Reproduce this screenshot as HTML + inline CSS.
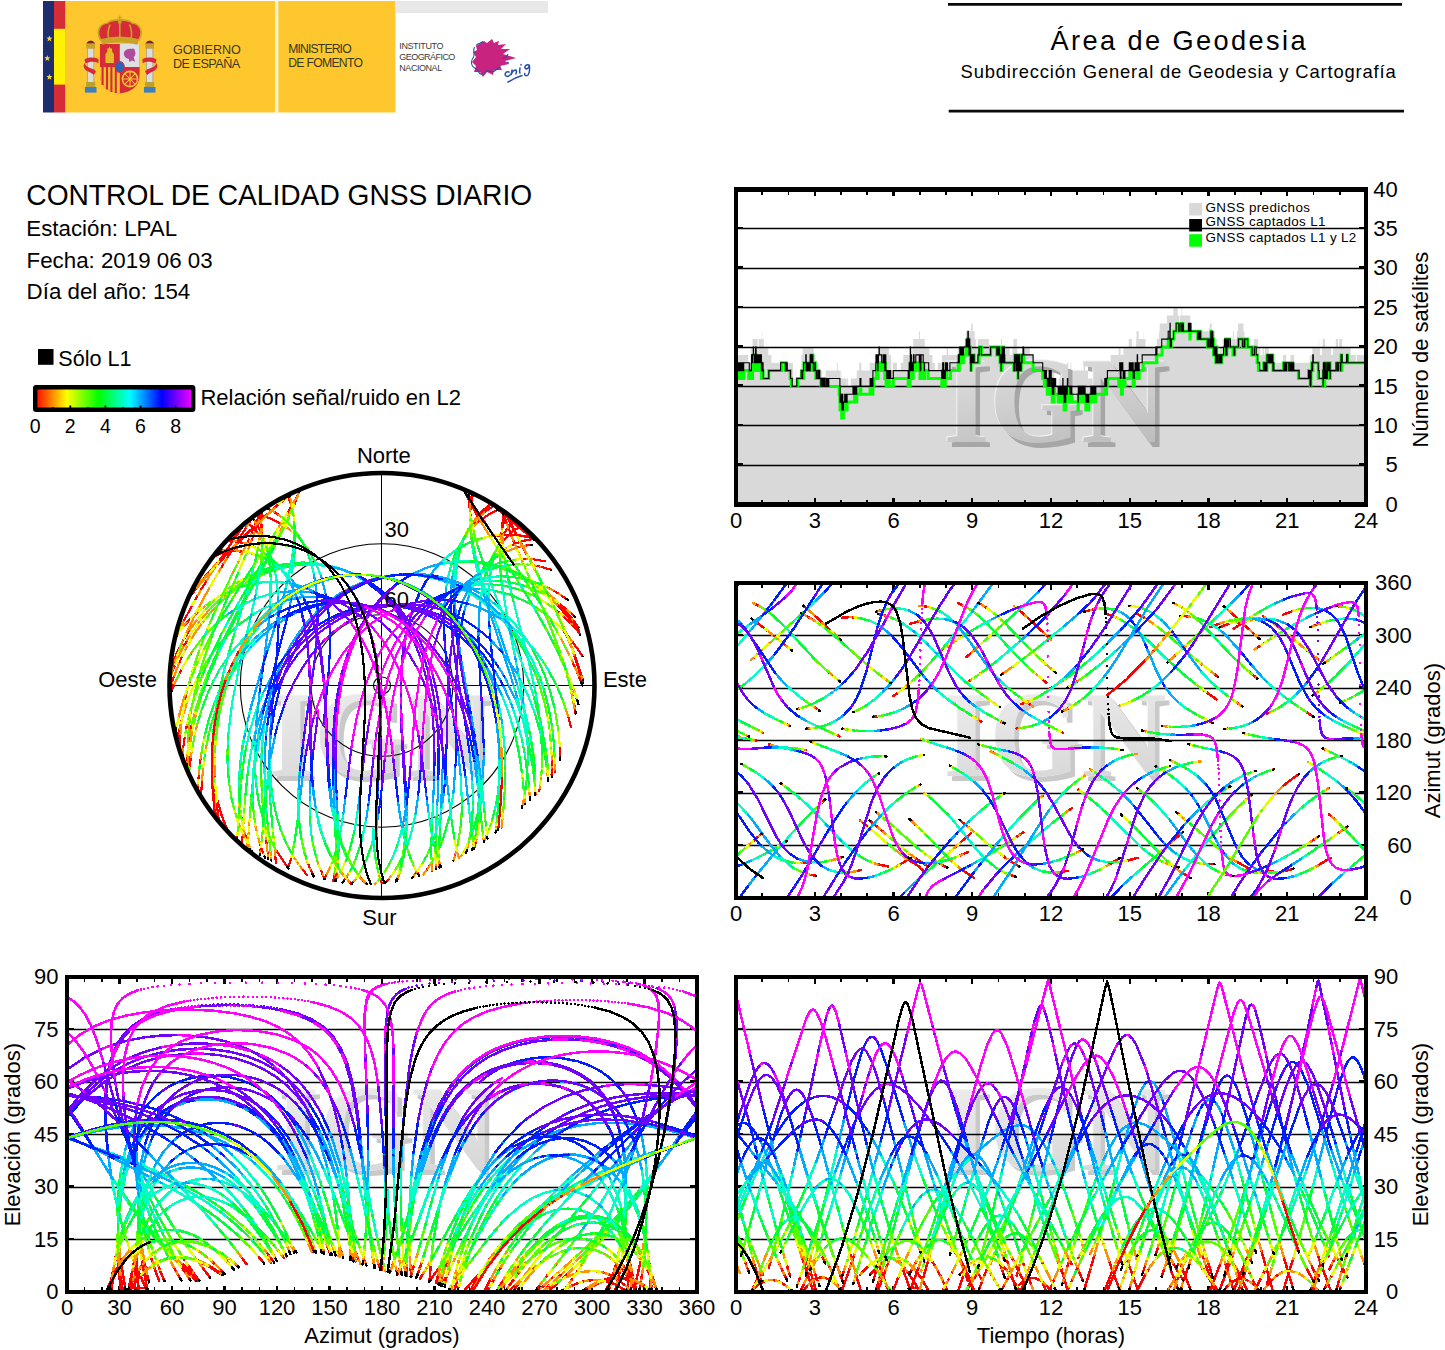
<!DOCTYPE html>
<html lang="es"><head><meta charset="utf-8"><title>Control de calidad GNSS diario - LPAL</title>
<style>
html,body{margin:0;padding:0;background:#fff}
body{width:1445px;height:1350px;position:relative;overflow:hidden;font-family:"Liberation Sans",sans-serif;color:#000}
svg{position:absolute;left:0;top:0}
.t{position:absolute;white-space:nowrap;line-height:1;font-family:"Liberation Sans",sans-serif}
</style></head><body>
<svg width="1445" height="1350" viewBox="0 0 1445 1350">
<defs><linearGradient id="wmg" x1="0" y1="0" x2="0.25" y2="1"><stop offset="0" stop-color="#e6e6e6"/><stop offset="0.55" stop-color="#d0d0d0"/><stop offset="1" stop-color="#bcbcbc"/></linearGradient><linearGradient id="wmw" x1="0" y1="0" x2="0.25" y2="1"><stop offset="0" stop-color="#f1f1f1"/><stop offset="0.55" stop-color="#e2e2e2"/><stop offset="1" stop-color="#d6d6d6"/></linearGradient><linearGradient id="rb" x1="0" y1="0" x2="1" y2="0"><stop offset="0.0" stop-color="#ff0000"/><stop offset="0.1" stop-color="#ff8000"/><stop offset="0.2" stop-color="#ffff00"/><stop offset="0.3" stop-color="#80ff00"/><stop offset="0.4" stop-color="#00ff00"/><stop offset="0.5" stop-color="#00ff80"/><stop offset="0.6" stop-color="#00ffff"/><stop offset="0.7" stop-color="#0080ff"/><stop offset="0.8" stop-color="#0000ff"/><stop offset="0.9" stop-color="#8000ff"/><stop offset="1.0" stop-color="#ff00ff"/></linearGradient></defs>
<path d="M736 354.9H748.2V362.8H750.7V347H752.6V339.1H757.7V347H758.8V339.1H761.8V331.2H762.2V339.1H763.8V347H768.4V354.9H771.4V362.8H792.9V370.6H793.3V378.5H795.1V370.6H795.5V378.5H800.5V370.6H801.2V362.8H801.4V354.9H802.7V347H813.7V354.9H815.6V362.8H816.5V370.6H822V378.5H825.7V370.6H836.8V362.8H837.7V370.6H840.6V378.5H841.7V370.6H842.1V378.5H846.7V386.4H847.1V378.5H848.2V386.4H850.8V378.5H856.8V370.6H859.2V362.8H861.3V370.6H869.7V362.8H875.3V354.9H877.8V347H888.9V354.9H891.1V362.8H891.3V370.6H892.8V362.8H897V370.6H900.7V362.8H903.3V354.9H909.7V347H911.2V354.9H912.3V347H913.2V339.1H919.1V331.2H920V339.1H924.8V347H929.4V354.9H932.4V362.8H934.8V370.6H937.7V362.8H942.1V354.9H946.7V347H948.2V354.9H957.8V347H965.7V339.1H965.9V331.2H971.2V323.4H972.7V331.2H974.7V339.1H975.8V347H977.9V339.1H988.9V347H1000.9V339.1H1002V347H1009.7V354.9H1012.3V347H1013.4V339.1H1016.9V347H1017.3V354.9H1020.2V362.8H1020.8V354.9H1022.6V347H1029.8V354.9H1034.2V362.8H1046.8V370.6H1048.8V362.8H1052.1V370.6H1054.3V378.5H1056.5V386.4H1058.7V378.5H1060V370.6H1067V362.8H1068.3V370.6H1070.5V362.8H1071.3V370.6H1083.6V362.8H1085.1V370.6H1088V378.5H1097.2V386.4H1104.4V378.5H1106.3V370.6H1107V362.8H1110.7V354.9H1118.6V347H1120.6V354.9H1123.4V347H1128.7V339.1H1131.9V347H1136.1V339.1H1136.5V331.2H1138.7V339.1H1143.3V331.2H1143.5V339.1H1145.5V347H1156.7V339.1H1159.1V331.2H1159.7V323.4H1166.9V315.5H1173.3V307.6H1177.7V315.5H1179.2V323.4H1179.8V315.5H1181.6V307.6H1182.2V315.5H1190.3V323.4H1191.4V331.2H1209.6V323.4H1211.8V331.2H1215.1V339.1H1217.5V347H1217.7V354.9H1220.1V347H1222.7V339.1H1233.2V331.2H1234.1V339.1H1236.9V331.2H1238V323.4H1243.5V331.2H1244.4V339.1H1248.1V347H1253.8V339.1H1258.2V347H1260.3V354.9H1262.5V347H1263.8V354.9H1264.7V347H1268.7V354.9H1273.2V362.8H1282.9V354.9H1286.2V362.8H1290.5V354.9H1294.2V362.8H1309.8V354.9H1310.9V362.8H1311.1V354.9H1312.4V347H1318.8V339.1H1319.2V347H1320.1V354.9H1321.8V347H1322.7V339.1H1325.1V347H1331.2V354.9H1333V347H1335.8V339.1H1338V347H1339.3V339.1H1342.2V347H1350.7V354.9H1355.7V362.8H1356.8V354.9H1366V504.5H736Z" fill="#d9d9d9"/>
<g font-family="Liberation Serif,serif" font-weight="bold" font-size="118" aria-hidden="true" transform="translate(0,442) scale(1,1.035) translate(0,-442)"><text x="948.1" y="446.6" fill="#a6a6a6">IGN</text><text x="942.6" y="441.1" fill="#f2f2f2">IGN</text><text x="943.5" y="442" fill="url(#wmg)">IGN</text></g>
<g shape-rendering="crispEdges"><path d="M736,465.5H1366M736,425.5H1366M736,386.5H1366M736,347.5H1366M736,307.5H1366M736,268.5H1366M736,228.5H1366" stroke="#000" stroke-width="1.3" fill="none" shape-rendering="auto"/><rect x="736" y="189.5" width="630" height="315.0" fill="none" stroke="#000" stroke-width="4.4"/><path d="M762.2,189.5v5M762.2,504.5v-5M788.5,189.5v5M788.5,504.5v-5M841.0,189.5v5M841.0,504.5v-5M867.2,189.5v5M867.2,504.5v-5M919.8,189.5v5M919.8,504.5v-5M946.0,189.5v5M946.0,504.5v-5M998.5,189.5v5M998.5,504.5v-5M1024.8,189.5v5M1024.8,504.5v-5M1077.2,189.5v5M1077.2,504.5v-5M1103.5,189.5v5M1103.5,504.5v-5M1156.0,189.5v5M1156.0,504.5v-5M1182.2,189.5v5M1182.2,504.5v-5M1234.8,189.5v5M1234.8,504.5v-5M1261.0,189.5v5M1261.0,504.5v-5M1313.5,189.5v5M1313.5,504.5v-5M1339.8,189.5v5M1339.8,504.5v-5" stroke="#000" stroke-width="1.8" fill="none"/><path d="M814.8,189.5v6.5M814.8,504.5v-6.5M893.5,189.5v6.5M893.5,504.5v-6.5M972.2,189.5v6.5M972.2,504.5v-6.5M1051.0,189.5v6.5M1051.0,504.5v-6.5M1129.8,189.5v6.5M1129.8,504.5v-6.5M1208.5,189.5v6.5M1208.5,504.5v-6.5M1287.2,189.5v6.5M1287.2,504.5v-6.5M736,464.3h7M1366,464.3h-7M736,424.9h7M1366,424.9h-7M736,385.6h7M1366,385.6h-7M736,346.2h7M1366,346.2h-7M736,306.8h7M1366,306.8h-7M736,267.4h7M1366,267.4h-7M736,228.1h7M1366,228.1h-7" stroke="#000" stroke-width="2.4" fill="none"/></g>
<path d="M736 370.6H736.7V378.5H737.3V370.6H737.5V378.5H738.2V370.6H738.4V378.5H738.6V370.6H738.8V378.5H739.3V370.6H739.5V378.5H739.7V370.6H739.9V378.5H742.3V370.6H742.8V378.5H743.2V370.6H743.4V378.5H743.7V370.6H748.7V378.5H751.3V370.6H751.8V378.5H752.2V370.6H752.4V378.5H752.6V370.6H752.8V362.8H753.3V354.9H753.5V362.8H754.4V370.6H754.8V362.8H755V370.6H755.2V362.8H755.5V354.9H755.7V362.8H755.9V354.9H756.1V370.6H756.3V362.8H756.6V370.6H756.8V362.8H757V370.6H757.2V362.8H757.4V370.6H757.7V362.8H757.9V370.6H758.3V362.8H759.4V370.6H759.8V362.8H760.1V370.6H760.5V362.8H760.7V370.6H760.9V362.8H761.4V378.5H761.6V370.6H761.8V378.5H762.5V370.6H763.1V378.5H768.8V370.6H781.5V362.8H785.4V370.6H785.7V362.8H786.1V370.6H790.2V378.5H791.3V386.4H797.5V378.5H801.6V370.6H802.5V378.5H802.7V370.6H803.4V378.5H803.6V370.6H804V362.8H806.2V370.6H806.7V362.8H807.3V370.6H807.5V362.8H808.2V370.6H808.4V362.8H808.6V370.6H809.1V362.8H809.5V370.6H809.7V362.8H809.9V370.6H810.2V362.8H810.6V370.6H810.8V362.8H811.2V354.9H811.9V362.8H812.3V354.9H812.8V362.8H813.4V370.6H814.8V362.8H815.4V370.6H815.8V378.5H816.5V370.6H816.7V378.5H818V370.6H818.7V378.5H820.9V386.4H821.5V378.5H821.8V386.4H822V378.5H822.2V386.4H822.4V378.5H823.3V386.4H823.7V378.5H823.9V386.4H824.4V378.5H824.6V386.4H839.2V394.2H839.9V402.1H840.1V410H841.7V417.9H842.3V410H843.2V417.9H843.4V410H844.7V402.1H845.4V410H845.6V402.1H845.8V410H846.2V402.1H846.9V410H847.1V402.1H854.6V394.2H855.4V402.1H855.7V394.2H856.1V402.1H856.3V394.2H856.5V402.1H856.8V394.2H860V386.4H860.9V394.2H870.1V386.4H870.3V394.2H870.8V386.4H871V394.2H871.2V386.4H871.4V394.2H871.8V386.4H872.1V394.2H872.3V386.4H872.7V394.2H872.9V386.4H873.6V378.5H876.4V370.6H877.1V362.8H877.3V370.6H877.5V362.8H877.8V378.5H878V370.6H878.4V362.8H878.6V370.6H878.8V362.8H881.7V370.6H883.2V362.8H883.4V370.6H884.3V362.8H884.5V370.6H884.8V378.5H885V362.8H885.4V370.6H885.8V378.5H886.1V386.4H886.3V378.5H886.7V386.4H886.9V378.5H887.2V386.4H887.8V378.5H888.9V386.4H889.1V378.5H889.3V386.4H893.3V378.5H908.2V386.4H908.4V378.5H908.6V386.4H909.2V378.5H909.5V386.4H909.9V378.5H910.1V370.6H910.3V362.8H910.6V378.5H911V362.8H911.4V378.5H912.3V370.6H912.5V378.5H912.8V370.6H913V378.5H913.2V370.6H913.4V362.8H913.6V370.6H913.8V362.8H914.1V370.6H915.8V362.8H919.3V370.6H919.5V362.8H920V378.5H920.2V370.6H920.4V378.5H920.8V370.6H921.1V362.8H923.2V370.6H923.9V378.5H924.6V370.6H928.1V378.5H941.8V386.4H942.7V370.6H942.9V378.5H943.4V370.6H943.8V386.4H944.2V378.5H944.5V386.4H944.7V378.5H944.9V386.4H945.3V378.5H945.6V370.6H946V378.5H946.2V370.6H946.4V378.5H946.7V370.6H946.9V378.5H950.6V370.6H958.2V362.8H958.7V370.6H958.9V362.8H959.1V370.6H959.3V362.8H959.8V354.9H960.2V362.8H960.4V354.9H960.9V362.8H961.1V354.9H961.3V362.8H961.5V354.9H961.8V362.8H962.2V354.9H962.8V362.8H963.5V354.9H966.1V347H966.3V354.9H966.6V347H967.2V354.9H967.4V347H967.7V354.9H967.9V339.1H968.3V354.9H968.5V347H968.8V354.9H969.4V347H969.8V354.9H970.1V347H970.3V354.9H970.5V362.8H970.9V370.6H971.2V362.8H971.6V354.9H972.7V362.8H973.1V354.9H973.3V362.8H973.8V354.9H974.2V362.8H979V354.9H979.5V347H981.4V354.9H990.6V347H996.8V354.9H997V347H997.6V354.9H998.1V347H998.3V354.9H998.7V347H999.2V354.9H999.4V347H999.6V354.9H1000V362.8H1000.5V354.9H1000.7V362.8H1000.9V354.9H1001.1V370.6H1001.3V362.8H1001.8V370.6H1002V354.9H1003.1V362.8H1003.3V347H1003.5V362.8H1013.8V370.6H1014V362.8H1014.5V370.6H1014.7V354.9H1014.9V362.8H1015.6V370.6H1016V362.8H1016.2V370.6H1016.4V362.8H1016.7V354.9H1016.9V362.8H1017.3V354.9H1017.5V370.6H1018V378.5H1018.2V362.8H1018.4V370.6H1018.6V354.9H1018.8V362.8H1019.1V354.9H1019.5V362.8H1019.7V370.6H1020.4V362.8H1020.8V370.6H1021.2V362.8H1021.5V354.9H1021.7V362.8H1022.1V354.9H1023.7V362.8H1033.1V370.6H1042.7V378.5H1044.4V386.4H1044.9V378.5H1045.8V386.4H1046.2V378.5H1046.4V386.4H1047.3V394.2H1047.5V386.4H1047.7V394.2H1048.6V386.4H1048.8V394.2H1049V386.4H1049.2V378.5H1049.5V394.2H1049.9V378.5H1050.1V386.4H1050.6V378.5H1050.8V386.4H1051V378.5H1051.2V394.2H1051.4V386.4H1051.7V394.2H1051.9V386.4H1052.3V402.1H1052.5V394.2H1053.2V386.4H1053.6V402.1H1053.8V394.2H1054.3V386.4H1054.5V394.2H1058.2V402.1H1058.4V394.2H1058.7V402.1H1058.9V394.2H1059.1V402.1H1060V394.2H1060.4V402.1H1061.1V394.2H1061.7V402.1H1062.4V394.2H1062.8V386.4H1063V402.1H1063.5V394.2H1063.7V402.1H1064.1V410H1064.6V394.2H1064.8V410H1065V402.1H1065.2V394.2H1065.4V410H1065.7V402.1H1066.1V394.2H1066.5V402.1H1066.8V394.2H1067V402.1H1067.2V394.2H1067.6V386.4H1067.8V394.2H1069.8V402.1H1070.5V394.2H1070.9V402.1H1071.1V394.2H1071.3V402.1H1071.6V394.2H1071.8V402.1H1078.1V410H1078.3V394.2H1078.6V402.1H1079.2V394.2H1079.7V402.1H1080.1V394.2H1080.8V402.1H1081V394.2H1081.4V402.1H1081.6V394.2H1081.8V402.1H1082.5V394.2H1082.7V402.1H1084.9V394.2H1085.1V402.1H1085.8V410H1086.2V402.1H1086.7V410H1087.8V402.1H1088.4V410H1088.8V402.1H1090.8V394.2H1091.7V402.1H1092.6V394.2H1092.8V402.1H1093.2V394.2H1093.4V402.1H1093.9V394.2H1094.3V402.1H1094.5V394.2H1094.8V402.1H1095V394.2H1095.6V402.1H1095.8V394.2H1105.2V386.4H1105.9V394.2H1106.6V386.4H1107.4V378.5H1118.8V386.4H1119.7V378.5H1120.3V386.4H1120.6V378.5H1120.8V386.4H1121V378.5H1121.2V386.4H1121.4V394.2H1121.7V386.4H1122.1V394.2H1122.3V386.4H1122.5V378.5H1123.2V386.4H1123.4V378.5H1123.8V386.4H1124.3V378.5H1124.7V386.4H1124.9V378.5H1129.8V370.6H1130V378.5H1130.2V370.6H1130.4V378.5H1130.6V370.6H1130.8V378.5H1131.1V370.6H1131.3V378.5H1131.7V370.6H1132.4V378.5H1133V370.6H1133.2V386.4H1133.5V378.5H1134.1V386.4H1134.3V378.5H1135V370.6H1135.4V378.5H1135.7V370.6H1135.9V378.5H1136.1V370.6H1136.5V378.5H1136.8V370.6H1137.6V378.5H1137.8V370.6H1138.3V378.5H1138.5V370.6H1138.7V378.5H1139.2V370.6H1143.1V362.8H1156.4V354.9H1156.7V362.8H1156.9V354.9H1162.1V347H1168.2V339.1H1170V347H1170.4V339.1H1170.7V347H1171.3V339.1H1173.9V331.2H1177V323.4H1177.4V331.2H1181.2V323.4H1181.6V331.2H1181.8V323.4H1182.9V331.2H1189.9V339.1H1190.1V331.2H1197.6V339.1H1197.8V331.2H1198.4V339.1H1198.7V331.2H1199.5V339.1H1200.4V331.2H1200.6V339.1H1207.4V347H1207.6V339.1H1208.1V347H1208.3V339.1H1208.5V347H1209.8V339.1H1210V347H1210.2V339.1H1210.7V347H1210.9V331.2H1211.1V339.1H1211.3V347H1211.6V339.1H1211.8V347H1212V339.1H1212.2V347H1212.7V339.1H1212.9V347H1213.3V339.1H1213.5V354.9H1213.8V347H1214.2V354.9H1214.8V347H1215.1V354.9H1215.7V362.8H1215.9V354.9H1216.2V347H1216.4V362.8H1216.6V347H1216.8V362.8H1217.5V354.9H1218.1V362.8H1220.1V354.9H1220.5V362.8H1221.4V354.9H1221.6V362.8H1221.8V354.9H1224.9V347H1225.6V339.1H1225.8V354.9H1226V347H1226.2V339.1H1226.4V354.9H1226.9V347H1227.1V339.1H1227.5V347H1227.8V339.1H1228.4V347H1228.8V339.1H1229.3V347H1233V354.9H1233.7V347H1233.9V354.9H1234.8V347H1238.5V339.1H1242.2V347H1244.2V339.1H1244.6V347H1244.8V339.1H1247.7V347H1251.6V354.9H1254.4V347H1255.1V354.9H1257.1V362.8H1258.4V370.6H1263.6V362.8H1264.1V370.6H1264.5V362.8H1264.7V370.6H1264.9V362.8H1265.4V370.6H1265.8V362.8H1266.2V370.6H1266.9V362.8H1267.1V354.9H1268.4V362.8H1269.3V354.9H1270V362.8H1270.2V354.9H1270.6V362.8H1271.1V354.9H1271.3V362.8H1271.5V354.9H1271.7V362.8H1271.9V354.9H1272.4V362.8H1272.6V354.9H1272.8V362.8H1273V370.6H1283.5V362.8H1284.6V370.6H1284.8V362.8H1285.3V370.6H1285.7V362.8H1285.9V370.6H1286.6V362.8H1288.8V370.6H1289V362.8H1289.2V370.6H1289.9V362.8H1290.8V370.6H1291V362.8H1291.4V370.6H1291.8V362.8H1292.1V370.6H1292.3V362.8H1292.5V370.6H1298.4V378.5H1308.5V370.6H1308.7V378.5H1309.1V370.6H1309.3V378.5H1310.2V386.4H1310.4V378.5H1310.7V386.4H1310.9V378.5H1311.1V370.6H1311.8V362.8H1312.4V370.6H1312.8V362.8H1318.3V378.5H1323.1V386.4H1323.3V370.6H1323.6V386.4H1324V370.6H1324.2V378.5H1324.4V386.4H1324.7V370.6H1324.9V362.8H1325.3V378.5H1325.5V370.6H1326.4V378.5H1326.8V362.8H1327.1V378.5H1327.3V370.6H1327.7V362.8H1327.9V370.6H1328.4V362.8H1328.6V370.6H1329.2V362.8H1329.5V370.6H1329.9V362.8H1330.1V378.5H1330.3V370.6H1336.7V362.8H1337.3V370.6H1337.6V362.8H1338V370.6H1338.4V362.8H1339.8V370.6H1340.2V362.8H1340.4V370.6H1340.8V362.8H1341.1V354.9H1341.5V362.8H1341.7V370.6H1341.9V362.8H1347.4V354.9H1347.6V362.8H1366" fill="none" stroke="#00ff00" stroke-width="3"/><path d="M736 362.8H736.7V370.6H737.3V362.8H737.5V370.6H738.2V362.8H738.4V370.6H738.6V362.8H738.8V370.6H739.3V362.8H739.5V370.6H739.7V362.8H739.9V370.6H741V362.8H741.2V370.6H741.5V362.8H741.7V370.6H741.9V362.8H742.1V370.6H742.3V362.8H742.8V370.6H743.2V362.8H743.4V370.6H743.7V362.8H749.3V370.6H751.3V362.8H751.5V354.9H751.8V362.8H752.2V354.9H752.4V362.8H752.6V354.9H753.3V347H753.5V354.9H754.4V362.8H754.8V354.9H755V362.8H755.2V354.9H755.5V347H755.7V354.9H755.9V347H756.1V362.8H756.3V354.9H756.6V362.8H756.8V354.9H757V362.8H757.2V354.9H757.4V362.8H757.7V354.9H757.9V362.8H758.3V354.9H759.4V362.8H759.8V354.9H760.1V362.8H760.5V354.9H760.7V362.8H760.9V354.9H761.4V370.6H761.6V362.8H761.8V370.6H762.5V362.8H763.1V370.6H763.3V378.5H768.8V370.6H780.6V362.8H785.4V370.6H785.7V362.8H786.1V370.6H786.8V362.8H787.2V370.6H790.5V378.5H792.2V386.4H796.8V378.5H801.2V370.6H802.5V378.5H802.7V370.6H803.6V362.8H805.8V354.9H806.2V370.6H806.4V362.8H807.3V370.6H807.5V362.8H808.2V370.6H808.4V362.8H808.6V370.6H809.1V362.8H809.5V370.6H809.7V362.8H809.9V370.6H810.2V354.9H810.6V362.8H810.8V354.9H811V362.8H811.2V354.9H811.9V362.8H812.3V354.9H812.8V362.8H813.4V370.6H814.8V362.8H815.4V370.6H816.3V378.5H816.5V370.6H816.7V378.5H818V370.6H818.7V378.5H819.3V370.6H819.8V378.5H820.9V386.4H821.5V378.5H821.8V386.4H822V378.5H822.2V386.4H822.4V378.5H823.3V386.4H823.7V378.5H823.9V386.4H824.4V378.5H824.6V386.4H824.8V378.5H825.2V386.4H826.6V378.5H827V386.4H827.7V378.5H828.5V386.4H828.8V378.5H839.9V386.4H840.1V402.1H840.6V394.2H840.8V402.1H841V394.2H841.2V402.1H841.7V410H842.3V394.2H842.8V402.1H843.2V410H843.4V402.1H844.7V394.2H845.4V402.1H845.6V394.2H845.8V402.1H846.2V394.2H846.9V402.1H847.1V394.2H853V386.4H853.2V394.2H853.5V386.4H853.7V394.2H854.6V386.4H855.4V394.2H855.7V386.4H856.1V394.2H856.3V386.4H856.5V394.2H856.8V386.4H860V378.5H860.9V386.4H870.1V378.5H870.3V386.4H870.8V378.5H871V386.4H871.2V378.5H871.4V386.4H871.8V378.5H872.1V386.4H872.3V378.5H872.7V386.4H872.9V370.6H875.8V362.8H876V354.9H876.4V362.8H877.1V354.9H877.3V362.8H877.5V354.9H877.8V370.6H878V354.9H878.2V362.8H878.4V354.9H879.1V347H879.3V354.9H881.7V362.8H883.2V354.9H883.4V362.8H884.3V354.9H884.5V362.8H884.8V370.6H885V354.9H885.4V362.8H885.6V354.9H885.8V370.6H886.7V378.5H886.9V370.6H887.2V378.5H887.8V370.6H888.9V378.5H889.1V370.6H889.3V378.5H890.4V370.6H890.7V378.5H893.3V370.6H908.2V378.5H908.4V370.6H908.6V378.5H908.8V370.6H909V378.5H909.2V362.8H909.5V370.6H910.1V362.8H910.3V347H910.6V370.6H911V354.9H911.4V370.6H912.3V362.8H912.5V370.6H912.8V362.8H913V370.6H913.2V362.8H913.4V354.9H913.6V362.8H913.8V354.9H914.1V362.8H915.8V354.9H919.3V362.8H919.5V354.9H920V370.6H920.2V362.8H920.6V370.6H920.8V362.8H921.1V354.9H923.2V362.8H924.3V370.6H924.6V362.8H928.7V370.6H941.8V378.5H942.7V362.8H942.9V370.6H943.4V362.8H943.8V378.5H944.2V370.6H944.5V378.5H944.7V370.6H944.9V378.5H945.3V370.6H945.6V362.8H946V370.6H946.2V362.8H946.4V370.6H946.7V362.8H946.9V370.6H947.1V362.8H947.5V370.6H949.9V362.8H958.2V354.9H958.7V362.8H958.9V354.9H959.1V362.8H959.3V354.9H959.8V347H960.2V354.9H960.4V347H960.9V354.9H961.1V347H961.3V354.9H961.5V347H961.8V354.9H962.2V347H962.8V354.9H963.5V347H966.1V339.1H966.3V347H966.6V339.1H967.2V347H967.4V339.1H967.7V347H967.9V331.2H968.3V347H968.5V339.1H968.8V347H969V354.9H969.2V347H969.4V339.1H969.8V347H970.3V354.9H970.5V362.8H970.9V370.6H971.2V362.8H971.6V354.9H972.7V362.8H973.1V354.9H973.3V362.8H973.8V354.9H974.2V362.8H977.9V354.9H979V347H979.2V354.9H979.5V347H981.4V354.9H990.6V347H996.8V354.9H997V347H997.6V354.9H998.1V347H998.3V354.9H998.7V347H999.2V354.9H999.4V347H999.6V354.9H1000V362.8H1000.5V354.9H1000.7V362.8H1000.9V354.9H1001.1V370.6H1001.3V354.9H1001.8V362.8H1002V347H1002.2V354.9H1003.1V362.8H1003.3V347H1003.5V354.9H1003.8V362.8H1004.2V347H1004.4V354.9H1004.8V362.8H1013.8V370.6H1014V362.8H1014.5V370.6H1014.7V354.9H1014.9V362.8H1015.1V354.9H1015.6V362.8H1016.2V370.6H1016.4V362.8H1016.7V354.9H1016.9V362.8H1017.3V354.9H1017.5V370.6H1018V378.5H1018.2V362.8H1018.4V370.6H1018.6V354.9H1018.8V362.8H1019.1V354.9H1019.7V370.6H1020.4V362.8H1020.8V370.6H1021.2V362.8H1021.5V354.9H1021.7V362.8H1022.1V354.9H1023V347H1023.7V354.9H1033.1V362.8H1042.7V370.6H1044.4V378.5H1044.9V370.6H1045.8V378.5H1046.2V370.6H1046.4V378.5H1047.3V386.4H1047.5V378.5H1047.7V386.4H1048.6V378.5H1048.8V386.4H1049V378.5H1049.2V370.6H1049.5V386.4H1049.9V370.6H1050.1V378.5H1050.6V370.6H1050.8V378.5H1051V370.6H1051.2V386.4H1051.4V378.5H1051.7V386.4H1051.9V378.5H1052.3V394.2H1052.5V386.4H1053.2V378.5H1053.6V394.2H1053.8V386.4H1054.3V378.5H1054.5V386.4H1054.9V378.5H1055.6V386.4H1058.2V394.2H1058.4V386.4H1058.7V394.2H1058.9V386.4H1059.1V394.2H1060V386.4H1060.4V394.2H1061.1V386.4H1061.7V394.2H1062.2V386.4H1062.8V378.5H1063V394.2H1063.5V386.4H1063.7V394.2H1064.1V402.1H1064.6V386.4H1064.8V402.1H1065V394.2H1065.2V386.4H1065.4V402.1H1065.7V394.2H1066.1V386.4H1066.5V394.2H1066.8V386.4H1067V394.2H1067.2V386.4H1067.4V378.5H1067.8V386.4H1069.8V394.2H1070.5V386.4H1070.9V394.2H1071.1V386.4H1071.3V394.2H1071.6V386.4H1071.8V394.2H1078.1V402.1H1078.3V386.4H1078.6V394.2H1079.2V386.4H1079.7V394.2H1080.1V386.4H1080.8V394.2H1081V386.4H1081.4V394.2H1081.6V386.4H1081.8V394.2H1082.5V386.4H1082.7V394.2H1082.9V386.4H1083.2V394.2H1084V386.4H1084.2V394.2H1084.5V386.4H1084.7V394.2H1084.9V386.4H1085.1V394.2H1085.8V402.1H1086.2V394.2H1086.7V402.1H1087.8V394.2H1088.4V402.1H1088.8V394.2H1090.8V386.4H1091.7V394.2H1092.6V386.4H1092.8V394.2H1093.2V386.4H1093.4V394.2H1093.9V386.4H1094.3V394.2H1094.5V386.4H1094.8V394.2H1095V386.4H1095.6V394.2H1095.8V386.4H1104.8V378.5H1105.9V386.4H1106.6V378.5H1107.4V370.6H1119.7V362.8H1120.1V370.6H1120.3V378.5H1120.6V370.6H1120.8V378.5H1121V362.8H1121.2V370.6H1121.7V362.8H1122.1V370.6H1122.5V362.8H1122.8V370.6H1123.2V378.5H1123.4V370.6H1123.8V378.5H1124.3V370.6H1124.7V378.5H1124.9V370.6H1129.3V362.8H1129.5V370.6H1129.8V362.8H1130V370.6H1130.2V362.8H1130.4V370.6H1130.6V362.8H1130.8V370.6H1131.1V362.8H1131.3V370.6H1131.7V362.8H1132.4V370.6H1133V362.8H1133.2V378.5H1133.5V370.6H1134.1V378.5H1134.3V370.6H1135V362.8H1135.4V370.6H1135.7V362.8H1135.9V370.6H1136.1V362.8H1136.5V370.6H1136.8V362.8H1137.2V354.9H1137.6V370.6H1137.8V362.8H1138.3V370.6H1138.5V362.8H1138.7V370.6H1139.2V362.8H1142.2V354.9H1155.8V347H1156V354.9H1156.4V347H1156.7V354.9H1156.9V347H1161.7V339.1H1168.2V331.2H1169.8V339.1H1170V323.4H1170.2V347H1170.4V339.1H1171.1V347H1171.3V339.1H1173.5V331.2H1176.1V323.4H1178.8V331.2H1180.1V323.4H1181.6V331.2H1181.8V323.4H1182.9V331.2H1183.1V323.4H1183.3V331.2H1188.4V323.4H1189.2V331.2H1189.7V323.4H1189.9V331.2H1190.1V323.4H1191V331.2H1197.6V339.1H1197.8V331.2H1198.4V339.1H1198.7V331.2H1199.5V339.1H1200.4V331.2H1200.6V339.1H1207.4V347H1207.6V339.1H1208.1V347H1208.3V339.1H1208.5V347H1209.8V339.1H1210V347H1210.2V339.1H1210.7V347H1210.9V331.2H1211.1V339.1H1211.3V347H1211.6V339.1H1212V331.2H1212.2V339.1H1212.4V347H1212.7V331.2H1212.9V347H1213.3V339.1H1213.5V354.9H1213.8V347H1214.2V354.9H1214.4V347H1214.6V354.9H1214.8V347H1215.1V354.9H1215.7V362.8H1215.9V354.9H1216.2V347H1216.4V362.8H1216.6V347H1216.8V362.8H1217.5V354.9H1218.1V362.8H1219.4V354.9H1219.7V362.8H1219.9V354.9H1220.5V362.8H1221.4V354.9H1221.6V362.8H1221.8V354.9H1223.6V347H1224.5V339.1H1224.7V347H1225.1V339.1H1225.3V347H1225.6V339.1H1225.8V354.9H1226V347H1226.2V339.1H1226.4V354.9H1226.9V347H1227.1V339.1H1227.5V347H1227.8V339.1H1228.4V347H1228.8V339.1H1230.4V347H1233.9V354.9H1234.8V347H1238.5V339.1H1242.6V347H1244.2V339.1H1244.6V347H1244.8V339.1H1247.7V347H1252.2V354.9H1254.4V347H1256.2V354.9H1257.7V362.8H1259.7V370.6H1263.6V362.8H1264.1V370.6H1264.5V362.8H1264.7V370.6H1264.9V362.8H1265.4V370.6H1265.8V362.8H1266.2V370.6H1266.9V362.8H1267.1V354.9H1268.4V362.8H1269.3V354.9H1270V362.8H1270.2V354.9H1270.6V362.8H1271.1V354.9H1271.3V362.8H1271.5V354.9H1271.7V362.8H1271.9V354.9H1272.4V362.8H1272.6V354.9H1272.8V362.8H1273V370.6H1273.2V362.8H1273.5V370.6H1273.7V362.8H1273.9V370.6H1283.5V362.8H1284.6V370.6H1284.8V362.8H1285.3V370.6H1285.7V362.8H1285.9V370.6H1286.6V362.8H1288.8V370.6H1289V362.8H1289.2V370.6H1289.9V362.8H1290.8V370.6H1291V362.8H1291.4V370.6H1291.8V362.8H1292.1V370.6H1292.3V362.8H1292.5V370.6H1292.7V362.8H1293.2V370.6H1293.4V362.8H1293.8V370.6H1299.1V378.5H1308.5V370.6H1308.7V378.5H1309.1V370.6H1309.3V378.5H1310.2V386.4H1310.4V370.6H1310.7V386.4H1310.9V378.5H1311.1V370.6H1311.8V362.8H1312.4V370.6H1312.6V362.8H1312.8V354.9H1313.3V362.8H1318.3V370.6H1319.2V378.5H1322.9V370.6H1323.1V386.4H1323.3V362.8H1323.6V378.5H1324V362.8H1324.2V370.6H1324.4V378.5H1324.7V370.6H1324.9V362.8H1325.3V378.5H1325.5V370.6H1326.4V378.5H1326.8V362.8H1327.1V378.5H1327.3V370.6H1327.7V362.8H1327.9V370.6H1328.4V362.8H1328.6V370.6H1329.2V362.8H1329.5V370.6H1329.9V362.8H1330.1V378.5H1330.3V370.6H1336V362.8H1337.3V370.6H1337.6V362.8H1338V370.6H1338.4V362.8H1340.4V370.6H1340.8V362.8H1341.1V354.9H1341.5V362.8H1341.9V354.9H1342.2V362.8H1346.5V354.9H1347.8V362.8H1366" fill="none" stroke="#000" stroke-width="1.1"/>
<rect x="736" y="189.5" width="630" height="315.0" fill="none" stroke="#000" stroke-width="4.4" shape-rendering="crispEdges"/>
<rect x="1189.2" y="203" width="12.8" height="12.5" fill="#d9d9d9"/><rect x="1189.2" y="219" width="12.8" height="12.5" fill="#000"/><rect x="1189.2" y="234.2" width="12.8" height="12.5" fill="#0f0"/>
<g font-family="Liberation Serif,serif" font-weight="bold" font-size="118" aria-hidden="true" transform="translate(0,776.5) scale(1,1.035) translate(0,-776.5)"><text x="948.1" y="781.1" fill="#c9c9c9">IGN</text><text x="942.6" y="775.6" fill="#fbfbfb">IGN</text><text x="943.5" y="776.5" fill="url(#wmw)">IGN</text></g>
<g shape-rendering="crispEdges"><path d="M736,845.5H1366M736,793.5H1366M736,740.5H1366M736,688.5H1366M736,635.5H1366" stroke="#000" stroke-width="1.3" fill="none" shape-rendering="auto"/><rect x="736" y="583" width="630" height="315" fill="none" stroke="#000" stroke-width="4.4"/><path d="M762.2,583v5M762.2,898v-5M788.5,583v5M788.5,898v-5M841.0,583v5M841.0,898v-5M867.2,583v5M867.2,898v-5M919.8,583v5M919.8,898v-5M946.0,583v5M946.0,898v-5M998.5,583v5M998.5,898v-5M1024.8,583v5M1024.8,898v-5M1077.2,583v5M1077.2,898v-5M1103.5,583v5M1103.5,898v-5M1156.0,583v5M1156.0,898v-5M1182.2,583v5M1182.2,898v-5M1234.8,583v5M1234.8,898v-5M1261.0,583v5M1261.0,898v-5M1313.5,583v5M1313.5,898v-5M1339.8,583v5M1339.8,898v-5" stroke="#000" stroke-width="1.8" fill="none"/><path d="M814.8,583v6.5M814.8,898v-6.5M893.5,583v6.5M893.5,898v-6.5M972.2,583v6.5M972.2,898v-6.5M1051.0,583v6.5M1051.0,898v-6.5M1129.8,583v6.5M1129.8,898v-6.5M1208.5,583v6.5M1208.5,898v-6.5M1287.2,583v6.5M1287.2,898v-6.5M736,844.7h7M1366,844.7h-7M736,792.2h7M1366,792.2h-7M736,739.7h7M1366,739.7h-7M736,687.2h7M1366,687.2h-7M736,634.7h7M1366,634.7h-7" stroke="#000" stroke-width="2.4" fill="none"/></g>
<g fill="none" stroke-width="2.5" stroke-linecap="round" stroke-linejoin="round" shape-rendering="crispEdges"><path stroke="#ff0000" d="M779.1 845.7l.4-.2M781.1 844.6l1.9-1.2M784.1 842.7l1.8-1.1M1243.9 733.2l.7 .2M1340.4 702.4l.9-.3M910.1 623.8l8.6-2.5M1058 730.2l.7 .3M1060.6 731.6l2.4 1.2M1177 812.8l2.4 1.9M1181.4 816.3l.4 .4M1230.8 858l1.1 .7M1233.9 860l1.5 1M1236.3 861.6l11.1 6M798.6 708.7l1.5-.4M835.8 859.3l1.5-.5M840.1 857.9l2-.6M1137 613.7l8.5 4.8M1147.5 619.7l1.5 1M1201.7 664.2l1.5 1.2M1214 673.9l3.9 3M1324.4 749.2l.9 .4M942.5 649.6l1.5-1.1M947.8 646l1.5-1M951.2 643.7l1.6-1M954.8 641.4l.4-.3M1121 749.9l.2 0M802.1 863.1l11.1-1M1105.2 613.5l7 2.4M1202.8 689.5l1.5 1.1M1206.3 692.1l10.3 7.4M877.5 864.3l10.7 2.2M1181.8 616l.4 0M1183.6 616.1l4.6 .3M1306.5 712.1l6.1 4M842.8 728.7l1.3 .3M1012.1 839.8l1.5-1M1015.6 837.5l3.2-2.3M1019.5 834.8l3.9-2.7M873.6 716.7l4.4-.5M1068.1 810.9l3.5-2.6M1002.2 674.1l2.4-1.7M1006.6 671.1l1.5-1.1M811 741.7l1.6 .7M958.9 855.9l1.5-.6M961.5 854.8l.7-.2M962.8 854.3l5.3-2.4M1263.2 616.2l1.5 1M1266.7 618.5l6.8 4.8M1275.4 624.8l3.3 2.5M1280.7 628.9l1.5 1.2M1306.9 650.4l1.6 1.2M1313.9 656l1.6 1.3M1317.4 658.8l.7 .5M967.9 681.9l3.3-2.1M1067.6 687.5l1.3-.8M1070.9 685.5l1.5-1M1076.2 682.2l1.5-1M752.8 619.6l12.5 9.4M767.3 630.6l.4 .3M772.5 634.8l3.3 2.7M777.8 639.1l1.5 1.2M781.3 641.9l5 4.1M1076.8 852.4l1.5-.8M1078.8 851.4l3.7-1.9M736.2 735l1.3 .6M860 820.4l.5 .3M861.8 821.8l6.8 5.6M903.8 856.5l1.5 1.1M907.3 859l12 7.7M1210 627.3l10.3-3.9M1364 734.8l2 .9M745.2 734.8l1.1 .6M746.9 735.7l1.6 .7M869.9 820.7l8.1 6.7M880.2 829.2l2.8 2.5M915.2 858l12.6 8.2M1220.1 627.1l9.6-3.7M1231.7 622.7l.9-.3M1049.2 689.1l5.1-2.9M762.2 732.3l.9 .5M876.4 812.3l1.1 .9M932 858.8l3.3 2.1M937.2 862.2l3.3 1.9M942.5 865.2l4.4 2.2M1238.5 623.7l2.4-.7M1242 622.6l3.2-.9M1249 620.7l1.1-.2M1021.2 704.2l3.3-1.2M801.6 613.6l2.6 1.3M806.2 615.9l3.3 1.8M811.5 618.9l1.5 .9M992.4 752.2l.8 .5M994.1 753.1l.5 .3M1127.1 860.7l11-3M837.3 735.3l2.4 1.2M959.8 820.1l8.3 6.8M973.6 831.5l1.5 1.4M1003.3 856.1l3.3 2.4M1010.3 861.1l9 5.5M1310.9 626.9l.9-.4M1313.7 625.7l3.3-1.2M1319 623.8l1.5-.6M1327.3 789l.2-.1M1328.4 788.4l.2-.2M802.1 749.4l.2 0M804.9 749.9l1.1 .2M1256.2 648.3l5-3.4M1263.2 643.6l1.5-1M1324.7 662.8l1.9-1.4M1330.3 658.8l1.6-1.1M1337.3 653.7l.3-.1M1162.1 725.9l2.2 .3M1165.2 726.3l.2 0M1337.6 833.6l2.4-1.7M1341.9 830.5l5.5-3.9M1143.1 730.9l2.2 .5M1311.1 841.4l3.9-2.5M1317 837.6l1.1-.8M878.2 614l4.6 1M883.2 615.1l2.2 .6M886.7 616.1l1.5 .5M1202.6 863.8l1.1 .1M1205.7 864.1l8.5 0M842.1 617.6l7.4-.4M850.8 617.2l3.3 .2M978.6 719.9l2.6 1.7M1078.3 789.6l.9 .6M1167.4 863.9l1.7 .7M1171.1 865.3l6.1 1.7M806 873.6l1.5 .5M809.5 874.6l6.1 1.1M1084.9 611.5l5.7-1.5M1091 609.9l3.3-.7M1208.1 720.7l3.5 1.9M1329.2 814.5l2.5 2.1M1332.8 817.6l1.5 1.4M966.6 657l5-4.5M973.6 650.7l3.2-3M1135.9 754l.2-.1M893.3 696.2l5-3.6M905.5 686.8l.3-.2M1042 796.3l.5-.4M806.7 728.7l2.6-.2M954.8 847.6l1.3-1.2M959.8 843.1l11.4-10.1M1224.9 607.3l3.7 3.1M1230.6 612.2l12 11M1244.6 625l5 4.8M1251.6 631.6l3.3 3.1M768.8 744.3l1.8 .5M900.1 864.5l10.2-6.2M1173.9 603.1l.3 .1M1177 604.7l1.5 .8M1249.4 672l.9 .8M1252.2 674.4l3.3 2.7M849.5 872.3l1.6-.2M856.3 871.2l4.4-1.1M1129.8 605.8l.6 .1M1237.4 703l1.5 1.1M1241.3 705.8l.7 .4M804 606.4l4.4 3.6M813.9 614.8l8.5 7.9M824.4 624.6l6.8 6.4M833.1 632.8l.2 .2M838.4 637.7l1.5 1.4M979.7 744.7l1.3 .4M1109.2 864.5l9.4-5.6M754.8 603.9l3.7 1.8M828.8 672.1l1 1M831.8 674.8l1.5 1.2M837.3 679.3l1.3 1.1M1059.5 872.3l8.1-1.5M1336.7 606.2l2.6 .1M1341.3 606.5l1.5 .3M1344.8 607.1l.4 .1M814.8 707.5l3.2 2.2M1006.8 873.7l1.5 .6M1010.3 875l4.6 1.4M1283.3 614.6l9.6-3.6M786.8 724.4l1.5 .8M788.9 725.5l1.1 .5M910.8 820.4l1.3 1.2M913 822.4l.2 .2M914.7 824l1.3 1.2M960.2 868.5l13.8 9.5M1233.7 628.9l13.7-9.7M754.2 740.1l1.7 .4M909.9 858.7l13.1 11.9M1167.6 662.3l1.1-1M1169.1 660.9l1.6-1.4M1174.4 656.1l1.5-1.4M1063.7 710.7l.6-.3M1067.2 708.9l1.5-.8M1247.4 798.4l1.6-1.3M1249.6 796.5l1.8-1.5M1016.7 728.3l2.4-.2M1173.3 840.6l9.6-8.6M1267.1 713.5l2.4-1M821.8 802.6l2.6-2.4M1226.2 728.8l1.6-.1M753.5 840.8l5-4.5M759.2 835.7l2.2-1.9M1017.8 609l6.7 5.9M1026.5 616.7l17.3 16.2M1045.8 634.7l5 4.7M1189.5 744.4l.4 .1M1317.9 865.5l12.7-7.6M958.2 603.1l5.1 2.4M1042.2 679.3l4 3.2M1156 766.5l2 1.2M1261.4 872.6l11.4-1.6M923 606.1l5.1 .9M1023 699.5l1.3 1M1028 703.1l3.3 2.3M1225.3 874.2l2.7 .7M1229.9 875.4l2.9 .5M876.4 611.6l2.2-.6M879.3 610.8l1.5-.4M884.5 609.5l.3 0M1000 720.9l1.6 .8M1002 721.9l1.3 .7M1122.3 815.7l.2 .2M1180.5 871.9l9 5.5M753.1 658.2l1.5-1.4M760.1 651.9l1.5-1.4M922.8 755l.9-.1M1312.8 695.3l1.4-1M1317.9 691.5l1.5-1.1M1323.1 687.4l1.1-1M979.5 603.4l2.4 1.4M983.8 605.9l3.3 2.2M1041.8 660.6l1.3 1.2M1171.8 760.8l.4 .2M1283.8 871.4l8.7-2.4M920.2 784.7h0M739.3 736.4h0M913.2 856.5h0M760.3 731.3h0M1250.7 620.4h0M1229.1 787h0M815 621.1h0M1008.3 859.7h0M991.5 701.3h0M995 703.8h0M1090.2 769.4h0M1137.2 753.8h0M1083.8 776.3h0M1084.9 775.6h0M772.3 745.3h0M742.8 764.7h0M1295.6 610.2h0M1183.1 648.1h0M1340.4 756.1h0M965.2 606.6h0"/><path stroke="#ff8e00" d="M778 846.4l.9-.5M779.8 845.3l1-.6M783.2 843.2l.7-.4M1244.8 733.4l1.1 .3M917.3 786.2l2.7-1.4M1346.8 699.8l.8-.4M1352 697.3l.9-.4M918.9 621.2l1.9-.4M1057.1 729.8l.7 .3M1182 816.9l2.4 2M1184.9 819.3l1.5 1.2M1226.9 855.1l1.5 1.2M1229.7 857.2l.9 .6M1232.1 858.9l1.6 1M1235.6 861.2l.5 .2M797.5 709l.8-.2M803.8 707.2l1.5-.5M1001.8 795l1.7-1.1M829.8 860.7l5.7-1.4M837.5 858.8l2.4-.8M1145.7 618.6l.7 .4M1149.2 620.9l5 3.5M1156.2 625.8l1.1 .9M1159.7 628.5l1.5 1.2M1194.3 658l.2 .2M1200 662.7l1.5 1.3M1210.5 671.1l3.3 2.6M1323.3 748.6l.9 .5M1325.5 749.7l.5 .2M946 647.2l1.5-1M953 642.5l1.5-1M955.4 640.9l.9-.5M960 637.9l1.5-.9M1119.7 749.7l1.1 .2M798.3 863.1l.5 0M799.7 863.1l2.1 0M1112.5 616l2.4 1M1115.3 617.2l2.2 1M1308.2 762.2l.9 .6M1310 763.3l.4 .3M781.5 783.9l2.2 1.6M873.4 863l3.9 1.3M1181.2 616l.4 0M1182.5 616l.8 .1M1188.4 616.5l3.7 .5M1194.1 617.4l1.1 .3M1306.1 711.8l.2 .2M844.3 729l1.3 .3M847.6 729.6l.2 0M1011.4 840.3l.4-.3M1015.1 837.8l.2-.2M1019.1 835.1l.2-.2M1065.4 812.8l2.4-1.8M1004.8 672.3l1.6-1.1M1008.3 669.8l5.1-3.6M1197.3 761.8l3.1-.3M812.8 742.5l1.5 .6M960.7 855.2l.6-.3M962.4 854.5l.2-.1M1264.9 617.4l1.6 1M1273.7 623.5l1.5 1.1M1278.9 627.5l1.6 1.2M1282.4 630.2l1.6 1.3M1285.9 633.1l.5 .3M1289.4 635.9l6.8 5.6M1298.2 643.2l6.8 5.6M1312.2 654.6l1.5 1.3M1315.7 657.4l1.5 1.3M971.4 679.7l1.5-1.1M980.1 673.6l1.6-1.1M1069.2 686.5l.2-.1M1072.7 684.4l1.5-1M1077.9 681l1.5-1M1272.2 769.9l.8-.3M767.9 631.1l4.4 3.5M776 637.6l1.6 1.3M786.5 646.2l1.6 1.2M790 649l1.1 .9M921.1 738.8l.8 .3M924.6 740.1l.2 .1M1075.3 853.1l1.3-.6M737.8 735.7l1.3 .6M739.5 736.5l.2 .1M860.7 820.9l.9 .7M870.5 829l1.6 1.3M886.3 842.5l1.5 1.3M891.5 846.9l1.6 1.2M895 849.7l5.1 4M902 855.2l1.6 1.2M905.5 857.8l1.6 1.1M1220.5 623.3l5.1-1.6M1227.5 621.2l.9-.3M1361.2 733.5l2.6 1.2M744.8 734.6l.2 .1M746.5 735.5l.2 .1M878.2 827.6l1.7 1.5M883.2 831.8l3.7 3.2M899.4 845.6l1.5 1.3M906.4 851.3l1.5 1.2M909 853.4l4 3M913.4 856.7l1.5 1.1M1229.9 623.3l.3-.1M1232.8 622.4l1.1-.4M1054.5 686l4.4-2.7M1065 679.2l1.5-1.1M757 729.6l3.1 1.6M760.7 731.5l1.3 .7M877.8 813.3l4.5 3.8M927 855.2l1.3 1M935.5 861.1l1.5 .9M940.8 864.2l1.5 .8M1241.1 622.9l.7-.2M1245.5 621.6l1.5-.4M1250.3 620.4l.2 0M1250.9 620.3l3.1-.6M1024.8 702.9l4.8-1.9M1227.5 787.9l1.3-.7M804.5 615l1.5 .8M809.7 617.8l1.5 .9M813.2 619.9l1.6 1M815.2 621.2l1.3 .9M871 667.9l1.5 1.2M876.2 672.1l1.6 1.2M879.7 674.8l3.3 2.6M885 678.9l3.2 2.5M990.6 751.3l1.6 .8M993.5 752.8l.4 .2M994.8 753.5l.9 .4M1123.6 861.3l1.6-.3M835.8 734.6l1.3 .6M968.3 827.1l.9 .7M970.1 828.6l3.2 2.8M982.3 839l.5 .4M996.3 850.7l1.5 1.2M999.8 853.5l1.5 1.2M1006.8 858.7l1.3 .9M1312 626.5l1.5-.7M1317.2 624.4l1.6-.6M1320.7 623.2l.7-.2M1119.5 705.7l1.5-.5M1123 704.6l1.1-.4M1124.7 703.9l1.5-.5M1128.2 702.6l1.6-.7M1325.3 790.2l1.8-1.1M1327.7 788.8l.5-.3M800.8 749.2l1 .2M803.4 749.6l1.3 .3M1254.4 649.5l1.6-1M1266.7 641.3l1.5-1M1270.2 639l1.5-1M883.2 756.2l2 .1M1326.8 661.3l1.6-1.1M1337.8 653.4l1.1-.8M1164.5 726.2l.5 .1M1165.6 726.3l2.9 .3M1336.7 834.3l.6-.5M1340.2 831.8l1.5-1.1M1145.5 731.4l1.5 .3M1308.7 843l2.2-1.4M1315.2 838.7l1.6-1M885.6 615.8l.9 .2M888.5 616.7l1.3 .4M990 700.2l1.3 .9M993.5 702.7l1.3 .9M997 705.1l1.5 1.1M1090.4 769.6l2.6 1.7M1202.2 863.8l.2 0M1203.9 863.9l1.5 .2M849.8 617.2l.8 0M854.3 617.4l.3 0M973.6 716.7l1.3 .9M975.3 717.8l1.3 .9M977.1 718.9l1.3 .9M1079.4 790.4l.9 .6M1081.8 792.2l1.1 .8M1164.1 862.5l3.1 1.3M1170 864.9l.9 .3M808.4 874.3l.9 .3M1094.5 609.2l3.3-.5M1203.7 718.4l.9 .4M1206.5 719.9l1.3 .7M1331.9 816.8l.6 .6M1334.5 819.2l1.5 1.4M971.8 652.3l1.5-1.4M977.1 647.5l3.2-3M1133.2 754.4l2.5-.4M1136.3 753.9l.7-.1M906 686.4l2.8-2.4M910.8 682.2l.2-.2M1082.3 777.3l1.3-.9M1084 776.1l.7-.4M853.7 712l.6-.3M854.8 711.5l1.5-.7M1040.3 797.8l1.5-1.3M809.5 728.5l1.7-.2M812.8 728.1l.4 0M949.9 851.8l.9-.8M952.8 849.3l1.7-1.5M956.3 846.2l1.5-1.3M958.9 843.9l.7-.6M1228.8 610.6l1.6 1.4M1242.8 623.4l1.6 1.4M1249.8 630l1.6 1.4M1255.1 634.9l3.1 2.8M770.8 744.9l1.3 .3M772.5 745.4l1.1 .3M894.8 867.3l3.3-1.7M899.2 865l.6-.4M1174.4 603.4l2.4 1.2M1180.5 606.6l2.8 1.8M1185.8 610l3.2 2.5M1246.1 669.2l.7 .5M1248.8 671.5l.4 .3M1255.8 677.3l1 .9M742.3 764.4l.3 .2M743 764.8l1.3 .8M851.3 872.1l4.8-.9M1130.6 605.9l1.8 .2M1134.1 606.3l.7 .1M1229.9 697.6l.3 .2M1235.6 701.7l1.6 1.1M1239.1 704.2l2 1.4M808.6 610.2l5.1 4.5M822.6 622.9l1.6 1.5M833.6 633.2l4.6 4.3M979 744.6l.5 .1M1103.1 867.8l.6-.3M1105 866.8l4-2.1M753.1 603.1l1.5 .7M758.8 605.8l1 .6M763.6 608.7l3.2 2.2M825.5 669.3l.8 .7M828.3 671.8l.2 .2M830.1 673.3l1.5 1.3M836.6 678.8l.5 .3M838.8 680.5l.2 .2M951.7 766.7l.9 .5M1056.9 872.5l2.4-.2M1339.5 606.4l1.6 .1M1345.4 607.2l.9 .2M809.5 703.9l1.5 1M813 706.3l1.5 1M924.6 793.1l.6 .5M1004.2 872.5l.6 .3M1008.6 874.4l1.5 .6M1293.2 610.9l.4-.1M1295.8 610.1l2-.5M783.2 722.7l1.6 .7M788.5 725.3l.2 .1M912.3 821.8l.5 .4M913.4 822.8l1.1 1M916.2 825.4l.7 .6M918.2 827.3l1.6 1.5M921.7 830.7l1.5 1.5M949.7 859.1l3.3 3.1M956.9 865.7l3.1 2.6M1247.7 619.1l3.2-2.1M752.4 739.7l1.5 .3M1170.9 659.3l3.3-3M1177.9 652.9l1.5-1.4M1181.4 649.7l1.5-1.4M1183.3 647.9l2.9-2.6M1186.6 644.9l.7-.6M1190.1 641.6l1.6-1.4M1338.9 756.5l1.3-.3M1340.6 756.1l.7-.1M1062.6 711.2l.9-.4M1064.6 710.3l2.4-1.2M1068.9 708l.7-.4M1246.1 799.6l1.1-1M1249.2 796.9l.2-.2M1019.3 728.1l.6-.1M1168.9 844.5l4.2-3.7M876.9 774.8l.6-.4M878 774.1l.4-.2M1269.8 712.4l1.9-.9M1225.6 728.8l.4 0M1228 728.7l.4 0M748.2 845.4l3.3-2.9M758.8 836.1l.2-.2M1014.2 606.1l1.6 1.2M1024.8 615.1l1.5 1.4M1044 633.1l1.5 1.4M1190.1 744.5l.9 .3M1191.9 745l.2 .1M1314.6 867.3l3.1-1.7M965.5 606.7l3 1.8M1030.9 669.6l.6 .6M1035.2 673.4l3.3 2.8M1158.2 767.8l.9 .5M1258.8 872.7l2.4-.1M919.5 605.8l3.3 .3M928.3 607.1l1.5 .3M1026.7 702.2l1.1 .8M1031.5 705.6l1.3 .9M1137.6 788.5l.5 .3M1224.7 874l.4 .2M1228.2 875l1.5 .3M878.8 610.9l.3-.1M881 610.3l1.6-.3M885 609.5l1.1-.2M1124.5 817.6l.7 .6M1173.5 866.5l6.8 5.3M751.3 659.8l1.5-1.4M756.6 655.1l3.2-3M761.8 650.3l1.5-1.4M767.1 645.5l.8-.8M768.8 643.9l3.3-3M777.6 635.9l.6-.6M921.9 755.2l.7-.1M1314.4 694.2l3.3-2.5M1324.4 686.3l.3-.2M982.1 604.9l1.5 .9M990.8 610.8l1.6 1.2M1045.8 664.2l6.1 5.3M1170.2 760l1.3 .7M1172.4 761.1l.9 .5M1279.2 872.2l.8-.1M1280.5 872l3-.6M1168.9 766.6h0M1078.6 851.5h0M736 734.9h0M1063.2 680.4h0M1253.8 771.4h0M888.2 822.1h0M930 857.4h0M883 615h0M1090.8 609.9h0M1178.8 605.6h0M981.2 745.2h0M1168.9 661.1h0M1176.1 654.5h0M1051 639.6h0M963.5 605.6h0M1160.8 769.4h0M1022.8 699.4h0M999.8 720.8h0M1001.8 721.8h0M920.8 755.4h0M1041.6 660.4h0"/><path stroke="#e3ff00" d="M776.2 847.4l1.6-.9M1246.1 733.8l2.7 .7M909.2 791.2l1.6-1M912.3 789.2l.2-.1M915.4 787.4l1.7-1.1M1341.5 702l1.5-.6M1345 700.6l1.5-.7M1347.8 699.3l.5-.2M1353.1 696.8l2.2-1.2M1360.8 692.4l.6-.4M921.1 620.7l3-.6M1051.2 726.7l.5 .3M1056.7 729.5l.2 .1M1058.9 730.7l1.5 .8M1179.6 814.9l1.6 1.2M1186.6 820.7l3.3 2.8M1193.6 826.8l1.6 1.3M1216.4 846.8l1.5 1.3M1219.9 849.7l1.5 1.2M1223.4 852.5l1.5 1.2M1225.8 854.3l.9 .7M1228.6 856.4l.9 .6M800.3 708.2l2.2-.6M807.3 706l1.5-.6M1000.2 796l1.4-.8M828.8 860.9l.8-.2M1146.6 619.2l.6 .4M1154.5 624.6l1.5 1.1M1157.5 626.8l.3 .2M1179 644.8l1.5 1.3M1186 650.9l1.5 1.3M1192.3 656.3l1.8 1.5M1194.7 658.4l1.5 1.3M1198.2 661.3l1.6 1.3M1203.5 665.6l6.7 5.4M1326.2 750l3.3 1.6M944.2 648.4l1.6-1.1M949.5 644.8l1.5-1M956.5 640.2l3.3-2.1M961.8 636.8l.8-.5M967 633.5l1.5-.9M1117.5 749.3l2 .3M795.5 862.9l2.6 .2M799 863.1l.4 0M1117.7 618.3l2.6 1.4M1187.1 677.2l1.5 1.3M1195.2 683.7l2.1 1.7M1197.8 685.7l1.3 1M1201.1 688.2l1.5 1.1M1204.6 690.8l1.5 1.1M1309.3 762.9l.5 .3M1310.7 763.7l3.7 2.3M783.9 785.6l1.1 .8M871.4 862.2l1.8 .7M1192.3 617.1l.9 .1M1195.4 617.7l.2 .1M1298.2 706.6l2.4 1.6M845.8 729.3l1.1 .2M848 729.7l4.6 .6M854.6 730.5l1.5 .1M1005.1 844.5l3.2-2.2M1010.3 841l.9-.6M1013.8 838.6l1.1-.7M878.2 716.2l1.1-.2M1013.6 666.1l8.5-6.4M1192.1 762.6l5-.8M814.5 743.2l2.2 .8M955 857.5l.2-.1M955.6 857.2l3.1-1.2M1284.2 631.7l1.5 1.2M1286.6 633.6l2.6 2.1M1296.4 641.7l1.6 1.3M1305.2 649l1.5 1.2M1310.4 653.2l1.6 1.3M973.1 678.5l1.6-1M978.4 674.9l1.5-1.1M1167.2 767l1.5-.3M1169.1 766.6l.7-.2M1069.6 686.3l1.1-.7M1083.2 677.4l1.5-1.1M1270.4 770.4l1.5-.5M765.5 629.2l1.6 1.2M779.5 640.5l1.6 1.2M788.3 647.6l1.5 1.2M922.2 739.2l.6 .3M925 740.3l2.4 .9M1070.2 855.4l1.1-.5M1071.8 854.7l1.3-.6M1074 853.7l1.1-.5M868.8 827.6l1.5 1.3M872.3 830.5l13.8 11.8M901.4 854.7l.4 .3M1225.8 621.6l1.5-.4M1228.6 620.9l.5-.1M1355.5 731l5.5 2.4M738.8 732l2.2 .9M744.1 734.3l.4 .2M887.2 835.2l3.2 2.8M894.2 841.2l3.2 2.7M901.2 847.1l3.2 2.6M908.2 852.7l.6 .5M1230.4 623.2l1.1-.4M1234.1 622l2.2-.6M1238.7 620.7l.9-.2M1059.1 683.1l2.2-1.4M1063.5 680.2l1.3-.9M1250.7 772.4l2.9-.9M1254 771.3l.9-.3M750.2 726.1l1.3 .7M882.6 817.3l.8 .7M888.5 822.3l1.3 1.1M893.5 826.7l3.3 2.8M912.8 843.7l1.5 1.3M919.8 849.6l1.5 1.2M921.9 851.3l2.9 2.3M925.4 854.1l1.4 1M928.5 856.3l1.3 1M930.2 857.6l1.6 1M1247.2 621.2l1.6-.4M1254.2 619.7l1.6-.2M1029.8 700.9l3.9-1.8M1035.2 698.3l1.6-.8M1226 788.8l1.3-.8M816.7 622.2l1.5 1.1M820.2 624.7l4.8 3.6M865.3 663.1l.2 .2M867.5 665l3.3 2.7M872.7 669.3l1.5 1.2M883.2 677.5l1.6 1.2M997.6 755l5.1 2.6M1116.8 862.1l1.4-.1M1119.5 861.9l3.9-.6M1125.4 861l1.5-.3M827 730.6l1.5 .7M833.6 733.6l1.9 .9M969.4 828l.4 .4M975.3 833l1.5 1.3M983 839.6l6.1 5.2M991.1 846.4l1.5 1.3M998.1 852.1l1.5 1.2M1001.6 854.8l1.5 1.2M1008.6 859.9l1.5 1M1321.6 622.9l5-1.5M1121.2 705.2l1.6-.5M1124.3 704.1l.2-.1M1126.5 703.3l1.5-.6M1130 701.8l1.5-.6M1324.2 790.8l.9-.5M799.9 749.1l.6 .1M802.5 749.5l.7 .1M1261.4 644.8l1.6-1M1264.9 642.5l1.6-1M1271.9 637.9l3.3-2.1M1277.2 634.6l1.5-1M881.2 756.2l1.8 0M1332.1 657.5l3.5-2.5M1168.7 726.6l1.1 .1M1170.4 726.7l1.6 .1M1331.4 838l5.1-3.6M1147.2 731.8l.7 .1M1150.8 732.4l.2 .1M1304.8 845.4l3.7-2.3M897.2 620.4l.2 .1M985.2 696.8l1 .8M987.8 698.7l2 1.4M991.7 701.5l1.5 1M995.2 703.9l1.6 1.1M998.7 706.4l.9 .6M1093.2 771.4l1.6 1M1095.4 772.9l.7 .4M1097.2 774l.6 .5M1199.1 863.3l2.8 .4M854.8 617.5l2.8 .3M971.6 715.5l1.7 1.1M1080.5 791.2l1.1 .8M1083.2 793.2l.2 .2M1085.3 794.9l.7 .5M1158.4 859.7l2 1M1162.3 861.7l1.6 .7M1169.3 864.7l.5 .1M802.5 872.4l3.3 1.2M807.8 874.2l.4 .1M1098 608.7l1.6-.1M1101.5 608.4l.3 0M1203 718l.5 .3M1204.8 719l1.5 .8M1336.2 820.9l3.3 3.1M980.6 644.4l3.2-3M985.8 639.6l.9-.8M987.6 638l5-4.5M994.6 631.7l.4-.3M996.3 630.2l1.3-1.2M998.1 628.6l.4-.4M1003.3 623.9l.7-.5M1132.8 754.4l.2 0M898.5 692.4l6.8-5.4M909 683.8l1.6-1.4M911.2 681.8l1.1-1M914.3 679l1.5-1.4M1080.1 778.7l2-1.3M860 709l1.3-.8M1038.5 799.4l1.6-1.4M811.5 728.3l1.1-.1M813.4 728l1.8-.2M940.5 860l1.6-1.4M945.8 855.4l3.9-3.4M951 850.8l1.6-1.3M958 844.7l.7-.6M890.7 869.4l.4-.2M892.8 868.4l1.8-.9M898.3 865.5l.7-.4M1179 605.7l1.3 .8M1183.6 608.6l1.9 1.3M1189.2 612.6l1.6 1.2M1236.9 660.8l1.1 1M1240.7 664.3l.8 .8M1245.2 668.4l.7 .6M1247.7 670.5l.8 .8M1251.4 673.7l.6 .5M845.2 872.6l.6 0M846.9 872.5l.7 0M849.1 872.3l.2 0M1132.6 606.1l1.3 .2M1135 606.5l5 1.1M1228.2 696.3l1.5 1.2M1230.4 697.9l1.5 1.2M1233.2 700l2.2 1.6M1347.4 788.7l1.8 1.4M1350 790.8l1.1 .8M831.4 631.2l1.5 1.4M981.4 745.2l.9 .3M1100.4 869.2l2.4-1.3M1103.9 867.4l.9-.5M761.8 607.6l.7 .4M772.3 615.1l.5 .4M819.1 663.4l.2 .2M824.8 668.7l.4 .4M833.6 676.2l2.8 2.4M950.6 766l.9 .6M952.8 767.3l.4 .3M1053.8 872.7l.9-.1M1346.5 607.5l3.3 .9M808.4 703.1l.9 .6M811.2 705.1l1.6 1M818.2 709.8l.5 .3M925.4 793.8l2.4 2M1001.8 871.3l2.2 1.1M1005.9 873.3l.7 .3M1293.8 610.7l1.5-.4M1298 609.6l.8-.2M1302.6 608.6l.2 0M785 723.5l1.5 .8M917.1 826.2l.9 .9M923.5 832.4l1.5 1.5M928.7 837.7l1.5 1.6M953.2 862.4l3.5 3.2M1251.2 616.8l3.2-2M751.8 739.6l.4 .1M1176.3 654.3l1.4-1.2M1179.6 651.3l1.6-1.4M1187.5 644.1l.7-.7M1197.1 635.1l1.1-1M1335.4 757.3l1.5-.4M1338.2 756.6l.5-.1M1069.8 707.5l4.2-2.5M1235.2 810.1l1.5-1.6M1238.7 806.6l1.5-1.5M1242.4 803l1.3-1.2M1244.2 801.4l1.7-1.6M1021.9 727.8l1.5-.2M1025.4 727.3l.2 0M1027.2 727l1.3-.2M1160.2 852.3l1.5-1.4M1163.7 849.2l1.5-1.4M1165.8 847.3l1.1-1M1168.5 844.9l.2-.2M876 775.3l.7-.4M1271.9 711.4l.3-.1M1274.1 710.3l1.6-.8M1277.6 708.4l1.1-.6M817.4 806.6l4.1-3.8M1228.6 728.6l.9 0M1231.5 728.3l1.3-.1M736.4 855.7l1.1-.9M744.8 848.5l3.2-2.9M751.8 842.3l1.5-1.3M1016 607.5l1.5 1.3M1191.2 744.9l.5 .1M1192.3 745.2l1.1 .2M1312.2 868.5l.2-.1M1313.3 868l1.1-.6M963.7 605.7l1.3 .7M970.5 609.8l1.5 1M974 612.3l.9 .6M977.5 615l.2 .2M1030 668.8l.7 .6M1033.5 671.9l1.5 1.3M1038.8 676.4l3.2 2.7M1159.3 768.5l1.3 .8M1161 769.5l3.1 1.9M1254 872.4l1.1 .1M1255.5 872.6l1.3 0M1257.3 872.7l1.3 0M930 607.5l1.6 .4M935.3 609.3l1.1 .4M1020.2 697.4l.6 .5M1021.7 698.6l.9 .6M1024.5 700.6l2 1.4M1138.3 789l1.7 1.4M1140.7 790.9l1.1 .9M1142.4 792.3l.3 .2M1219.4 872.1l3.3 1.3M1223.4 873.6l1.1 .4M998.3 719.9l1.3 .7M1122.8 816.1l1.5 1.3M1125.4 818.4l4.1 3.9M1164.8 858.6l1.5 1.5M1168.5 862.1l4.8 4.3M754.8 656.6l1.5-1.3M763.6 648.7l3.2-3M768.2 644.5l.4-.4M775.8 637.5l1.5-1.4M778.4 635.1l3.3-3M784.6 629.5l1.5-1.4M917.6 756.1l3-.7M921.1 755.3l.6-.1M1319.6 690.2l1.1-.9M1324.9 685.9l1.5-1.3M987.3 608.3l3.3 2.3M992.6 612.1l1.5 1.3M996.1 615l5 4.5M1003.1 621.4l1.1 1M1032.6 651.8l3.5 3.4M1037.2 656.3l.7 .6M1040.5 659.4l.9 .8M1043.3 662l2.2 2M1052.1 669.7l2.4 2M1173.5 761.7l1.5 .8M1277.6 872.4l1.3-.2M1184.7 819.1h0M805.6 706.6h0M1115.1 617.1h0M1081.4 678.6h0M928.1 741.4h0M1067.8 856.4h0M760.5 731.4h0M890 682.7h0M890 617.2h0M975.1 717.7h0M976.8 718.8h0M854.6 711.6h0M856.5 710.7h0M773.8 745.7h0M1056.7 872.5h0M1001.3 871.1h0M1186.4 645.1h0M1231.5 813.9h0M1020.2 728h0M877.8 774.2h0M886.3 609.2h0M1280.2 872h0"/><path stroke="#55ff00" d="M767.5 852.4l1.5-.9M771 850.4l3.3-1.8M1249 734.5l3.2 .8M1253.6 735.6l1.5 .3M736 690.2l3.5-2.4M906.8 792.8l.5-.3M911 790l1.1-.6M914.5 787.9l.7-.4M1343.2 701.3l1.6-.6M1348.5 699l1.5-.7M1357.2 694.5l.5-.3M1361.6 691.9l.7-.5M924.3 620l4.6-.7M931.1 619l1.3-.1M932.9 618.9l.6-.1M1048.4 725.3l2.6 1.3M1051.9 727.1l4.6 2.3M1191.9 825.2l1.5 1.4M1195.4 828.3l20.8 18.3M1218.1 848.2l1.6 1.3M1221.6 851.1l1.6 1.2M1225.1 853.8l.5 .4M802.7 707.5l.9-.3M805.8 706.5l1.3-.5M812.6 703.9l.8-.4M994.6 799.9l1.5-1.1M999.2 796.7l.8-.5M817.8 862.3l.2 0M818.5 862.2l1.3 0M821.8 862l1.5-.2M825.9 861.4l2.6-.4M1158 627.2l1.5 1.2M1161.5 629.9l8.5 7.1M1172 638.7l3.2 2.8M1177.2 643.2l1.6 1.4M1182.5 647.8l3.3 2.9M1187.7 652.4l4.4 3.8M1196.5 659.8l1.5 1.3M1329.7 751.7l1.5 .8M1333.2 753.4l2.2 1.1M962.8 636.1l3.3-2M968.8 632.4l1.5-.9M1109 748.2l3 .3M1114 748.8l3.3 .4M790.5 862.2l1.3 .2M792.2 862.5l3.1 .4M1120.6 619.8l2.4 1.3M1125.8 622.9l3.3 2.1M1180.9 672l.7 .6M1190.6 680.1l1.5 1.2M1194.1 682.8l.8 .7M1199.3 686.9l1.5 1.1M1314.6 766.1l1.5 .9M785.2 786.6l1.6 1.1M789.4 789.7l1.1 .9M861.3 857.1l1.4 .8M864.6 859l1.6 .8M867.7 860.6l3.5 1.5M1193.4 617.3l.4 .1M1195.8 617.8l2.4 .7M1295.6 704.8l2.4 1.6M1300.8 708.3l5 3.4M847.1 729.5l.2 .1M856.3 730.6l1.5 .2M996.3 850.1l1.5-1M998.3 848.8l4.8-3.1M1008.6 842.2l1.5-1.1M879.5 716l5.5-1M1048.2 826.4l1.3-1.1M1056.7 819.5l1.5-1.2M1061.9 815.5l3.3-2.5M1024.1 658.2l10.3-7.9M1036.3 648.7l3.3-2.6M816.9 744.1l3.5 1.4M822.4 746.2l1.5 .6M946.7 860.2l1.5-.4M950.2 859.1l1.5-.5M952.1 858.5l2.7-1M1308.7 651.8l1.5 1.3M966.1 683l1.6-.9M974.9 677.3l3.3-2.3M981.9 672.4l1.5-1.2M985.4 669.8l1.5-1.2M1164.1 767.8l2.8-.7M1079.7 679.8l1.5-1M1081.6 678.5l1.3-.9M1084.9 676.2l1.5-1.2M1265.2 772.2l1.5-.6M1268 771.2l2.2-.7M923 739.6l1.3 .5M927.6 741.3l.2 0M928.3 741.5l2.8 1M931.6 742.6l1.3 .5M1066.3 857l1.3-.5M1068.1 856.3l1.9-.8M1073.3 854l.5-.2M889.8 845.4l1.5 1.3M893.3 848.3l1.5 1.3M900.3 853.9l.9 .6M1229.3 620.7l10.3-1.9M1344.6 726.1l1.7 .8M1348.3 727.8l7 3.1M736 730.7l2.6 1.2M742.1 733.4l1.8 .8M890.7 838.2l3.2 2.8M897.7 844.1l1.5 1.3M904.7 849.9l1.5 1.2M1236.5 621.3l2-.5M1239.8 620.5l3.9-.9M1357.7 727.9l1.5 .6M1361.2 729.4l4.8 2.1M1061.5 681.6l1.1-.8M1066.8 677.9l1.5-1.1M1070.2 675.4l1.6-1.1M1073.8 672.8l1.5-1.2M1245.2 774.6l3.3-1.4M746.5 724.2l1.5 .8M751.8 726.9l5 2.6M883.7 818.2l2.1 1.8M886.5 820.6l1.5 1.3M890 823.6l3.3 2.9M897 829.7l15.5 13.8M914.5 845.2l1.5 1.3M921.5 851l.2 .2M925 853.7l.2 .2M1256 619.4l3.2-.4M1261.2 618.9l1.6-.1M1033.9 698.9l1.1-.5M1037 697.4l3.3-1.8M1225.1 789.4l.7-.4M818.5 623.4l1.5 1.1M827.2 630l5 4.1M837.7 638.8l3.3 2.9M844.7 645.1l1.5 1.3M848.2 648.2l16.9 14.8M865.7 663.5l1.5 1.3M874.5 670.7l1.5 1.2M878 673.5l1.5 1.2M888.5 681.5l1.3 1M995.9 754.1l1.5 .7M1004.6 758.6l1.6 .8M1113.8 862.3l.9-.1M1116.2 862.2l.4-.1M1118.4 862l.8-.1M823.5 729.1l1.5 .7M828.8 731.4l4.5 2.1M977.1 834.5l5 4.3M989.3 845l1.5 1.3M994.6 849.3l1.5 1.2M1326.8 621.3l4.2-1M1131.7 701.1l4.8-2.4M1137 698.5l1.3-.7M1138.7 697.6l.9-.5M1140.5 696.6l1.5-.9M1319 794.2l1.5-1M1323.3 791.4l.7-.4M792 748.1l7.7 .9M1268.4 640.2l1.6-1M1275.4 635.7l1.6-1M1278.9 633.5l2.7-1.6M877.8 756.3l1.5-.1M880.2 756.2l.8 0M1328.6 660l1.5-1.1M1335.8 654.8l1.3-.9M1339.1 652.5l5-3.7M1346.1 647.4l3.7-2.7M1170 726.7l.2 0M1172.2 726.8l1.5 .1M1175.7 726.9l1.5 0M1321.6 844.9l2.6-1.9M1324.7 842.7l3-2.1M1328.6 840l2.6-1.9M1148.1 731.9l.7 .2M1151.2 732.5l2.8 .5M1297.8 849.7l6.7-4.1M890.2 617.3l2 .8M893.7 618.7l3.3 1.6M897.7 620.6l2.8 1.6M965.5 681.7l1.5 1.2M976 690l5 3.8M983 695.2l1.9 1.4M986.5 697.7l1.1 .8M1095 772.6l.2 .1M1096.3 773.4l.6 .5M1098 774.6l.7 .5M1195.2 862.5l3.7 .8M857.8 617.8l2.2 .3M861.3 618.4l1.6 .3M962.8 709.9l3.3 2.1M968.1 713.3l1.5 1M1083.6 793.5l1.3 1.1M1086.2 795.6l4.2 3.3M1152.7 856.2l2.4 1.5M1157.1 858.9l1.1 .6M1160.6 860.8l1.5 .8M795.5 869l6.8 3.3M1099.8 608.5l1.5-.1M1102 608.4l4.6 .1M1189.9 710.7l.7 .4M1191.9 711.8l.4 .3M1196 714.2l6.8 3.7M1339.8 824.2l7 7M1350.2 834.8l3.3 3.5M984.1 641.2l1.5-1.4M986.9 638.6l.4-.4M992.8 633.3l1.5-1.4M995.2 631.2l.9-.8M998.7 628l2.4-2.1M1001.6 625.5l1.5-1.4M1004.2 623.2l.6-.6M1127.8 755.5l1.3-.3M1131.9 754.6l.7-.1M912.5 680.6l1.6-1.4M916 677.4l5.1-5M923 670.4l8.6-9.1M1067.4 789.1l.7-.6M1071.8 785.2l3.3-2.7M1076.4 781.5l3.5-2.6M856.8 710.6l3-1.5M861.6 708.1l3.5-2M1029.8 807.5l1.5-1.4M1034.4 803.2l.4-.5M1037 800.7l1.3-1.1M815.4 727.7l5.9-1.2M825 725.4l.5-.1M931.8 867.5l1.5-1.3M935.3 864.5l5-4.4M942.3 858.5l3.3-2.9M774.1 745.8l3.2 .8M781.1 747.5l1.1 .2M889.6 870l.8-.5M891.3 869.1l1.3-.6M1191 614l8.5 7.6M1220.8 644.1l1.5 1.6M1231.2 655.1l1.6 1.6M1234.8 658.6l1.9 1.9M1238.2 662l2.2 2.1M1241.8 665.3l3.2 2.9M1247 669.9l.4 .4M1250.5 672.9l.7 .6M744.5 765.7l5.1 2.9M842.5 872.6l2.4 0M846 872.6l.7-.1M847.8 872.5l1.1-.1M1140.2 607.7l.7 .2M1142.9 608.5l2.4 1M1148.1 610.8l.5 .2M1223.4 692.6l1.5 1.2M1226.9 695.3l1.1 .9M1232.1 699.2l.9 .6M1349.4 790.2l.4 .4M1351.3 791.8l2 1.6M982.5 745.5l5.7 1.5M990.2 747.4l1.5 .4M1097.8 870.4l2.4-1.1M760.1 606.6l1.5 .9M762.7 608.1l.6 .4M767.1 611.1l3.9 2.9M773 615.6l.8 .8M786.3 628.4l1.5 1.6M814.3 658.7l4.6 4.5M819.6 663.8l5 4.7M826.6 670.2l1.5 1.4M953.4 767.7l1.4 .8M955.2 768.7l1.1 .7M960.4 771.9l.5 .3M1050.8 872.6l2.8 .1M1054.9 872.6l1.6 0M1343 606.8l1.6 .3M1350 608.4l.7 .2M1353.5 609.7l.5 .1M804.2 700.2l4 2.8M928.1 795.9l1.9 1.7M931.6 798.9l1.5 1.3M996.3 868l4.8 2.9M1005.1 872.9l.6 .3M1299.1 609.3l3.2-.7M1303 608.5l3.9-.5M776.2 719.3l3.3 1.6M781.5 721.8l1.5 .8M920 829l1.5 1.5M925.2 834.1l1.6 1.6M930.5 839.5l3.3 3.4M937.5 846.7l3.3 3.4M943.2 852.6l1 1.1M946.2 855.7l3.3 3.2M1254.7 614.6l5-3M747.2 738.8l2.6 .4M750.4 739.3l1.1 .2M1188.4 643.2l1.5-1.4M1191.9 640l5-4.7M1198.4 633.9l2.9-2.6M1202.4 630.3l1.5-1.4M1205.9 627.1l3.3-3.1M1212.9 620.6l1.5-1.4M1333.6 757.8l1.6-.4M1337.1 756.9l.9-.2M1074.2 704.9l3.7-2.5M1079.4 701.3l4.4-3.4M1084.7 697.2l1.3-1.1M1086.4 695.7l1.1-1M1222.7 823.4l1.8-1.9M1226.7 819.1l4.5-5M1231.7 813.7l3.3-3.4M1236.9 808.3l1.6-1.5M1240.4 804.9l1.8-1.7M1020.4 728l1.3-.1M1023.7 727.6l1.5-.2M1025.8 727.3l1.1-.2M1028.7 726.7l3.5-.8M1148.3 862.6l1.1-.9M1153.2 858.4l1.5-1.3M1156.7 855.4l3.2-2.9M1161.9 850.7l1.5-1.3M1165.4 847.6l.2-.2M1167.2 846.1l1-1M874.2 776.4l1.6-.9M1272.4 711.2l1.5-.8M1275.9 709.4l1.5-.9M1278.9 707.6l.5-.2M811.2 812.6l6-5.8M1229.7 728.5l.2 0M1361 858.5l1.5-1.3M736 856.1l.2-.2M739.5 853l5-4.3M1193.6 745.5l.7 .2M1197.1 746.4l5.1 1.1M1307.6 870.7l4.4-2.1M1312.6 868.3l.5-.2M968.8 608.6l1.5 1M972.2 611l1.6 1.1M975.1 613.1l2.2 1.7M977.9 615.3l1.1 1M984.5 621.2l.7 .6M1012.5 651.5l1.5 1.6M1026.5 665.6l3.3 3M1031.8 670.4l1.5 1.3M1164.3 771.5l5.9 3.9M1248.3 871.4l5.5 1M931.8 608l3.3 1.2M936.6 609.8l.2 .1M938.8 610.8l.4 .2M1010.5 690l3.3 2.6M1018.8 696.5l1.1 .8M1021 698.1l.5 .3M1140.2 790.6l.3 .1M1142 791.9l.2 .2M1142.9 792.7l1.1 .9M1147.7 796.7l1.5 1.3M1212.4 868.4l1.6 .9M1216.6 870.7l2.6 1.3M1222.9 873.5l.3 0M882.8 609.9l1.5-.3M886.5 609.2l5.9-.7M991.3 716.2l5 2.7M1129.8 822.5l5 4.9M1136.8 829.4l2.4 2.4M1142 834.8l1.5 1.6M1145.5 838.5l.9 .9M1157.8 851.5l1.5 1.6M1161.2 855.2l3.3 3.2M1166.7 860.5l1.5 1.4M772.3 640.7l3.3-3M781.9 631.9l2.4-2.2M786.3 627.9l5-4.5M912.3 757.6l1.5-.5M915.6 756.6l1.7-.5M1320.9 689.1l2-1.6M1326.6 684.4l3.3-2.9M1333.6 678.1l1.6-1.5M994.3 613.6l1.6 1.2M1001.3 619.7l1.6 1.4M1004.4 622.6l2 2M1011.8 630.1l1.6 1.6M1015.3 633.8l1.6 1.6M1022.3 641.2l1.6 1.6M1025 644l.6 .7M1027.4 646.5l5 5.1M1036.3 655.5l.7 .6M1038.1 657.1l2.2 2.1M1175.2 762.6l6.8 3.6M1184 767.3l1.5 .9M1271.5 872.7l5.9-.3M743 685.2h0M1197.6 685.5h0M1199.3 618.8h0M1288.3 699.7h0M992.6 852.4h0M955.4 857.3h0M992.4 664.4h0M1074.4 683.3h0M1071.6 854.8h0M1250.5 772.5h0M750 726h0M1224 790h0M825.2 628.4h0M821.5 728.2h0M997.8 628.8h0M1036.6 801.1h0M838.8 872.3h0M993.7 748.2h0M1095 871.7h0M775.8 618.1h0M1001.6 871.2h0M1243.9 801.6h0M1233 728.1h0M986.2 622.9h0M1024.5 663.7h0M1171.3 776.1h0M1255.3 872.6h0M1257.1 872.7h0M1017.3 695.3h0M998.1 719.8h0"/><path stroke="#00ff39" d="M759 856.8l3-1.5M762.5 855.1l4.8-2.6M769.2 851.4l1.6-.8M774.5 848.4l1.5-.8M1252.5 735.3l.8 .2M1255.3 736l6.8 1.3M739.7 687.6l3.1-2.2M743.2 685.1l3.1-2.4M751.8 678.1l.6-.5M893.5 803.3l1.5-1.3M895.5 801.6l11.1-8.6M907.5 792.4l1.5-1.1M912.8 788.9l1.5-.9M1350.2 698.2l1.6-.8M1355.5 695.5l1.5-.9M1357.9 694.1l2.6-1.6M1362.5 691.3l3.5-2.3M929.2 619.3l1.7-.2M933.8 618.8l4.1-.1M941.6 618.9l.9 .1M1043.1 722.6l5.1 2.6M1190.1 823.7l1.6 1.4M809.1 705.3l3.2-1.4M813.7 703.4l10.7-5.7M981.4 810.1l5.9-4.8M989.3 803.8l5-3.7M996.3 798.7l2.6-1.8M816.5 862.3l1.1 0M820 862.1l1.5-.1M823.5 861.8l2.2-.3M1170.2 637.2l1.6 1.3M1175.5 641.7l1.5 1.3M1331.4 752.6l1.6 .7M1335.6 754.6l2.6 1.3M1340.2 756.8l1.5 .8M966.3 633.9l.5-.2M970.5 631.4l8.1-4.8M979.2 626.2l2.2-1.3M982.8 624.2l.2-.1M1103.5 747.7l1.5 .1M1107.7 748l1.1 .1M1112.2 748.5l1.6 .2M780.2 859.2l10 3M1123.2 621.3l2.4 1.4M1131.1 626.4l5.9 4.6M1138.1 631.9l7 6.1M1146.8 639.6l3.3 3.1M1152.1 644.6l6.7 6.7M1160.8 653.2l1.5 1.5M1166.1 658.3l14.6 13.5M1181.8 672.8l5 4.2M1188.8 678.6l1.5 1.3M1192.3 681.5l1.5 1.2M1316.3 767.2l1.8 1.1M1318.8 768.7l6.7 4.4M1327.5 774.4l.2 .1M787 787.9l2.2 1.7M790.7 790.7l5.7 4.6M798.1 796.7l3.3 2.9M856.8 854.1l.6 .5M858.1 855l3 2M862.9 858l1.5 .9M866.4 859.9l1.1 .6M1198.4 618.5l.7 .2M1199.5 618.9l10.1 4.3M1274.6 688.9l1.5 1.3M1278.1 691.9l1.5 1.2M1281.6 694.7l1.5 1.1M1283.8 696.3l4.3 3.3M1288.6 699.9l6.7 4.8M852.8 730.3l1.5 .2M858.1 730.8l8.3 .3M984.9 857l7.5-4.5M992.8 852.2l3.3-2M1003.3 845.6l1.5-1M885.2 714.9l10-2.8M895.7 711.9l1.5-.6M1051.4 823.7l5.1-4M1058.4 818.2l3.3-2.6M1022.3 659.6l1.6-1.2M1034.6 650.1l1.5-1.2M1039.8 645.9l3.3-2.6M1045.1 641.7l7-5.6M1053.8 634.6l.3-.1M1055.6 633.2l.2-.2M1180.5 765.5l.9-.3M1183.3 764.6l8.6-2M820.7 745.6l1.5 .6M824.2 746.9l5 1.9M832.9 750.2l.2 .1M939.7 862l6.7-1.7M948.4 859.7l1.5-.5M983.6 671.1l1.6-1.1M987.1 668.5l5.1-3.9M992.6 664.3l4.8-3.9M999.4 658.8l1.5-1.2M1002.9 656l1.5-1.3M1158.6 769.5l5.3-1.7M1074.6 683.2l1.3-.9M1086.7 674.9l10.2-7.9M1100.7 664l6.7-5.7M1258.6 774.9l6.3-2.6M1266.9 771.5l.9-.3M936.8 744.4l.2 0M938.6 744.9l1.5 .5M1055.8 860.8l6.8-2.3M1064.6 857.7l1.5-.6M888 843.9l1.6 1.3M1239.8 618.8l6.8-.4M1339.1 723.5l.2 .1M1341.3 724.6l3 1.4M1346.5 727l1.6 .7M741.2 733l.7 .3M1243.9 619.6l6.8-.9M1252.7 618.5l1.3 0M1348.3 723.5l.4 .2M1350.7 724.7l6.8 3.1M1359.4 728.6l1.6 .7M1062.8 680.7l.2-.2M1068.5 676.7l1.5-1.1M1072 674.1l1.5-1.2M1075.5 671.4l12-9.8M1089.5 659.9l1.5-1.3M1093 656.8l1.5-1.3M1243.5 775.4l1.5-.7M1248.8 773.1l1.5-.5M736.2 718.8l1.3 .7M739.5 720.6l6.8 3.5M748.2 725.1l1.6 .8M886.1 820.2l.2 .2M916.2 846.7l3.3 2.7M1259.5 619l1.5-.1M1263 618.8l3.2-.1M1363.8 718.5l.4 .2M1364.7 719l1.3 .7M1040.5 695.5l8.5-5.4M1051 688.8l1.5-1.2M1208.7 801l1.3-1.1M1211.3 798.9l2.2-1.7M1214.6 796.4l9.2-6.2M1224.2 789.9l.7-.4M825.5 628.6l1.5 1.2M832.5 634.3l5 4.3M841.2 641.9l3.3 3M846.5 646.6l1.5 1.4M1002.9 757.7l1.5 .8M1006.4 759.5l8.5 4.7M1105.7 861.9l.2 0M1106.3 861.9l7.3 .4M1114.9 862.2l1.1 0M814.8 725.1l6.5 3M821.8 728.3l1.5 .7M825.2 729.9l1.6 .6M992.8 847.9l1.5 1.2M1331.2 620.2l5-.9M1139.8 697l.4-.3M1142.2 695.6l8.1-5.3M1151 689.8l.6-.4M1301.5 807.9l3.3-2.9M1306.3 803.8l.2-.2M1308.5 802l10.3-7.6M1320.7 793.1l2.4-1.6M787.2 747.7l4.6 .4M1281.8 631.7l9.2-5.4M1292.9 625.1l1.1-.6M1294.7 624.2l.4-.3M736 634.2l4.2-3M868.6 757.1l1.9-.3M872.5 756.6l5-.3M879.5 756.2l.4 0M1344.3 648.6l1.6-1.1M1350 644.5l2.4-1.8M1353.1 642.3l3.3-2.4M1358.3 638.5l1.6-1.2M1361.8 635.9l.5-.3M1173.9 726.9l1.6 0M1177.4 726.9l5.1-.2M1306.9 854.9l14.5-9.9M1327.9 840.4l.5-.3M1149 732.1l1.5 .3M1154.2 733l6.8 .9M1285.5 856.8l3.3-1.9M1290.8 853.8l6.7-3.9M892.4 618.2l1.1 .4M900.7 622.3l.9 .5M902.5 623.3l.2 .1M960.2 677.1l1.6 1.4M963.7 680.2l1.5 1.3M967.2 683.1l1.6 1.3M970.7 685.9l5.1 4M981.2 693.9l1.6 1.2M1098.9 775.2l3.3 2.3M1104.2 778.9l3.2 2.3M1109.4 782.7l3.3 2.6M1184.7 858.7l1.5 .7M1189.9 860.9l5 1.5M860.2 618.2l.9 .2M863.1 618.8l7.2 2.2M873.6 622.5l.9 .4M947.1 698.9l1.5 1.2M952.3 702.8l10.3 7M966.3 712.2l1.6 1M969.8 714.4l1.6 1M1090.6 799.1l8.3 7M1101.1 808.1l6.8 6.3M1109.8 816.3l1.6 1.5M1141.3 847.4l3.3 2.8M1148.3 853.1l4.2 2.9M1155.3 857.9l1.6 .9M786.3 862.5l.2 .1M790.2 865.6l3.3 2.2M1106.8 608.5l7.6 1.2M1115.5 610l.9 .3M1185.5 707.8l4.2 2.7M1190.8 711.2l.9 .5M1192.5 712.2l3.3 1.9M1347 831.4l3 3.2M1353.8 838.5l3.2 3.5M1359 844.1l5 5.4M1005.1 622.4l11.8-10.5M1017.3 611.5l3.9-3.5M1120.6 757.9l7-2.3M1129.3 755.2l2.4-.6M921.3 672.2l1.5-1.6M931.8 661l13.8-16M947.5 642.6l1.6-1.8M1061.9 794.6l2.7-2.7M1065.9 790.6l1.3-1.3M1068.3 788.3l3.3-2.9M1075.3 782.3l.9-.7M865.3 705.9l3.3-2.1M870.5 702.4l3.3-2.5M1015.8 822.1l1.5-1.7M1019.3 818.3l10.3-10.5M1032 805.4l2.2-2M1035 802.5l1.3-1.2M821.5 726.4l3.3-.9M825.7 725.2l5.2-2.1M922.2 875.8l9.4-8.1M933.5 866l1.6-1.3M777.6 746.7l3.2 .7M782.4 747.8l4.4 .9M877.8 874.9l4.5-1.8M883 872.9l6.3-2.8M1199.8 621.8l12 12.5M1213.8 636.4l5 5.5M1222.5 646l8.5 8.9M1233 656.9l1.5 1.5M749.8 768.7l6.1 3.7M756.8 773l1.5 1M837.1 872.1l1.5 .2M841.4 872.5l.9 .1M1141.1 608l1.6 .5M1145.5 609.6l2.4 1M1148.8 611.1l.9 .4M1151.6 612.6l1.1 .7M1209.6 680.6l3.1 2.9M1214.6 685.3l3.3 2.9M1220.3 690.2l1.1 .9M1225.1 694l1.6 1.2M1353.5 793.6l8.6 7.5M1364 803l1.6 1.5M988.4 747l1.6 .4M991.9 747.8l1.6 .3M993.9 748.2l4.8 1.1M1091.7 873.1l3.1-1.3M1095.2 871.6l2.4-1.1M771.2 614.2l.9 .7M774.1 616.6l1.5 1.3M776 618.3l8.3 8.1M789.8 632.2l3.3 3.6M795.1 638l19 20.5M956.5 769.5l3.7 2.3M961.1 772.4l2 1.2M963.9 774.2l1.6 1M967.4 776.6l1.4 1M1040.9 871l9.7 1.6M1350.9 608.7l2.4 .9M1354.2 609.9l2.6 1.2M1358.8 612.2l1.5 .8M799 696.3l1.5 1.2M801.8 698.5l2.2 1.5M930.2 797.8l1.1 .9M933.3 800.4l15.5 15.1M952.6 819.7l1.5 1.8M985.8 859.4l10.3 8.4M1307.2 608l5.6-.2M768.2 715.1l2.6 1.4M774.5 718.4l1.5 .8M779.8 721l1.5 .7M927 835.9l1.5 1.6M934 843.1l3.2 3.4M941 850.4l1.9 2M944.5 853.9l1.5 1.6M1259.9 611.5l8.3-4.6M1268.7 606.7l.2-.1M1363.8 738.8l2.2 .2M741.2 738l1.6 .1M743.9 738.3l3 .4M750 739.2l.2 .1M1201.5 631.1l.7-.6M1204.1 628.7l1.6-1.4M1209.4 623.8l3.3-3M1214.6 619l.7-.6M1216.4 617.3l1.5-1.4M1219.9 614.1l2.4-2.3M1324.7 761.3l1.7-.8M1327.3 760.1l6.1-2.2M1078.1 702.2l1.1-.7M1084 697.7l.5-.3M1087.8 694.5l4.8-4.6M1095.2 687.2l1.5-1.7M1203.7 845.8l1.5-1.9M1208.9 839.4l13.6-15.7M1224.7 821.2l1.7-1.9M1032.4 725.8l5-1.6M1138.5 871.2l9.6-8.4M1149.7 861.5l3.2-2.9M1154.9 856.9l1.5-1.4M866.2 782.4l2.6-2.1M869.4 779.8l4.6-3.2M1279.6 707.3l7.2-4.9M1288.1 701.4l1.6-1.2M1291.6 698.6l.7-.6M793.8 831.1l17.2-18.3M1230.2 728.5l1-.1M1233.2 728.1l3.3-.6M1240.2 726.7l3.3-1M1350.5 867.5l10.3-8.8M1362.7 857l3.3-2.8M737.8 854.6l1.5-1.4M1194.5 745.7l2.4 .6M1202.4 747.6l4.1 .8M1298.6 874.5l8.8-3.6M979.2 616.4l5.1 4.6M985.4 622l.6 .7M986.5 623.1l11.8 12.6M1000.2 637.9l8.6 9.5M1014.2 653.3l10.1 10.2M1024.8 663.9l1.5 1.5M1170.4 775.5l.7 .5M1171.5 776.3l3.7 2.7M1241.3 868.9l6.8 2.5M937 610l1.6 .7M939.4 611.1l2 1.1M942.3 612.7l1.9 1.2M945.8 615l1.5 1.1M1001.8 682.2l1.5 1.5M1007 687l3.3 2.8M1014 692.8l3.1 2.4M1017.5 695.5l1.1 .8M1144.2 793.7l3.3 2.8M1149.4 798.2l4.8 4.5M1154.7 803.1l1.5 1.6M1206.1 863.9l.9 .7M1208.1 865.4l.6 .5M1210.7 867.3l1.5 1M1214.2 869.4l2.2 1.2M892.6 608.5l5.7 0M900.3 608.6l1.3 .2M902 608.8l1.3 .3M985.2 712.8l5.9 3.3M996.5 719l1.3 .7M1135 827.6l1.5 1.6M1139.4 832.1l2.4 2.5M1143.8 836.6l1.5 1.7M1146.6 839.7l9.2 9.8M1159.5 853.4l1.5 1.5M791.6 623.2l3.2-3M796.8 618.4l9-8.2M905.3 760.4l1.5-.7M908.8 758.9l3.3-1.2M914.1 757l1.3-.3M1330.1 681.3l3.3-3M1335.4 676.4l10.3-10.4M1347.6 663.9l.9-.9M1349.4 662l.4-.5M1352.9 658.1l.2-.2M1356.4 654.2l1.5-1.8M1006.6 624.8l5 5.1M1013.6 632l1.5 1.6M1017.1 635.7l5 5.3M1024.1 643.1l.7 .7M1025.8 644.9l1.4 1.4M1182.2 766.3l1.6 .9M1185.8 768.3l2.6 1.6M1189.2 770.4l1.6 1M1261.4 871.3l1.1 .3M1263.2 871.7l8.1 1M932.7 618.9h0M1041.2 721.6h0M818.2 862.2h0M792 862.5h0M806.9 804.5h0M998.1 849h0M1047.9 826.6h0M951.9 858.6h0M931.3 742.5h0M933.1 743.1h0M1136.8 698.6h0M1138.5 697.7h0M1152.7 688.6h0M1365.3 633.4h0M1184.4 726.6h0M1324.4 842.9h0M1085.1 794.7h0M795.3 868.9h0M1366 851.6h0M1001.3 625.7h0M1036.8 800.9h0M955 768.6h0M1086.2 695.9h0M1005.1 685.3h0M1166.5 860.3h0"/><path stroke="#00ffc6" d="M746.5 862.6l1.5-.7M750.7 860.8l8.1-3.8M1262.3 737.3l6.4 1M1269.3 738.4l1.5 .2M746.5 682.5l5-4.2M752.6 677.4l12.9-12.7M881.2 815.2l12.1-11.7M938.1 618.7l3.3 .2M942.7 619l2.4 .3M946.9 619.6l.6 .2M1030.7 715.7l10.2 5.8M1041.4 721.7l1.5 .8M824.6 697.6l6.3-4.3M831.8 692.7l3.3-2.5M966.6 823.6l1.5-1.5M969 821.2l12.2-10.9M987.6 805.2l1.5-1.2M807.5 861.7l8.8 .6M1180.7 646.3l1.5 1.3M1338.4 756l1.6 .7M1341.9 757.7l7.9 4.1M1350.7 762.3l3.3 1.9M978.8 626.4l.2-.1M981.7 624.8l.8-.5M983.2 624l8.5-4.6M1098.2 747.5l5.1 .2M1105.2 747.8l2.2 .2M771.4 854.4l8.6 4.7M1129.3 625.2l1.5 1.1M1137.2 631.1l.6 .6M1145.3 638.2l1.3 1.2M1150.3 642.9l1.5 1.5M1159.1 651.5l1.5 1.5M1162.6 654.9l3.2 3.2M1318.3 768.4l.2 .1M1325.8 773.2l1.5 1M1327.9 774.7l9.9 7.4M796.6 795.5l1.3 1.1M801.6 799.8l5.1 4.5M807.1 804.7l8.3 8.2M817.4 815l8.5 9.2M827.9 826.4l1.5 1.7M831.4 830.3l8.5 9.1M841.2 840.7l7.9 7.4 7.4 5.9M857.6 854.7l.2 .2M1209.8 623.3l11.2 7.6M1225.6 635l.2 .2M1262.3 677.2l1.5 1.6M1265.4 680.4l.2 .2M1267.3 682.3l7 6.4M1276.3 690.4l1.5 1.3M1279.8 693.3l1.5 1.2M1283.3 696l.2 .2M866.6 731.1l8.3-.2M976 862.2l8.7-5.1M897.4 711.3l4.8-2.1M902.7 709l.2-.1M1021.7 849.3l1.5-1.4M1026.7 844.8l1.8-1.6M1029.1 842.6l18.6-15.8M1049.7 825.1l1.5-1.2M1043.3 643.1l1.6-1.2M1052.3 635.9l1.3-1.1M1054.3 634.3l1.1-.9M1056 632.9l7.7-6.4M1174.6 767.8l1.5-.7M1176.8 766.9l3.5-1.3M1181.6 765.2l1.5-.5M829.4 748.9l3.3 1.2M833.3 750.3l7.5 3M932.7 863.1l1.5-.2M936.2 862.6l3.2-.6M997.6 660.3l1.6-1.3M1001.1 657.4l1.6-1.3M1004.6 654.5l14.7-12.7M1020.4 640.9l1.5-1.4M1151.2 772.4l.2-.1M1152.1 772l6.3-2.5M1097.2 666.8l3.2-2.6M1107.7 658.1l8.5-7.5M1119.9 647.1l3.3-3M1125.2 642.2l1.5-1.4M1250.5 779.3l3.9-2.2M1256 776.2l2.4-1.1M933.3 743.2l3.3 1.1M937.2 744.5l1.1 .4M940.3 745.5l6.8 2.2M1045.3 863.4l1.5-.3M1048.6 862.8l1.7-.4M1052.3 861.8l3.3-.9M1062.8 858.4l1.5-.6M1246.8 618.4l6.1 .5M1253.8 619l.6 .2M1255.5 619.4l.3 0M1329.5 718.4l1.1 .6M1331.9 719.8l7 3.6M1339.5 723.7l1.6 .8M1250.9 618.6l1.6-.1M1254.2 618.4l4.6 .1M1259.7 618.6l2 .2M1339.8 719l.2 .1M1341.9 720.3l6.2 3.1M1348.9 723.8l1.6 .8M1087.8 661.4l1.5-1.3M1091.2 658.4l1.6-1.4M1094.8 655.3l8.3-7.7M1103.5 647.2l2.2-2.1M1232.8 781.3l10.5-5.8M737.8 719.6l1.5 .9M1266.5 618.7l10.5 1.4M1354 712.5l9.6 5.9M1049.2 690l1.6-1.1M1052.8 687.5l12-10M1194.7 813.6l1.3-1.3M1198 810.4l10.5-9.2M1210.2 799.8l.9-.7M1213.8 797.1l.6-.5M1015.1 764.4l8.6 5.3M1096.1 859.5l1.1 .4M1098.2 860.3l.7 .2M1099.3 860.6l6.2 1.2M806 720.8l8.5 4.2M1336.5 619.2l10.3-.7M1150.5 690.2l.3-.2M1151.8 689.2l.7-.5M1152.9 688.4l7.3-5.8M1294.5 814.3l6.7-6.3M1305 804.8l1.1-.9M1306.7 803.4l1.5-1.2M778.2 747.4l8.8 .3M1291.2 626.1l1.5-.8M1294.2 624.4l.3-.1M1295.3 623.8l11.2-5.9M1306.9 617.6l.3-.1M1308.7 616.8l.4-.3M740.4 631.1l9.4-6.7M862.4 758.2l5.9-1.1M870.8 756.8l1.5-.1M1352.7 642.6l.2-.2M1360.1 637.2l1.5-1.1M1362.5 635.5l2.6-1.9M1365.6 633.3l.4-.4M1182.7 726.7l1.5-.1M1184.7 726.6l6.5-.8M1298.2 860.6l1.5-1M1301.5 858.5l5.2-3.5M1161.2 733.9l9.7 .7M1276.8 861.4l8.5-4.5M1289 854.8l1.5-.8M901.8 622.9l.4 .3M902.9 623.6l9.9 7M914.7 632.2l5.3 4.7M921.7 638.6l5.1 4.9M928.7 645.5l6.8 7.1M936.8 654l23.2 23M962 678.7l1.5 1.3M969 684.5l1.5 1.3M1102.4 777.6l1.5 1.1M1107.7 781.4l1.5 1.1M1112.9 785.4l8.5 7.4M1172.6 851l1.3 1.1M1175.9 853.5l8.5 5.1M1186.4 859.5l3.3 1.3M870.5 621.1l2.9 1.3M874.7 623l5.7 3.3M937.2 690.6l9.7 8.2M948.8 700.3l3.3 2.4M1099.1 806.3l1.8 1.6M1108.1 814.6l1.5 1.5M1111.6 818l29.5 29.2M1144.8 850.3l3.3 2.6M736 801.6l12 13.1M750 817.2l1.5 1.9M779.8 856.1l6.3 6.2M786.8 862.8l3.2 2.6M793.8 868l1.3 .8M1114.7 609.8l.6 .2M1116.6 610.4l4.8 2.1M1177.9 702l7.4 5.7M1357.2 842.2l1.6 1.7M1364.2 849.7l1.6 1.6M1021.5 607.8l5.9-5.3M1027.8 602.1l1.1-1M1113.6 761.1l6.7-3.2M945.8 644.8l1.5-1.9M949.3 640.5l22.5-28.6M973.8 609.3l1.5-2M1049.2 810l3.1-4M1054.1 803.7l7.6-8.8M1064.8 791.7l.9-.9M868.8 703.6l1.5-1M874 699.8l8.6-7.5M994.8 846.3l1.5-1.8M1000.2 839.8l15.4-17.5M1017.5 820.2l1.6-1.7M1031.5 805.8l.3-.2M831.2 723l5.9-3.1M912.1 884.8l.2-.2M914.3 882.8l7.6-6.8M787 748.8l5.2 1.1M793.3 750.1l.7 .2M874.2 876l3.3-1.1M882.6 873l.2-.1M1212 634.5l1.5 1.7M1219 642.2l1.5 1.6M756.1 772.6l.5 .3M758.5 774.2l6.2 4.4M827.9 869.4l.4 .2M828.8 869.8l8 2.3M839 872.4l2.2 .1M1149.9 611.7l1.5 .8M1152.9 613.4l8.3 6.4M1162.1 620.6l1.6 1.5M1200.6 670.8l8.8 9.6M1212.9 683.7l1.5 1.4M1218.1 688.4l2 1.6M1221.6 691.3l1.6 1.2M1362.3 801.3l1.5 1.5M1365.8 804.7l.2 .2M998.9 749.3l2.9 .6M1002.4 750l.5 .1M1081.2 876.7l1.5-.4M1084.7 875.6l6.8-2.4M784.6 626.6l1.5 1.6M788.1 630.3l1.5 1.6M793.3 636l1.5 1.7M963.3 773.8l.4 .3M965.7 775.4l1.5 1M969 777.7l5.2 4.2M1033.5 867.8l7.2 3.1M1357 611.2l1.6 .8M1360.5 613.2l5.5 3.8M781.5 680.4l1.5 1.6M784.3 683.4l.5 .5M786.8 685.8l12 10.3M800.8 697.6l.8 .7M949.1 815.8l3.2 3.7M954.3 821.8l12 14.9M968.3 839.2l9.4 11.6 7.9 8.3M1313.1 607.8l5.4 .7M761.2 711l.8 .6M763.3 712.4l4.6 2.6M771 716.6l3.3 1.7M1269.1 606.4l6.1-3M1358.8 738.6l4.8 .2M736 737.4l5 .5M743 738.2l.7 .1M1215.5 618.2l.7-.7M1218.1 615.7l1.6-1.4M1222.5 611.6l8.7-8.3M1321.2 763.1l3.2-1.7M1326.6 760.4l.5-.2M1092.8 689.7l2.2-2.3M1096.9 685.3l6.6-7.8M1105.7 674.6l.6-.8M1107.4 672.3l1.1-1.5M1179.2 877l1.5-2.1M1182.2 872.9l.3-.3M1184.4 870.1l19.1-24M1205.4 843.7l3.3-4M1037.7 724.1l4.8-2M1128.7 879.9l1.5-1.4M1132.2 876.7l6.1-5.4M736 647.5l12.9-15.3M750 630.9l1.5-1.9M856.8 791.1l9.1-8.5M869 780.2l.2-.2M1287 702.2l.9-.6M1289.9 700l1.5-1.2M1292.5 697.8l4.2-3.8M771 857.4l1.5-1.9M774.5 853.2l1.5-1.8M776.9 850.4l16.6-19.1M1236.7 727.5l3.3-.8M1243.7 725.7l4.8-1.8M1341.7 875l8.5-7.3M1206.8 748.5l3.7 .7M1211.1 749.4l1.6 .3M1292.5 876.5l.7-.2M1293.6 876.2l4.8-1.6M998.5 635.9l1.5 1.7M1009 647.6l3.3 3.6M1175.5 779.1l10.7 9.7M1187.1 789.8l.2 .2M1233.9 864.2l7.2 4.6M941.6 612.3l.5 .3M944.5 614.1l1.1 .7M947.5 616.2l9.7 9M959.8 628.1l.2 .3M991.3 671l1.5 1.8M994.6 674.8l3.5 3.7M999.8 680.3l1.8 1.7M1003.5 683.9l1.3 1.2M1005.3 685.5l1.5 1.3M1156.4 804.9l12.9 14.6M1186.2 842l3.3 4.3M1191.4 848.8l1.6 1.8M1196.7 854.9l9.2 8.8M1207.2 864.7l.6 .5M1208.9 866.1l1.6 1M898.5 608.5l1.6 .1M903.6 609.1l5.2 1.4M975.5 706.7l9.4 6M1156 849.7l1.5 1.6M795.1 620l1.5-1.4M806 610l9.8-9.2M901.8 762.2l3.3-1.7M907.1 759.6l1.5-.7M1345.9 665.8l1.5-1.7M1348.7 662.7l.5-.5M1350 661.3l2.7-2.9M1353.3 657.7l2.9-3.3M1358.1 652.2l7.9-9.3M1188.6 770l.4 .3M1191 771.5l6.8 4.9M1255.5 869l5.7 2.2M1262.8 871.6l.2 .1M762.2 855.2h0M895.2 801.8h0M1096.3 747.4h0M895.5 712h0M736 718.7h0M1364.5 718.9h0M1106.1 861.9h0M1017.1 611.7h0M871.8 876.7h0M1320.1 608.8h0M1268.4 606.8h0M1249 723.7h0M1232.3 862.9h0M1154.5 802.9h0M901.8 608.8h0M899.8 763.3h0"/><path stroke="#00aaff" d="M741.2 864.7l5.1-2M748.2 861.8l2.2-.9M1268.9 738.3l.2 .1M1271.1 738.6l4.1 .6M1278.1 739.5l.4 .1M765.8 664.5l8.5-9.8M867.2 831.6l1.6-2M870.1 828l10.9-12.5M945.3 619.4l1.4 .2M947.8 619.8l5.9 1.8M1021.7 709.7l.2 .2M1022.6 710.4l7.8 5.2M831.2 693.2l.4-.3M835.3 690l7-6.1M845.8 680.4l.9-.9M944.7 846.7l.6-.8M950.8 839.8l5-5.4M957.8 832.3l8.5-8.5M968.3 821.9l.5-.4M796.8 858.3l.2 .1M798.3 859l9 2.7M1350 761.9l.5 .3M1354.2 764.3l3.7 2.4M1361.2 768.9l1.5 1.2M991.9 619.2l6.2-3M998.5 615.9l2.8-1.3M1002 614.3l.4-.2M1089.9 747.4l6.2 0M1096.5 747.4l1.5 .1M758.8 843.1l1.5 1.6M760.7 845.2l10.5 9.1M1338 782.2l7.9 7.1M1346.8 790.2l1.5 1.6M815.6 813.2l1.6 1.6M826.1 824.5l1.6 1.6M829.6 828.3l1.6 1.7M840.1 839.6l.9 .9M1221.2 631.1l4.1 3.7M1226 635.4l15.1 16.8M1244.8 656.8l1.5 1.9M1247.4 660l.7 .8M1248.5 661.4l1.3 1.6M1251.2 664.6l10.9 12.4M1264.1 679l1.1 1.1M1265.8 680.8l1.3 1.3M875.1 730.9l5.5-.5M964.8 868.2l3.3-1.7M970.1 865.4l5.7-3.1M903.1 708.8l8.1-4.5M1013.2 857.2l8.3-7.7M1023.4 847.7l3.1-2.7M1028.7 843l.2-.2M1063.9 626.3l14.2-12.2M1165.8 772.4l8.6-4.5M1176.3 767.1l.3-.1M841 753.4l7 3.1M924.3 863.3l8.1-.2M934.4 862.9l1.5-.2M1019.5 641.6l.7-.6M1022.1 639.3l5.1-4.6M1029.1 632.9l1.8-1.6M1141.1 778l9.9-5.5M1151.6 772.2l.2-.1M1116.4 650.4l3.3-3M1123.4 643.9l1.5-1.5M1126.9 640.5l9-8.8M1241.8 785.5l.4-.4M1242.8 784.6l7.5-5.1M1254.7 776.9l1.1-.5M947.3 747.7l8.5 2.9M1042.5 863.9l2.6-.4M1047.1 863.1l1.3-.3M1050.6 862.3l1.5-.4M1253.1 618.9l.5 .1M1254.7 619.2l.6 .1M1256 619.5l6.1 2M1262.5 621.7l.9 .4M1322 713.3l1.6 1.2M1324.2 714.9l5 3.3M1330.8 719.2l.9 .5M1259 618.5l.5 .1M1261.9 618.8l4.3 .9M1266.7 619.8l1.5 .4M1333.8 715.2l.9 .6M1335.6 716.4l3.9 2.5M1340.2 719.3l1.5 .8M1105.9 644.9l14.9-15M1122.8 627.9l1.5-1.7M1218.1 793l.7-.6M1224.2 787.5l8.4-6.1M1277.2 620.1l10 4.1M1345.2 705.9l1.6 1.3M1348.3 708.4l5.5 4M1065 677.3l10.3-10.3M1077.2 664.8l1.6-1.7M1183.8 825.3l3.5-3.9M1189.2 819.3l5.3-5.5M1196.2 812.1l1.6-1.5M1023.9 769.9l9.2 7.3M1034.4 778.4l.2 .2M1086.2 854.1l.5 .3M1089.1 856.1l6.7 3.3M1097.4 860l.6 .2M796.8 715.2l.2 .2M799 716.7l6.8 4M1347 618.5l9.4 1.1M1160.4 682.4l10.7-10.4M1172 671.1l1.5-1.7M1278.7 830.9l1.5-1.7M1282.2 827l3.3-3.6M1286.2 822.7l8-8.2M771 747.4l7 0M1307.4 617.4l1.1-.5M1309.3 616.4l6.2-2.9M750 624.2l11.8-8.3M762.2 615.6l.7-.5M855.2 760l1.3-.4M857.8 759.3l4.4-1.1M1356.6 639.7l1.5-1.1M1191.4 725.8l5.7-1M1291.2 865.2l6.8-4.4M1299.9 859.5l1.3-.9M1171.1 734.6l5.5 .2M1177 734.8l1.5 0M1266.2 866.4l10.3-4.9M913 630.8l1.5 1.3M920.2 637.1l1.3 1.3M927 643.7l1.5 1.6M935.7 652.9l.9 .9M1121.7 793l12 12.6M1158.4 836.7l1.5 1.8M1162.8 841.7l2.4 2.5M1167.2 846.2l5.2 4.6M1174.2 852.2l1.5 1.2M880.6 626.4l10.3 8.5M922.6 674.9l3.3 3.9M926.5 679.6l10.5 10.8M748.2 815l1.6 1.9M751.8 819.4l18.8 25.7 8.9 10.8M1121.7 612.6l4.8 3.3 4.6 4.3M1134.8 624.9l5 8.1 5.3 10.9M1147 648.5l9.2 21.9 6.4 12.5M1164.5 686.2l6.2 8.4 7 7.2M1029.1 600.9l9.9-9.6M1105.2 766.8l1.1-.9M1106.8 765.5l6.5-4.3M972 611.6l1.6-2M975.5 607l17.3-23.7M993 898l17.1-25.7 28.2-46.2 10.7-15.8M1052.5 805.7l1.3-1.7M882.8 692l7.9-8.4M891.5 682.5l3.3-4M974.2 871.9l4.6-5.9M980.8 863.5l13.8-16.9M996.5 844.2l3.5-4.2M837.3 719.8l6.8-5M903.8 893l8.1-8M912.5 884.4l1.6-1.4M792.4 749.9l.7 .2M794.2 750.3l3 .7M798.6 751.3l1.5 .4M866.8 877.9l4.8-1.1M872.1 876.6l1.9-.5M764.9 778.8l8.1 7.5M820.9 865.3l.4 .3M822 866.1l5.7 3.2M1161.5 620l.4 .4M1163.9 622.3l6.8 7.6M1172.6 632.3l1.6 2M1176.1 637l6.8 9.6M1186.6 652l13.8 18.5M1002 749.9l.2 .1M1003.1 750.2l5.9 1.3M1077.7 877.6l3.3-.8M1082.9 876.2l1.6-.5M974.4 782.1l8.4 8.3M1025.2 861.5l1.5 1.4M1027.2 863.3l6.1 4.4M736 618.8l4.8 4.7M741.2 623.9l1.6 1.8M744.8 628l.4 .5M775.6 673.4l5.7 6.7M783.2 682.3l.9 .9M785 684.1l1.5 1.5M966.6 837l1.5 2M1318.8 608.5l1 .2M1320.3 608.8l5.2 1.9M753.5 705.4l1.5 1.2M757 708.2l3.9 2.7M762.2 711.7l.9 .6M1275.4 603.3l8.4-3.7M1349.8 738.5l.9 0M1352.7 738.5l5.9 .1M1231.5 603.1l9.2-9.3M1309.1 772l5.7-4.8 6.1-4M1103.7 677.2l1.8-2.3M1106.6 673.5l.6-.9M1108.8 670.5l11.8-17.9 27.7-46.3 15.4-23.1M1163.9 897.9l15.1-20.7M1180.9 874.6l1.1-1.4M1182.7 872.4l1.5-2M1042.7 722l7-4.1M1122.3 885.8l6.1-5.7M1130.4 878.3l1.5-1.4M749.1 631.9l.7-.8M751.8 628.7l15.5-19.4M769.2 606.7l1.6-1.9M772.8 602.2l1.5-2M846.2 803.3l10.3-12M1296.9 693.8l10-11.1M745.6 889.3l.7-.9M748.2 885.8l6.8-8.8M757 874.5l13.8-16.9M772.8 855.3l1.5-1.8M776.2 851.1l.5-.5M1249.2 723.6l4.1-2M1254.2 721.1l1.1-.6M1331.2 884.3l10.3-9.1M1210.7 749.3l.2 0M1212.9 749.7l6.8 1.5M1286.4 878.1l5.9-1.5M1186.4 789.1l.4 .4M1187.5 790.3l3.1 3.6M1192.3 796.2l5 7.6M1199.3 807.1l1.5 2.7M1202.8 813.5l10.3 20.9M1215.1 838.3l6.7 12M1223.8 853.2l8.3 9.5M1232.6 863.1l1.1 .9M957.4 625.4l2.2 2.5M960.2 628.7l30.9 42M993 673l1.3 1.5M998.3 678.8l1.3 1.3M1169.6 819.8l16.4 21.9M1189.7 846.6l1.5 1.9M1193.2 850.9l3.3 3.8M909 610.6l7.2 3.8M917.8 615.5l1.1 .9M966.8 699.4l1.5 1.5M969.6 702l5.7 4.5M816.1 600.6l8.5-8.5M893.9 767.5l5.7-4.1M900.1 763.2l1.5-.9M1198 776.6l7.4 7.2M1247.9 863.5l.6 .6M1249 864.5l6.3 4.3M776.2 652.3h0M955.6 622.4h0M736 771.2h0M962.8 869.2h0M902.5 709.1h0M1333 714.6h0M1103.3 647.4h0M1088.4 855.6h0M1099.1 860.5h0M1306.7 617.7h0M1027.6 602.3h0M819.6 864.3h0M828.5 869.7h0M1242.6 591.7h0M1248.8 723.8h0M1293.4 876.3h0"/><path stroke="#001cff" d="M736 866.5l5-1.8M1275.4 739.2l2.4 .3M1278.7 739.6l6.8 .9M1360.3 867.7l5.7-1.8M774.5 654.5l1.5-1.9M776.5 652l17-23.1 21-32.4M818.2 590.5l4.6-7.4M823.1 897.7l1.9-3.1M828.8 888.6l1.5-2.5M832.2 882.9l1.6-2.4M835.8 877.4l3.2-5.2M841 869.1l1.5-2.4M844.5 863.7l11.8-17.4 10.7-14.4M869 829.4l.9-1.1M953.9 621.7l1.5 .6M955.8 622.5l6.2 3.5M962.6 626.5l1.6 1.2M1011.8 701l9.7 8.6M1022.1 710.1l.2 .1M842.5 683.7l3.1-3M846.9 679.3l7-8M854.6 670.5l1.5-2M930.5 863.8l.8-1.1M933.3 860.2l11.2-13.3M945.6 845.7l5-5.7M956.1 834.2l1.5-1.6M736.2 771.4l5.7 5.1 5 5.6M788.5 852.7l8.1 5.5M797.2 858.5l.9 .4M1358.1 766.8l2.9 2M1362.9 770.2l3.1 2.5M1001.6 614.5l.2-.1M1002.7 614l7-3.2M1080.8 747.8l8.9-.4M736 811.6l14.2 20.7 8.3 10.5M1346.1 789.5l.4 .5M1348.5 792l7.7 8.8 7.8 10.5M1241.3 652.5l3.3 4M1246.6 659l.6 .8M1250.1 663.2l.8 1.1M880.8 730.4l7.2-1M952.6 874.5l3.2-1.7M957.6 871.9l5-2.5M963.1 869.1l1.5-.8M968.3 866.4l1.5-.9M911.4 704.1l7.5-5.5M997.2 873.2l3.3-3.5M1001.1 869l11.8-11.6M1078.3 613.9l10.3-9.7M1090.6 602.2l3.3-3.5M1158.4 777.8l.2-.2M1160.6 776l5-3.5M848.2 756.6l9 5.4M912.3 860.5l.9 .4M915.2 861.6l8.9 1.7M1027.4 634.5l1.5-1.4M1031.1 631l17.1-16.7M1134.1 783.2l6.8-5.1M1136.1 631.5l18.6-20M1156.7 609.2l1.5-1.9M1233.7 792.9l7.8-7.2M1242.4 785l.2-.2M956.1 750.7l8.1 3.4M1030.4 864.2l2.4 .2M1034.8 864.4l7.4-.5M1263.6 622.2l7.7 5.3M1273 629.2l3.3 3.8M1280 638.4l1.6 2.6M1285.3 648.2l14.6 34.8 7.9 14.6M1309.8 700.5l5.7 6.9 6.3 5.7M1323.8 714.6l.2 .2M1268.4 620.3l5.5 2.3 4.8 3.2M1324.4 707.1l1.6 1.5M1327.3 709.9l.4 .4M1329 711.5l3.8 2.9M1333.2 714.7l.4 .4M1334.9 716l.5 .3M1121 629.7l1.5-1.6M1124.5 626l14.7-16.7M1140.2 607.9l1.6-1.9M1213.3 798.2l4.6-4.9M1219 792.2l5-4.5M1287.5 624.3l6.1 4.5 5.9 6.1M1336.7 697.2l8.3 8.5M1347 707.3l1.1 .9M1075.5 666.7l1.5-1.7M1079 662.8l10.3-12.8M1091.2 647.4l1.6-2.1M1161.2 854.1l1.6-2.1M1167.4 845.7l.6-.9M1169.1 843.4l14.5-17.8M1187.5 821.2l1.5-1.7M1033.3 777.4l.9 .8M1034.8 778.8l4.8 5.1M1041.4 786l4.4 5.8M1069.4 833.9l1.5 2.5M1075.9 843.7l.3 .3M1078.1 846.4l7.9 7.5M1086.9 854.6l1.3 .9M1088.6 855.8l.2 .1M736 622.6l.7 .4M737.8 623.6l1.5 1M787.8 707.6l8.8 7.4M797.2 715.5l1.6 1M1356.6 619.7l7.2 2.7M1171.3 671.8l.5-.5M1173.7 669.1l10.5-12.8M1191.2 646.6l1.6-2.2M1235 890.8l1.5-2.4M1245.5 874.7l1.5-2.2M1252.5 864.6l3.3-4.6M1257.7 857.3l1.5-2.1M1261.2 852.6l17.3-21.4M1280.5 828.9l1.5-1.7M1285.7 823.2l.2-.3M763.6 747.8l7.2-.4M1315.7 613.4l8.5-3.7M763.1 614.9l9.9-7.2M851.5 761.3l3.5-1.2M856.8 759.6l.8-.3M1197.3 724.7l7.9-2.1M1278.1 873.9l12.9-8.5M1178.8 734.8l5 0M1257.5 870l8.5-3.5M1133.9 805.8l24.3 30.6M1160.2 838.8l2.4 2.7M1165.4 844.4l1.5 1.6M891.1 635.1l10.1 11.5 21.2 28M926.1 679.1l.2 .2M1131.3 620.5l3.3 4.1M1145.3 644.4l1.5 3.6M1162.8 683.3l1.5 2.6M1039.2 591l5-5.5M1045.3 584.3l.9-1.1M1046.4 898l.4-.6M1101.1 770.6l3.9-3.7M890.9 683.3l.4-.5M895 678.2l3.3-4.4M900.3 671.1l6.8-10.2M910.8 654.9l.2-.4M938.8 607.3l1.5-2.5M947.5 593.6l1.6-2.2M951 588.5l1.6-2.3M953.2 585.3l1.6-2.2M955 897.8l19-25.6M979 865.8l1.6-2M844.3 714.6l6.8-7.5M853 704.3l3.8-6.4 3.4-7.7 6.6-20.5M868.8 662.1l3.3-13.6M874 640.4l1.6-6M877.5 627.1l4.8-14.8 5.5-12.3M891.5 593.6l7.7-10.5M899.4 897.9l4.2-4.7M797.5 751l.8 .2M800.3 751.7l3.1 .8M803.8 752.7l1.5 .5M854.8 878.4l1.3 .2M858.5 878.7l8.1-.8M773.2 786.6l4.4 5.2M779.5 794.5l3.3 5M809.3 852.3l1.5 2.3M812.1 856.4l7.2 7.7M819.8 864.4l.9 .7M821.5 865.8l.3 .1M1170.9 630.1l1.5 1.9M1174.4 634.6l1.5 2.1M1183.1 646.9l3.3 4.8M1009.2 751.5l3.5 1M1014.7 753.1l1.5 .5M1064.8 878.6l.4 0M1067.6 878.8l9.9-1.2M983 790.6l6.3 8.5 5.9 9.8M998.9 816.1l.5 .9M1000.7 819.7l.6 1.4M1012.9 844.6l5.9 9.4 6.2 7.3M743 625.9l1.5 1.8M745.4 628.8l30 44.3M1325.8 610.8l5.2 3.3 4.6 4.6M1337.6 621.2l4.1 6.9 4.2 9.2 12.2 36.3 5.5 13.5M748.2 700.2l5.1 5M755.2 706.8l1.6 1.2M1284 599.5l7.6-2.9M1344.3 738.7l5.3-.2M1350.9 738.5l1.5 0M1240.9 593.6l1.5-1.6M1242.8 591.5l7.3-8.4M1250.3 897.9l5.7-7.7M1256.6 889.2l1.6-2.3M1303.9 777.8l5-5.6M1049.9 717.8l8.8-7.8M1111.2 897.5l10.9-11.5M767.5 609l1.5-2M771 604.5l1.5-2M774.5 599.9l12.3-16.8M787 897.8l2.2-3.2M790.2 893l3.3-4.8M795.5 885.2l4.8-7.4M800.8 877.1l1.5-2.5M804.2 871.4l3.3-5.4M811.2 859.8l1.6-2.7M814.8 853.7l3.2-5.7M820 844.6l1.5-2.6M823.5 838.5l12.3-20.2 10.2-14.7M1307.2 682.4l14-20.1M1354.6 604.1l8.6-13.2M1364.5 589l1.5-2.2M736 587.7l3.3-4.7M739.5 897.7l5.9-8.1M746.5 888.1l1.5-2M755.2 876.7l1.6-1.9M1253.6 721.5l.4-.2M1255.5 720.4l6.4-4.5M1324 891.3l7-6.8M1219.9 751.2l5 1.4M1226.9 753.3l.2 0M1275.9 878.9l10.3-.8M1190.8 794.2l1.3 1.7M1197.6 804.1l1.5 2.6M1201.1 810.2l1.5 2.9M1213.3 834.9l1.5 3M1222.1 850.6l1.5 2.3M916.5 614.5l1.1 .8M919.1 616.5l1.7 1.6M921.3 618.6l3.5 3.9M958.2 689.2l1.4 1.9M961.5 693.6l5.1 5.6M968.5 701.1l.9 .7M824.8 591.8l7.7-8.6M832.7 897.9l.6-.8M884.3 777.4l4.4-5.1 5-4.7M1205.7 784l4.8 6.3 4.6 7.5M1215.5 798.6l10.3 23.4M1227.8 827.1l8.5 19.8M1238.2 850.6l4.6 7.2 4.9 5.5M748.2 783.8h0M998.3 616h0M760.5 845h0M1248.3 661.1h0M1156.9 779.2h0M1262.3 621.6h0M1266.5 619.7h0M1211.8 799.9h0M1189.5 649.1h0M762 615.7h0M849.5 762.1h0M1176.8 734.8h0M1099.3 772.5h0M1106.6 765.7h0M1011 840.9h0M1026.9 863.1h0M741 623.7h0M1322.2 893.1h0M956.1 685.9h0M835.3 894.5h0M1248.8 864.3h0"/><path stroke="#7100ff" d="M1285.7 740.5l9.9 1.9M1349.8 869.8l10.3-2.1M814.8 596.1l3.2-5.2M825.2 894.2l3.3-5.3M830.5 885.8l1.5-2.5M834 880.2l1.5-2.5M839.2 871.8l1.6-2.3M842.8 866.4l1.5-2.4M962.2 626.2l.2 .1M964.4 627.9l7.8 8.1 7.7 11.5M981.9 651.1l3.3 6.2M987.1 661.2l3.3 6.6M992.4 671.7l5 9.3M1000.9 686.9l5.3 7.5 5.4 6.4M854.1 671l.2-.2M856.3 668.2l11.4-16.6 12.9-22.5M882.6 625.5l3.2-6.1M891.3 609.2l15.1-26M906.6 897.8l11.4-17.2 12.2-16.5M931.6 862.4l1.5-1.9M747.2 782.4l.8 1.1M748.5 784.1l9.2 14.8 18.8 38.3 5.7 8.6 6.1 6.7M1009.9 610.7l10.9-4.3M1024.8 605.1l1.5-.5M1067.2 748.9l1.1-.1M1073.8 748.3l6.7-.5M1364.2 811.6l1.8 2.6M888.2 729.4l10.8-2.6 7.8-3.4M932.4 886.1l.7-.6M934.4 884.5l.4-.3M936.4 883.2l.2-.2M939.9 881.1l.2-.2M942.1 879.9l10.2-5.3M956.1 872.7l1.3-.7M919.1 698.4l6.8-6.7 6.1-7.7M934.2 680.7l.4-.7M979.2 895.8l.3-.3M981.7 892.3l1.3-1.9M983.8 889.2l13.2-15.8M1000.7 869.5l.2-.2M1088.8 604l1.6-1.6M1094.1 598.4l11.6-15.1M1105.9 897.9l4.8-8.4 4.2-9M1116.8 875.7l10.3-32.7M1129.1 836.1l7.9-24.7 7.6-16.6M1146.6 791.6l4.8-6.6 5.3-5.6M1157.1 779l1.1-1M1158.8 777.4l1.6-1.2M857.4 762.2l5.3 4.4M864.4 768.4l1.8 2M867.9 772.7l1.5 2.2M871.4 778.1l.7 1.2M899.4 848.9l1.5 2.1M902 852.4l4.8 4.7 5.3 3.3M913.4 861l1.5 .6M1048.4 614l17.3-20.1M1121 797.2l.7-.8M1124.7 792.5l.5-.5M1126.5 790.5l7.4-7.1M1154.9 611.2l1.5-1.8M1158.4 607.1l15.5-21M1210.9 826.6l1.5-2.9M1217.9 813.8l7.4-11.1 8.1-9.6M964.4 754.2l6.1 3.5M1024.8 862.9l5.4 1.2M1033.1 864.4l1.5 0M1271.5 627.7l1.3 1.3M1276.5 633.3l3.3 4.7M1281.8 641.4l3.3 6.3M1308 698l1.6 2.2M1278.9 625.9l5.9 5.9 5.3 7.6 5.2 10.2 6.2 14.5M1303.4 669l10.5 23.3 5.1 8 5.2 6.5M1326.2 708.8l.9 .9M1327.9 710.5l.9 .8M1139.4 609l.6-.8M1142 605.8l16-22.5M1158.2 898l12.5-22.3 24.9-51.4 7.9-13.2 8.1-10.9M1212 799.7l1.1-1.3M1299.7 635.2l9 13.4 18.4 34.9 9.4 13.4M1089.5 649.7l1.5-2M1093 645l14.9-22.2 24.5-39.6M1132.6 897.9l15.1-23.8 13.3-19.7M1163 851.7l4.2-5.7M1168.2 844.5l.7-.8M1039.8 784.1l1.4 1.6M1046 792.1l7.4 12 15.8 29.4M1071.1 836.8l4.6 6.6M1076.4 844.3l1.5 1.9M736.9 623.1l.6 .4M739.5 624.7l5.7 5 5 6.3 4.8 8.2 5.3 11.2M762.2 660.1l12.1 27.9M778 694.7l1.5 2.5M781.3 699.7l6.3 7.7M1364 622.5l2 1.1M1184.4 656.1l4.8-6.6M1189.7 648.8l1.3-1.9M1193 644.1l37.4-61M1230.6 897.8l4.2-6.7M1236.7 888l8.5-13M1247.2 872.1l5-7.2M1256 859.7l1.5-2.1M1259.5 854.9l1.5-2M750 748.9l13.3-1.1M1324.4 609.6l8.6-3.3M1340.2 604l1.5-.5M773.2 607.5l13.1-11.1M790.2 592.3l1.6-1.8M834 772.3l5-4.3M839.7 767.5l9.6-5.3M849.8 762l1.5-.6M1205.4 722.5l10.3-4.8M1217.7 716.4l.9-.6M1266.7 882.3l3.3-2.6M1271.1 878.9l6.7-4.9M1184 734.8l10.3-.2M1201.5 734.7l1.5 0M1241.8 875l1.5-.3M1245.2 874.2l1.6-.5M1247.4 873.5l9.9-3.4M1044.4 585.3l.7-.8M1047.1 897.2l8.5-12.2 7-13.9M1064.6 866.2l5-15M1071.6 844.4l5-18.6M1082.1 806.7l1.5-4.6M1084.9 798.4l.4-1.2M1087.3 792.3l5.5-10.8 6.3-8.8M1099.6 772.2l1.3-1.4M898.5 673.5l1.6-2.1M907.3 660.5l3.3-5.2M911.2 654.2l27.4-46.6M940.5 604.5l6.8-10.5M949.3 591l1.5-2.2M952.8 585.9l.2-.3M851.3 706.8l1.5-2.1M867 668.9l1.6-6M872.3 647.6l1.5-6.3M875.8 633.5l1.5-5.6M888 599.6l3.3-5.7M805.6 753.2l5.6 2.4 4.6 3.1M817.8 760.6l1.5 1.9M824.8 774.4l1.8 6.9M828.3 790.8l1.8 12.6M831.8 818.3l1.8 14.8M838.8 861.5l3.1 7.5 3.7 5M849.3 876.7l5.3 1.7M856.3 878.6l2 .1M777.8 792.1l1.5 2.1M783 799.8l6.8 12.7 13.1 28.5 6.2 11M811 854.9l.9 1.2M1012.9 752.5l1.6 .5M1016.4 753.7l4.8 2.2 3.8 2.6M1026.9 760.4l1.6 1.8M1030.4 765.3l1.6 3.1M1033.9 773.9l4 18.9 4.8 39.7M1044.4 845.1l3.3 15.5M1049.7 866.2l3.3 5.8M1054.9 874.2l4.4 2.9 5.3 1.5M1065.4 878.7l2 .1M995.4 809.3l3.3 6.4M999.6 817.5l.9 1.7M1001.6 821.5l9.2 19M1011.2 841.3l1.5 2.9M1335.8 618.9l1.5 2M1363.8 687.6l2.2 4.2M737.8 684.3l4.8 8.5 5.4 7.2M1291.8 596.5l13.6-3.4M1307.2 593l5 1.1M1315.9 601.9l.9 7.5M1319.6 720.4l.9 8.3 1.5 5.6 2.2 2.8 3.7 1.6M1330.1 738.9l1.3 .1M1333.4 739l10.7-.3M1256.2 889.9l.2-.4M1258.4 886.5l8.5-16 7.7-19.9M1275.9 846.6l3.3-10.4M1281.1 829.8l6.1-19 5.1-13 5.5-10.9 5.9-8.8M1058.9 709.8l6.5-9.1 5.5-11.1 4.8-13.7 5.5-20.1M1083.2 648l1.5-6.1M1088.4 628.1l1.5-5M1091.9 617.1l3.3-8.5M1097.2 604.2l6.1-11.1 7.4-10.1M789.4 894.3l.6-.9M793.8 887.9l1.5-2.3M802.5 874.3l1.5-2.5M807.8 865.7l3.2-5.6M813 856.8l1.5-2.7M818.2 847.7l1.6-2.7M821.8 841.6l1.5-2.7M1321.4 661.9l33-57.4M1363.4 590.6l.8-1.3M1262.1 715.7l7.4-7.8M1270 707.3l1.5-2.1M1310.2 593.3l1.6-2.3M1312.8 589.4l4.9-6.2M1317.9 898l4.1-4.7M1322.5 892.8l1.3-1.3M1225.1 752.7l1.6 .5M1227.3 753.4l5.9 2.9 4.6 3.8 3.5 5.1 2.9 6.8 4.1 19.5 4.8 40.6M1254.9 845.2l1.9 10.7 2.2 7.9 2.9 6.4 3.3 4.2M1266.2 875.4l4.2 2.3 5.3 1.2M925 622.8l4.4 6.3 4.4 8.1 14.8 34.6 7.2 13.7M956.3 686.2l1.7 2.7M959.8 691.4l1.5 2M833.6 896.8l1.5-2M835.5 894.3l8.1-12.4 6.6-13.6 6.1-17 15.1-49.1 5.9-13.6 6.8-10.9M1226 822.6l1.5 3.9M1236.5 847.3l1.5 2.9M1123.4 794.1h0M803.6 752.6h0M1317 612.6h0M1317.2 616.8h0M1317.4 622.5h0M1317.7 630.2h0M1317.9 640.7h0M1318.1 654.3h0M1318.3 669.8h0M1318.5 684.5h0M1318.8 696.5h0M1319 705.4h0M1319.2 711.9h0M1319.4 716.8h0M1110.9 897.8h0M800.5 877.4h0M921.1 618.3h0M1215.3 798.2h0"/><path stroke="#ff00ff" d="M1295.8 742.4l6.8 2.6 5 3.8 3.7 5.5 2.9 7.6 3.7 20.4 6.1 56.9 2.2 11.6 2.4 7.6 3.3 5.8 4.3 3.8 6 1.8 7.4 0M980.1 647.9l1.6 2.8M985.4 657.7l1.5 3.1M990.6 668.2l1.6 3M997.6 681.4l3.1 5.1M880.8 628.7l1.5-2.8M886.1 619l5-9.4M1021 606.4l3.5-1.2M1026.5 604.5l10.5-2.4 3.3 0 2.4 .7 1.7 1.7 1.1 2.5 1.3 8.7M1049.2 732.3l1.1 9.9 1.1 3.5 1.4 1.8 1.9 1.2 2.6 .5 9.7-.3M1068.5 748.7l5-.4M907.1 723.2l5-4.4 3.3-6.2 2.2-10.1 1.3-14.1M922.2 605.3l1-12.3 1.8-9.5M925.2 897.7l2.9-6.6 4.1-4.8M933.3 885.4l.9-.7M935.1 884.1l1.1-.8M936.8 882.9l2.9-1.7M940.3 880.8l1.5-.8M932.2 683.7l1.8-2.7M934.8 679.7l5.5-9.8 5.3-11.5 20.5-53.2 5.7-11.8 5.9-10.2M977.9 897.9l1.1-1.7M979.7 895.2l1.7-2.6M983.2 890.1l.4-.6M1115.1 880l1.5-3.8M1127.3 842.3l1.6-5.4M1144.8 794.4l1.6-2.5M862.9 766.8l1.3 1.4M866.4 770.7l1.3 1.7M869.7 775.2l1.5 2.5M872.3 779.7l6.8 15.5 12.9 38.7 3.5 8.1 3.7 6.5M901.2 851.3l.6 .8M1065.9 593.6l7.2-10.5M1073.3 897.8l6.6-11.4 6.3-13.2 22.6-55 5.9-11.3 6.1-9.4M1121.9 796.1l1.3-1.7M1123.6 793.9l.9-1.1M1125.4 791.8l.8-1M1174.2 585.7l1.5-2.4M1175.9 898l12.9-23.4 21.9-47.5M1212.7 823.2l5-9M970.7 757.8l5.1 4.1 4.3 4.8 3.7 5.8 3.3 6.8 5.1 14.6 10.2 38.4 5.9 15.1 3.5 5.8 3.8 4.2 4.1 3.2 4.8 2.2M1301.7 664.6l1.5 3.9M760.5 655.9l1.5 3.6M774.5 688.4l3.3 5.9M779.8 697.5l1.3 1.9M736 746.8l1.8 1.4 2.6 .8 9.4-.1M1333.2 606.2l6.8-2.2M1341.9 603.5l8.6-1.6 4.6 1.1 2.4 4 1.3 9.3M1361.2 734.2l1.5 10.3 1.3 2.6 2 1.5M786.5 596.2l3.5-3.6M792 590.2l5-7.2M797.2 897.7l5.3-11.2 4.4-14.9 9.8-56.1 4.2-18.1 5.4-14.3 3.5-5.8 4-4.7M839.2 767.8l.3-.2M1215.9 717.6l1.6-1M1218.8 715.6l4.8-4.5 3.9-5.4 3.3-6.8 2.6-8.2 3.8-19.4 8-63.1 3.6-14.5 4.3-10.5M1253.3 897.8l5.5-7.9 7.7-7.4M1270.2 879.5l.6-.5M1194.5 734.6l6.8 .1M1203.2 734.8l7 1.6 2.2 1.6 1.8 2.3 2.4 7.5 1.5 13.5M1221.4 849.6l1.8 15.4 1.3 4.6 1.7 3.2 2.4 2.1 3.1 1 4.4 .1 5.4-.9M1243.5 874.6l1.5-.4M1247 873.7l.2-.1M1062.8 870.6l1.5-3.8M1069.8 850.5l1.5-5.3M1076.8 824.9l5-17.5M1083.8 801.4l.9-2.4M1085.6 796.7l1.5-3.8M816.1 758.9l1.5 1.5M819.6 762.8l2.8 5 2.2 5.9M826.6 781.3l1.7 9.5M830.1 803.4l1.7 14.9M833.6 833.1l2.4 16.2 2.6 11.4M845.8 874.2l3.3 2.4M1025.2 758.7l1.5 1.4M1028.7 762.5l1.5 2.4M1032.2 768.9l1.5 4.3M1042.7 832.5l1.7 12.6M1047.9 861.3l1.6 4.4M1053.2 872.3l1.5 1.7M736 680.6l1.5 3.2M1305.6 593.1l1.3-.1M1312.4 594.3l2.2 2.9 1.3 4.7M1328.2 738.7l1.7 .2M1331.7 739l1.5 0M1274.8 850l.9-2.7M1279.4 835.5l1.5-5M1081.4 655l1.5-6.2M1084.9 641l3.3-12.1M1090.2 622.4l1.5-4.7M1095.4 608.1l1.5-3.5M1271.7 704.8l5.7-10.5 5-13.5 12.5-49.1 4.6-15.4 4.8-12.1 5.7-10.5M1312 590.7l.6-1M1253.1 832.1l1.8 13.1M1265.4 874.6l.6 .6M1047.1 619h0M1047.3 623.6h0M1047.5 630.4h0M1047.7 640.8h0M1047.9 656.4h0M1048.2 676.9h0M1048.4 697h0M1048.6 711.8h0M1048.8 721.5h0M1049 727.9h0M919.1 684.8h0M919.3 680.6h0M919.5 675.7h0M919.8 670.3h0M920 664.1h0M920.2 657.4h0M920.4 650.3h0M920.6 643.1h0M920.8 636.1h0M921.1 629.4h0M921.3 623.3h0M921.5 617.9h0M921.7 613.1h0M921.9 608.9h0M1359 619.9h0M1359.2 625.2h0M1359.4 633h0M1359.7 645.2h0M1359.9 663.2h0M1360.1 685h0M1360.3 703.8h0M1360.5 716.6h0M1360.8 724.9h0M1361 730.3h0M1218.3 764.7h0M1218.6 768.7h0M1218.8 773.4h0M1219 778.9h0M1219.2 785.3h0M1219.4 792.6h0M1219.7 800.5h0M1219.9 808.6h0M1220.1 816.6h0M1220.3 824.1h0M1220.5 830.9h0M1220.8 836.7h0M1221 841.7h0M1221.2 846h0M1269.8 707.6h0"/><path stroke="#000" d="M786.1 841.5l1.1-.7M1243.1 732.9l.6 .2M920.4 784.5l.2-.1M1339.8 702.7l.4-.2M1176.1 812.1l.7 .5M796.8 709.1l.4-.1M1003.8 793.8l1-.7M842.3 857.2l.7-.2M1322.7 748.3l.4 .2M1121.4 750l1.1 .2M1104.8 613.3l.2 .1M780.6 783.2l.7 .5M1180.1 616l.8 0M1312.8 716.3l.9 .6M842.3 728.6l.2 .1M872.9 716.7l.5 0M1001.3 674.7l.7-.4M810.2 741.4l.6 .2M1273.2 769.6l.5-.1M751.5 618.7l1.1 .8M791.3 650l.7 .6M1082.7 849.4l.2-.1M748.7 736.5l.4 .2M928.1 866.3l.4 .3M1219.4 627.4l.5-.2M1255.1 771l.9-.3M876 811.9l.2 .2M947.1 867.5l.2 .1M1229.3 786.9l1.1-.6M801 613.3l.4 .2M890.2 682.8l.2 .2M1310.2 627.2l.5-.2M885.4 756.3l1.1 0M1323.3 663.8l1.1-.8M1161.7 725.9l.2 0M1142 730.6l.9 .2M1318.3 836.7l.7-.4M1177.4 867.1l1.1 .2M815.8 875.7l.3 0M1084 611.8l.7-.2M1211.8 722.7l1.1 .6M736 856.5l14 12.6 13.1 9M1023 628.5l18.2-12.4 17.7-10 17.3-7.7 14.4-4.2 7.2-.1 2.4 .9 1.8 1.7 2.4 6.3 1.3 11.2M1108.8 717.2l.8 8.4 1.6 6.4 1.9 3.3 3.1 1.9 6.8 1.1 29.7 .2 18.4 2.6M853 712.3l.5-.2M805.8 728.7l.6 0M1223.6 606.2l1.1 .9M1258.4 637.9l1.1 1M910.6 858.1l.2-.1M1173.5 602.9l.2 .1M1257.1 678.4l.4 .3M741 763.7l1.1 .6M1128.9 605.7l.6 .1M1242.2 706.4l.2 .1M1346.5 788l.7 .5M803.4 605.8l.4 .4M840.1 639.3l.9 .8M977.9 744.2l.9 .3M1118.8 858.7l1.1-.7M839.2 680.9l.7 .5M949.9 765.7l.5 .2M1336 606.2l.5 0M818.9 710.3l.7 .4M1015.1 876.5l1.1 .2M909.5 819.2l1.1 1M908.6 857.5l1.1 1M1341.5 755.9l.4 0M1061.9 711.5l.5-.2M1251.6 794.8l.4-.4M878.6 773.7l.5-.2M824.6 800l.6-.5M1224.5 728.9l.8-.1M1188.4 744l.8 .3M1155.6 766.3l.2 .1M1137.2 788.2l.2 .1M1233 875.9l.4 .1M875.8 611.8l.4-.1M1003.5 722.8l1.1 .5M1121 814.5l1.1 1M1189.7 877.5l1.1 .6M826.1 623.6l21-12.2 10.1-4.5 9.2-3.1 8.1-1.8 6.7-.4 5.7 1 4.4 2.4 2.9 2.9 2.4 4 3.9 12.5 2.6 16.1 6.4 55.2 2.8 13.2 3.7 9 5.3 6.2 7.4 4 41.1 9.5M923.9 754.9l.2-.1M978.6 602.9l.6 .4M1054.7 671.9l1.1 .9M1292.7 868.9l.9-.3M1218.1 677h0M1170 766.4h0M1067.4 687.6h0M869.7 820.6h0M959.6 819.9h0M1019.5 866.7h0M1347.6 826.5h0M878 613.9h0M999.8 707.1h0M1214.4 864.1h0M1105.9 617.7h0M1106.1 622.1h0M1106.3 627.7h0M1106.6 634.8h0M1106.8 643.7h0M1107 654.4h0M1107.2 666.2h0M1107.4 678h0M1107.7 688.5h0M1107.9 697.2h0M1108.1 704.1h0M1108.3 709.5h0M1108.5 713.8h0M790.2 726.2h0M1167.4 662.5h0M1183.1 831.8h0M761.6 833.6h0M1312.6 695.4h0M1170 759.9h0"/></g><g fill="none" stroke-width="2.5" stroke-linecap="round" stroke-linejoin="round" shape-rendering="crispEdges"><path stroke="#ff0000" d="M1107.4 695l18.6-15.2 19.7-20M1147.7 657.6l1.1-1.2M1149.4 655.7l1.6-1.8M1152.9 651.7l1.6-1.8M1282.4 786.6l7.7-6.3 8.1-5.5"/><path stroke="#ff8e00" d="M1145.9 659.6l1.6-1.7M1149 656.1l.2-.2M1151.2 653.7l1.5-1.8M1154.7 649.6l5-5.9M1161.7 641.4l8.5-10.4M1273.7 795.4l8.5-8.6M1271.7 797.6h0"/><path stroke="#e3ff00" d="M1159.9 643.5l1.6-1.8M1170.4 630.7l19.1-24.1M1191.4 604l6.8-9.1M1200.2 592.2l1.5-2.1M1257.9 815.9l3.3-4.8M1262.3 809.6l9.2-11.7M1271.9 797.4l1.6-1.7"/><path stroke="#55ff00" d="M1189.7 606.3l1.5-2M1198.4 594.6l1.6-2.1M1201.9 589.8l4.9-6.8M1207 897.7l21-32.3M1229.9 862.1l27.8-45.9M1261.4 810.8l.7-.9"/><path stroke="#00ff39" d="M1228.2 865.1l1.5-2.6"/><path stroke="#000" d="M1298.4 774.6l.4-.2"/></g>
<rect x="736" y="583" width="630" height="315" fill="none" stroke="#000" stroke-width="4.4" shape-rendering="crispEdges"/>
<g font-family="Liberation Serif,serif" font-weight="bold" font-size="118" aria-hidden="true" transform="translate(0,1170.5) scale(1,1.035) translate(0,-1170.5)"><text x="948.1" y="1175.1" fill="#c9c9c9">IGN</text><text x="942.6" y="1169.6" fill="#fbfbfb">IGN</text><text x="943.5" y="1170.5" fill="url(#wmw)">IGN</text></g>
<g shape-rendering="crispEdges"><path d="M736,1239.5H1366M736,1187.5H1366M736,1134.5H1366M736,1082.5H1366M736,1029.5H1366" stroke="#000" stroke-width="1.3" fill="none" shape-rendering="auto"/><rect x="736" y="977" width="630" height="315" fill="none" stroke="#000" stroke-width="4.4"/><path d="M762.2,977v5M762.2,1292v-5M788.5,977v5M788.5,1292v-5M841.0,977v5M841.0,1292v-5M867.2,977v5M867.2,1292v-5M919.8,977v5M919.8,1292v-5M946.0,977v5M946.0,1292v-5M998.5,977v5M998.5,1292v-5M1024.8,977v5M1024.8,1292v-5M1077.2,977v5M1077.2,1292v-5M1103.5,977v5M1103.5,1292v-5M1156.0,977v5M1156.0,1292v-5M1182.2,977v5M1182.2,1292v-5M1234.8,977v5M1234.8,1292v-5M1261.0,977v5M1261.0,1292v-5M1313.5,977v5M1313.5,1292v-5M1339.8,977v5M1339.8,1292v-5" stroke="#000" stroke-width="1.8" fill="none"/><path d="M814.8,977v6.5M814.8,1292v-6.5M893.5,977v6.5M893.5,1292v-6.5M972.2,977v6.5M972.2,1292v-6.5M1051.0,977v6.5M1051.0,1292v-6.5M1129.8,977v6.5M1129.8,1292v-6.5M1208.5,977v6.5M1208.5,1292v-6.5M1287.2,977v6.5M1287.2,1292v-6.5M736,1238.7h7M1366,1238.7h-7M736,1186.2h7M1366,1186.2h-7M736,1133.7h7M1366,1133.7h-7M736,1081.2h7M1366,1081.2h-7M736,1028.7h7M1366,1028.7h-7" stroke="#000" stroke-width="2.4" fill="none"/></g>
<g fill="none" stroke-width="2.5" stroke-linecap="round" stroke-linejoin="round" shape-rendering="crispEdges"><path stroke="#ff0000" d="M779.1 1263.3l.4 1M781.1 1267.6l1.9 4.3M784.1 1274.2l1.8 3.7M1243.9 1271.9l.7-1.9M1340.4 1288.7l.9-2.5M910.1 1290.7l8.6-23.6M1058 1262.2l.7 1.6M1060.6 1268.6l2.4 5.6M1177 1266.1l2.4-3.3M1181.4 1260.2l.4-.5M1230.8 1259.5l1.1 1.7M1233.9 1264.3l1.5 2.6M1236.3 1268.5l11.1 22.4M798.6 1281.5l1.5-4.6M835.8 1262.4l1.5 4.3M840.1 1274.6l2 5.4M1137 1290.7l8.5-16.4M1147.5 1270.9l1.5-2.4M1201.7 1267.7l1.5 2M1214 1284.8l3.9 5.8M1324.4 1261.2l.9-2.3M942.5 1290.9l1.5-2.9M947.8 1280.9l1.5-3M951.2 1274l1.6-3.1M954.8 1267l.4-.9M1121 1259.8l.2 .7M802.1 1258l11.1 32.8M1105.2 1289.2l7-18M1202.8 1267.9l1.5 2.7M1206.3 1274l10.3 16.9M877.5 1260.4l10.7 30.1M1181.8 1285.7l.4-1.3M1183.6 1280.6l4.6-13.4M1306.5 1268l6.1 11.6M842.8 1274.4l1.3-3.9M1012.1 1258.1l1.5 3.1M1015.6 1265.1l3.2 6.5M1019.5 1272.8l3.9 7.6M873.6 1279.4l4.4-13.8M1068.1 1257l3.5 7M1002.2 1289.2l2.4-4.7M1006.6 1280.6l1.5-3M811 1267.4l1.6-4.2M958.9 1257.6l1.5 4.1M961.5 1264.6l.7 1.7M962.8 1268l5.3 13.2M1263.2 1290.9l1.5-2.2M1266.7 1286l6.8-7.6M1275.4 1276.7l3.3-2.4M1280.7 1273.2l1.5-.8M1306.9 1279.1l1.6 1.3M1313.9 1286l1.6 1.7M1317.4 1290l.7 .8M967.9 1286.9l3.3-7.1M1067.6 1290.4l1.3-3M1070.9 1282.8l1.5-3.5M1076.2 1270.9l1.5-3.4M752.8 1289.4l6.4-5.4 6.1-3.1M767.3 1280.3l.4-.1M772.5 1280l3.3 .5M777.8 1281.1l1.5 .6M781.3 1282.7l5 3.2M1076.8 1266.1l1.5 3.8M1078.8 1271l3.7 8.9M736.2 1263.7l1.3 3.4M860 1274.8l.5-.5M861.8 1272.8l6.8-7M903.8 1267.4l1.5 1.7M907.3 1271.6l5.9 8.6 6.1 10.7M1210 1290.7l10.3-27.1M1364 1262.6l2 5.1M745.2 1262.4l1.1 2.9M746.9 1267l1.6 3.9M869.9 1274.6l8.1-8.5M880.2 1264.2l2.8-2.1M915.2 1269.9l6.1 8.4 6.5 11.1M1220.1 1288.8l9.6-25.4M1231.7 1257.9l.9-2.4M1049.2 1290.8l5.1-11.8M762.2 1272.6l.9 2M876.4 1266.3l1.1-1.6M932 1261l3.3 5.5M937.2 1270l3.3 6.2M942.5 1280.2l4.4 9.3M1238.5 1290.4l2.4-6.5M1242 1280.9l3.2-9.1M1249 1261.2l1.1-3.2M1021.2 1290.2l3.3-9.4M801.6 1289.1l2.6-5.8M806.2 1279.1l3.3-6.6M811.5 1268.7l1.5-2.8M992.4 1259.4l.8-2.2M994.1 1255l.5-1.2M1127.1 1260l11 30.7M837.3 1266.5l2.4 6.1M959.8 1274.5l8.3-8.9M973.6 1261.2l1.5-1M1003.3 1266.4l3.3 3.9M1010.3 1275.4l9 15.1M1310.9 1289l.9-2.3M1313.7 1281.7l3.3-8.7M1319 1267.7l1.5-4.2M1327.3 1252.9l.2 .6M1328.4 1255.7l.2 .6M802.1 1251.7l.2 .7M804.9 1260.6l1.1 3.4M1256.2 1287.4l5-9.7M1263.2 1273.8l1.5-3M1324.7 1288.3l1.9-3.6M1330.3 1277.9l1.6-2.8M1337.3 1265l.3-.4M1162.1 1275.5l2.2-6.8M1165.2 1266l.2-.7M1337.6 1258.6l2.4 4.6M1341.9 1266.9l5.5 10.2M1143.1 1271.7l2.2-6.5M1311.1 1264.8l3.9 8M1317 1276.7l1.1 2.2M878.2 1290.2l4.6-12.7M883.2 1276.3l2.2-6M886.7 1266.8l1.5-4.1M1202.6 1255.8l1.1 3.2M1205.7 1264.8l8.5 25M842.1 1290.5l7.4-21.8M850.8 1264.8l3.3-9.8M978.6 1273.6l2.6 5.2M1078.3 1257.8l.9-1.6M1167.4 1260.9l1.7 4.5M1171.1 1270.6l6.1 16.5M806 1256.5l1.5 5.2M809.5 1268.3l6.1 20.9M1084.9 1287.6l5.7-19.1M1091 1267l3.3-11.4M1208.1 1262.7l3.5 11.1M1329.2 1269.4l2.5-4.9M1332.8 1262.3l1.5-3M966.6 1290.9l5-8.3M973.6 1279.3l3.2-5.4M1135.9 1256.4l.2 .8M893.3 1290.4l5-13.1M905.5 1259.4l.3-.5M1042 1262.2l.5 1.1M806.7 1272.1l2.6-9.9M954.8 1251.4l1.3 2.4M959.8 1260.7l11.4 19.9M1224.9 1289l3.7-4.2M1230.6 1283l6.1-3.6 5.9-.7M1244.6 1279.1l5 2.3M1251.6 1282.9l3.3 2.9M768.8 1267.7l1.8-6.3M900.1 1261.6l10.2 28.2M1173.9 1289.6l.3-.6M1177 1280.9l1.5-4.2M1249.4 1272.6l.9 1.9M1252.2 1278.9l3.3 7.3M849.5 1252l1.6 5.4M856.3 1275.7l4.4 14.7M1129.8 1287.9l.6-2.3M1237.4 1276.3l1.5 4.1M1241.3 1286.6l.7 1.7M804 1289.9l4.4-5.3M813.9 1279.9l4.1-2 4.4-.5M824.4 1277.6l6.8 3.1M833.1 1282.3l.2 .1M838.4 1287.5l1.5 1.9M979.7 1261.7l1.3-4.8M1109.2 1261.2l9.4 26M754.8 1285.4l3.7-10.6M828.8 1265.4l1 2.4M831.8 1272.3l1.5 3.4M837.3 1284.7l1.3 3M1059.5 1262.5l8.1 27.8M1336.7 1288.6l2.6-9.1M1341.3 1272.7l1.5-5.3M1344.8 1260.5l.4-1.5M814.8 1272.9l3.2 9M1006.8 1259.6l1.5 4.9M1010.3 1270.9l4.6 15M1283.3 1290.6l9.6-31.2M786.8 1265.1l1.5 5M788.9 1272.2l1.1 3.5M910.8 1271.5l1.3-2.5M913 1267.4l.2-.4M914.7 1264.2l1.3-2.2M960.2 1259.6l6.6 13.3 7.2 17.6M1233.7 1290.8l13.7-34M754.2 1263.5l1.7 6.4M909.9 1288.3l3.3-.6 3.3 .2 6.5 2.9M1167.6 1290.6l1.1-1.9M1169.1 1288l1.6-2.5M1174.4 1279.4l1.5-2.6M1063.7 1279l.6-2.1M1067.2 1267.5l1.5-5.1M1247.4 1252l1.6 3.5M1249.6 1257l1.8 4.1M1016.7 1275.9l2.4-9M1173.3 1263.5l9.6 16.5M1267.1 1283.3l2.4-8.2M821.8 1255.9l2.6 5.6M1226.2 1268.8l1.6-5.7M753.5 1266.8l5 8.8M759.2 1276.7l2.2 3.7M1017.8 1286.2l6.7-6M1026.5 1279.2l4.2-1.2 4.3 .2 4.4 1.7 4.4 3.1M1045.8 1284.8l5 5.7M1189.5 1264.3l.4-1.6M1317.9 1255.4l12.7 35M958.2 1290.4l5.1-14.7M1042.2 1281.9l4 9M1156 1253.5l2-6.4M1261.4 1251l11.4 39.6M923 1278.3l5.1-17.3M1023 1262.6l1.3 3.7M1028 1276.4l3.3 8.7M1225.3 1263.1l2.7 8.8M1229.9 1278.6l2.9 9.6M876.4 1288.3l2.2-7.2M879.3 1278.9l1.5-5.2M884.5 1260.9l.3-.7M1000 1263.2l1.6 5M1002 1269.6l1.3 4.1M1122.3 1266.9l.2-.4M1180.5 1264.2l9 22.9M753.1 1287.9l1.5-2.5M760.1 1276.4l1.5-2.5M922.8 1256.4l.9 3.3M1312.8 1290.4l1.4-3.4M1317.9 1277.5l1.5-3.8M1323.1 1264.6l1.1-2.6M979.5 1288.1l2.4-6.3M983.8 1276.7l3.3-7.9M1041.8 1261.9l1.3 2.5M1171.8 1251.6l.4-1.5M1283.8 1257.3l8.7 29.5M920.2 1251.3h0M739.3 1271.5h0M913.2 1267.6h0M760.3 1268h0M1250.7 1256.1h0M1229.1 1250.6h0M815 1262.4h0M1008.3 1272.6h0M991.5 1274.8h0M995 1280.8h0M1090.2 1253.8h0M1137.2 1261.4h0M1083.8 1248.8h0M1084.9 1252.3h0M772.3 1254.9h0M742.8 1249.6h0M1295.6 1250.5h0M1183.1 1264.9h0M1340.4 1254.3h0M965.2 1270.2h0"/><path stroke="#ff8e00" d="M778 1260.9l.9 1.9M779.8 1264.7l1 2.4M783.2 1272.3l.7 1.4M1244.8 1269.4l1.1-3.2M917.3 1243.5l2.7 7.2M1346.8 1270.9l.8-2.5M1352 1256.3l.9-2.4M918.9 1266.5l1.9-5.7M1057.1 1260l.7 1.6M1182 1259.4l2.4-3M1184.9 1255.9l1.5-1.7M1226.9 1254l1.5 2.1M1229.7 1257.9l.9 1.3M1232.1 1261.5l1.6 2.5M1235.6 1267.3l.5 .8M797.5 1284.7l.8-2.6M803.8 1265.7l1.5-4.7M1001.8 1253.6l1.7 4.2M829.8 1245.3l5.7 16.5M837.5 1267.4l2.4 6.6M1145.7 1273.9l.7-1.1M1149.2 1268.1l5-7.1M1156.2 1258.6l1.1-1.2M1159.7 1254.9l1.5-1.4M1194.3 1259l.2 .3M1200 1265.5l1.5 2M1210.5 1279.7l3.3 4.8M1323.3 1263.9l.9-2.2M1325.5 1258.3l.5-1.1M946 1284.2l1.5-2.9M953 1270.5l1.5-3.1M955.4 1265.6l.9-1.8M960 1256.1l1.5-3.3M1119.7 1255.7l1.1 3.5M798.3 1246.8l.5 1.4M799.7 1250.8l2.1 6.6M1112.5 1270.7l2.4-5.9M1115.3 1263.7l2.2-5.2M1308.2 1256.1l.9-2M1310 1252l.4-1M781.5 1250.7l2.2-4.5M873.4 1249.1l3.9 10.7M1181.2 1287.6l.4-1.3M1182.5 1283.8l.8-2.6M1188.4 1266.5l3.7-10.8M1194.1 1250l1.1-3.2M1306.1 1267.1l.2 .5M844.3 1269.8l1.3-4M847.6 1259.7l.2-.7M1011.4 1256.8l.4 .9M1015.1 1264.3l.2 .4M1019.1 1272l.2 .4M1065.4 1251.8l2.4 4.8M1004.8 1284l1.6-3M1008.3 1277.2l5.1-9.7M1197.3 1246.7l3.1 10M812.8 1262.6l1.5-4.2M960.7 1262.3l.6 1.7M962.4 1266.8l.2 .6M1264.9 1288.4l1.6-2.1M1273.7 1278.2l1.5-1.4M1278.9 1274.1l1.6-.8M1282.4 1272.4l1.6-.6M1285.9 1271.3l.5-.1M1289.4 1271l6.8 1.3M1298.2 1273.1l6.8 4.3M1312.2 1284.1l1.5 1.7M1315.7 1288l1.5 1.7M971.4 1279.3l1.5-3.3M980.1 1261l1.6-3.1M1069.2 1286.9l.2-.5M1072.7 1278.8l1.5-3.4M1077.9 1267l1.5-3.3M1272.2 1248.9l.8 2.8M767.9 1280.2l4.4-.2M776 1280.6l1.6 .5M786.5 1286.1l1.6 1.2M790 1288.9l1.1 1M921.1 1271.4l.8-2.4M924.6 1261.7l.2-.6M1075.3 1262.3l1.3 3.3M737.8 1267.6l1.3 3.3M739.5 1272l.2 .6M860.7 1274l.9-1M870.5 1264.1l1.6-1.2M886.3 1257.4l1.5 .2M891.5 1258.4l1.6 .6M895 1260l5.1 3.7M902 1265.5l1.6 1.6M905.5 1269.4l1.6 1.9M1220.5 1263l5.1-14.2M1227.5 1243.1l.9-2.6M1361.2 1255l2.6 7.1M744.8 1261.3l.2 .6M746.5 1265.9l.2 .5M878.2 1265.9l1.7-1.5M883.2 1261.9l3.7-2.1M899.4 1258.2l1.5 .5M906.4 1261.5l1.5 1.1M909 1263.5l4 3.8M913.4 1267.8l1.5 1.8M1229.9 1262.8l.3-.6M1232.8 1254.8l1.1-3.1M1054.5 1278.5l4.4-10.1M1065 1254.7l1.5-3.3M757 1259.9l3.1 7.5M760.7 1269l1.3 3.1M877.8 1264.4l4.5-6M927 1253.8l1.3 1.8M935.5 1266.8l1.5 2.8M940.8 1276.6l1.5 3.1M1241.1 1283.3l.7-1.8M1245.5 1271.2l1.5-4.4M1250.3 1257.3l.2-.6M1250.9 1255.4l3.1-9M1024.8 1280.2l4.8-13.7M1227.5 1246.5l1.3 3.5M804.5 1282.8l1.5-3.3M809.7 1272l1.5-2.9M813.2 1265.5l1.6-2.7M815.2 1262.1l1.3-2.2M871 1261.6l1.5 2.1M876.2 1269.1l1.6 2.3M879.7 1274.3l3.3 5M885 1282.4l3.2 5M990.6 1263.7l1.6-3.8M993.5 1256.6l.4-1.1M994.8 1253.3l.9-2.3M1123.6 1249.7l1.6 4.5M835.8 1262.5l1.3 3.4M968.3 1265.4l.9-.8M970.1 1263.8l3.2-2.5M982.3 1257.2l.5 0M996.3 1260.3l1.5 1.1M999.8 1263l1.5 1.4M1006.8 1270.6l1.3 1.7M1312 1286.2l1.5-4M1317.2 1272.4l1.6-4.2M1320.7 1262.9l.7-1.9M1119.5 1289.4l1.5-4.4M1123 1279.2l1.1-3.1M1124.7 1274.2l1.5-4.5M1128.2 1264l1.6-4.5M1325.3 1247.8l1.8 4.5M1327.7 1254l.5 1.2M800.8 1247.5l1 3.5M803.4 1255.8l1.3 4.1M1254.4 1290.7l1.6-2.9M1266.7 1266.8l1.5-3.2M1270.2 1259.6l1.5-3.2M883.2 1249.3l2 6.5M1326.8 1284.3l1.6-2.8M1337.8 1264.2l1.1-2.1M1164.5 1268l.5-1.4M1165.6 1264.6l2.9-9.1M1336.7 1257l.6 1.2M1340.2 1263.6l1.5 2.9M1145.5 1264.5l1.5-4.7M1308.7 1259.7l2.2 4.6M1315.2 1273.2l1.6 3.1M885.6 1269.7l.9-2.3M888.5 1262.1l1.3-3.5M990 1272l1.3 2.4M993.5 1278.2l1.3 2.3M997 1284.1l1.5 2.5M1090.4 1253.3l2.6-5.9M1202.2 1254.5l.2 .6M1203.9 1259.7l1.5 4.5M849.8 1268.1l.8-2.6M854.3 1254.4l.3-.7M973.6 1263.2l1.3 2.8M975.3 1266.9l1.3 2.8M977.1 1270.6l1.3 2.6M1079.4 1255.8l.9-1.7M1081.8 1251.3l1.1-2.1M1164.1 1252.7l3.1 7.7M1170 1267.7l.9 2.3M808.4 1264.6l.9 3M1094.5 1254.8l3.3-11.7M1203.7 1248.1l.9 3M1206.5 1257.7l1.3 4.3M1331.9 1264l.6-1.3M1334.5 1258.9l1.5-2.9M971.8 1282.2l1.5-2.5M977.1 1273.5l3.2-5.6M1133.2 1246.3l2.5 9.3M1136.3 1258.1l.7 2.5M906 1258.4l2.8-6.7M910.8 1247.2l.2-.5M1082.3 1243.9l1.3 4.2M1084 1249.5l.7 2.1M853.7 1282.1l.6-2.2M854.8 1278.5l1.5-5.2M1040.3 1258.3l1.5 3.4M809.5 1261.4l1.7-6.7M812.8 1248.8l.4-1.7M949.9 1242l.9 1.7M952.8 1247.6l1.7 3.3M956.3 1254.3l1.5 2.8M958.9 1259.1l.7 1.2M1228.8 1284.6l1.6-1.4M1242.8 1278.8l1.6 .3M1249.8 1281.6l1.6 1.1M1255.1 1286l3.1 3.3M770.8 1260.6l1.3-4.9M772.5 1254.1l1.1-4.1M894.8 1245.8l3.3 10M899.2 1259l.6 2M1174.4 1288.3l2.4-6.8M1180.5 1271.4l2.8-7.4M1185.8 1258.2l3.2-7.5M1246.1 1265.5l.7 1.4M1248.8 1271.2l.4 .9M1255.8 1286.7l1 2.5M742.3 1251l.3-.7M743 1248.8l1.3-4.4M851.3 1258.2l4.8 16.7M1130.6 1284.9l1.8-6M1134.1 1272.8l.7-2.2M1229.9 1255.7l.3 .7M1235.6 1271.6l1.6 4.1M1239.1 1281l2 5.1M808.6 1284.3l5.1-4.3M822.6 1277.4l1.6 .2M833.6 1282.6l4.6 4.7M979 1264.1l.5-1.6M1103.1 1242.7l.6 2M1105 1248.8l4 11.8M753.1 1290.6l1.5-4.5M758.8 1274.1l1-3M763.6 1261.2l3.2-8.2M825.5 1258.2l.8 1.9M828.3 1264.4l.2 .5M830.1 1268.3l1.5 3.5M836.6 1283.2l.5 1M838.8 1288.2l.2 .5M951.7 1249l.9-2.9M1056.9 1253.1l2.4 8.6M1339.5 1278.7l1.6-5.3M1345.4 1258.3l.9-3.1M809.5 1257.8l1.5 4.5M813 1267.9l1.5 4.4M924.6 1261l.6-1.7M1004.2 1251.4l.6 2M1008.6 1265.2l1.5 5M1293.2 1258.7l.4-1.5M1295.8 1249.7l2-6.9M783.2 1253.3l1.6 5.2M788.5 1270.8l.2 .7M912.3 1268.6l.5-.8M913.4 1266.6l1.1-2M916.2 1261.6l.7-1.1M918.2 1258.4l1.6-2.4M921.7 1253.1l1.5-2M949.7 1244.8l3.3 3.7M956.9 1254l3.1 5.2M1247.7 1256.2l3.2-9M752.4 1256.9l1.5 5.8M1170.9 1285.1l3.3-5.4M1177.9 1273.6l1.5-2.5M1181.4 1267.8l1.5-2.5M1183.3 1264.6l2.9-4.8M1186.6 1259.1l.7-1.1M1190.1 1253.2l1.6-2.6M1338.9 1248.4l1.3 5M1340.6 1255.1l.7 2.5M1062.6 1282.7l.9-2.9M1064.6 1276.1l2.4-7.9M1068.9 1261.7l.7-2.2M1246.1 1249l1.1 2.5M1249.2 1256l.2 .5M1019.3 1266.1l.6-2.5M1168.9 1255.6l4.2 7.5M876.9 1245.3l.6 2.1M878 1248.9l.4 1.4M1269.8 1274.4l1.9-6.7M1225.6 1271.3l.4-1.6M1228 1262.2l.4-1.6M748.2 1257.2l3.3 6M758.8 1275.9l.2 .4M1014.2 1290.7l1.6-2.1M1024.8 1280.1l1.5-.8M1044 1283.2l1.5 1.4M1190.1 1261.9l.9-3.2M1191.9 1255.5l.2-.8M1314.6 1245.4l3.1 9.3M965.5 1269.6l3-8.3M1030.9 1256.3l.6 1.4M1035.2 1266l3.3 7.4M1158.2 1246.4l.9-2.9M1258.8 1241.6l2.4 8.7M919.5 1290.4l3.3-11.3M928.3 1260.3l1.5-5.3M1026.7 1272.9l1.1 3M1031.5 1285.6l1.3 3.4M1137.6 1254.8l.5-1.2M1224.7 1260.9l.4 1.5M1228.2 1272.7l1.5 5.1M878.8 1280.3l.3-.7M881 1273l1.6-5.3M885 1259.4l1.1-3.8M1124.5 1262.5l.7-1.2M1173.5 1249.5l6.8 14.2M751.3 1290.8l1.5-2.5M756.6 1282.2l3.2-5.4M761.8 1273.5l1.5-2.5M767.1 1264.8l.8-1.5M768.8 1261.8l3.3-5.6M777.6 1246.5l.6-1.1M921.9 1253l.7 2.5M1314.4 1286.4l3.3-8.4M1324.4 1261.5l.3-.5M982.1 1281.2l1.5-3.9M990.8 1260.5l1.6-3.1M1045.8 1269.5l6.1 12.7M1170.2 1256.8l1.3-4.4M1172.4 1249.4l.9-3M1279.2 1240.9l.8 3.2M1280.5 1245.6l3 10.9M1168.9 1250.8h0M1078.6 1270.4h0M736 1263.1h0M1063.2 1258.6h0M1253.8 1245.9h0M888.2 1251.6h0M930 1258h0M883 1276.9h0M1090.8 1267.8h0M1178.8 1276.1h0M981.2 1256.1h0M1168.9 1288.4h0M1176.1 1276.5h0M1051 1290.7h0M963.5 1275.1h0M1160.8 1237.6h0M1022.8 1262h0M999.8 1262.5h0M1001.8 1268.9h0M920.8 1248.8h0M1041.6 1261.5h0"/><path stroke="#e3ff00" d="M776.2 1256.9l1.6 3.5M1246.1 1265.5l2.7-7.9M909.2 1221.8l1.6 4M912.3 1229.9l.2 .6M915.4 1238.2l1.7 4.8M1341.5 1285.6l1.5-4.3M1345 1275.8l1.5-4.3M1347.8 1267.8l.5-1.2M1353.1 1253.3l2.2-6.1M1360.8 1232.4l.6-1.8M921.1 1260.2l3-9M1051.2 1244.6l.5 1.1M1056.7 1258.9l.2 .5M1058.9 1264.3l1.5 3.7M1179.6 1262.5l1.6-2M1186.6 1253.9l3.3-3.4M1193.6 1247.2l1.6-1.2M1216.4 1244.1l1.5 1M1219.9 1246.7l1.5 1.3M1223.4 1250l1.5 1.7M1225.8 1252.7l.9 1.1M1228.6 1256.4l.9 1.2M800.3 1276.2l2.2-6.6M807.3 1255.1l1.5-4.7M1000.2 1249.9l1.4 3.2M828.8 1242.1l.8 2.6M1146.6 1272.4l.6-1.1M1154.5 1260.7l1.5-1.9M1157.5 1257.1l.3-.2M1179 1248.5l1.5 .5M1186 1251.8l1.5 1.1M1192.3 1257.1l1.8 1.7M1194.7 1259.5l1.5 1.7M1198.2 1263.4l1.6 1.9M1203.5 1270l6.7 9.4M1326.2 1256.6l3.3-8.7M944.2 1287.6l1.6-3M949.5 1277.4l1.5-3M956.5 1263.4l3.3-6.8M961.8 1252.4l.8-1.9M967 1240.8l1.5-3.4M1117.5 1248.8l2 6.2M795.5 1238.2l2.6 8M799 1248.8l.4 1.3M1117.7 1258l2.6-6M1187.1 1240.5l1.5 2.5M1195.2 1254.4l2.1 3.9M1197.8 1259.1l1.3 2.3M1201.1 1264.9l1.5 2.7M1204.6 1271l1.5 2.7M1309.3 1253.6l.5-1M1310.7 1250.5l3.7-9M783.9 1245.7l1.1-2.2M871.4 1243.8l1.8 4.7M1192.3 1255.1l.9-2.6M1195.4 1246.2l.2-.7M1298.2 1250.6l2.4 5.2M845.8 1265.1l1.1-3.4M848 1258.3l4.6-14.8M854.6 1237l1.5-5.2M1005.1 1243.5l3.2 7M1010.3 1254.5l.9 1.8M1013.8 1261.6l1.1 2.2M878.2 1264.9l1.1-3.4M1013.6 1267.1l8.5-16.1M1192.1 1229.1l5 16.8M814.5 1257.8l2.2-6.2M955 1247l.2 .6M955.6 1248.8l3.1 8.3M1284.2 1271.7l1.5-.4M1286.6 1271.2l2.6-.2M1296.4 1272.4l1.6 .6M1305.2 1277.6l1.5 1.3M1310.4 1282.3l1.6 1.6M973.1 1275.6l1.6-3.3M978.4 1264.6l1.5-3.2M1167.2 1245.1l1.5 5M1169.1 1251.5l.7 2.1M1069.6 1285.8l1.1-2.5M1083.2 1255.6l1.5-3.3M1270.4 1243.3l1.5 4.9M765.5 1280.8l1.6-.4M779.5 1281.8l1.6 .8M788.3 1287.4l1.5 1.3M922.2 1268.4l.6-1.8M925 1260.5l2.4-7M1070.2 1249.3l1.1 2.9M1071.8 1253.3l1.3 3.4M1074 1258.9l1.1 2.8M868.8 1265.6l1.5-1.3M872.3 1262.7l7-4 6.8-1.3M901.4 1264.9l.4 .4M1225.8 1248.2l1.5-4.5M1228.6 1239.9l.5-1.3M1355.5 1239.1l5.5 15.3M738.8 1245.1l2.2 6.2M744.1 1259.6l.4 1.1M887.2 1259.7l3.2-1.3M894.2 1257.8l3.2 .1M901.2 1258.8l3.2 1.5M908.2 1262.8l.6 .6M1230.4 1261.6l1.1-3.1M1234.1 1251.1l2.2-6.3M1238.7 1237.8l.9-2.6M1059.1 1267.9l2.2-4.9M1063.5 1258.1l1.3-2.9M1250.7 1236.2l2.9 9.1M1254 1246.6l.9 2.8M750.2 1242.2l1.3 3.5M882.6 1258.1l.8-1.1M888.5 1251.3l1.3-1.3M893.5 1246.7l3.3-2.4M912.8 1241.9l1.5 .7M919.8 1246.1l1.5 1.4M921.9 1248.1l2.9 3.1M925.4 1251.9l1.4 1.6M928.5 1255.9l1.3 1.8M930.2 1258.4l1.6 2.3M1247.2 1266.2l1.6-4.4M1254.2 1245.7l1.6-4.6M1029.8 1265.8l3.9-11.1M1035.2 1250.3l1.6-4.3M1226 1242.4l1.3 3.5M816.7 1259.5l1.5-2.4M820.2 1254.2l4.8-6.1M865.3 1254.2l.2 .2M867.5 1256.9l3.3 4.4M872.7 1264l1.5 2.2M883.2 1279.7l1.6 2.3M997.6 1245.8l5.1-13.7M1116.8 1229.1l1.4 4M1119.5 1237.1l3.9 11.9M1125.4 1254.8l1.5 4.5M827 1238.4l1.5 4.4M833.6 1256.7l1.9 5.3M969.4 1264.4l.4-.4M975.3 1260.1l1.5-.9M983 1257.1l6.1 .1M991.1 1257.7l1.5 .6M998.1 1261.6l1.5 1.2M1001.6 1264.6l1.5 1.6M1008.6 1272.9l1.5 2.2M1321.6 1260.4l5-14.3M1121.2 1284.3l1.6-4.4M1124.3 1275.4l.2-.6M1126.5 1269.1l1.5-4.5M1130 1258.9l1.5-4.4M1324.2 1245l.9 2.2M799.9 1244.6l.6 2.2M802.5 1253.1l.7 2M1261.4 1277.3l1.6-3.1M1264.9 1270.3l1.6-3.1M1271.9 1255.9l3.3-7.1M1277.2 1244.5l1.5-3.4M881.2 1242.8l1.8 5.8M1332.1 1274.7l3.5-6.5M1168.7 1254.8l1.1-3.5M1170.4 1249.1l1.6-5M1331.4 1246.7l5.1 9.8M1147.2 1259.1l.7-2M1150.8 1248.1l.2-.8M1304.8 1251.2l3.7 8M897.2 1239.8l.2-.5M985.2 1263.1l1 2.1M987.8 1268l2 3.6M991.7 1275.1l1.5 2.7M995.2 1281.2l1.6 2.6M998.7 1287l.9 1.3M1093.2 1246.9l1.6-3.5M1095.4 1241.9l.7-1.6M1097.2 1237.8l.6-1.6M1199.1 1245.4l2.8 8.4M854.8 1253.1l2.8-8.5M971.6 1258.9l1.7 3.9M1080.5 1253.7l1.1-2M1083.2 1248.8l.2-.4M1085.3 1244.7l.7-1.2M1158.4 1239.1l2 4.6M1162.3 1248.4l1.6 3.7M1169.3 1266l.5 1.1M802.5 1244.8l3.3 11M807.8 1262.4l.4 1.5M1098 1242.3l1.6-5.6M1101.5 1229.5l.3-.8M1203 1245.9l.5 1.5M1204.8 1251.8l1.5 5.1M1336.2 1255.6l3.3-5.8M980.6 1267.6l3.2-5.7M985.8 1258.5l.9-1.6M987.6 1255.4l5-9.2M994.6 1242.5l.4-.9M996.3 1239.1l1.3-2.6M998.1 1235.7l.4-.9M1003.3 1225.1l.7-1.4M1132.8 1244.6l.2 .8M898.5 1276.7l6.8-16.8M909 1251.2l1.6-3.5M911.2 1246.2l1.1-2.4M914.3 1239.4l1.5-3.2M1080.1 1237l2 6.2M860 1260.9l1.3-4.4M1038.5 1254.4l1.6 3.4M811.5 1253.8l1.1-4.2M813.4 1246.2l1.8-6.9M940.5 1222.2l1.6 3.4M945.8 1233.5l3.9 8.1M951 1244.2l1.6 3M958 1257.5l.7 1.2M890.7 1232.6l.4 1.4M892.8 1239.6l1.8 5.5M898.3 1256.4l.7 2M1179 1275.5l1.3-3.5M1183.6 1263.5l1.9-4.8M1189.2 1250.2l1.6-3.2M1236.9 1247l1.1 2M1240.7 1254.1l.8 1.8M1245.2 1263.6l.7 1.4M1247.7 1268.8l.8 1.9M1251.4 1277l.6 1.4M845.2 1236.1l.6 2.4M846.9 1242.5l.7 2.4M849.1 1250.4l.2 .8M1132.6 1278.1l1.3-4.5M1135 1269.8l5-17.2M1228.2 1250.7l1.5 4.4M1230.4 1257l1.5 4.3M1233.2 1265l2.2 6M1347.4 1253.6l1.8-4.8M1350 1246.4l1.1-3M831.4 1280.9l1.5 1.2M981.4 1255.2l.9-3.2M1100.4 1234.4l2.4 7.6M1103.9 1245.4l.9 2.7M761.8 1265.8l.7-1.7M772.3 1240.8l.5-.8M819.1 1245.1l.2 .5M824.8 1256.8l.4 .9M833.6 1276.2l2.8 6.5M950.6 1252.6l.9-2.8M952.8 1245.4l.4-1.4M1053.8 1242.1l.9 3.1M1346.5 1254.5l3.3-11.4M808.4 1254.5l.9 2.6M811.2 1262.9l1.6 4.4M818.2 1282.5l.5 1.2M925.4 1258.7l2.4-6.2M1001.8 1244l2.2 6.7M1005.9 1256.9l.7 2M1293.8 1256.5l1.5-5.3M1298 1242l.8-3.1M1302.6 1225.5l.2-.8M785 1259.3l1.5 5.1M917.1 1260.1l.9-1.4M923.5 1250.8l1.5-1.9M928.7 1244.9l1.5-1.3M953.2 1248.7l3.5 5M1251.2 1246.6l3.2-9.4M751.8 1254.4l.4 1.7M1176.3 1276.1l1.4-2.1M1179.6 1270.7l1.6-2.5M1187.5 1257.6l.7-1.1M1197.1 1241l1.1-2M1335.4 1234.8l1.5 6M1338.2 1245.9l.5 1.7M1069.8 1258.8l4.2-13.6M1235.2 1226.3l1.5 3M1238.7 1233.2l1.5 3.2M1242.4 1241l1.3 2.8M1244.2 1244.7l1.7 3.9M1021.9 1256.1l1.5-5.9M1025.4 1242.5l.2-.8M1027.2 1235.6l1.3-5.2M1160.2 1238.9l1.5 3.1M1163.7 1245.8l1.5 2.9M1165.8 1250l1.1 2M1168.5 1254.8l.2 .4M876 1242.4l.7 2.2M1271.9 1266.9l.3-.7M1274.1 1259.5l1.6-5.2M1277.6 1247.7l1.1-3.7M817.4 1247l4.1 8.5M1228.6 1259.7l.9-3.3M1231.5 1248.7l1.3-5.1M736.4 1233.8l1.1 2.3M744.8 1250.6l3.2 6.2M751.8 1263.6l1.5 2.8M1016 1288.3l1.5-1.8M1191.2 1257.9l.5-1.6M1192.3 1253.8l1.1-4.1M1312.2 1237.9l.2 .7M1313.3 1241.3l1.1 3.5M963.7 1274.5l1.3-3.7M970.5 1256.2l1.5-3.8M974 1247.7l.9-2M977.5 1240l.2-.4M1030 1254.4l.7 1.4M1033.5 1262l1.5 3.5M1038.8 1273.9l3.2 7.5M1159.3 1242.8l1.3-4.4M1161 1236.9l3.1-10.5M1254 1223.9l1.1 4M1255.5 1229.5l1.3 4.9M1257.3 1236l1.3 4.8M930 1254.3l1.6-5.3M935.3 1236.5l1.1-3.7M1020.2 1254.6l.6 1.9M1021.7 1259l.9 2.4M1024.5 1266.9l2 5.4M1138.3 1253l1.7-4.9M1140.7 1246.3l1.1-3M1142.4 1241.5l.3-.6M1219.4 1243.6l3.3 10.8M1223.4 1256.5l1.1 3.7M998.3 1257.5l1.3 4.3M1122.8 1266l1.5-3M1125.4 1260.8l4.1-7.7M1164.8 1236.4l1.5 1.8M1168.5 1241.2l4.8 7.9M754.8 1285.1l1.5-2.6M763.6 1270.6l3.2-5.5M768.2 1262.9l.4-.7M775.8 1249.7l1.5-2.8M778.4 1245l3.3-6.1M784.6 1233.6l1.5-3M917.6 1236l3 12M921.1 1249.6l.6 2.6M1319.6 1273.1l1.1-2.7M1324.9 1260.5l1.5-3.6M987.3 1268.3l3.3-7.3M992.6 1257l1.5-3M996.1 1250.4l5-7.7M1003.1 1240.3l1.1-1.2M1032.6 1246.5l3.5 5.4M1037.2 1253.7l.7 1.1M1040.5 1259.4l.9 1.6M1043.3 1264.8l2.2 4.3M1052.1 1282.6l2.4 5.2M1173.5 1245.6l1.5-5.3M1277.6 1235.4l1.3 4.7M1184.7 1256.2h0M805.6 1260.4h0M1115.1 1264.2h0M1081.4 1259.4h0M928.1 1251.6h0M1067.8 1242.9h0M760.5 1268.5h0M890 1290.1h0M890 1258.1h0M975.1 1266.5h0M976.8 1270.1h0M854.6 1279.2h0M856.5 1272.6h0M773.8 1249.2h0M1056.7 1252.3h0M1001.3 1242.7h0M1186.4 1259.5h0M1231.5 1219.4h0M1020.2 1262.8h0M877.8 1248.2h0M886.3 1254.8h0M1280.2 1244.9h0"/><path stroke="#55ff00" d="M767.5 1236.3l1.5 3.7M771 1244.7l3.3 7.7M1249 1256.9l3.2-10.2M1253.6 1242.5l1.5-4.9M736 1223.3l3.5-9.2M906.8 1215.5l.5 1.1M911 1226.4l1.1 2.9M914.5 1235.8l.7 1.8M1343.2 1280.7l1.6-4.3M1348.5 1266l1.5-4.3M1357.2 1241.8l.5-1.1M1361.6 1230l.7-1.7M924.3 1250.6l4.6-13.8M931.1 1230.1l1.3-4.1M932.9 1224.7l.6-2.1M1048.4 1236.8l2.6 7.2M1051.9 1246.3l4.6 12M1191.9 1248.7l1.5-1.3M1195.4 1245.9l5.2-3 5.3-1.4 5.2 .4 5.1 2.1M1218.1 1245.3l1.6 1.2M1221.6 1248.2l1.6 1.5M1225.1 1251.9l.5 .5M802.7 1269l.9-2.7M805.8 1259.7l1.3-4M812.6 1239.1l.8-2.6M994.6 1236.6l1.5 3.5M999.2 1247.3l.8 2.1M817.8 1208.4l.2 .6M818.5 1210.4l1.3 4.2M821.8 1220.7l1.5 4.8M825.9 1233.5l2.6 7.9M1158 1256.6l1.5-1.5M1161.5 1253.3l4.3-3 4.2-1.8M1172 1248.1l3.2-.2M1177.2 1248.1l1.6 .3M1182.5 1249.8l3.3 1.9M1187.7 1253.1l4.4 3.8M1196.5 1261.4l1.5 1.8M1329.7 1247.3l1.5-4.2M1333.2 1237.6l2.2-6.3M962.8 1250l3.3-7.2M968.8 1236.9l1.5-3.5M1109 1220.3l3 10.5M1114 1237.4l3.3 10.7M790.5 1222.9l1.3 4M792.2 1228.2l3.1 9.3M1120.6 1251.5l2.4-5.3M1125.8 1240.3l3.3-6.3M1180.9 1230.7l.7 1M1190.6 1246.4l1.5 2.6M1194.1 1252.5l.8 1.5M1199.3 1261.8l1.5 2.7M1314.6 1240.9l1.5-3.8M785.2 1243.1l1.6-3.2M789.4 1234.5l1.1-2.2M861.3 1218.8l1.4 3M864.6 1226.6l1.6 3.7M867.7 1234.2l3.5 9.1M1193.4 1251.9l.4-1.3M1195.8 1244.9l2.4-6.9M1295.6 1244.8l2.4 5.3M1300.8 1256.3l5 10.4M847.1 1261l.2-.7M856.3 1231.1l1.5-5.2M996.3 1224.1l1.5 3.5M998.3 1228.6l4.8 10.7M1008.6 1250.9l1.5 3.2M879.5 1260.8l5.5-17.7M1048.2 1218.9l1.3 2.4M1056.7 1234.9l1.5 2.9M1061.9 1245l3.3 6.4M1024.1 1247.3l10.3-19.2M1036.3 1224.5l3.3-6.2M816.9 1251l3.5-10.3M822.4 1234.7l1.5-4.7M946.7 1223.2l1.5 4.5M950.2 1233.4l1.5 4.4M952.1 1239l2.7 7.4M1308.7 1280.6l1.5 1.5M966.1 1290.7l1.6-3.4M974.9 1271.9l3.3-6.9M981.9 1257.4l1.5-3.1M985.4 1250.4l1.5-3.1M1164.1 1235.1l2.8 9.3M1079.7 1263.2l1.5-3.4M1081.6 1258.9l1.3-2.8M1084.9 1251.8l1.5-3.2M1265.2 1226.5l1.5 4.9M1268 1235.6l2.2 7M923 1266l1.3-3.7M927.6 1252.9l.2-.7M928.3 1250.9l2.8-8.5M931.6 1241.1l1.3-4.1M1066.3 1238.7l1.3 3.6M1068.1 1243.5l1.9 5.2M1073.3 1257.3l.5 1.1M889.8 1257.9l1.5 .4M893.3 1259.1l1.5 .8M900.3 1263.9l.9 .8M1229.3 1238l10.3-31.5M1344.6 1205.7l1.7 5.5M1348.3 1217.4l7 21M736 1237l2.6 7.5M742.1 1254.3l1.8 4.7M890.7 1258.4l3.2-.6M897.7 1257.9l1.5 .3M904.7 1260.4l1.5 1M1236.5 1244.2l2-5.8M1239.8 1234.6l3.9-11.9M1357.7 1217.3l1.5 4.7M1361.2 1228l4.8 14.1M1061.5 1262.5l1.1-2.4M1066.8 1250.9l1.5-3.3M1070.2 1243.3l1.6-3.2M1073.8 1235.9l1.5-3.2M1245.2 1218.8l3.3 10.5M746.5 1231.8l1.5 4.3M751.8 1246.3l5 13.1M883.7 1256.8l2.1-2.6M886.5 1253.4l1.5-1.6M890 1249.8l3.3-2.9M897 1244.2l3.9-2 4-1.1 3.9-.1 3.7 .8M914.5 1242.7l1.5 .8M921.5 1247.7l.2 .2M925 1251.4l.2 .3M1256 1240.5l3.2-10.1M1261.2 1224.4l1.6-4.8M1033.9 1254.1l1.1-3.1M1037 1245.4l3.3-9.2M1225.1 1240.1l.7 1.7M818.5 1256.8l1.5-2.2M827.2 1245.8l5-4.1M837.7 1239.1l3.3-.6M844.7 1238.7l1.5 .4M848.2 1239.7l8.1 5.1 8.8 9.1M865.7 1254.7l1.5 1.9M874.5 1266.5l1.5 2.3M878 1271.7l1.5 2.3M888.5 1287.7l1.3 2M995.9 1250.4l1.5-4M1004.6 1226.5l1.6-4.4M1113.8 1219.5l.9 2.8M1116.2 1227l.4 1.4M1118.4 1233.8l.8 2.7M823.5 1228.1l1.5 4.5M828.8 1243.4l4.5 12.8M977.1 1259.1l5-1.8M989.3 1257.3l1.5 .4M994.6 1259.3l1.5 .9M1326.8 1245.5l4.2-12.2M1131.7 1253.8l4.8-13.8M1137 1238.7l1.3-3.8M1138.7 1233.7l.9-2.5M1140.5 1228.7l1.5-4.4M1319 1231.6l1.5 3.9M1323.3 1242.7l.7 1.7M792 1218.2l7.7 25.7M1268.4 1263.2l1.6-3.2M1275.4 1248.4l1.6-3.4M1278.9 1240.6l2.7-5.9M877.8 1231l1.5 5.2M880.2 1239.2l.8 2.9M1328.6 1281.1l1.5-2.8M1335.8 1267.8l1.3-2.4M1339.1 1261.7l5-9.4M1346.1 1248.5l3.7-7.1M1170 1250.5l.2-.7M1172.2 1243.3l1.5-5.1M1175.7 1231.6l1.5-5.3M1321.6 1226.6l2.6 5.5M1324.7 1233l3 6.3M1328.6 1241l2.6 5.3M1148.1 1256.4l.7-2.1M1151.2 1246.6l2.8-9.2M1297.8 1235.4l6.7 15.4M890.2 1257.5l2-5.1M893.7 1248.5l3.3-8.2M897.7 1238.7l2.8-6.7M965.5 1225.3l1.5 2.8M976 1245.4l5 9.8M983 1258.9l1.9 3.8M986.5 1265.6l1.1 2M1095 1242.9l.2-.5M1096.3 1239.8l.6-1.5M1098 1235.7l.7-1.6M1195.2 1233.8l3.7 11M857.8 1243.9l2.2-6.5M861.3 1233.5l1.6-4.6M962.8 1238.7l3.3 7.8M968.1 1251.1l1.5 3.5M1083.6 1248l1.3-2.5M1086.2 1243.1l4.2-7.7M1152.7 1226.9l2.4 5M1157.1 1236.2l1.1 2.4M1160.6 1244.2l1.5 3.7M795.5 1222.2l6.8 21.9M1099.8 1235.9l1.5-5.6M1102 1227.9l4.6-17.2M1189.9 1198.5l.7 2.5M1191.9 1205.9l.4 1.6M1196 1221.2l6.8 23.9M1339.8 1249.4l7-10.3M1350.2 1235.1l3.3-2.8M984.1 1261.5l1.5-2.6M986.9 1256.5l.4-.8M992.8 1245.8l1.5-2.9M995.2 1241.2l.9-1.7M998.7 1234.4l2.4-4.8M1001.6 1228.7l1.5-3.2M1004.2 1223.2l.6-1.4M1127.8 1224.7l1.3 5.2M1131.9 1241.1l.7 2.6M912.5 1243.3l1.6-3.4M916 1235.7l5.1-10.3M923 1221.6l8.6-15.3M1067.4 1198.6l.7 1.8M1071.8 1211.3l3.3 10M1076.4 1225.3l3.5 11M856.8 1271.9l3-10.3M861.6 1255.8l3.5-11.6M1029.8 1236l1.5 3M1034.4 1245.4l.4 .9M1037 1251l1.3 2.9M815.4 1238.5l5.9-23.7M825 1199.5l.5-1.8M931.8 1201.8l1.5 3.7M935.3 1210.2l5 11.5M942.3 1226l3.3 7M774.1 1248.4l3.2-12.6M781.1 1221l1.1-4.4M889.6 1229.1l.8 2.8M891.3 1234.7l1.3 4.2M1191 1246.5l8.5-14.6M1220.8 1225.3l1.5 1.2M1231.2 1237.4l1.6 2.4M1234.8 1243.1l1.9 3.5M1238.2 1249.5l2.2 4.2M1241.8 1256.3l3.2 6.9M1247 1267.4l.4 .9M1250.5 1275l.7 1.5M744.5 1243.7l5.1-17.4M842.5 1226.4l2.4 8.9M846 1239.3l.7 2.4M847.8 1245.7l1.1 3.9M1140.2 1251.8l.7-2.2M1142.9 1242.9l2.4-8.1M1148.1 1225.4l.5-1.5M1223.4 1236.8l1.5 4.5M1226.9 1247l1.1 3.1M1232.1 1261.9l.9 2.5M1349.4 1248.2l.4-1.2M1351.3 1242.8l2-5.5M982.5 1251.2l5.7-22M990.2 1221.3l1.5-6.2M1097.8 1225.8l2.4 7.9M760.1 1270.5l1.5-4.1M762.7 1263.5l.6-1.7M767.1 1252.5l3.9-8.9M773 1239.5l.8-1.7M786.3 1220.5l1.5-1.1M814.3 1236.3l4.6 8.4M819.6 1246l5 10.3M826.6 1260.6l1.5 3.3M953.4 1243.2l1.4-4.4M955.2 1237.3l1.1-3.7M960.4 1219.2l.5-1.6M1050.8 1230.9l2.8 10.4M1054.9 1246l1.6 5.6M1343 1266.6l1.6-5.3M1350 1242.4l.7-2.3M1353.5 1230.4l.5-1.5M804.2 1242l4 11.9M928.1 1251.9l1.9-5.1M931.6 1242.8l1.5-3.9M996.3 1228.1l4.8 14M1005.1 1254.1l.6 2.1M1299.1 1238.2l3.2-11.9M1303 1223.9l3.9-14.7M776.2 1228.4l3.3 11.9M781.5 1247.2l1.5 5.4M920 1255.7l1.5-2.3M925.2 1248.6l1.6-1.7M930.5 1243.5l3.3-2.2M937.5 1240.1l3.3-.1M943.2 1240.5l1 .5M946.2 1242.1l3.3 2.5M1254.7 1236.6l5-15.2M747.2 1236.7l2.6 10.2M750.4 1249.4l1.1 4.2M1188.4 1256.2l1.5-2.6M1191.9 1250.2l5-8.8M1198.4 1238.6l2.9-5.1M1202.4 1231.4l1.5-2.9M1205.9 1224.8l3.3-6.4M1212.9 1210.8l1.5-3.2M1333.6 1228l1.6 6M1337.1 1241.6l.9 3.4M1074.2 1244.5l3.7-11.9M1079.4 1227.7l4.4-13.6M1084.7 1211.4l1.3-4M1086.4 1206.1l1.1-3.2M1222.7 1204.5l1.8 2.8M1226.7 1210.9l4.5 8.1M1231.7 1219.8l3.3 6.1M1236.9 1229.7l1.6 3.1M1240.4 1236.8l1.8 3.7M1020.4 1261.9l1.3-5M1023.7 1249.3l1.5-5.9M1025.8 1240.8l1.1-4.3M1028.7 1229.5l3.5-14.1M1148.3 1213.8l1.1 2.5M1153.2 1224.5l1.5 3.2M1156.7 1231.8l3.2 6.7M1161.9 1242.4l1.5 3M1165.4 1249.1l.2 .4M1167.2 1252.4l1 2M874.2 1236.7l1.6 5M1272.4 1265.4l1.5-5.2M1275.9 1253.6l1.5-5.2M1278.9 1243.2l.5-1.4M811.2 1235.2l6 11.3M1229.7 1255.5l.2-.8M1361 1226.5l1.5 3.3M736 1232.9l.2 .5M739.5 1240.2l5 9.9M1193.6 1248.9l.7-2.5M1197.1 1235.5l5.1-20.2M1307.6 1222.9l4.4 14.3M1312.6 1239.3l.5 1.4M968.8 1260.7l1.5-3.9M972.2 1251.9l1.6-3.6M975.1 1245.2l2.2-4.7M977.9 1239.1l1.1-2.2M984.5 1227.3l.7-1M1012.5 1223.7l1.5 1.9M1026.5 1247.1l3.3 6.8M1031.8 1258.2l1.5 3.4M1164.3 1225.7l5.9-20.8M1248.3 1202.7l5.5 20.4M931.8 1248.3l3.3-11.1M936.6 1232.1l.2-.8M938.8 1224.8l.4-1.4M1010.5 1226.7l3.3 9.6M1018.8 1250.9l1.1 3.1M1021 1257.1l.5 1.2M1140.2 1247.5l.3-.6M1142 1242.7l.2-.6M1142.9 1240.3l1.1-3.1M1147.7 1227l1.5-4.1M1212.4 1221.6l1.6 4.7M1216.6 1234.5l2.6 8.4M1222.9 1255.1l.3 .7M882.8 1267l1.5-5.3M886.5 1254l5.9-21.3M991.3 1233.5l5 17.4M1129.8 1252.7l5-8.3M1136.8 1241.6l2.4-3.1M1142 1235.4l1.5-1.4M1145.5 1232.4l.9-.6M1157.8 1230.8l1.5 .8M1161.2 1233l3.3 3.1M1166.7 1238.8l1.5 2.1M772.3 1255.8l3.3-5.7M781.9 1238.5l2.4-4.5M786.3 1230.2l5-10.1M912.3 1215.2l1.5 6.1M915.6 1228.3l1.7 6.9M1320.9 1269.9l2-4.8M1326.6 1256.4l3.3-7.5M1333.6 1240.8l1.6-3.2M994.3 1253.6l1.6-2.8M1001.3 1242.5l1.6-1.9M1004.4 1238.9l2-1.9M1011.8 1233.8l1.6-.4M1015.3 1233.3l1.6 .1M1022.3 1235.6l1.6 1.1M1025 1237.6l.6 .6M1027.4 1240l5 6.2M1036.3 1252.2l.7 1.1M1038.1 1255.2l2.2 3.8M1175.2 1239.5l6.8-24.5M1184 1207.6l1.5-5.8M1271.5 1212.6l5.9 22M743 1205.1h0M1197.6 1258.7h0M1199.3 1234.9h0M1288.3 1228.4h0M992.6 1215.3h0M955.4 1248.2h0M992.4 1236.6h0M1074.4 1274.9h0M1071.6 1252.7h0M1250.5 1235.6h0M750 1241.6h0M1224 1237.2h0M825.2 1247.9h0M821.5 1222.1h0M997.8 1236.1h0M1036.6 1250h0M838.8 1212.5h0M993.7 1207h0M1095 1216.2h0M775.8 1234.2h0M1001.6 1243.4h0M1243.9 1244.2h0M1233 1242.8h0M986.2 1224.8h0M1024.5 1243.1h0M1171.3 1201h0M1255.3 1228.7h0M1257.1 1235.2h0M1017.3 1246.4h0M998.1 1256.8h0"/><path stroke="#00ff39" d="M759 1214.4l3 8.1M762.5 1223.6l4.8 12.1M769.2 1240.5l1.6 3.7M774.5 1252.9l1.5 3.5M1252.5 1246l.8-2.8M1255.3 1236.9l6.8-22.8M739.7 1213.5l3.1-7.9M743.2 1204.5l3.1-7.7M751.8 1183.6l.6-1.6M893.5 1182.2l1.5 3.7M895.5 1186.9l11.1 28M907.5 1217.2l1.5 4M912.8 1231.1l1.5 4.1M1350.2 1261.1l1.6-4.2M1355.5 1246.6l1.5-4.2M1357.9 1240.1l2.6-7.1M1362.5 1227.7l3.5-9.3M929.2 1236.1l1.7-5.3M933.8 1222l4.1-13.1M941.6 1197l.9-2.8M1043.1 1221.8l5.1 14.3M1190.1 1250.3l1.6-1.4M809.1 1249.8l3.2-10M813.7 1235.8l10.7-32.2M981.4 1207.5l5.9 12.7M989.3 1224.6l5 11.4M996.3 1240.6l2.6 6.2M816.5 1204.2l1.1 3.5M820 1215.3l1.5 4.7M823.5 1226.1l2.2 6.7M1170.2 1248.4l1.6-.3M1175.5 1247.9l1.5 .2M1331.4 1242.5l1.6-4.3M1335.6 1230.7l2.6-7.7M1340.2 1217.1l1.5-4.7M966.3 1242.3l.5-1M970.5 1232.9l8.1-19.5M979.2 1211.7l2.2-5.5M982.8 1202.8l.2-.6M1103.5 1201.1l1.5 5.4M1107.7 1215.8l1.1 3.8M1112.2 1231.5l1.6 5.1M780.2 1191.9l10 30.3M1123.2 1245.8l2.4-5M1131.1 1230.5l5.9-9.2M1138.1 1219.9l7-7.3M1146.8 1211.4l3.3-1.7M1152.1 1209l3.2-.3 3.5 .5M1160.8 1209.9l1.5 .8M1166.1 1213.1l7 6.9 7.6 10.4M1181.8 1232l5 8.1M1188.8 1243.4l1.5 2.6M1192.3 1249.4l1.5 2.7M1316.3 1236.5l1.8-4.4M1318.8 1230.4l6.7-17.7M1327.5 1207.4l.2-.6M787 1239.5l2.2-4.5M790.7 1231.8l5.7-11.5M798.1 1216.9l3.3-6.3M856.8 1208.6l.6 1.4M858.1 1211.4l3 6.9M862.9 1222.4l1.5 3.6M866.4 1230.9l1.1 2.7M1198.4 1237.4l.7-1.9M1199.5 1234.3l10.1-27.6M1274.6 1197.1l1.5 3.3M1278.1 1204.8l1.5 3.5M1281.6 1212.8l1.5 3.5M1283.8 1217.8l4.3 10.1M1288.6 1228.9l6.7 15.4M852.8 1242.8l1.5-5.1M858.1 1225.1l8.3-29.4M984.9 1196.4l7.5 18.4M992.8 1215.9l3.3 7.7M1003.3 1239.7l1.5 3.4M885.2 1242.3l10-33.4M895.7 1207.4l1.5-5.2M1051.4 1225l5.1 9.5M1058.4 1238.2l3.3 6.4M1022.3 1250.6l1.6-2.9M1034.6 1227.7l1.5-2.8M1039.8 1217.9l3.3-6.2M1045.1 1207.9l7-13.6M1053.8 1190.8l.3-.4M1055.6 1187.3l.2-.5M1180.5 1189l.9 3.1M1183.3 1199l8.6 29.4M820.7 1240l1.5-4.6M824.2 1229.3l5-16M832.9 1201l.2-.7M939.7 1201.9l6.7 20.6M948.4 1228.3l1.5 4.5M983.6 1253.9l1.6-3.1M987.1 1246.9l5.1-9.9M992.6 1236.2l4.8-9.3M999.4 1223.2l1.5-2.9M1002.9 1216.6l1.5-2.8M1158.6 1217l5.3 17.4M1074.6 1274.4l1.3-3M1086.7 1248.1l10.2-21.1M1100.7 1219.7l6.7-13M1258.6 1205.3l6.3 20.5M1266.9 1232.1l.9 2.8M936.8 1224.6l.2-.7M938.6 1218.9l1.5-5.1M1055.8 1208.6l6.8 19.8M1064.6 1233.9l1.5 4.2M888 1257.6l1.6 .3M1239.8 1205.8l6.8-21.8M1339.1 1187.9l.2 .7M1341.3 1195.1l3 9.9M1346.5 1211.9l1.6 4.8M741.2 1251.9l.7 1.8M1243.9 1222l6.8-21.2M1252.7 1194.5l1.3-4.3M1348.3 1187l.4 1.4M1350.7 1194.9l6.8 21.7M1359.4 1222.7l1.6 4.6M1062.8 1259.6l.2-.5M1068.5 1247.1l1.5-3.3M1072 1239.6l1.5-3.2M1075.5 1232.3l12-24M1089.5 1204.5l1.5-2.9M1093 1197.9l1.5-2.9M1243.5 1213.3l1.5 4.9M1248.8 1230l1.5 4.9M736.2 1201.5l1.3 4M739.5 1211.4l6.8 19.8M748.2 1236.7l1.6 4.3M886.1 1253.9l.2-.2M916.2 1243.6l3.3 2.4M1259.5 1229.8l1.5-4.8M1263 1218.9l3.2-10.4M1363.8 1199.5l.4 1.4M1364.7 1202.2l1.3 4M1040.5 1235.6l8.5-23.3M1051 1207l1.5-4M1208.7 1198.7l1.3 3.1M1211.3 1205l2.2 5.4M1214.6 1213.1l9.2 23.5M1224.2 1237.8l.7 1.7M825.5 1247.6l1.5-1.6M832.5 1241.5l5-2.4M841.2 1238.5l3.3 .2M846.5 1239.1l1.5 .5M1002.9 1231.5l1.5-4.4M1006.4 1221.5l8.5-25.5M1105.7 1193.8l.2 .7M1106.3 1195.9l7.3 23M1114.9 1223l1.1 3.4M814.8 1200.8l6.5 20.6M821.8 1222.8l1.5 4.6M825.2 1233.3l1.6 4.5M992.8 1258.4l1.5 .7M1331.2 1232.6l5-15.3M1139.8 1230.6l.4-1.3M1142.2 1223.7l8.1-22.5M1151 1199.4l.6-1.8M1301.5 1190.3l3.3 7.3M1306.3 1201.1l.2 .5M1308.5 1206.2l10.3 24.9M1320.7 1236l2.4 6.2M787.2 1201.2l4.6 16.2M1281.8 1234.2l9.2-22.1M1292.9 1207.1l1.1-2.8M1294.7 1202.6l.4-1.2M736 1212.3l4.2-9M868.6 1198.8l1.9 7M872.5 1212.8l5 17.5M879.5 1236.9l.4 1.5M1344.3 1251.9l1.6-3M1350 1240.9l2.4-4.7M1353.1 1234.9l3.3-6.5M1358.3 1224.4l1.6-3.1M1361.8 1217.2l.5-.9M1173.9 1237.5l1.6-5.2M1177.4 1225.6l5.1-17.6M1306.9 1193.7l14.5 32.4M1327.9 1239.7l.5 .9M1149 1253.6l1.5-4.8M1154.2 1236.6l6.8-23M1285.5 1205.2l3.3 8.5M1290.8 1218.6l6.7 16.3M892.4 1251.8l1.1-2.8M900.7 1231.5l.9-2M902.5 1227.6l.2-.5M960.2 1216l1.6 2.6M963.7 1222.1l1.5 2.8M967.2 1228.6l1.6 2.8M970.7 1235.2l5.1 9.8M981.2 1255.6l1.6 2.9M1098.9 1233.6l3.3-7.9M1104.2 1221l3.2-8M1109.4 1208.2l3.3-8M1184.7 1203.7l1.5 4.3M1189.9 1218.5l5 14.7M860.2 1236.7l.9-2.6M863.1 1228.2l7.2-21.2M873.6 1197.7l.9-2.5M947.1 1199.5l1.5 3.8M952.3 1212.7l10.3 25.5M966.3 1247l1.6 3.6M969.8 1255l1.6 3.5M1090.6 1235l8.3-14.4M1101.1 1217.2l6.8-9.4M1109.8 1205.5l1.6-1.6M1141.3 1207.7l3.3 4.7M1148.3 1218.6l4.2 7.9M1155.3 1232.4l1.6 3.3M786.3 1195.7l.2 .5M790.2 1206.5l3.3 9.7M1106.8 1209.8l7.6-29.3M1115.5 1176.2l.9-3.3M1185.5 1181.9l4.2 15.8M1190.8 1201.8l.9 3.2M1192.5 1208.3l3.3 12.1M1347 1238.8l3-3.4M1353.8 1232.2l3.2-1.8M1359 1229.8l5 .1M1005.1 1221.4l11.8-26.9M1017.3 1193.5l3.9-9.9M1120.6 1195.4l7 28.4M1129.3 1230.8l2.4 9.5M921.3 1225l1.5-3M931.8 1205.9l13.8-20.4M947.5 1183l1.6-1.9M1061.9 1183.5l2.7 7.1M1065.9 1194.2l1.3 3.7M1068.3 1201.1l3.3 9.6M1075.3 1221.9l.9 2.7M865.3 1243.5l3.3-10.7M870.5 1226.4l3.3-10.4M1015.8 1210.7l1.5 2.5M1019.3 1216.6l10.3 18.9M1032 1240.4l2.2 4.5M1035 1246.8l1.3 2.8M821.5 1213.9l3.3-13.5M825.7 1196.8l5.2-22M922.2 1176.7l9.4 24.5M933.5 1206l1.6 3.7M777.6 1234.9l3.2-13M782.4 1215.7l4.4-18.2M877.8 1187.7l4.5 16.7M883 1206.7l6.3 21.6M1199.8 1231.7l6.1-6.4 3-1.8 2.9-.9M1213.8 1222.5l5 1.5M1222.5 1226.7l4.2 4.3 4.3 6M1233 1240.1l1.5 2.6M749.8 1225.5l6.1-22.1M756.8 1200.2l1.5-5.6M837.1 1205.9l1.5 5.8M841.4 1222.4l.9 3.2M1141.1 1248.8l1.6-5.2M1145.5 1234.1l2.4-8M1148.8 1223.2l.9-2.8M1151.6 1214.1l1.1-3.4M1209.6 1197.6l3.1 8.4M1214.6 1211.5l3.3 9.4M1220.3 1227.9l1.1 3.2M1225.1 1241.9l1.6 4.4M1353.5 1236.7l8.6-23.1M1364 1208.5l1.6-3.9M988.4 1228.3l1.6-6.1M991.9 1214.2l1.6-6.3M993.9 1206.1l4.8-20.5M1091.7 1204.8l3.1 10.6M1095.2 1216.9l2.4 8.1M771.2 1243.1l.9-1.8M774.1 1237.4l1.5-2.9M776 1233.8l4.2-6.6 4.1-4.9M789.8 1218.3l3.3-.9M795.1 1217.5l4.6 1.5 4.5 3.6 4.9 5.6 5 7.8M956.5 1232.8l3.7-12.9M961.1 1216.8l2-6.9M963.9 1206.7l1.6-5.5M967.4 1194.1l1.4-4.7M1040.9 1194.1l9.7 35.9M1350.9 1239.4l2.4-8.3M1354.2 1228.2l2.6-8.8M1358.8 1212.9l1.5-5M799 1225.9l1.5 4.7M801.8 1234.7l2.2 6.7M930.2 1246.2l1.1-2.8M933.3 1238.3l8.5-20.9 7-14.9M952.6 1195.8l1.5-2.4M985.8 1202.4l10.3 25.1M1307.2 1208.4l5.6-22M768.2 1197.7l2.6 10.2M774.5 1221.9l1.5 5.7M779.8 1241.1l1.5 5.4M927 1246.7l1.5-1.6M934 1241.2l3.2-1.1M941 1240l1.9 .5M944.5 1241.1l1.5 .8M1259.9 1220.7l8.3-27.2M1268.7 1192l.2-.8M1363.8 1196.5l2.2 9.3M741.2 1212.7l1.6 6.3M743.9 1223.5l3 12.3M750 1247.8l.2 .8M1201.5 1233l.7-1.2M1204.1 1228.1l1.6-2.9M1209.4 1217.9l3.3-6.7M1214.6 1207.1l.7-1.4M1216.4 1203.4l1.5-3.3M1219.9 1195.7l2.4-5.4M1324.7 1192.2l1.7 7M1327.3 1202.7l6.1 24.4M1078.1 1231.9l1.1-3.5M1084 1213.4l.5-1.3M1087.8 1202.2l4.8-13.9M1095.2 1181.1l1.5-4.1M1203.7 1178.4l1.5 1.9M1208.9 1184.9l13.6 19.2M1224.7 1207.6l1.7 2.9M1032.4 1214.6l5-20.7M1138.5 1190.1l9.6 23.2M1149.7 1216.8l3.2 7.2M1154.9 1228.2l1.5 3.2M866.2 1210.8l2.6 8.3M869.4 1221.1l4.6 14.9M1279.6 1241l7.2-23.9M1288.1 1212.9l1.6-5M1291.6 1201.7l.7-2.1M793.8 1206.4l8.9 13.9 8.3 14.5M1230.2 1253.8l1-4.2M1233.2 1241.9l3.3-13M1240.2 1213.8l3.3-13.5M1350.5 1202.1l10.3 23.9M1362.7 1230.3l3.3 6.9M737.8 1236.6l1.5 3.1M1194.5 1245.6l2.4-9.3M1202.4 1214.4l4.1-17.3M1298.6 1191.5l8.8 30.7M979.2 1236.5l5.1-8.8M985.4 1226l.6-.9M986.5 1224.5l5.9-6.2 3-1.9 2.9-.8M1000.2 1215.5l4.2 1.2 4.4 3M1014.2 1225.9l10.1 16.8M1024.8 1243.6l1.5 3M1170.4 1204.1l.7-2.3M1171.5 1200.2l3.7-13.3M1241.3 1176.5l6.8 25.3M937 1230.6l1.6-5M939.4 1222.7l2-6.4M942.3 1213.6l1.9-6.2M945.8 1202.8l1.5-4.6M1001.8 1201.8l1.5 4.3M1007 1216.6l3.3 9.5M1014 1236.9l3.1 8.9M1017.5 1247.1l1.1 3.1M1144.2 1236.6l3.3-9M1149.4 1222.3l4.8-12.7M1154.7 1208.5l1.5-3.9M1206.1 1203.5l.9 2.3M1208.1 1208.9l.6 1.8M1210.7 1216.4l1.5 4.5M1214.2 1226.9l2.2 6.9M892.6 1231.9l5.7-21.2M900.3 1203.2l1.3-5.1M902 1196.5l1.3-5.1M985.2 1211.3l5.9 21.5M996.5 1251.7l1.3 4.4M1135 1244.1l1.5-2.2M1139.4 1238.2l2.4-2.6M1143.8 1233.8l1.5-1.2M1146.6 1231.7l4.6-1.8 4.6 .2M1159.5 1231.8l1.5 1M791.6 1219.7l3.2-6.9M796.8 1208.6l9-20.6M905.3 1186.8l1.5 6.3M908.8 1201.1l3.3 13.2M914.1 1222.2l1.3 5.2M1330.1 1248.5l3.3-7.2M1335.4 1237.2l10.3-20M1347.6 1213.8l.9-1.6M1349.4 1210.8l.4-.8M1352.9 1205l.2-.4M1356.4 1199.6l1.5-2.3M1006.6 1236.8l5-2.9M1013.6 1233.4l1.5-.1M1017.1 1233.4l5 2.1M1024.1 1236.9l.7 .6M1025.8 1238.4l1.4 1.3M1182.2 1214.2l1.6-5.8M1185.8 1201l2.6-10M1189.2 1187.6l1.6-5.9M1261.4 1173.8l1.1 4.3M1263.2 1180.6l8.1 31.2M932.7 1225.4h0M1041.2 1216h0M818.2 1209.7h0M792 1227.5h0M806.9 1200.8h0M998.1 1228.1h0M1047.9 1218.5h0M951.9 1238.4h0M931.3 1241.7h0M933.1 1236.3h0M1136.8 1239.3h0M1138.5 1234.3h0M1152.7 1194.7h0M1365.3 1209.8h0M1184.4 1200.9h0M1324.4 1232.6h0M1085.1 1245.1h0M795.3 1221.6h0M1366 1230.6h0M1001.3 1229.1h0M1036.8 1250.5h0M955 1238.1h0M1086.2 1206.8h0M1005.1 1211h0M1166.5 1238.5h0"/><path stroke="#00ffc6" d="M746.5 1179.1l1.5 4.6M750.7 1191.3l8.1 22.5M1262.3 1213.3l6.4-22.5M1269.3 1188.5l1.5-5.6M746.5 1196.3l5-12.2M752.6 1181.5l12.9-28.2M881.2 1155.3l12.1 26.4M938.1 1208.2l3.3-10.5M942.7 1193.5l2.4-7.8M946.9 1180l.6-2.1M1030.7 1183.8l10.2 31.5M1041.4 1216.6l1.5 4.5M824.6 1202.9l6.3-18.6M831.8 1181.7l3.3-9.3M966.6 1178l1.5 2.9M969 1182.5l12.2 24.5M987.6 1220.7l1.5 3.4M807.5 1175.1l8.8 28.4M1180.7 1249.1l1.5 .6M1338.4 1222.3l1.6-4.6M1341.9 1211.8l7.9-24.8M1350.7 1184.2l3.3-10.6M978.8 1212.8l.2-.5M981.7 1205.6l.8-2.2M983.2 1201.7l8.5-23.2M1098.2 1181.9l5.1 18.4M1105.2 1207.3l2.2 7.7M771.4 1167.1l8.6 24.1M1129.3 1233.6l1.5-2.7M1137.2 1221l.6-.8M1145.3 1212.4l1.3-.9M1150.3 1209.6l1.5-.5M1159.1 1209.3l1.5 .5M1162.6 1210.8l3.2 2.1M1318.3 1231.5l.2-.5M1325.8 1212.1l1.5-4.1M1327.9 1206.2l9.9-26.3M796.6 1219.9l1.3-2.6M801.6 1210.2l5.1-9M807.1 1200.5l8.3-12.1M817.4 1186.1l4.4-4 4.1-2.4M827.9 1179.1l1.5-.3M831.4 1178.8l4.1 1.2 4.4 2.9M841.2 1184.1l7.5 9.6 7.8 14.5M857.6 1210.5l.2 .5M1209.8 1206.1l11.2-26.2M1225.6 1171.2l.2-.3M1262.3 1172.9l1.5 2.7M1265.4 1178.3l.2 .4M1267.3 1182.1l7 14.5M1276.3 1200.9l1.5 3.4M1279.8 1208.8l1.5 3.5M1283.3 1216.8l.2 .5M866.6 1194.9l8.3-31M976 1172.4l8.7 23.4M897.4 1201.5l4.8-16.3M902.7 1183.7l.2-.8M1021.7 1169.7l1.5 2.9M1026.7 1179.2l1.8 3.2M1029.1 1183.7l18.6 34.3M1049.7 1221.7l1.5 2.9M1043.3 1211.2l1.6-2.9M1052.3 1193.8l1.3-2.6M1054.3 1189.9l1.1-2.2M1056 1186.4l7.7-15.8M1174.6 1168l1.5 5.5M1176.8 1175.8l3.5 12.4M1181.6 1192.8l1.5 5.4M829.4 1212.6l3.3-10.8M833.3 1199.6l7.5-25.7M932.7 1179.5l1.5 5M936.2 1190.8l3.2 10.4M997.6 1226.5l1.6-2.9M1001.1 1219.9l1.6-2.8M1004.6 1213.4l14.7-26.9M1020.4 1184.5l1.5-2.8M1151.2 1192.2l.2 .7M1152.1 1195.1l6.3 21.2M1097.2 1226.6l3.2-6.5M1107.7 1206.3l8.5-15.8M1119.9 1183.8l3.3-5.8M1125.2 1174.5l1.5-2.7M1250.5 1179.3l3.9 12.6M1256 1196.8l2.4 7.8M933.3 1235.7l3.3-10.4M937.2 1223.1l1.1-3.5M940.3 1213.1l6.8-23.2M1045.3 1175.8l1.5 5M1048.6 1186.4l1.7 5.5M1052.3 1198l3.3 10M1062.8 1229l1.5 4.3M1246.8 1183.3l6.1-20.3M1253.8 1160l.6-2.2M1255.5 1154.2l.3-.8M1329.5 1155.4l1.1 3.7M1331.9 1163.6l7 23.6M1339.5 1189.3l1.6 5.1M1250.9 1200.1l1.6-4.9M1254.2 1189.5l4.6-15M1259.7 1171.5l2-6.5M1339.8 1158.2l.2 .7M1341.9 1165.6l6.2 20.7M1348.9 1189.2l1.6 5M1087.8 1207.8l1.5-2.9M1091.2 1201.2l1.6-2.9M1094.8 1194.6l8.3-15M1103.5 1178.8l2.2-3.8M1232.8 1179.3l10.5 33.3M737.8 1206.1l1.5 4.7M1266.5 1207.9l10.5-33.8M1354 1168.7l9.6 30.2M1049.2 1211.7l1.6-4.1M1052.8 1202.4l12-30.2M1194.7 1167.3l1.3 2.8M1198 1174.3l10.5 23.8M1210.2 1202.3l.9 2.2M1213.8 1210.9l.6 1.6M1015.1 1195.3l8.6-26.4M1096.1 1162.9l1.1 3.5M1098.2 1169.9l.7 2.1M1099.3 1173.4l6.2 19.7M806 1171.9l8.5 28.2M1336.5 1216.6l10.3-32.8M1150.5 1200.6l.3-.6M1151.8 1197l.7-1.7M1152.9 1194.1l7.3-18.9M1294.5 1175.4l6.7 14.4M1305 1198.1l1.1 2.5M1306.7 1202.1l1.5 3.5M778.2 1168l8.8 32.4M1291.2 1211.5l1.5-3.9M1294.2 1203.7l.3-.6M1295.3 1200.8l11.2-30.7M1306.9 1168.8l.3-.7M1308.7 1163.6l.4-1.3M740.4 1202.9l9.4-21.6M862.4 1176.4l5.9 21.6M870.8 1206.6l1.5 5.4M1352.7 1235.8l.2-.4M1360.1 1220.8l1.5-3.2M1362.5 1215.8l2.6-5.6M1365.6 1209.3l.4-.9M1182.7 1207.2l1.5-5.5M1184.7 1200.1l6.5-24.1M1298.2 1171.9l1.5 3.9M1301.5 1180.3l5.2 12.8M1161.2 1212.8l9.7-34.9M1276.8 1181.4l8.5 23.2M1289 1214.2l1.5 3.8M901.8 1229l.4-.9M902.9 1226.6l9.9-19.1M914.7 1204.4l5.3-7M921.7 1195.5l5.1-3.9M928.7 1190.6l3.3-.8 3.5 .1M936.8 1190.3l5.3 2.6 5.4 5 5.9 7.4 6.6 10.3M962 1219l1.5 2.7M969 1231.9l1.5 2.9M1102.4 1225.2l1.5-3.7M1107.7 1212.4l1.5-3.7M1112.9 1199.7l8.5-19.8M1172.6 1173.2l1.3 3M1175.9 1180.9l8.5 22.2M1186.4 1208.6l3.3 9.3M870.5 1206.4l2.9-8.1M874.7 1194.6l5.7-15.3M937.2 1175.4l9.7 23.5M948.8 1203.9l3.3 8.2M1099.1 1220.3l1.8-2.8M1108.1 1207.6l1.5-1.8M1111.6 1203.7l3.9-3.4 3.7-2.2 3.8-1.2 3.5-.1 3.5 1 3.7 2.1 7.4 7.5M1144.8 1212.7l3.3 5.5M736 1205.9l6.3-15.7 5.7-11.9M750 1174.7l1.5-2.4M779.8 1180.2l6.3 14.9M786.8 1196.8l3.2 9.1M793.8 1216.9l1.3 4M1114.7 1179.6l.6-2.5M1116.6 1172l4.8-18.5M1177.9 1152.6l7.4 28.4M1357.2 1230.3l1.6-.5M1364.2 1230l1.6 .5M1021.5 1183.1l5.9-15.6M1027.8 1166.3l1.1-3M1113.6 1166.4l6.7 28.1M945.8 1185.2l1.5-1.9M949.3 1180.8l10.3-11.7 12.2-12.1M973.8 1155.1l1.5-1.4M1049.2 1153.8l3.1 6.4M1054.1 1164.1l7.6 18.8M1064.8 1191.2l.9 2.4M868.8 1232.1l1.5-5M874 1215.3l8.6-25.9M994.8 1181.3l1.5 1.9M1000.2 1188.2l15.4 22.2M1017.5 1213.6l1.6 2.6M1031.5 1239.5l.3 .4M831.2 1173.9l5.9-25.1M912.1 1147.6l.2 .7M914.3 1154.2l7.6 21.9M787 1196.5l5.2-22.7M793.3 1169l.9-3.9M874.2 1174.5l3.3 12.4M882.6 1205.2l.2 .7M1212 1222.6l1.5-.1M1219 1224.2l1.5 .9M756.1 1202.6l.5-1.6M758.5 1193.8l6.2-22.8M827.9 1171l.4 1.7M828.8 1174.3l8 30.8M839 1213.4l2.2 8.2M1149.9 1219.7l1.5-4.9M1152.9 1210l8.3-24M1162.1 1183.7l1.6-3.8M1200.6 1175.6l8.8 21.4M1212.9 1206.6l1.5 4.3M1218.1 1221.6l2 5.7M1221.6 1231.7l1.6 4.5M1362.3 1213l1.5-4M1365.8 1204.1l.2-.6M998.9 1184.7l2.9-12.5M1002.4 1169.3l.5-1.9M1081.2 1165.5l1.5 6M1084.7 1179l6.8 25M784.6 1222l1.5-1.3M788.1 1219.2l1.5-.8M793.3 1217.4l1.5 0M963.3 1209.1l.4-1.6M965.7 1200.4l1.5-5.5M969 1188.6l5.2-19M1033.5 1166.4l7.2 26.9M1357 1218.7l1.6-5.1M1360.5 1207.2l5.5-16.8M781.5 1173.4l1.5 4.3M784.3 1181.4l.5 1.2M786.8 1188.3l12 36.9M800.8 1231.3l.8 2.7M949.1 1202.1l3.2-5.9M954.3 1193.1l6.1-7.2 3.1-2.1 2.8-1M968.3 1182.8l4.2 1.4 4.1 3.5 4.4 5.9 4.6 8.4M1313.1 1185.6l5.4-21.7M761.2 1170l.8 3.5M763.3 1178.8l4.6 18.1M771 1208.7l3.3 12.4M1269.1 1190.5l6.1-22M1358.8 1174.5l4.8 21.1M736 1190.4l5 21.4M743 1219.9l.7 2.7M1215.5 1205.3l.7-1.4M1218.1 1199.6l1.6-3.4M1222.5 1189.8l8.7-21.1M1321.2 1178l3.2 13.3M1326.6 1200.1l.5 1.8M1092.8 1187.7l2.2-6M1096.9 1176.5l6.6-16.2M1105.7 1155.5l.6-1.4M1107.4 1151.8l1.1-2.2M1179.2 1152.5l1.5 1.5M1182.2 1155.6l.3 .2M1184.4 1157.7l19.1 20.5M1205.4 1180.5l3.3 4.1M1037.7 1193l4.8-20.1M1128.7 1163.6l1.5 4.3M1132.2 1173.3l6.1 16.2M736 1195.3l12.9-16.6M750 1177.4l1.5-1.8M856.8 1182.8l9.1 27.3M869 1219.8l.2 .7M1287 1216.4l.9-2.8M1289.9 1207.2l1.5-4.8M1292.5 1198.9l4.2-12.7M771 1176l1.5 1.9M774.5 1180.4l1.5 1.9M776.9 1183.4l16.6 22.6M1236.7 1228l3.3-13.3M1243.7 1199.4l4.8-20.1M1341.7 1179.4l8.5 22.2M1206.8 1196.2l3.7-16.1M1211.1 1177.3l1.6-6.8M1292.5 1168.3l.7 2.5M1293.6 1172.5l4.8 18.2M998.5 1215.6l1.5-.1M1009 1219.9l3.3 3.5M1175.5 1186.1l10.7-37.7M1187.1 1145.5l.2-.8M1233.9 1149.8l7.2 25.9M941.6 1215.6l.5-1.4M944.5 1206.7l1.1-3.3M947.5 1197.6l9.7-24.7M959.8 1167.6l.2-.4M991.3 1175.6l1.5 3.4M994.6 1183.1l3.5 8.7M999.8 1196.5l1.8 4.7M1003.5 1206.7l1.3 3.7M1005.3 1211.6l1.5 4.4M1156.4 1204.1l6.8-15.5 6.1-11.2M1186.2 1168.6l3.3 2.6M1191.4 1173.5l1.6 2.1M1196.7 1181.8l9.2 21.1M1207.2 1206.4l.6 1.8M1208.9 1211.3l1.6 4.4M898.5 1209.8l1.6-5.8M903.6 1190.6l5.2-20.3M975.5 1174.9l9.4 35.6M1156 1230.1l1.5 .6M795.1 1212.3l1.5-3.3M806 1187.5l9.8-25.1M901.8 1172.5l3.3 13.4M907.1 1194l1.5 6.2M1345.9 1216.8l1.5-2.7M1348.7 1211.9l.5-.8M1350 1209.7l2.7-4.4M1353.3 1204.3l2.9-4.4M1358.1 1197l7.9-10.9M1188.6 1190.1l.4-1.7M1191 1180.8l6.8-26.4M1255.5 1150.8l5.7 22.1M1262.8 1178.9l.2 .9M762.2 1223h0M895.2 1186.4h0M1096.3 1174.5h0M895.5 1208.1h0M736 1200.8h0M1364.5 1201.5h0M1106.1 1195.2h0M1017.1 1194h0M871.8 1165.1h0M1320.1 1157.7h0M1268.4 1192.7h0M1249 1177.5h0M1232.3 1144.6h0M1154.5 1209h0M901.8 1197.3h0M899.8 1164.4h0"/><path stroke="#00aaff" d="M741.2 1163l5.1 15.5M748.2 1184.3l2.2 6.4M1268.9 1190.1l.2-.8M1271.1 1182l4.1-15.5M1278.1 1155.6l.4-1.7M765.8 1152.9l8.5-15.9M867.2 1130l1.6 2.4M870.1 1134.6l10.9 20.2M945.3 1185l1.4-4.2M947.8 1177.2l5.9-19.1M1021.7 1155.4l.2 .7M1022.6 1158.2l7.8 24.9M831.2 1183.6l.4-1.2M835.3 1171.8l7-19.2M845.8 1143.5l.9-2.2M944.7 1141.1l.6 1M950.8 1150.7l5 8.3M957.8 1162.4l8.5 15.2M968.3 1181.3l.5 .8M796.8 1140l.2 .7M798.3 1145l9 29.4M1350 1186.3l.5-1.4M1354.2 1172.9l3.7-12.1M1361.2 1150l1.5-5M991.9 1177.8l6.2-17.8M998.5 1158.7l2.8-8.7M1002 1147.9l.4-1.3M1089.9 1150.2l6.2 23.5M1096.5 1175.3l1.5 5.8M758.8 1137.7l1.5 2.9M760.7 1141.5l10.5 25M1338 1179.4l7.9-20M1346.8 1157.3l1.5-3.5M815.6 1188.1l1.6-1.7M826.1 1179.6l1.6-.5M829.6 1178.8l1.6 0M840.1 1183.1l.9 .8M1221.2 1179.5l4.1-7.9M1226 1170.5l7.7-10.3 3.7-3 3.7-1.6M1244.8 1155.5l1.5 .4M1247.4 1156.3l.7 .4M1248.5 1156.9l1.3 .8M1251.2 1158.7l5.2 5.5 5.7 8.3M1264.1 1175.9l1.1 2M1265.8 1179.1l1.3 2.5M875.1 1163l5.5-21.2M964.8 1139.5l3.3 10M970.1 1155.4l5.7 16.3M903.1 1182.2l8.1-27.5M1013.2 1153.2l8.3 16.1M1023.4 1173l3.1 5.8M1028.7 1182.8l.2 .4M1063.9 1170.1l14.2-31.6M1165.8 1136.7l8.6 30.5M1176.3 1174.2l.3 .8M841 1173.2l7-25.1M924.3 1151.7l8.1 27.1M934.4 1185.2l1.5 4.9M1019.5 1186.1l.7-1.2M1022.1 1181.3l5.1-9.3M1029.1 1168.4l1.8-3.3M1141.1 1158.6l9.9 32.9M1151.6 1193.7l.2 .7M1116.4 1190.1l3.3-5.9M1123.4 1177.6l1.5-2.7M1126.9 1171.4l9-15.7M1241.8 1151.7l.4 1.4M1242.8 1155.1l7.5 23.5M1254.7 1192.6l1.1 3.5M947.3 1189.2l8.5-30.8M1042.5 1166.5l2.6 8.6M1047.1 1181.5l1.3 4.2M1050.6 1192.6l1.5 4.7M1253.1 1162.2l.5-1.4M1254.7 1157.1l.6-2.2M1256 1152.7l6.1-20.6M1262.5 1130.7l.9-2.9M1322 1129.9l1.6 5.2M1324.2 1137.4l5 17.2M1330.8 1159.9l.9 3M1259 1173.7l.5-1.4M1261.9 1164.3l4.3-14.7M1266.7 1148.1l1.5-5.2M1333.8 1137.9l.9 3M1335.6 1143.9l3.9 13.5M1340.2 1159.7l1.5 5.2M1105.9 1174.6l14.9-25.6M1122.8 1145.7l1.5-2.6M1218.1 1135.1l.7 1.9M1224.2 1153.1l8.4 25.5M1277.2 1173.3l10-32.1M1345.2 1141.3l1.6 4.7M1348.3 1150.8l5.5 17.2M1065 1171.7l10.3-22.9M1077.2 1144.8l1.6-3M1183.8 1146.3l3.5 6.4M1189.2 1156.4l5.3 10.5M1196.2 1170.5l1.6 3.3M1023.9 1168.2l9.2-28.3M1034.4 1136l.2-.7M1086.2 1132.4l.5 1.3M1089.1 1140.9l6.7 21.3M1097.4 1167.1l.6 2.1M796.8 1140.6l.2 .7M799 1148.1l6.8 23M1347 1183.1l9.4-31.3M1160.4 1174.7l10.7-25.7M1172 1147.1l1.5-3.3M1278.7 1146.1l1.5 2.6M1282.2 1152.1l3.3 5.9M1286.2 1159.2l8 15.7M771 1140l7 27.2M1307.4 1167.5l1.1-3.2M1309.3 1161.7l6.2-18.8M750 1180.8l11.8-29.7M762.2 1149.9l.7-1.7M855.2 1149.3l1.3 5M857.8 1159.3l4.4 16.3M1356.6 1228l1.5-3.2M1191.4 1175.2l5.7-21.5M1291.2 1153.1l6.8 18.2M1299.9 1176.4l1.3 3.3M1171.1 1177.1l5.5-20.8M1177 1154.6l1.5-6M1266.2 1150.1l10.3 30.7M913 1207.1l1.5-2.4M920.2 1197.1l1.3-1.4M927 1191.5l1.5-.8M935.7 1190l.9 .2M1121.7 1179.4l6.3-13.1 5.7-9.9M1158.4 1149l1.5 1.7M1162.8 1154.6l2.4 3.8M1167.2 1161.9l5.2 10.8M1174.2 1176.7l1.5 3.6M880.6 1178.7l10.3-23.5M922.6 1146.7l3.3 5.3M926.5 1153.1l10.5 21.8M748.2 1177.8l1.6-2.7M751.8 1172l3.4-4.6 3.6-3.1 3.4-1.5 3.3 .1 3.3 1.7 3.5 3.4 7.2 11.8M1121.7 1152.7l9.4-34.3M1134.8 1106.4l5.4-14.5 4.9-8.3M1147 1081.8l2-.9 1.8 0 3.7 2.7 3.9 6.5 4.2 10.1M1164.5 1105.8l13.2 46M1029.1 1162.7l9.9-28.6M1105.2 1131.7l1.1 4.6M1106.8 1138.1l6.5 27.4M972 1156.8l1.6-1.5M975.5 1153.5l15.8-13.7 11.4-8.5 9.1-4.7 7.9-1.5 4 .4 3.7 1.3 7.2 5.2 7.2 8.9 7.2 12.5M1052.5 1160.7l1.3 2.9M882.8 1188.7l7.9-21.5M891.5 1164.9l3.3-7.9M974.2 1158l4.6 5M980.8 1165.2l13.8 15.8M996.5 1183.4l3.5 4.5M837.3 1147.9l6.8-28.8M903.8 1121.5l8.1 25.5M912.5 1149l1.6 4.6M792.4 1172.9l.7-2.9M794.2 1165.1l3.3-14.8M798.6 1145.3l1.7-8.1M866.8 1144.9l4.8 19.3M872.1 1166l1.9 7.6M764.9 1170.2l8.1-29.3M820.9 1145.1l.4 1.6M822 1149l5.7 21.2M1161.5 1185.4l.4-1.1M1163.9 1179.4l6.8-14.1M1172.6 1162.2l1.6-2M1176.1 1158l3.5-2.6 3.3-.7M1186.6 1155.7l3.3 2.5 3.3 4 7.2 13M1002 1171.3l.2-1M1003.1 1166.4l6.1-27.8M1077.7 1151.6l3.3 13.1M1082.9 1172.3l1.6 5.9M974.4 1168.8l8.4-28.8M1025.2 1137.2l1.5 5.1M1027.2 1143.8l6.1 21.8M736 1176l4.8-13.1M741.2 1161.8l1.6-3.7M744.8 1153.8l.4-.9M775.6 1158.7l5.7 14.2M783.2 1178.3l.9 2.4M785 1183.2l1.5 4.5M966.6 1182.8l1.5-.1M1318.8 1163l1-4.4M1320.3 1156.8l5.2-21.2M753.5 1139.3l1.5 6.1M757 1153.3l3.9 15.8M762.2 1174.4l.9 3.5M1275.4 1167.7l8.4-32.1M1349.8 1133.4l1.1 5.1M1352.7 1146.7l5.9 26.8M1231.5 1168.1l9.2-24.2M1309.1 1129.7l11.8 47.4M1103.7 1159.8l1.8-3.8M1106.6 1153.6l.6-1.3M1108.8 1149.2l7-12.1 7-8.4 7-4.8 3.4-1.1 3.8-.2 7.4 1.8 8.8 5 10.5 8.5 15.3 14.4M1180.9 1154.3l1.1 1M1182.7 1156l1.5 1.5M1042.7 1172l7-29.6M1122.3 1145l6.1 17.9M1130.4 1168.5l1.5 4.2M749.1 1178.4l.7-.7M751.8 1175.4l15.5-17.3M769.2 1156l1.6-1.7M772.8 1152.2l1.5-1.6M846.2 1155.7l10.3 26.5M1296.9 1185.5l10-28M745.6 1144.3l.7 .8M748.2 1147.6l6.8 8.5M757 1158.5l13.8 17.2M772.8 1178.2l1.5 1.9M776.2 1182.6l.5 .5M1249.2 1176.5l4.1-17.6M1254.2 1155.2l1.1-4.7M1331.2 1149.1l10.3 29.7M1210.7 1179.2l.2-1M1212.9 1169.5l7-31.8M1286.4 1143.8l5.9 23.6M1186.4 1147.6l.4-1.4M1187.5 1144l3.1-9.8M1192.3 1128.9l5-13.5M1199.3 1111l1.5-3M1202.8 1104.7l2.6-3.2 2.7-1.9 2.4-.3 2.6 1.1M1215.1 1102.1l3.2 4.7 3.5 7.2M1223.8 1118.8l8.3 25.1M1232.6 1145.3l1.1 3.8M957.4 1172.4l2.2-4.4M960.2 1166.8l4-6.2 3.7-4 3.7-2 3.7 0 3.7 2 3.8 4 3.9 6 4.4 8.5M993 1179.5l1.3 3.1M998.3 1192.4l1.3 3.5M1169.6 1177.1l4.1-5.4 4.2-3.3 4.1-1.1 4 1.2M1189.7 1171.5l1.5 1.7M1193.2 1175.9l3.3 5.5M909 1169.4l7.2-27.6M917.8 1136.2l1.1-4M966.8 1141.6l1.5 5.8M969.6 1152.3l5.7 21.8M816.1 1161.8l8.5-23.8M893.9 1140.2l5.7 23.3M900.1 1165.3l1.5 6.3M1198 1153.5l7.4-28.2M1247.9 1121.9l.6 2.4M1249 1125.9l6.3 24M776.2 1133.7h0M955.6 1151.8h0M736 1140.1h0M962.8 1133.4h0M902.5 1184.4h0M1333 1134.9h0M1103.3 1179.2h0M1088.4 1139h0M1099.1 1172.7h0M1306.7 1169.4h0M1027.6 1166.9h0M819.6 1140.4h0M828.5 1173.5h0M1242.6 1138.4h0M1248.8 1178.4h0M1293.4 1171.7h0"/><path stroke="#001cff" d="M736 1146.2l5 16.1M1275.4 1165.7l2.4-9.2M1278.7 1153.1l6.8-26.7M1360.3 1133.3l5.7 18.8M774.5 1136.7l1.5-2.6M776.5 1133.4l9.4-13.9 9.4-10.6 9.6-7.6 9.6-4.2M818.2 1096.3l6.8-.3M828.8 1096.5l1.5 .3M832.2 1097.4l1.6 .5M835.8 1098.7l3.2 1.6M841 1101.4l1.5 1M844.5 1103.8l5.7 4.7 5.5 5.8 11.3 15.4M869 1132.8l.9 1.4M953.9 1157.4l1.5-4.9M955.8 1151.1l6.2-19.1M962.6 1130.1l1.6-4.6M1011.8 1125.3l9.7 29.4M1022.1 1156.8l.2 .7M842.5 1152l3.1-7.9M846.9 1140.8l7-16.6M854.6 1122.8l1.5-3.3M930.5 1120.7l.8 1.2M933.3 1124.6l11.2 16.2M945.6 1142.5l5 7.9M956.1 1159.4l1.5 2.6M736.2 1139.4l10.7-32.7M788.5 1114.1l8.1 25.2M797.2 1141.4l.9 2.8M1358.1 1160l2.9-9.3M1362.9 1144.3l3.1-9.8M1001.6 1149.3l.2-.7M1002.7 1145.9l7-22.6M1080.8 1113.5l8.9 35.8M736 1126.4l2.8-2.2 2.9-1.2 2.6-.1 2.9 .9 5.4 4.6 5.9 8.9M1346.1 1158.9l.4-1.1M1348.5 1153.3l8.3-16.8 3.7-5.8 3.5-4M1241.3 1155.6l3.3-.1M1246.6 1156l.6 .3M1250.1 1157.9l.8 .6M880.8 1141l7.2-28.9M952.6 1099.5l3.2 11.1M957.6 1116.4l5 16.3M963.1 1134.1l1.5 4.7M968.3 1150.2l1.5 4.5M911.4 1154l7.5-24.7M997.2 1120.6l3.3 6.9M1001.1 1128.9l11.8 23.8M1078.3 1138l10.3-24.8M1090.6 1108.2l3.3-8.2M1158.4 1110.4l.2 .8M1160.6 1118.1l5 17.8M848.2 1147.3l9-32.7M912.3 1110l.9 3.1M915.2 1119.9l8.9 31M1027.4 1171.6l1.5-2.8M1031.1 1164.7l17.1-32.8M1134.1 1135.6l6.8 22.2M1136.1 1155.4l18.6-32.5M1156.7 1119.5l1.5-2.7M1233.7 1127.5l7.8 23.5M1242.4 1153.7l.2 .7M956.1 1157.6l8.1-30.3M1030.4 1125.2l2.4 8.5M1034.8 1140.5l7.4 25.3M1263.6 1127l7.7-24.6M1273 1097.1l3.3-9.4M1280 1078.2l1.6-3.5M1285.3 1067.8l2.8-3.6 2.7-1.9 2.6-.3 2.6 1.3 2.6 2.8 2.9 4.6 6.3 14.6M1309.8 1090.8l12 38.4M1323.8 1135.9l.2 .7M1268.4 1142.2l10.3-33.9M1324.4 1106.5l1.6 4.9M1327.3 1115.7l.4 1.5M1329 1121.6l3.8 12.6M1333.2 1135.7l.4 1.4M1334.9 1141.6l.5 1.5M1121 1148.7l1.5-2.6M1124.5 1142.8l14.7-24.4M1140.2 1116.6l1.6-2.5M1213.3 1121.8l4.6 12.7M1219 1137.6l5 14.8M1287.5 1140.5l12-34M1336.7 1116.4l8.3 24.2M1347 1146.7l1.1 3.4M1075.5 1148.4l1.5-3.2M1079 1141.4l10.3-18M1091.2 1120.4l1.6-2.1M1161.2 1114.2l1.6 1.7M1167.4 1121.4l.6 .8M1169.1 1123.6l7.2 10.4 7.3 11.9M1187.5 1153.1l1.5 2.9M1033.3 1139.2l.9-2.6M1034.8 1134.7l4.8-13.6M1041.4 1116.4l4.4-10.6M1069.4 1093.2l1.5 2.3M1075.9 1105.3l.3 .5M1078.1 1110.4l7.9 21.4M1086.9 1134.4l1.3 3.9M1088.6 1139.6l.2 .7M736 1125.7l.7-2.2M737.8 1120l1.5-5M787.8 1110.6l8.8 29.2M797.2 1142.1l1.6 5.2M1356.6 1151l7.2-24.1M1171.3 1148.6l.5-1M1173.7 1143.3l10.5-20.3M1191.2 1112.2l1.6-2.1M1235 1097.5l1.5 .9M1245.5 1104.7l1.5 1.3M1252.5 1111.2l3.3 3.4M1257.7 1116.8l1.5 1.7M1261.2 1120.9l8.8 11.6 8.5 13.2M1280.5 1149.1l1.5 2.6M1285.7 1158.4l.2 .4M763.6 1110.1l7.2 29M1315.7 1142.2l8.5-28M763.1 1147.6l9.9-27.5M851.5 1135.1l3.5 13.4M856.8 1155.1l.8 3.3M1197.3 1152.8l7.9-30.6M1278.1 1114.7l12.9 37.8M1178.8 1147.8l5-20M1257.5 1121.6l8.5 27.8M1133.9 1156.1l6.3-7.9 3.1-2.4 3.1-1.4 3-.4 2.9 .6 5.9 4.2M1160.2 1151l2.4 3.3M1165.4 1158.8l1.5 2.7M891.1 1154.8l4.1-7.3 4-5.3 3.9-3.7 3.7-1.8 3.8-.2 3.9 1.6 3.9 3.4 4 4.9M926.1 1152.4l.2 .3M1131.3 1117.6l3.3-10.5M1145.3 1083.4l1.5-1.5M1162.8 1100.8l1.5 4.4M1039.2 1133.4l5-15.4M1045.3 1114.6l1.5-4.8M1101.1 1114.7l3.9 16.1M890.9 1166.6l.4-1.1M895 1156.5l3.3-7.3M900.3 1145.1l6.8-11.8M910.8 1128.3l.2-.2M938.8 1123.8l1.5 1M947.5 1130.7l1.6 1.3M951 1133.9l1.6 1.5M953.2 1136l20.8 21.8M979 1163.2l1.6 1.7M844.3 1118.2l6.8-27.9M853 1082.5l7.7-27 3.3-8.9 2.8-5.8M868.8 1038.2l1.7-1.2 1.6-.2M874 1037.7l1.6 1.5M877.5 1042.2l4.6 10.3 5.7 16.7M891.5 1081.1l12.1 39.7M797.5 1150.3l1.1-5M800.3 1137.2l3.3-15.3M803.8 1120.8l1.8-8.2M854.8 1093.2l1.3 5.8M858.5 1109.6l8.1 34.4M773.2 1140.1l4.4-14.8M779.5 1119.2l3.3-9.5M809.3 1108.1l1.5 4.1M812.1 1116l7.2 23.6M819.8 1141.2l.9 3.1M821.5 1147.5l.3 .7M1170.9 1165l1.5-2.4M1174.4 1159.9l1.5-1.7M1183.1 1154.7l3.3 .9M1009.2 1138.6l3.7-17.4M1014.7 1112.9l1.7-8.3M1064.8 1096.6l.4 1.9M1067.6 1109.1l9.9 41.6M983 1139.3l6.5-19.9 5.7-13.3M998.9 1100.3l.5-.6M1000.7 1098.5l.6-.5M1012.9 1104.7l5.5 12.2 6.6 19.6M743 1157.6l1.5-3.4M745.4 1152.4l3.7-6.6 3.7-4.8 3.8-2.5 3.5-.4 3.5 1.6 3.7 3.9 3.9 6.1 4.2 8.5M1325.8 1134.7l9.8-38.5M1337.6 1089.2l7.4-22.3 3.1-5.9 3-3.3 2.9-.2 3 2.7 3.1 5.5 3.5 9.1M748.2 1118.7l5.1 19.7M755.2 1146.3l1.6 6.1M1284 1134.7l7.6-32M1344.3 1107.3l5.5 26.1M1350.9 1138.5l1.8 8.2M1240.9 1143.3l1.5-4.3M1242.8 1137.8l13.2-37.5M1256.6 1098.4l1.6-4.3M1303.9 1109.5l5 19.3M1049.9 1141.5l8.8-36.4M1111.2 1110l10.9 34.3M767.5 1157.9l1.5-1.7M771 1154.1l1.5-1.6M774.5 1150.4l14.7-15.1M790.2 1134.2l3.3-3M795.5 1129.5l4.8-3.9M800.8 1125.3l1.5-1.1M804.2 1123l3.3-1.7M811.2 1120l1.6-.3M814.8 1119.5l3.2 .2M820 1120.2l1.5 .6M823.5 1121.9l5.5 4.5 5.4 6.8 5.7 9.7 5.9 12.3M1307.2 1156.9l7.2-16.6 6.8-12.3M1354.6 1122.1l8.6 8.5M1364.5 1132.1l1.5 1.7M736 1132.5l9.4 11.5M746.5 1145.4l1.5 1.9M755.2 1156.4l1.6 1.9M1253.6 1158l.4-1.9M1255.5 1149.6l6.4-27.1M1324 1126.4l7 22M1219.9 1137.7l5.2-24.6M1226.9 1104.7l.4-2M1275.9 1098.8l10.3 44.1M1190.8 1133.5l1.3-3.9M1197.6 1114.9l1.5-3.4M1201.1 1107.6l1.5-2.6M1213.3 1100.5l1.5 1.4M1222.1 1114.5l1.5 3.7M916.5 1141l1.1-4M919.1 1131.4l1.7-6.3M921.3 1123.6l3.5-11.8M958.2 1111.6l1.4 4.3M961.5 1122.6l5.1 18.2M968.5 1148.2l.9 3.3M824.8 1137.4l8.5-25.2M884.3 1102.1l9.4 37.2M1205.7 1124.5l9.4-30.8M1215.5 1092.5l5.5-11.8 2.4-3.2 2.4-1.6M1227.8 1075.7l1.9 .9 2.2 2.1 4.4 7.8M1238.2 1091.3l9.5 29.9M748.2 1103.1h0M998.3 1159.3h0M760.5 1141.1h0M1248.3 1156.8h0M1156.9 1105.1h0M1262.3 1131.4h0M1266.5 1148.8h0M1211.8 1117.8h0M1189.5 1114.7h0M762 1150.5h0M849.5 1127.5h0M1176.8 1155.4h0M1099.3 1107.7h0M1106.6 1137.2h0M1011 1101.5h0M1026.9 1143h0M741 1162.4h0M1322.2 1120.7h0M956.1 1104.9h0M835.3 1106.3h0M1248.8 1125.1h0"/><path stroke="#7100ff" d="M1285.7 1125.6l9.9-40.1M1349.8 1096.3l10.3 36.2M814.8 1097l3.2-.7M825.2 1096l3.3 .4M830.5 1096.9l1.5 .4M834 1098l1.5 .6M839.2 1100.4l1.6 .9M842.8 1102.5l1.5 1.1M962.2 1131.4l.2-.7M964.4 1124.9l8.5-22.6 7-13.1M981.9 1086.7l3.3-2.6M987.1 1083.4l3.3 .4M992.4 1085.1l5 6M1000.9 1097.5l5 11.7 5.7 15.5M854.1 1123.7l.2-.4M856.3 1119l6.4-12.3 6.1-9.6 5.9-6.8 5.9-4.4M882.6 1085.1l3.2-.9M891.3 1084.4l7.9 3.2 8.7 6.8 10.3 10.9 12 15.1M931.6 1122.2l1.5 2.1M747.2 1106.1l.8-2.5M748.5 1102.5l5.4-13.3 4.9-8.7 4.5-4.8 2.2-.8 2.2 .1 4.4 3 4.8 7.2 5.3 11.5 6.1 16.8M1009.9 1122.6l10.9-38.1M1024.8 1070l1.5-5.7M1067.2 1057.3l1.1 4.6M1073.8 1084.7l6.7 28M1364.2 1126.5l1.8-1.5M888.2 1111.2l18.6-76.9M932.4 1025.4l.7 2.6M934.4 1033.1l.4 1.7M936.4 1040.6l.2 .9M939.9 1053.9l.2 .8M942.1 1062l10.2 36.8M956.1 1111.4l1.3 4.3M919.1 1128.6l12.9-39.5M934.2 1083.2l.4-1.2M979.2 1082.8l.3 .4M981.7 1087.7l1.3 2.8M983.8 1092.3l13.2 27.9M1000.7 1128l.2 .4M1088.8 1112.6l1.6-3.8M1094.1 1099.4l13.3-33.7 7.5-16.8M1116.8 1045.2l5.5-7.8 2.4-1.8 2.4-.5M1129.1 1035.7l3.5 3.1 3.5 5.6 8.5 21.1M1146.6 1071.3l10.1 33M1157.1 1105.8l1.1 3.8M1158.8 1111.9l1.6 5.4M857.4 1113.8l5.3-18.9M864.4 1088.8l1.8-5.9M867.9 1077.1l1.5-4.9M871.4 1066.2l.7-1.9M899.4 1067.7l1.5 4.5M902 1075.6l10.1 33.7M913.4 1113.8l1.5 5.3M1048.4 1131.5l17.3-34.7M1121 1095.9l.7 1.9M1124.7 1106.5l.5 1.3M1126.5 1111.7l7.4 23.2M1154.9 1122.5l1.5-2.6M1158.4 1116.4l15.5-26.1M1210.9 1075.9l1.5 2.3M1217.9 1088l7.2 16.5 8.3 22.4M964.4 1126.4l6.1-23.3M1024.8 1105l5.4 19.4M1033.1 1134.4l1.5 5.4M1271.5 1101.7l1.3-4M1276.5 1087.1l3.3-8.4M1281.8 1074.3l3.3-6.2M1308 1085.9l1.6 4.2M1278.9 1107.6l7.3-21.4 5.6-13.6 5.1-8.1 2.4-2.1 2.2-.8M1303.4 1061.8l2.2 1.3 2.2 2.3 4.6 7.9 5.3 12.8 6.5 19.7M1326.2 1112.1l.9 2.9M1327.9 1117.9l.9 2.9M1139.4 1118l.6-1.1M1142 1113.7l13.6-21.2 9.6-12.6 8.1-7 3.7-1.7 3.5-.4 3.7 .9 3.5 2.2 3.5 3.3 3.7 4.9 7.9 14.3 8.8 20.8M1212 1118.4l1.1 2.8M1299.7 1105.9l4.8-10.4 4.6-7.3 4.4-3.7 4.2-.5 4.1 2.7 4.4 5.9 4.8 9.5 5.5 13.7M1089.5 1123.1l1.5-2.3M1093 1117.9l7.9-9.6 7.9-6.9 8-4.3 8.4-1.8 8.7 .8 9 3.4 9.2 6.1 8.9 8.3M1163 1116.1l4.2 5M1168.2 1122.5l.7 .8M1039.8 1120.5l1.4-3.5M1046 1105.3l6.3-11.8 2.9-3.4 2.8-2.2 2.8-.8 2.7 .6 2.8 1.9 2.9 3.3M1071.1 1095.9l4.6 8.9M1076.4 1106.3l1.5 3.6M736.9 1122.8l.6-2.1M739.5 1114.3l11.8-34.1 4.6-9.6 4.4-5.9M762.2 1063.4l2.9-.4 3.1 1.5 3 3.6 3.1 5.3M778 1081.8l1.5 4M781.3 1090.6l6.3 19.3M1364 1126.2l2-6.5M1184.4 1122.7l4.8-7.7M1189.7 1114.3l1.3-1.8M1193 1109.8l5-5.8 4.8-4.5 5-3.3 5.1-2.1 5.2-.9 5.3 .2 5.4 1.4 6 2.6M1236.7 1098.5l8.5 6M1247.2 1106.2l5 4.7M1256 1114.8l1.5 1.7M1259.5 1118.8l1.5 1.8M750 1053.7l13.3 55.5M1324.4 1113.4l8.6-30M1340.2 1056.5l1.5-5.9M773.2 1119.5l13.1-40.1M790.2 1066.9l1.6-4.9M834 1067.7l5 19.2M839.7 1089.5l9.6 37.2M849.8 1128.4l1.5 5.9M1205.4 1121.3l10.3-40.8M1217.7 1072.7l.9-3.5M1266.7 1078l3.3 10.9M1271.1 1092.4l6.7 21.6M1184 1126.9l10.3-42M1201.5 1054.6l1.5-6.4M1241.8 1065.2l1.5 5.8M1245.2 1078.3l1.6 5.6M1247.4 1086.3l9.9 34.6M1044.4 1117.3l.7-2.1M1047.1 1109.1l15.5-46.9M1064.6 1057.3l5-9.9M1071.6 1045l2.6-1.6 2.4 .4M1082.1 1050.8l1.5 3.4M1084.9 1057.4l.4 1.2M1087.3 1064.2l11.8 42.6M1099.6 1108.5l1.3 5.3M898.5 1148.7l1.6-3.1M907.3 1133l3.3-4.4M911.2 1127.8l6.4-5.7 6.5-2.6 6.8 .5 7.7 3.7M940.5 1125l6.8 5.5M949.3 1132.2l1.5 1.5M952.8 1135.6l.2 .2M851.3 1089.4l1.5-6M867 1040.5l1.6-2M872.3 1036.8l1.5 .7M875.8 1039.5l1.5 2.4M888 1069.8l3.3 10.6M803.6 1121.9l.2-1.1M805.6 1112.6l10.5-50.3M817.8 1054l1.8-8.2M824.8 1022.8l1.5-5.9M828.3 1010.6l1.5-3.4M831.8 1005.5l1.5 1.1M838.8 1022.6l7 30.1M849.3 1068.5l5.5 24.7M856.3 1100l2 8.6M777.8 1124.6l1.5-4.8M783 1109.2l3.5-8.4 3.3-6 3.3-3.8 3.1-1.3 3 1 3.1 3.2 3.3 5.5 3.5 8.1M811 1112.8l.9 2.5M1012.9 1121.2l1.8-8.3M1016.4 1104.6l8.8-41.9M1026.9 1054.3l1.8-8.2M1030.4 1038.1l1.6-6.8M1033.9 1023l4.9-15.4 1.9-2.3 1.8 .9M1044.4 1010.2l3.3 11M1049.7 1029.2l3.3 14.2M1054.9 1052.2l9.7 43.4M1065.4 1099.5l2 8.7M995.4 1105.7l3.3-5.2M999.6 1099.5l.9-.8M1001.6 1097.8l2.4-.9 2.2 .3 2.1 1.4 2.5 2.6M1011.2 1101.9l1.5 2.4M1335.8 1095.4l1.5-5.5M1363.8 1075.5l2.2 6.9M737.8 1082.9l10.2 34.9M1291.8 1101.7l13.8-62.7M1307.2 1031.7l5.2-25.5M1315.9 989.2l2-8.2 .4-.5 .5 .8 9.4 45.7M1330.1 1036.9l1.6 7.7M1333.4 1053.3l10.9 54M1256.2 1099.7l.2-.6M1258.4 1093.5l9.4-24.4 3.5-7.2 3.3-5M1275.9 1055.5l3.3-1.9M1281.1 1053.7l2.4 1.4 2.4 2.9 5.1 10 5.7 16.2 7 24.5M1058.9 1104.2l7.4-28.9 5.7-18.7 4.8-11.6 2.2-3.4 2.2-1.9M1083.2 1039.4l1.5 .6M1088.4 1044.3l1.5 2.8M1091.9 1051.3l3.3 8.5M1097.2 1065.4l13.7 43.9M789.4 1135.1l.6-.6M793.8 1131l1.5-1.4M802.5 1124.1l1.5-1M807.8 1121.2l3.2-1.2M813 1119.6l1.5-.1M818.2 1119.8l1.6 .4M821.8 1120.9l1.5 .8M1321.4 1127.7l3.9-5.3 3.7-3.7 4-2.7 3.9-1.3 3.9 0 4.2 1.1 4.6 2.5 4.8 3.7M1363.4 1130.9l.8 .9M1262.1 1121.6l7.4-30.8M1270 1089l1.5-6.1M1310.2 1080.8l1.6 5.1M1312.8 1089.5l9.2 30.5M1322.5 1121.5l1.3 4.2M1225.1 1113.1l1.8-8.4M1227.3 1102.7l18.4-85.2 3.9-11.5 1.8-1.6 1.5 .8M1254.9 1009.2l3.9 13.7 6.6 28.5M1266.2 1055.4l9.5 42.4M925 1111.1l4.6-13.5 3.9-9 3.7-5.7 3.6-2.3 3.4 .9 3.6 4 3.9 7.7 4.1 11M956.3 1105.5l1.7 5.4M959.8 1116.7l1.5 5.2M833.6 1111.5l1.5-4.6M835.5 1105.6l9.7-28.3 6.3-16 5.3-9.3 2.4-2.4 2.4-.9 2.4 .6 2.4 2.2 5 9.1 5.7 16 7 24.7M1226 1075.8l1.5-.2M1236.5 1087l1.5 3.8M1123.4 1102.7h0M800.5 1125.4h0M921.1 1124.3h0M1215.3 1093.1h0"/><path stroke="#ff00ff" d="M1295.8 1084.6l18.1-73.1 4-11.7 1.5-2.5 1.3-.6 1.3 1 1.6 2.8 3.7 11.1 22.3 83.9M980.1 1088.9l1.6-1.9M985.4 1084l1.5-.6M990.6 1084l1.6 .9M997.6 1091.5l3.1 5.6M880.8 1085.8l1.5-.7M886.1 1084.2l5 .1M1021 1083.7l3.5-12.9M1026.5 1063.4l21.7-84.3 18.8 77.3M1068.5 1062.8l5 21M907.1 1033.4l10.2-41.9 2-6.5 1.1-1.7 1.1 1.2 1.5 4.6 9.2 35.5M933.3 1028.8l.9 3.4M935.1 1035.6l1.1 4.2M936.8 1042.3l2.9 10.8M940.3 1055.5l1.5 5.7M932.2 1088.5l1.8-4.8M934.8 1081.4l5.7-13.4 5.3-9.4 4.8-5.4 2.4-1.3 2.4-.5 4.8 1.8 5.3 5.4 5.9 9.1 7.6 14.6M979.7 1083.7l1.7 3.6M983.2 1090.9l.4 .9M1115.1 1048.5l1.5-2.9M1127.3 1035.1l1.6 .5M1144.8 1066.1l1.6 4.6M862.9 1094.2l1.3-4.6M866.4 1082.1l1.3-4.3M869.7 1071.5l1.5-4.6M872.3 1063.7l3.7-9.6 3.3-6.3 3-3.7 3.1-1.1 3.1 1.7 3.3 4.5 3.4 7.3 4 10.5M901.2 1072.9l.6 2M1065.9 1096.3l10.3-19.7 7.4-11.9 6.3-6.8 2.9-1.7 2.8-.6 2.9 .5 2.8 1.7 5.9 7.2 6.4 12.2 7.2 18.1M1121.9 1098.4l1.3 3.7M1123.6 1103.4l.9 2.5M1125.4 1108.5l.8 2.6M1174.2 1089.9l11.1-15.3 4.6-4.4 4.4-2.6 4.1-.7 4.2 1.1 3.9 2.8 4.2 4.8M1212.7 1078.5l5 9.1M970.7 1102.3l9.9-36.2 6.5-20.9 5.3-11.6 2.4-2.8 2.2-.8 2.2 .9 2.4 2.8 5.2 11.3 6.8 20.9 10.9 38.3M1301.7 1061.6l1.5 .2M760.5 1064.6l1.5-1.1M774.5 1073.9l3.3 7.4M779.8 1086.4l1.3 3.6M736 994.7l13.8 58.1M1333.2 1082.6l6.8-25.3M1341.9 1049.8l17.8-70.3 .4-.4 .7 1.7 5.2 21.4M786.5 1078.7l3.5-11.1M792 1061.3l13.8-41.7 3.9-7.7 1.8-1.8 1.7-.5 1.8 1 1.7 2.3 4.2 9.5 5.4 17.4 7.5 27.1M839.2 1087.8l.3 .8M1215.9 1079.6l1.6-6.1M1218.8 1068.3l14.9-55.5 3.9-10 1.5-2.1 1.6-.6 1.5 1 1.5 2.4 3.7 9.4 19.1 64.3M1270.2 1089.6l.6 2.1M1194.5 1084l6.8-28.5M1203.2 1047.2l13.4-55.6 2-7 1.3-2 1.1 1.8 1.7 5.9 18.8 74.1M1243.5 1071.8l1.5 5.7M1247 1084.7l.2 .8M1062.8 1061.7l1.5-3.9M1069.8 1047.1l1.5-1.9M1076.8 1043.9l2.4 2.2 2.6 4.3M1083.8 1054.7l.9 2.2M1085.6 1059.2l1.5 4.4M816.1 1062.3l1.7-8.3M819.6 1045.8l5-22.2M826.6 1016.1l1.5-4.8M830.1 1006.9l1.5-1.4M833.6 1006.9l2.2 5 2.8 9.8M845.8 1052.7l3.5 15.8M1025.2 1062.7l1.7-8.4M1028.7 1046.1l1.7-8M1032.2 1030.3l1.5-6.4M1042.7 1006.5l1.5 3.1M1047.9 1022.1l1.6 6.1M1053.2 1044.4l1.7 7.8M736 1078.3l1.5 4M1305.6 1039l1.6-7.3M1312.4 1006.2l3.5-17M1328.2 1027l1.9 9.9M1331.7 1044.6l1.7 8.7M1274.8 1056.7l.9-1M1279.4 1053.5l1.5 .1M1081.4 1039.6l1.5-.3M1084.9 1040.1l3.3 3.8M1090.2 1047.5l1.5 3.3M1095.4 1060.4l1.5 4.4M1271.7 1082.1l5.9-21.6 4.8-14.2 4.2-8 2-1.9 1.7-.6 1.8 .5 1.9 1.8 4.2 7.3 5 13.2 6.8 21.5M1312 1086.6l.6 2.2M1253.1 1005.5l1.6 3.1M1265.4 1051.4l.8 4M1269.8 1089.9h0"/><path stroke="#000" d="M786.1 1278.3l1.1 2.3M1243.1 1274.5l.6-1.9M920.4 1251.9l.2 .7M1339.8 1290.5l.4-1.2M1176.1 1267.3l.7-.9M796.8 1286.7l.4-1.3M1003.8 1258.4l1 2.6M842.3 1280.6l.7 1.8M1322.7 1265.6l.4-1.1M1121.4 1261.2l1.1 3.4M1104.8 1290.4l.2-.6M780.6 1252.4l.7-1.3M1180.1 1290.8l.8-2.6M1312.8 1280l.9 1.6M842.3 1275.8l.2-.7M872.9 1281.4l.5-1.3M1001.3 1290.9l.7-1.3M810.2 1269.7l.6-1.7M1273.2 1252.4l.5 1.3M751.5 1290.9l1.1-1.2M791.3 1290.1l.7 .6M1082.7 1280.4l.2 .5M748.7 1271.4l.4 1.1M928.1 1289.8l.4 .8M1219.4 1290.5l.5-1.1M1255.1 1250.1l.9 2.7M876 1266.9l.2-.3M947.1 1290l.2 .5M1229.3 1251.1l1.1 3M801 1290.5l.4-1M890.2 1290.4l.2 .3M1310.2 1290.6l.5-1.1M885.4 1256.5l1.1 3.5M1323.3 1290.8l1.1-2.1M1161.7 1276.8l.2-.7M1142 1275l.9-2.6M1318.3 1279.3l.7 1.3M1177.4 1287.7l1.1 3M815.8 1289.9l.3 .8M1084 1290.5l.7-2.2M1211.8 1274.5l1.1 3.4M736 1242l6.1 6.1 6.6 10.2 6.8 13.7 7.6 18.7M1023 1290.5l10.5-25.5 10.1-27.8 9.8-30.7 9.8-34.3 17.8-71 24-112.4 2.2-7.2 2.9 10.5 21.8 108.7 14 65.8 12.7 54.6 12.5 48.4M853 1284.3l.5-1.4M805.8 1275.4l.6-2.5M1223.6 1290.8l1.1-1.5M1258.4 1289.6l1.1 1.3M910.6 1290.4l.2 .5M1173.5 1290.9l.2-.7M1257.1 1289.6l.4 1M741 1255.4l1.1-3.6M1128.9 1290.9l.6-2.3M1242.2 1288.9l.2 .5M1346.5 1256l.7-1.8M803.4 1290.8l.4-.6M840.1 1289.6l.9 1.2M977.9 1268l.9-3.1M1118.8 1287.7l1.1 2.9M839.2 1289.2l.7 1.4M949.9 1254.7l.5-1.4M1336 1290.8l.5-1.5M818.9 1284.2l.7 1.8M1015.1 1286.6l1.1 3.6M909.5 1274l1.1-2.1M908.6 1288.8l1.1-.4M1341.5 1258.4l.4 1.7M1061.9 1284.9l.5-1.5M1251.6 1261.6l.4 1M878.6 1251.1l.5 1.4M824.6 1262l.6 1.4M1224.5 1275.4l.8-3.3M1188.4 1268.2l.8-3.1M1155.6 1255l.2-.8M1137.2 1256l.2-.6M1233 1288.9l.4 1.5M875.8 1290.4l.4-1.4M1003.5 1274.4l1.1 3.3M1121 1269.6l1.1-2.2M1189.7 1287.7l1.1 3M826.1 1290.5l16-44.6 15.5-52 16.9-66.3 24.5-108.6 3.7-12.7 1.5-3.1 1.3-.9 1.6 1 1.5 3.2 4.2 14.9 33.6 157.4 11.8 49.5 11.6 43.6M923.9 1260.5l.2 .9M978.6 1290.5l.6-1.8M1054.7 1288.2l1.1 2.4M1292.7 1287.5l.9 2.8M1218.1 1290.9h0M1170 1254.3h0M1067.4 1290.9h0M869.7 1274.9h0M959.6 1274.7h0M1019.5 1290.9h0M1347.6 1277.5h0M878 1290.8h0M999.8 1288.7h0M1214.4 1290.5h0M790.2 1276.4h0M1167.4 1290.9h0M1183.1 1280.4h0M761.6 1280.8h0M1312.6 1290.9h0M1170 1257.5h0"/></g><g fill="none" stroke-width="2.5" stroke-linecap="round" stroke-linejoin="round" shape-rendering="crispEdges"><path stroke="#ff0000" d="M1107.4 1290.7l10.1-25.1 9.6-21.8 9.2-18.6 9.4-16.6M1147.7 1205.4l1.1-1.7M1149.4 1202.7l1.6-2.4M1152.9 1197.4l1.6-2.2M1282.4 1200.6l15.8 49.5"/><path stroke="#ff8e00" d="M1145.9 1208.2l1.6-2.4M1149 1203.3l.2-.3M1151.2 1200l1.5-2.3M1154.7 1194.9l5-6.9M1161.7 1185.5l8.5-10.3M1273.7 1176l8.5 24M1271.7 1170.9h0"/><path stroke="#e3ff00" d="M1159.9 1187.7l1.6-2M1170.4 1174.9l19.1-20.2M1191.4 1152.8l6.8-6.7M1200.2 1144.2l1.5-1.5M1257.9 1141.3l3.3 6M1262.3 1149.4l9.2 21M1271.9 1171.5l1.6 4"/><path stroke="#55ff00" d="M1189.7 1154.5l1.5-1.5M1198.4 1145.9l1.6-1.5M1201.9 1142.5l15.1-13.1 5.7-3.8 5.3-2.5M1229.9 1122.5l3.8-.6 3.7 .2 6.8 2.9 6.7 6.2 6.8 9.8M1261.4 1147.7l.7 1.3"/><path stroke="#00ff39" d="M1228.2 1123l1.5-.4"/><path stroke="#000" d="M1298.4 1250.9l.4 1.4"/></g>
<rect x="736" y="977" width="630" height="315" fill="none" stroke="#000" stroke-width="4.4" shape-rendering="crispEdges"/>
<g font-family="Liberation Serif,serif" font-weight="bold" font-size="118" aria-hidden="true" transform="translate(0,1170.5) scale(1,1.035) translate(0,-1170.5)"><text x="277.90000000000003" y="1175.1" fill="#c9c9c9">IGN</text><text x="272.40000000000003" y="1169.6" fill="#fbfbfb">IGN</text><text x="273.3" y="1170.5" fill="url(#wmw)">IGN</text></g>
<g shape-rendering="crispEdges"><path d="M67,1239.5H697M67,1187.5H697M67,1134.5H697M67,1082.5H697M67,1029.5H697" stroke="#000" stroke-width="1.3" fill="none" shape-rendering="auto"/><rect x="67" y="977" width="630" height="315" fill="none" stroke="#000" stroke-width="4.4"/><path d="M84.5,977v5M84.5,1292v-5M102.0,977v5M102.0,1292v-5M137.0,977v5M137.0,1292v-5M154.5,977v5M154.5,1292v-5M189.5,977v5M189.5,1292v-5M207.0,977v5M207.0,1292v-5M242.0,977v5M242.0,1292v-5M259.5,977v5M259.5,1292v-5M294.5,977v5M294.5,1292v-5M312.0,977v5M312.0,1292v-5M347.0,977v5M347.0,1292v-5M364.5,977v5M364.5,1292v-5M399.5,977v5M399.5,1292v-5M417.0,977v5M417.0,1292v-5M452.0,977v5M452.0,1292v-5M469.5,977v5M469.5,1292v-5M504.5,977v5M504.5,1292v-5M522.0,977v5M522.0,1292v-5M557.0,977v5M557.0,1292v-5M574.5,977v5M574.5,1292v-5M609.5,977v5M609.5,1292v-5M627.0,977v5M627.0,1292v-5M662.0,977v5M662.0,1292v-5M679.5,977v5M679.5,1292v-5" stroke="#000" stroke-width="1.8" fill="none"/><path d="M119.5,977v6.5M119.5,1292v-6.5M172.0,977v6.5M172.0,1292v-6.5M224.5,977v6.5M224.5,1292v-6.5M277.0,977v6.5M277.0,1292v-6.5M329.5,977v6.5M329.5,1292v-6.5M382.0,977v6.5M382.0,1292v-6.5M434.5,977v6.5M434.5,1292v-6.5M487.0,977v6.5M487.0,1292v-6.5M539.5,977v6.5M539.5,1292v-6.5M592.0,977v6.5M592.0,1292v-6.5M644.5,977v6.5M644.5,1292v-6.5M67,1238.7h7M697,1238.7h-7M67,1186.2h7M697,1186.2h-7M67,1133.7h7M697,1133.7h-7M67,1081.2h7M697,1081.2h-7M67,1028.7h7M697,1028.7h-7" stroke="#000" stroke-width="2.4" fill="none"/></g>
<g fill="none" stroke-width="2.5" stroke-linecap="round" stroke-linejoin="round" shape-rendering="crispEdges"><path stroke="#ff0000" d="M171.5 1263.3l.5 1M173.9 1267.6l2.4 4.3M177.6 1274.2l2.2 3.7M396.7 1271.9l-.4-1.9M458.1 1288.7l.7-2.5M615.3 1290.7l5.1-23.6M402.6 1262.2l-.7 1.6M399.8 1268.6l-2.5 5.6M237.5 1266.1l-3.9-3.3M230.3 1260.2l-.7-.5M147.1 1259.5l-1.5 1.7M142.9 1264.3l-1.9 2.6M139.9 1268.5l-6.4 10.4-5.8 12M445.6 1281.5l.8-4.6M144.5 1262.4l.9 4.3M147.1 1274.6l1.3 5.4M635.6 1290.7l-4.7-8.8-4.9-7.6M623.5 1270.9l-2-2.4M534.7 1267.7l-2.5 2M515.3 1284.8l-6 5.8M364.7 1261.2l-.9-2.3M563.9 1290.9l2.1-2.9M571 1280.9l2-3M575.7 1274l2-3.1M580.3 1267l.6-.9M363.2 1259.8l-.1 .7M136.8 1258l.6 16.3 1.4 16.5M636.1 1289.2l-4.9-18M484 1267.9l-2.2 2.7M478.9 1274l-14.9 16.9M134.3 1260.4l-2.5 14.7-1.8 15.4M631 1285.7l-.1-1.3M630.9 1280.6l-.8-13.4M438.8 1268l-8.1 11.6M405.5 1274.4l-.5-3.9M183.4 1258.1l2 3.1M188.1 1265.1l4.4 6.5M193.4 1272.8l5.4 7.6M429.7 1279.4l.9-13.8M241.3 1257l5.1 7M514.8 1289.2l3.3-4.7M520.8 1280.6l2.2-3M379.6 1267.4l-1.3-4.2M151.1 1257.6l1.3 4.1M153.3 1264.6l.6 1.7M154.4 1268l4.8 13.2M630.5 1290.9l-1.9-2.2M625.9 1286l-9.6-7.6M613.4 1276.7l-5-2.4M605.3 1273.2l-2.4-.8M562.2 1279.1l-2.5 1.3M550.9 1286l-2.4 1.7M545.3 1290l-1 .8M499.1 1286.9l4.3-7.1M488.1 1290.4l1.5-3M492 1282.8l1.9-3.5M498.7 1270.9l2-3.4M623.7 1289.4l-8.9-5.3-9.8-3.2M601.9 1280.3l-.7-.1M593.4 1280l-5.3 .5M584.9 1281.1l-2.5 .6M579.2 1282.7l-8.2 3.2M158.3 1266.1l1.5 3.8M160.2 1271l3.8 8.9M393 1263.7l-1.2 3.4M222.3 1274.8l-.7-.5M219.4 1272.8l-11.2-7M150 1267.4l-2.3 1.7M144.9 1271.6l-7.9 8.6-7.3 10.7M608.3 1290.7l8-27.1M393.3 1262.6l-1.8 5.1M393.3 1262.4l-1 2.9M391.7 1267l-1.5 3.9M221.5 1274.6l-13.3-8.5M204.5 1264.2l-4.8-2.1M147.1 1269.9l-8.7 8.7-7.8 10.8M608.8 1288.8l7.4-25.4M617.5 1257.9l.6-2.4M484.7 1290.8l5.9-11.8M398.3 1272.6l-.9 2M238.5 1266.3l-1.8-1.6M145.4 1261l-4.3 5.5M138.7 1270l-3.9 6.2M132.7 1280.2l-4.4 9.3M615.5 1290.4l1.6-6.5M617.8 1280.9l1.9-9.1M621.5 1261.2l.5-3.2M454.6 1290.2l2.4-9.4M635.7 1289.1l-2.5-5.8M631.2 1279.1l-3.6-6.6M625.3 1268.7l-1.9-2.8M358.5 1259.4l-.9-2.2M356.7 1255l-.4-1.2M141.7 1260l5.9 30.7M392.3 1266.5l-2.3 6.1M222.8 1274.5l-13.7-8.9M199.9 1261.2l-2.6-1M150.7 1266.4l-4.7 3.9M140.8 1275.4l-5.6 6.9-5.4 8.2M609.2 1289l.7-2.3M611.5 1281.7l2.5-8.7M615.5 1267.7l1-4.2M285 1252.9l.2 .6M286.3 1255.7l.2 .6M364.2 1251.7l-.1 .7M363.1 1260.6l-.4 3.4M566.4 1287.4l6.7-9.7M575.7 1273.8l2.1-3M537.3 1288.3l2.8-3.6M545.4 1277.9l2.2-2.8M555.6 1265l.3-.4M411.2 1275.5l-.6-6.8M410.4 1266l0-.7M195.7 1258.6l3.4 4.6M201.9 1266.9l7.8 10.2M401.3 1271.7l-1-6.5M180.2 1264.8l5.1 8M187.9 1276.7l1.4 2.2M635 1290.2l-1.9-12.7M632.8 1276.3l-1.2-6M630.8 1266.8l-1-4.1M135.4 1255.8l-.2 3.2M134.8 1264.8l0 25M627.8 1290.5l.8-21.8M628.5 1264.8l-.3-9.8M423.2 1273.6l-3.3 5.2M283.8 1257.8l-1.3-1.6M135.1 1260.9l-1.3 4.5M132.4 1270.6l-3.5 16.5M115.7 1256.5l-.9 5.2M113.8 1268.3l-2.1 20.9M639.9 1287.6l3.1-19.1M643.2 1267l1.3-11.4M421.6 1262.7l-3.8 11.1M234 1269.4l-4.3-4.9M227.8 1262.3l-2.8-3M549 1290.9l9.1-8.3M561.6 1279.3l6-5.4M355.1 1256.4l.1 .8M470.5 1290.4l7.3-13.1M489.4 1259.4l.3-.5M270.4 1262.2l.7 1.1M405.7 1272.1l.3-9.9M167.8 1251.4l2.3 2.4M176.7 1260.7l20.3 19.9M648.4 1289l-6.3-4.2M638.7 1283l-10.7-3.5-11.4-.8M612.9 1279.1l-9.4 2.3M599.8 1282.9l-6.1 2.9M374.4 1267.7l-1-6.3M134 1261.6l12.5 28.2M656.7 1289.6l-.2-.6M653.7 1280.9l-1.7-4.2M519 1272.6l-1.5 1.9M514.2 1278.9l-5.5 7.3M118.4 1252l.4 5.4M120.6 1275.7l2.2 14.7M651.4 1287.9l-.1-2.3M457 1276.3l-2.1 4.1M451.5 1286.6l-1 1.7M650.3 1289.9l-7.4-5.3M633.3 1279.9l-7.6-2-8.2-.5M613.8 1277.6l-6.2 1.1-6.6 2M597.3 1282.3l-.4 .1M587.6 1287.5l-2.8 1.9M373.5 1261.7l-.7-4.8M133.9 1261.2l11.4 26M655.3 1285.4l-3.7-10.6M518.7 1265.4l-1.9 2.4M513.5 1272.3l-2.6 3.4M504.4 1284.7l-2.1 3M118.4 1262.5l3 27.8M650.6 1288.6l-.3-9.1M649.9 1272.7l-.4-5.3M648.8 1260.5l-.2-1.5M448.1 1272.9l-4.5 9M115.6 1259.6l-1.3 4.9M112.9 1270.9l-2.7 15M633.9 1290.6l7.2-31.2M414.2 1265.1l-1.5 5M412 1272.2l-1.1 3.5M222.2 1271.5l-2.4-2.5M218.2 1267.4l-.4-.4M215 1264.2l-2.4-2.2M126 1259.6l-10.2 13.8-8.9 17.1M605.3 1290.8l10-16.5 9.3-17.5M382.9 1263.5l-.8 6.4M145.6 1288.3l-6.1-.6-6 .2-5.9 1-5.9 1.9M538.4 1290.6l2-1.9M541.2 1288l2.8-2.5M550.7 1279.4l2.8-2.6M441.7 1279l.6-2.1M445.1 1267.5l1.6-5.1M266.2 1252l2.7 3.5M270 1257l3 4.1M406.5 1275.9l.3-9M181.7 1263.5l17.3 16.5M436.1 1283.3l2-8.2M257.9 1255.9l4.7 5.6M405.4 1268.8l.2-5.7M181.5 1266.8l8.9 8.8M191.6 1276.7l3.9 3.7M645 1286.2l-6-3.5-5.8-2.5M629.6 1279.2l-7.7-1.2-8.2 .2-8.3 1.7-8.2 3.1M593.5 1284.8l-9.2 5.7M374.3 1264.3l-.3-1.6M132 1255.4l7.3 18.2 8 16.8M656.7 1290.4l-4.7-14.7M504.5 1281.9l-6.4 9M330 1253.5l-2.4-6.4M117.7 1251l1.1 20.2 2.2 19.4M650.8 1278.3l-1.8-17.3M464 1262.6l-1.9 3.7M456.8 1276.4l-4.7 8.7M114.5 1263.1l-1.4 8.8M112.2 1278.6l-1 9.6M639.8 1288.3l1.3-7.2M641.4 1278.9l.8-5.2M643.9 1260.9l.1-.7M421.3 1263.2l-1.7 5M419.2 1269.6l-1.5 4.1M231.7 1266.9l-.4-.4M119.2 1264.2l-5.8 10.7-5.3 12.2M546.6 1287.9l2.7-2.5M559.3 1276.4l2.7-2.5M352.9 1256.4l.3 3.3M472.5 1290.4l1.9-3.4M479.9 1277.5l2.4-3.8M488.3 1264.6l1.8-2.6M656.2 1288.1l-2.7-6.3M651.1 1276.7l-4.3-7.9M541.8 1261.9l-2.4 2.5M341.4 1251.6l-.4-1.5M120.2 1257.3l4.8 29.5M293.7 1251.3h0M390.1 1271.5h0M149.9 1267.6h0M400.4 1268h0M622.3 1256.1h0M288.9 1250.6h0M620.9 1262.4h0M143.5 1272.6h0M460.4 1274.8h0M455.5 1280.8h0M324.1 1253.8h0M355.4 1261.4h0M310.5 1248.8h0M311.8 1252.3h0M372.4 1254.9h0M333.6 1249.6h0M642.6 1250.5h0M566.8 1264.9h0M350.7 1254.3h0M649.9 1270.2h0"/><path stroke="#ff8e00" d="M170.2 1260.9l1.1 1.9M172.3 1264.7l1.3 2.4M176.6 1272.3l.8 1.4M396.2 1269.4l-.6-3.2M290.6 1243.5l2.8 7.2M463.4 1270.9l.7-2.5M468.4 1256.3l.9-2.4M620.5 1266.5l1-5.7M403.5 1260l-.7 1.6M229.3 1259.4l-4.1-3M224.5 1255.9l-2.6-1.7M152.7 1254l-2.2 2.1M148.6 1257.9l-1.2 1.3M145.3 1261.5l-2.1 2.5M140.7 1267.3l-.6 .8M445 1284.7l.5-2.6M448.7 1265.7l1-4.7M273 1253.6l2.2 4.2M141.6 1245.3l2.8 16.5M145.5 1267.4l1.5 6.6M625.7 1273.9l-.8-1.1M621.2 1268.1l-7-7.1M611.3 1258.6l-1.6-1.2M606 1254.9l-2.5-1.4M547 1259l-.4 .3M537.5 1265.5l-2.5 2M520.7 1279.7l-5.1 4.8M365.8 1263.9l-.9-2.2M363.6 1258.3l-.4-1.1M568.6 1284.2l2.1-2.9M578 1270.5l2-3.1M581.1 1265.6l1.2-1.8M587.1 1256.1l2-3.3M363.7 1255.7l-.4 3.5M136.9 1246.8l-.1 1.4M136.8 1250.8l0 6.6M631.1 1270.7l-2.1-5.9M628.6 1263.7l-2-5.2M338.5 1256.1l-1-2M336.4 1252l-.5-1M295.3 1250.7l-3.2-4.5M137.1 1249.1l-2.6 10.7M631 1287.6l0-1.3M630.9 1283.8l0-2.6M630.1 1266.5l-1.2-10.8M628.2 1250l-.5-3.2M439.4 1267.1l-.3 .5M404.9 1269.8l-.4-4M403.8 1259.7l0-.7M182.5 1256.8l.6 .9M187.5 1264.3l.3 .4M192.8 1272l.3 .4M237.4 1251.8l3.6 4.8M518.4 1284l2.1-3M523.3 1277.2l7.3-9.7M339.4 1246.7l.6 10M378.1 1262.6l-1.3-4.2M152.6 1262.3l.5 1.7M154.1 1266.8l.1 .6M628.3 1288.4l-2.1-2.1M616 1278.2l-2.3-1.4M608 1274.1l-2.4-.8M602.5 1272.4l-2.4-.6M596.9 1271.3l-.7-.1M591.1 1271l-11.2 1.3M576.7 1273.1l-11.3 4.3M553.7 1284.1l-2.4 1.7M548.1 1288l-2.4 1.7M503.7 1279.3l2-3.3M515.7 1261l2.3-3.1M489.9 1286.9l.3-.5M494.2 1278.8l1.9-3.4M501 1267l2-3.3M323.2 1248.9l.5 2.8M600.8 1280.2l-7-.2M587.7 1280.6l-2.5 .5M570.7 1286.1l-2.5 1.2M565 1288.9l-1.7 1M385.4 1271.4l-.7-2.4M382.7 1261.7l-.1-.6M156.8 1262.3l1.3 3.3M391.6 1267.6l-1.2 3.3M389.9 1272l-.2 .6M221.2 1274l-1.4-1M204.9 1264.1l-2.6-1.2M178.1 1257.4l-2.6 .2M169.3 1258.4l-2.5 .6M163.5 1260l-7.9 3.7M152.6 1265.5l-2.3 1.6M147.4 1269.4l-2.2 1.9M616.4 1263l3.2-14.2M620.7 1243.1l.4-2.6M396 1255l-2.5 7.1M393.7 1261.3l-.2 .6M392.1 1265.9l-.2 .5M207.8 1265.9l-2.9-1.5M199.3 1261.9l-6.3-2.1M171.8 1258.2l-2.5 .5M160.4 1261.5l-2.5 1.1M156.2 1263.5l-5.9 3.8M149.6 1267.8l-2.2 1.8M616.4 1262.8l.1-.6M618.2 1254.8l.7-3.1M490.9 1278.5l5.5-10.1M504.7 1254.7l2.1-3.3M403.8 1259.9l-3.2 7.5M399.9 1269l-1.4 3.1M236.3 1264.4l-7.5-6M152.6 1253.8l-2 1.8M140.8 1266.8l-1.9 2.8M134.6 1276.6l-1.7 3.1M617.2 1283.3l.4-1.8M619.8 1271.2l.8-4.4M622.1 1257.3l.1-.6M622.4 1255.4l1.1-9M457.2 1280.2l3.9-13.7M287.2 1246.5l1.5 3.5M633 1282.8l-1.6-3.3M627.3 1272l-1.8-2.9M623.1 1265.5l-1.9-2.7M620.6 1262.1l-1.8-2.2M527.3 1261.6l-2.5 2.1M518.8 1269.1l-2.4 2.3M513.3 1274.3l-5 5M505.3 1282.4l-5 5M360.4 1263.7l-1.6-3.8M357.4 1256.6l-.5-1.1M356 1253.3l-.9-2.3M140.4 1249.7l.5 4.5M393.7 1262.5l-1.2 3.4M208.8 1265.4l-1.5-.8M205.8 1263.8l-5.5-2.5M184.9 1257.2l-.7 0M161.6 1260.3l-2.5 1.1M156 1263l-2.3 1.4M145.7 1270.6l-1.9 1.7M610.1 1286.2l1.2-4M614.2 1272.4l1.1-4.2M616.7 1262.9l.4-1.9M451.5 1289.4l1-4.4M453.8 1279.2l.8-3.1M455.1 1274.2l1.2-4.5M457.8 1264l1.3-4.5M282.6 1247.8l2.1 4.5M285.5 1254l.5 1.2M364.6 1247.5l-.3 3.5M363.7 1255.8l-.5 4.1M564 1290.7l2.1-2.9M580.4 1266.8l2-3.2M584.9 1259.6l2-3.2M350.6 1249.3l-.1 6.5M540.4 1284.3l2.2-2.8M556.2 1264.2l1.6-2.1M410.6 1268l-.1-1.4M410.3 1264.6l-.5-9.1M194.5 1257l.9 1.2M199.4 1263.6l2.2 2.9M400.2 1264.5l-.7-4.7M177.1 1259.7l2.8 4.6M185.6 1273.2l2 3.1M631.5 1269.7l-.5-2.3M629.7 1262.1l-1-3.5M462.6 1272l-1.9 2.4M457.6 1278.2l-1.8 2.3M452.7 1284.1l-2.1 2.5M323.8 1253.3l-3.4-5.9M135.5 1254.5l-.1 .6M135.1 1259.7l-.2 4.5M628.6 1268.1l-.1-2.6M628.2 1254.4l-.1-.7M429.5 1263.2l-1.6 2.8M427.3 1266.9l-1.6 2.8M425.1 1270.6l-1.6 2.6M282.2 1255.8l-1.3-1.7M278.6 1251.3l-1.7-2.1M137.9 1252.7l-2.6 7.7M133.2 1267.7l-.6 2.3M114.3 1264.6l-.4 3M644.6 1254.8l.9-11.7M426.2 1248.1l-.9 3M423.2 1257.7l-1.4 4.3M229.3 1264l-1.2-1.3M224.5 1258.9l-2.8-2.9M558.5 1282.2l2.7-2.5M568 1273.5l5.9-5.6M354.3 1246.3l.7 9.3M355.2 1258.1l.2 2.5M490.1 1258.4l4.9-6.7M498.5 1247.2l.4-.5M308.5 1243.9l1.7 4.2M310.7 1249.5l.9 2.1M439 1282.1l.6-2.2M439.9 1278.5l1.5-5.2M267.4 1258.3l2.6 3.4M406 1261.4l.4-6.7M406.7 1248.8l.1-1.7M159.4 1242l1.5 1.7M164.4 1247.6l3 3.3M170.5 1254.3l2.7 2.8M175.2 1259.1l1.1 1.2M641.8 1284.6l-2.7-1.4M616.2 1278.8l-2.9 .3M603 1281.6l-2.8 1.1M593.3 1286l-5.7 3.3M373.2 1260.6l-.7-4.9M372.3 1254.1l-.6-4.1M128.3 1245.8l3.5 10M133 1259l.8 2M656.3 1288.3l-2.4-6.8M649.7 1271.4l-3.5-7.4M642.9 1258.2l-4.8-7.5M524.6 1265.5l-1.1 1.4M520.1 1271.2l-.8 .9M508.4 1286.7l-1.8 2.5M334.1 1251l-.2-.7M333.4 1248.8l-1.5-4.4M118.8 1258.2l1.7 16.7M651.2 1284.9l-.3-6M650.3 1272.8l-.2-2.2M467.8 1255.7l-.4 .7M459.5 1271.6l-2.1 4.1M454.6 1281l-2.8 5.1M642.6 1284.3l-8.9-4.3M617.1 1277.4l-2.9 .2M596.5 1282.6l-8.5 4.7M373.9 1264.1l-.3-1.6M127.3 1242.7l.7 2M129.4 1248.8l4.3 11.8M656.8 1290.6l-1.3-4.5M651.3 1274.1l-1.2-3M645.6 1261.2l-4.4-8.2M524.5 1258.2l-1.6 1.9M519.5 1264.4l-.4 .5M516.5 1268.3l-2.7 3.5M505.5 1283.2l-.7 1M501.9 1288.2l-.3 .5M329.6 1249l-1-2.9M117.9 1253.1l.5 8.6M650.3 1278.7l-.3-5.3M648.5 1258.3l-.3-3.1M455.2 1257.8l-2.1 4.5M450.4 1267.9l-2 4.4M276.8 1261l-1.1-1.7M117.9 1251.4l-.6 2M114.2 1265.2l-1.1 5M641.2 1258.7l.3-1.5M642.7 1249.7l1.1-6.9M417.6 1253.3l-1.5 5.2M412.5 1270.8l-.3 .7M219.4 1268.6l-.8-.8M217.4 1266.6l-2-2M212.2 1261.6l-1.3-1.1M208.4 1258.4l-2.9-2.4M201.7 1253.1l-3.1-2M144.7 1244.8l-6.1 3.7M131.5 1254l-5.1 5.2M624.8 1256.2l4.3-9M383.6 1256.9l-.6 5.8M544.4 1285.1l5.9-5.4M557.1 1273.6l2.9-2.5M563.6 1267.8l2.8-2.5M567.2 1264.6l5.3-4.8M573.3 1259.1l1.2-1.1M579.8 1253.2l2.8-2.6M350.1 1248.4l.5 5M350.8 1255.1l.2 2.5M440.7 1282.7l.8-2.9M442.5 1276.1l2.4-7.9M447 1261.7l.7-2.2M263.8 1249l2 2.5M269.3 1256l.4 .5M406.8 1266.1l.1-2.5M173.9 1255.6l7.4 7.5M313.5 1245.3l.8 2.1M314.8 1248.9l.5 1.4M438.3 1274.4l1.8-6.7M405.3 1271.3l.1-1.6M405.6 1262.2l.1-1.6M172.2 1257.2l5.8 6M190.8 1275.9l.4 .4M650.9 1290.7l-2.6-2.1M632.8 1280.1l-2.8-.8M596.8 1283.2l-2.9 1.4M373.9 1261.9l-.5-3.2M372.9 1255.5l-.1-.8M128.4 1245.4l3.3 9.3M649.6 1269.6l-3.6-8.3M523.8 1256.3l-1.1 1.4M516.2 1266l-5.6 7.4M327.4 1246.4l-1.1-2.9M117.6 1241.6l.1 8.7M651.5 1290.4l-.7-11.3M648.9 1260.3l-.8-5.3M458.6 1272.9l-1.5 3M451.8 1285.6l-1.8 3.4M286 1254.8l-.7-1.2M114.9 1260.9l-.2 1.5M113 1272.7l-.7 5.1M641.2 1280.3l.1-.7M642.3 1273l.8-5.3M644.1 1259.4l.4-3.8M227.7 1262.5l-1.2-1.2M129.9 1249.5l-10.4 14.2M543.4 1290.8l2.8-2.5M552.9 1282.2l6-5.4M562.4 1273.5l2.8-2.5M572 1264.8l1.6-1.5M575.2 1261.8l6-5.6M591.2 1246.5l1.2-1.1M352.6 1253l.3 2.5M474.7 1286.4l4.9-8.4M490.5 1261.5l.3-.5M653.2 1281.2l-1.8-3.9M641.4 1260.5l-2.3-3.1M534.7 1269.5l-10.7 12.7M343 1256.8l-1.4-4.4M340.7 1249.4l-.9-3M118.6 1240.9l.3 3.2M119 1245.6l1.1 10.9M329.8 1250.8h0M160 1270.4h0M393.2 1263.1h0M502.2 1258.6h0M320.2 1245.9h0M218.8 1251.6h0M148.1 1258h0M632.9 1276.9h0M643.1 1267.8h0M651.8 1276.1h0M372.6 1256.1h0M540.8 1288.4h0M553.9 1276.5h0M583.9 1290.7h0M651.8 1275.1h0M324.2 1237.6h0M464.3 1262h0M421.5 1262.5h0M419.4 1268.9h0M352.2 1248.8h0M542.2 1261.5h0"/><path stroke="#e3ff00" d="M168.1 1256.9l1.9 3.5M395.4 1265.5l-1.3-7.9M280.6 1221.8l2 4M284.6 1229.9l.2 .6M288.3 1238.2l2 4.8M459 1285.6l1.2-4.3M461.8 1275.8l1.4-4.3M464.3 1267.8l.5-1.2M469.5 1253.3l2.3-6.1M478.2 1232.4l.8-1.8M621.6 1260.2l1.3-9M409.5 1244.6l-.4 1.1M403.9 1258.9l-.2 .5M401.7 1264.3l-1.6 3.7M233.2 1262.5l-2.5-2M221.5 1253.9l-5.6-3.4M209.4 1247.2l-2.6-1.2M169.4 1244.1l-2.5 1M163.6 1246.7l-2.4 1.3M158.1 1250l-2.4 1.7M154.4 1252.7l-1.3 1.1M150.2 1256.4l-1.3 1.2M446.5 1276.2l1.3-6.6M451.1 1255.1l1.1-4.7M271 1249.9l1.7 3.2M141.2 1242.1l.3 2.6M624.6 1272.4l-.8-1.1M613.9 1260.7l-2.3-1.9M609.3 1257.1l-.3-.2M573.5 1248.5l-2.7 .5M561.2 1251.8l-2.6 1.1M550.3 1257.1l-2.9 1.7M546.2 1259.5l-2.5 1.7M540.4 1263.4l-2.5 1.9M531.8 1270l-10.8 9.4M363 1256.6l-3.3-8.7M566.3 1287.6l2-3M573.3 1277.4l2.1-3M582.6 1263.4l4.2-6.8M589.3 1252.4l1.2-1.9M596 1240.8l1.8-3.4M364.4 1248.8l-.6 6.2M137.2 1238.2l-.3 8M136.8 1248.8l0 1.3M626.4 1258l-2.7-6M508.6 1240.5l-2.5 2.5M495.6 1254.4l-3.3 3.9M491.6 1259.1l-2 2.3M486.6 1264.9l-2.2 2.7M481.5 1271l-2.3 2.7M337.2 1253.6l-.5-1M335.6 1250.5l-4.5-9M291.8 1245.7l-1.7-2.2M138.6 1243.8l-1.4 4.7M628.9 1255.1l-.4-2.6M627.6 1246.2l-.1-.7M449.8 1250.6l-3.2 5.2M404.4 1265.1l-.4-3.4M403.7 1258.3l-1.2-14.8M402 1237l-.2-5.2M174.1 1243.5l4.3 7M181 1254.5l1.2 1.8M185.7 1261.6l1.5 2.2M430.7 1264.9l.3-3.4M530.9 1267.1l12.7-16.1M337.8 1229.1l1.5 16.8M376.7 1257.8l-1.8-6.2M148.1 1247l.1 .6M148.6 1248.8l2.3 8.3M599.7 1271.7l-2.5-.4M595.8 1271.2l-4.3-.2M579.6 1272.4l-2.6 .6M565.1 1277.6l-2.5 1.3M556.5 1282.3l-2.4 1.6M506 1275.6l2.1-3.3M513.3 1264.6l2.1-3.2M329 1245.1l.7 5M329.9 1251.5l.2 2.1M490.4 1285.8l1.4-2.5M508.2 1255.6l2.2-3.3M322.2 1243.3l.9 4.9M604.6 1280.8l-2.4-.4M582 1281.8l-2.5 .8M567.8 1287.4l-2.4 1.3M384.5 1268.4l-.5-1.8M382.4 1260.5l-1.7-7M152.2 1249.3l1 2.9M153.6 1253.3l1.2 3.4M155.6 1258.9l1 2.8M207.9 1265.6l-2.6-1.3M202 1262.7l-12-4-11.5-1.3M153.6 1264.9l-.7 .4M619.7 1248.2l.9-4.5M621.3 1239.9l.2-1.3M401.1 1239.1l-4.9 15.3M399.1 1245.1l-2 6.2M394.3 1259.6l-.4 1.1M192.6 1259.7l-5.6-1.3M180.7 1257.8l-5.6 .1M168.9 1258.8l-5.4 1.5M157.6 1262.8l-1 .6M616.7 1261.6l.7-3.1M619 1251.1l1.3-6.3M621.6 1237.8l.4-2.6M496.7 1267.9l2.9-4.9M502.5 1258.1l1.9-2.9M318.2 1236.2l1.9 9.1M320.4 1246.6l.5 2.8M410.8 1242.2l-1.4 3.5M228.4 1258.1l-1.4-1.1M218.4 1251.3l-2.2-1.3M209.7 1246.7l-5.8-2.4M175.6 1241.9l-2.6 .7M163.8 1246.1l-2.4 1.4M160.3 1248.1l-4.4 3.1M154.9 1251.9l-2 1.6M150.3 1255.9l-1.8 1.8M147.8 1258.4l-2.1 2.3M620.7 1266.2l.7-4.4M623.6 1245.7l.5-4.6M461.3 1265.8l3.6-11.1M466.4 1250.3l1.6-4.3M285.4 1242.4l1.5 3.5M618.6 1259.5l-2.1-2.4M613.7 1254.2l-7.2-6.1M536.7 1254.2l-.4 .2M533 1256.9l-5.4 4.4M524.4 1264l-2.4 2.2M507.9 1279.7l-2.3 2.3M353.1 1245.8l-5.2-13.7M138.8 1229.1l.2 4M139.2 1237.1l1.1 11.9M141 1254.8l.6 4.5M401.7 1238.4l-1.4 4.4M395.8 1256.7l-1.8 5.3M206.9 1264.4l-.7-.4M196.9 1260.1l-2.6-.9M183.8 1257.1l-10.4 .1M170.1 1257.7l-2.5 .6M158.8 1261.6l-2.4 1.2M153.4 1264.6l-2.3 1.6M143.2 1272.9l-2.1 2.2M617.2 1260.4l3.1-14.3M452.7 1284.3l1-4.4M454.8 1275.4l.1-.6M456.4 1269.1l1.3-4.5M459.3 1258.9l1.4-4.4M281.3 1245l1.1 2.2M364.9 1244.6l-.2 2.2M364 1253.1l-.2 2M573.4 1277.3l2.1-3.1M578.1 1270.3l2-3.1M587.2 1255.9l4.2-7.1M593.9 1244.5l1.9-3.4M350.6 1242.8l0 5.8M548 1274.7l5-6.5M409.8 1254.8l-.2-3.5M409.6 1249.1l-.2-5M187 1246.7l7.1 9.8M399.5 1259.1l-.3-2M398.1 1248.1l0-.8M172.1 1251.2l4.7 8M622.2 1239.8l-.2-.5M469.4 1263.1l-1.6 2.1M465.7 1268l-2.8 3.6M460.1 1275.1l-2.2 2.7M455.2 1281.2l-2.2 2.6M450.3 1287l-1.2 1.3M320.1 1246.9l-2-3.5M317.3 1241.9l-.9-1.6M314.9 1237.8l-.8-1.6M136.4 1245.4l-.9 8.4M628.1 1253.1l-.6-8.5M432 1258.9l-2.2 3.9M280.6 1253.7l-1.7-2M276.6 1248.8l-.3-.4M273.2 1244.7l-1-1.2M143.7 1239.1l-2.1 4.6M139.6 1248.4l-1.5 3.7M133.6 1266l-.3 1.1M118.2 1244.8l-2.4 11M114.7 1262.4l-.3 1.5M645.6 1242.3l.3-5.6M646.1 1229.5l0-.8M426.9 1245.9l-.4 1.5M425.1 1251.8l-1.7 5.1M221.3 1255.6l-6.2-5.8M574.3 1267.6l5.9-5.7M583.8 1258.5l1.6-1.6M586.9 1255.4l9.1-9.2M599.5 1242.5l.8-.9M602.6 1239.1l2.4-2.6M605.8 1235.7l.7-.9M615.1 1225.1l1.2-1.4M354.1 1244.6l.1 .8M478.2 1276.7l10.8-16.8M495.4 1251.2l2.7-3.5M499.3 1246.2l2-2.4M505 1239.4l2.9-3.2M305.5 1237l2.7 6.2M445.1 1260.9l1.4-4.4M264.3 1254.4l2.7 3.4M406.4 1253.8l.3-4.2M406.9 1246.2l.5-6.9M143.1 1222.2l2.6 3.4M152.2 1233.5l6.8 8.1M161.3 1244.2l2.7 3M173.6 1257.5l1.2 1.2M124.1 1232.6l.5 1.4M126.3 1239.6l1.8 5.5M132.1 1256.4l.7 2M651.5 1275.5l-1.5-3.5M645.9 1263.5l-2.7-4.8M637.8 1250.2l-2.5-3.2M541.5 1247l-2.1 2M534.5 1254.1l-1.6 1.8M526.2 1263.6l-1.2 1.4M522 1268.8l-1.5 1.9M515.6 1277l-1.1 1.4M117.8 1236.1l.1 2.4M118 1242.5l.1 2.4M118.3 1250.4l.1 .8M650.8 1278.1l-.4-4.5M650.1 1269.8l-2.4-17.2M470.4 1250.7l-2.3 4.4M467.1 1257l-2.2 4.3M463 1265l-3.2 6M285.6 1253.6l-2.7-4.8M281.5 1246.4l-1.7-3M600.6 1280.9l-2.9 1.2M372.5 1255.2l-.5-3.2M124.7 1234.4l2.4 7.6M128.2 1245.4l1 2.7M647.8 1265.8l-.8-1.7M632.8 1240.8l-.7-.8M536.2 1245.1l-.5 .5M525.7 1256.8l-.8 .9M510.5 1276.2l-4.7 6.5M330.9 1252.6l-1-2.8M328.3 1245.4l-.5-1.4M117.7 1242.1l0 3.1M648.1 1254.5l-1.8-11.4M456.7 1254.5l-1.2 2.6M452.8 1262.9l-2.1 4.4M443.3 1282.5l-.6 1.2M275.4 1258.7l-3.9-6.2M120.4 1244l-2.2 6.7M116.3 1256.9l-.5 2M641.6 1256.5l.9-5.3M643.9 1242l.4-3.1M645.8 1225.5l.1-.8M415.9 1259.3l-1.5 5.1M210.5 1260.1l-1.7-1.4M198.2 1250.8l-3-1.9M187.6 1244.9l-3.1-1.3M138.2 1248.7l-6.3 5M629.4 1246.6l4.1-9.4M383.9 1254.4l-.2 1.7M554.3 1276.1l2.4-2.1M560.4 1270.7l2.8-2.5M574.9 1257.6l1.2-1.1M592.7 1241l2-2M348.4 1234.8l.8 6M349.8 1245.9l.2 1.7M448 1258.8l4.9-13.6M242.8 1226.3l3.1 3M249.8 1233.2l3 3.2M257 1241l2.4 2.8M260.2 1244.7l3.2 3.9M407.3 1256.1l.4-5.9M408.3 1242.5l.1-.8M408.9 1235.6l.6-5.2M158.4 1238.9l2.7 3.1M164.6 1245.8l2.7 2.9M168.5 1250l1.9 2M173.2 1254.8l.3 .4M312.4 1242.4l.8 2.2M440.3 1266.9l.2-.7M442.4 1259.5l1.6-5.2M446.2 1247.7l1.2-3.7M249.7 1247l7.8 8.5M405.7 1259.7l.2-3.3M406.3 1248.7l.4-5.1M151.6 1233.8l1.9 2.3M166.1 1250.6l5.7 6.2M178.4 1263.6l2.7 2.8M648 1288.3l-2.6-1.8M373.3 1257.9l-.3-1.6M372.7 1253.8l-.6-4.1M125.9 1237.9l.3 .7M127.1 1241.3l1.1 3.5M651.5 1274.5l-1.4-3.7M643.4 1256.2l-2.1-3.8M638.5 1247.7l-1.3-2M633 1240l-.3-.4M525.4 1254.4l-1.2 1.4M519.2 1262l-2.6 3.5M510.2 1273.9l-5.4 7.5M326.1 1242.8l-1.6-4.4M324 1236.9l-3.8-10.5M118.1 1223.9l-.2 4M117.9 1229.5l-.2 4.9M117.7 1236l-.1 4.8M648 1254.3l-.9-5.3M644.5 1236.5l-.9-3.7M468.1 1254.6l-.9 1.9M465.9 1259l-1.3 2.4M461.8 1266.9l-2.9 5.4M285 1253l-2.8-4.9M281.2 1246.3l-1.7-3M278.4 1241.5l-.4-.6M118.8 1243.6l-2.6 10.8M115.8 1256.5l-.7 3.7M423.1 1257.5l-1.4 4.3M230.9 1266l-2.8-3M226.1 1260.8l-7.7-7.7M145.7 1236.4l-2.9 1.8M138.7 1241.2l-8.4 7.9M549.7 1285.1l2.8-2.6M565.6 1270.6l6-5.5M574 1262.9l.8-.7M588 1249.7l2.8-2.8M592.8 1245l6-6.1M604 1233.6l2.8-3M350.8 1236l1.4 12M352.3 1249.6l.3 2.6M482.6 1273.1l1.8-2.7M491.2 1260.5l2.6-3.6M646.5 1268.3l-4.8-7.3M638.7 1257l-2.4-3M633 1250.4l-9-7.7M620.3 1240.3l-2.1-1.2M559.4 1246.5l-6.9 5.4M550.4 1253.7l-1.2 1.1M544.2 1259.4l-1.6 1.6M539 1264.8l-4 4.3M523.6 1282.6l-4 5.2M339.6 1245.6l-1.6-5.3M118.3 1235.4l.3 4.7M224.9 1256.2h0M449.8 1260.4h0M628.8 1264.2h0M505.7 1259.4h0M380.2 1251.6h0M150.2 1242.9h0M400.2 1268.5h0M497.7 1290.1h0M628.6 1258.1h0M427.6 1266.5h0M425.4 1270.1h0M439.7 1279.2h0M441.6 1272.6h0M371.6 1249.2h0M117.9 1252.3h0M120.9 1242.7h0M572.9 1259.5h0M235.2 1219.4h0M406.9 1262.8h0M314.5 1248.2h0M644.6 1254.8h0M119 1244.9h0"/><path stroke="#55ff00" d="M158.2 1236.3l1.7 3.7M162.1 1244.7l3.8 7.7M394 1256.9l-1.6-10.2M391.8 1242.5l-.6-4.9M482.7 1223.3l4.7-9.2M277.3 1215.5l.6 1.1M282.9 1226.4l1.4 2.9M287.3 1235.8l.7 1.8M460.4 1280.7l1.2-4.3M465 1266l1.4-4.3M474 1241.8l.5-1.1M479.3 1230l.8-1.7M623 1250.6l1.4-13.8M624.9 1230.1l.3-4.1M625.2 1224.7l.1-2.1M412.4 1236.8l-2.7 7.2M408.9 1246.3l-4.7 12M212.5 1248.7l-2.7-1.3M206.4 1245.9l-9.3-3-9.4-1.4-9.2 .4-8.7 2.1M166.5 1245.3l-2.5 1.2M160.8 1248.2l-2.4 1.5M155.4 1251.9l-.7 .5M448 1269l.5-2.7M450 1259.7l.9-4M455.3 1239.1l.8-2.6M263.1 1236.6l2.2 3.5M269.5 1247.3l1.2 2.1M138.5 1208.4l0 .6M138.5 1210.4l.2 4.2M139 1220.7l.4 4.8M140.1 1233.5l1 7.9M608.7 1256.6l-2.4-1.5M603.2 1253.3l-6.8-2.9-7.4-1.9M585.7 1248.1l-5.7-.2M576.5 1248.1l-2.6 .3M567.3 1249.8l-5.7 1.9M558.2 1253.1l-7.5 3.8M543.3 1261.4l-2.5 1.8M359.5 1247.3l-1.4-4.2M356.1 1237.6l-2.1-6.3M590.7 1250l4.2-7.2M598.1 1236.9l1.9-3.5M366.7 1220.3l-.7 10.5M365.5 1237.4l-1 10.7M138.6 1222.9l-.4 4M138 1228.2l-.7 9.3M623.4 1251.5l-2.7-5.3M617.3 1240.3l-4.4-6.3M518.9 1230.7l-1.1 1M502.9 1246.4l-2.5 2.6M497.3 1252.5l-1.3 1.5M489.3 1261.8l-2.3 2.7M330.8 1240.9l-1.9-3.8M289.8 1243.1l-2.3-3.2M283.6 1234.5l-1.7-2.2M148.7 1218.8l-1.5 3M145 1226.6l-1.6 3.7M141.9 1234.2l-3.1 9.1M628.4 1251.9l-.2-1.3M627.3 1244.9l-1.3-6.9M453.4 1244.8l-3.3 5.3M446.3 1256.3l-6.6 10.4M404 1261l-.1-.7M401.7 1231.1l-.2-5.2M162.9 1224.1l1.9 3.5M165.4 1228.6l6.1 10.7M178.7 1250.9l2 3.2M431.1 1260.8l1.9-17.7M210.2 1218.9l2.1 2.4M223.9 1234.9l2.4 2.9M232.1 1245l5 6.4M546.6 1247.3l15.9-19.2M565.6 1224.5l5.2-6.2M374.7 1251l-2.7-10.3M370.5 1234.7l-1.1-4.7M142.6 1223.2l.9 4.5M144.7 1233.4l1 4.4M146 1239l1.9 7.4M559.4 1280.6l-2.5 1.5M496.9 1290.7l2-3.4M508.4 1271.9l4.5-6.9M518.3 1257.4l2.2-3.1M523.4 1250.4l2.3-3.1M327.5 1235.1l1.4 9.3M503.3 1263.2l2.1-3.4M506 1258.9l1.9-2.8M510.7 1251.8l2.2-3.2M318.7 1226.5l1.1 4.9M320.7 1235.6l1.4 7M383.9 1266l-1-3.7M380.5 1252.9l-.2-.7M380 1250.9l-1.9-8.5M377.8 1241.1l-.9-4.1M148.9 1238.7l1.1 3.6M150.4 1243.5l1.6 5.2M155 1257.3l.4 1.1M172.2 1257.9l-2.6 .4M166.4 1259.1l-2.5 .8M155.2 1263.9l-1.3 .8M621.6 1238l3.7-31.5M410.8 1205.7l-1.6 5.5M407.5 1217.4l-6.2 21M401.6 1237l-2.3 7.5M396.1 1254.3l-1.6 4.7M186.6 1258.4l-5.6-.6M174.7 1257.9l-2.5 .3M163.2 1260.4l-2.5 1M620.4 1244.2l1-5.8M622.1 1234.6l1.7-11.9M407.3 1217.3l-1.4 4.7M404.2 1228l-4.3 14.1M499.9 1262.5l1.5-2.4M507.1 1250.9l2.2-3.3M512.2 1243.3l2.3-3.2M517.4 1235.9l2.4-3.2M313.8 1218.8l2.7 10.5M414.6 1231.8l-1.6 4.3M409.2 1246.3l-5.2 13.1M226.6 1256.8l-3.7-2.6M221.8 1253.4l-2.6-1.6M215.8 1249.8l-5.7-2.9M203.5 1244.2l-7-2-7-1.1-7-.1-6.5 .8M172.6 1242.7l-2.6 .8M161 1247.7l-.3 .2M155.5 1251.4l-.3 .3M624.1 1240.5l.8-10.1M625.3 1224.4l.1-4.8M465.1 1254.1l1.1-3.1M468.2 1245.4l3.6-9.2M284.3 1240.1l.8 1.7M616.2 1256.8l-2.2-2.2M603 1245.8l-8.2-4.1M585.3 1239.1l-5.8-.6M572.9 1238.7l-2.8 .4M566.6 1239.7l-7.1 2-7.3 3.1-15.1 9.1M536 1254.7l-2.6 1.9M521.6 1266.5l-2.4 2.3M516.1 1271.7l-2.4 2.3M500 1287.7l-2 2M354.9 1250.4l-1.6-4M345.8 1226.5l-1.6-4.4M138.5 1219.5l0 2.8M138.7 1227l0 1.4M139 1233.8l.2 2.7M404.8 1228.1l-1.3 4.5M400.1 1243.4l-4.1 12.8M193.9 1259.1l-8.6-1.8M173.1 1257.3l-2.6 .4M164.4 1259.3l-2.5 .9M620.4 1245.5l2-12.2M460.9 1253.8l4.7-13.8M466 1238.7l1.4-3.8M467.9 1233.7l.9-2.5M469.8 1228.7l1.8-4.4M274.5 1231.6l2.1 3.9M280.2 1242.7l.8 1.7M366.8 1218.2l-1.8 25.7M582.7 1263.2l2-3.2M591.7 1248.4l1.9-3.4M596 1240.6l3.3-5.9M350.4 1231l.1 5.2M350.6 1239.2l0 2.9M542.9 1281.1l2.2-2.8M553.3 1267.8l1.9-2.4M558.1 1261.7l7.3-9.4M568.3 1248.5l5.4-7.1M409.6 1250.5l0-.7M409.4 1243.3l-.1-5.1M409.2 1231.6l0-5.3M173.3 1226.6l3.6 5.5M177.5 1233l4.3 6.3M183 1241l3.7 5.3M399.1 1256.4l-.2-2.1M398 1246.6l-.9-9.2M163.5 1235.4l8.3 15.4M628.4 1257.5l-1.6-5.1M625.5 1248.5l-3.1-8.2M621.8 1238.7l-3.1-6.7M499.7 1225.3l-2.6 2.8M483 1245.4l-7.5 9.8M472.6 1258.9l-2.9 3.8M467.5 1265.6l-1.5 2M317.8 1242.9l-.2-.5M316.1 1239.8l-.9-1.5M313.8 1235.7l-.9-1.6M138.1 1233.8l-1.6 11M627.4 1243.9l-.7-6.5M626.2 1233.5l-.7-4.6M443.1 1238.7l-4.2 7.8M436.4 1251.1l-1.9 3.5M275.9 1248l-2-2.5M271.8 1243.1l-6.6-7.7M150.7 1226.9l-3.1 5M145.2 1236.2l-1.3 2.4M141.3 1244.2l-1.5 3.7M124.9 1222.2l-6.6 21.9M645.9 1235.9l.2-5.6M646.2 1227.9l-.1-17.2M441.7 1198.5l-.8 2.5M439.3 1205.9l-.5 1.6M434.5 1221.2l-7.3 23.9M214.6 1249.4l-13.9-10.3M193.4 1235.1l-6.9-2.8M580.6 1261.5l2.8-2.6M585.8 1256.5l.7-.8M596.4 1245.8l2.7-2.9M600.7 1241.2l1.5-1.7M606.9 1234.4l4.3-4.8M612 1228.7l2.7-3.2M616.7 1223.2l1.1-1.4M351.9 1224.7l.7 5.2M353.8 1241.1l.3 2.6M501.7 1243.3l2.9-3.4M508.3 1235.7l9.9-10.3M522.2 1221.6l18.3-15.3M284.7 1198.6l1.3 1.8M292.6 1211.3l5.4 10M300.1 1225.3l5.1 11M441.8 1271.9l3-10.3M446.8 1255.8l4.1-11.6M247.9 1236l3 3M256.7 1245.4l.8 .9M261.5 1251l2.4 2.9M407.5 1238.5l2.5-23.7M412.2 1199.5l.3-1.8M128.1 1201.8l2.6 3.7M134.1 1210.2l8.6 11.5M146.1 1226l5.7 7M371.4 1248.4l-1.6-12.6M368 1221l-.5-4.4M123.1 1229.1l.8 2.8M124.8 1234.7l1.3 4.2M635 1246.5l-7.4-8.2-7.7-6.4M574.9 1225.3l-3.4 1.2M552.7 1237.4l-3.1 2.4M545.7 1243.1l-3.8 3.5M539 1249.5l-4.1 4.2M532.5 1256.3l-5.9 6.9M523.1 1267.4l-.7 .9M517.1 1275l-1.1 1.5M331.6 1243.7l-5.7-17.4M117.8 1226.4l0 8.9M117.9 1239.3l.1 2.4M118.1 1245.7l.2 3.9M647.6 1251.8l-.4-2.2M645.9 1242.9l-1.8-8.1M641.5 1225.4l-.4-1.5M477.7 1236.8l-2.4 4.5M472.3 1247l-1.6 3.1M464.6 1261.9l-1.3 2.5M282.5 1248.2l-.7-1.2M279.4 1242.8l-3.2-5.5M371.9 1251.2l-2.8-22M368.2 1221.3l-.7-6.2M122.2 1225.8l2.3 7.9M649.9 1270.5l-1.8-4.1M646.7 1263.5l-.8-1.7M640.9 1252.5l-6-8.9M631.7 1239.5l-1.5-1.7M606.2 1220.5l-3.3-1.1M545.6 1236.3l-9 8.4M535.3 1246l-9.3 10.3M522.5 1260.6l-2.6 3.3M327.6 1243.2l-1.6-4.4M325.5 1237.3l-1.3-3.7M319.1 1219.2l-.5-1.6M117.8 1230.9l-.1 10.4M117.7 1246l.2 5.6M649.4 1266.6l-.5-5.3M646.2 1242.4l-.5-2.3M643.7 1230.4l-.4-1.5M462.6 1242l-5.6 11.9M271.1 1251.9l-3.2-5.1M265.3 1242.8l-2.7-3.9M127.1 1228.1l-6 14M117.1 1254.1l-.6 2.1M644.4 1238.2l1.3-11.9M645.9 1223.9l1.1-14.7M424.4 1228.4l-3.2 11.9M419.3 1247.2l-1.5 5.4M205.1 1255.7l-3-2.3M194.7 1248.6l-3.1-1.7M184 1243.5l-6.7-2.2M169.5 1240.1l-6.8-.1M157.8 1240.5l-2.2 .5M151.6 1242.1l-6.4 2.5M633.7 1236.6l6.1-15.2M385.5 1236.7l-.9 10.2M384.4 1249.4l-.5 4.2M576.5 1256.2l2.9-2.6M583 1250.2l9.3-8.8M595.1 1238.6l5.3-5.1M602.4 1231.4l2.9-2.9M608.9 1224.8l6.1-6.4M621.8 1210.8l2.9-3.2M347.4 1228l.8 6M349.3 1241.6l.4 3.4M453.2 1244.5l5-11.9M460.4 1227.7l6.8-13.6M468.7 1211.4l2.2-4M471.7 1206.1l1.9-3.2M216.2 1204.5l3.9 2.8M224.9 1210.9l9.8 8.1M235.6 1219.8l6.8 6.1M246.4 1229.7l3 3.1M253.2 1236.8l3.4 3.7M407 1261.9l.3-5M407.8 1249.3l.4-5.9M408.4 1240.8l.4-4.3M409.6 1229.5l1.7-14.1M137.8 1213.8l1.9 2.5M146.2 1224.5l2.6 3.2M152.3 1231.8l5.8 6.7M161.5 1242.4l2.7 3M167.7 1249.1l.4 .4M170.8 1252.4l2 2M310.1 1236.7l2 5M440.7 1265.4l1.5-5.2M444.2 1253.6l1.7-5.2M447.7 1243.2l.5-1.4M237.8 1235.2l11.5 11.3M405.9 1255.5l.1-.8M146 1226.5l2.6 3.3M150.9 1232.9l.3 .5M156.9 1240.2l8.8 9.9M372 1248.9l-.3-2.5M370.2 1235.5l-2.3-20.2M121.5 1222.9l4.2 14.3M126.4 1239.3l.4 1.4M645.7 1260.7l-2-3.9M641 1251.9l-2.2-3.6M636.8 1245.2l-3.4-4.7M632.3 1239.1l-1.8-2.2M620.6 1227.3l-1.3-1M560.1 1223.7l-3.3 1.9M531.8 1247.1l-6 6.8M522.3 1258.2l-2.7 3.4M320 1225.7l-7.7-20.8M120.1 1202.7l-1.9 20.4M647 1248.3l-2.3-11.1M643.4 1232.1l-.2-.8M641.4 1224.8l-.5-1.4M483 1226.7l-5.2 9.6M470.1 1250.9l-1.7 3.1M466.8 1257.1l-.6 1.2M281.9 1247.5l-.4-.6M279.1 1242.7l-.4-.6M277.7 1240.3l-1.8-3.1M269.6 1227l-2.7-4.1M126.2 1221.6l-1.8 4.7M121.5 1234.5l-2.5 8.4M116.1 1255.1l-.2 .7M643.2 1267l.6-5.3M644.6 1254l1.4-21.3M430.6 1233.5l-5.4 17.4M218 1252.7l-9.8-8.3M204.2 1241.6l-4.9-3.1M193.4 1235.4l-3.2-1.4M186 1232.4l-1.9-.6M159.9 1230.8l-3.2 .8M152.7 1233l-6.5 3.1M142 1238.8l-2.9 2.1M581.6 1255.8l6-5.7M599.2 1238.5l4.4-4.5M607.2 1230.2l9.1-10.1M347.8 1215.2l1 6.1M349.8 1228.3l.9 6.9M484.7 1269.9l3.2-4.8M494.2 1256.4l5.8-7.5M506.9 1240.8l2.9-3.2M635.9 1253.6l-2.6-2.8M623.6 1242.5l-2.9-1.9M617.8 1238.9l-3.9-1.9M602.7 1233.8l-3.2-.4M595.4 1233.3l-3.3 .1M580.5 1235.6l-3.2 1.1M575 1237.6l-1.4 .6M570 1240l-10.2 6.2M552.1 1252.2l-1.3 1.1M548.7 1255.2l-4.1 3.8M337.8 1239.5l-7.2-24.5M328.4 1207.6l-1.7-5.8M117.7 1212.6l.5 22M492.5 1205.1h0M491.9 1258.7h0M625.4 1234.9h0M463.5 1228.4h0M158.2 1215.3h0M148.4 1248.2h0M534.1 1236.6h0M496.4 1274.9h0M153.4 1252.7h0M318 1235.6h0M411 1241.6h0M283 1237.2h0M606.1 1247.9h0M406.6 1222.1h0M605.4 1236.1h0M260.7 1250h0M118.3 1212.5h0M366.6 1207h0M119.6 1216.2h0M626.8 1234.2h0M120.6 1243.4h0M259.8 1244.2h0M406.8 1242.8h0M617.2 1224.8h0M535.6 1243.1h0M310.8 1201h0M117.9 1228.7h0M117.7 1235.2h0M472.4 1246.4h0M423.4 1256.8h0"/><path stroke="#00ff39" d="M149.3 1214.4l3.1 8.1M152.9 1223.6l5.1 12.1M160.2 1240.5l1.7 3.7M166.1 1252.9l1.8 3.5M392.3 1246l-.4-2.8M391.1 1236.9l-2.6-22.8M487.7 1213.5l4.5-7.9M492.9 1204.5l4.7-7.7M506.7 1183.6l1.2-1.6M256.3 1182.2l2.7 3.7M259.7 1186.9l8.9 13.5 8.4 14.5M278.2 1217.2l2.1 4M285.1 1231.1l1.9 4.1M466.6 1261.1l1.5-4.2M472.1 1246.6l1.7-4.2M474.8 1240.1l3.1-7.1M480.4 1227.7l4.6-9.3M624.5 1236.1l.4-5.3M625.3 1222l.2-13.1M625.2 1197l-.2-2.8M417.8 1221.8l-5.2 14.3M215.5 1250.3l-2.6-1.4M452.4 1249.8l2.7-10M456.3 1235.8l5.3-16.5 6-15.7M242.8 1207.5l9.5 12.7M255.4 1224.6l7.4 11.4M265.6 1240.6l3.6 6.2M138.4 1204.2l.1 3.5M138.7 1215.3l.3 4.7M139.4 1226.1l.7 6.7M588.7 1248.4l-2.7-.3M579.6 1247.9l-2.7 .2M357.8 1242.5l-1.4-4.3M353.8 1230.7l-2.5-7.7M349.3 1217.1l-1.5-4.7M595.1 1242.3l.6-1M600.3 1232.9l9.6-19.5M610.6 1211.7l2.5-5.5M614.6 1202.8l.2-.6M367.6 1201.1l-.2 5.4M366.9 1215.8l-.2 3.8M365.9 1231.5l-.4 5.1M144.7 1191.9l-3.5 14.4-2.5 15.9M620.5 1245.8l-3-5M610.2 1230.5l-9.1-9.2M599.3 1219.9l-6-4.1-6.3-3.2M583.8 1211.4l-6.2-1.7M573.8 1209l-6.4-.3-6.9 .5M556.6 1209.9l-3 .8M546.3 1213.1l-13.2 6.9-13.8 10.4M517.4 1232l-8.5 8.1M505.7 1243.4l-2.5 2.6M500.1 1249.4l-2.4 2.7M328.7 1236.5l-2.2-4.4M325.7 1230.4l-8.8-17.7M314.2 1207.4l-.3-.6M287.2 1239.5l-3.3-4.5M281.5 1231.8l-9.1-11.5M269.5 1216.9l-5.6-6.3M154.8 1208.6l-1 1.4M152.9 1211.4l-3.9 6.9M146.9 1222.4l-1.7 3.6M143.1 1230.9l-1 2.7M625.9 1237.4l-.4-1.9M625.2 1234.3l-3.9-14.7-4.6-12.9M485.2 1197.1l-2.6 3.3M479.3 1204.8l-2.5 3.5M473.7 1212.8l-2.4 3.5M470.3 1217.8l-6.5 10.1M463.2 1228.9l-9.5 15.4M402.4 1242.8l-.3-5.1M401.4 1225.1l-.6-29.4M149 1196.4l9 18.4M158.5 1215.9l4.1 7.7M171.8 1239.7l2 3.4M433.1 1242.3l5.8-33.4M439.2 1207.4l1.1-5.2M215.5 1225l8.1 9.5M226.7 1238.2l5.1 6.4M543.9 1250.6l2.3-2.9M562.8 1227.7l2.4-2.8M571.1 1217.9l5.3-6.2M579.5 1207.9l11.4-13.6M593.7 1190.8l.4-.4M596.6 1187.3l.3-.5M331.9 1189l.6 3.1M333.7 1199l4 29.4M371.9 1240l-1.2-4.6M369.2 1229.3l-3.8-16M362.6 1201l-.1-.7M139 1201.9l3.4 20.6M143.6 1228.3l1 4.5M520.8 1253.9l2.3-3.1M526.1 1246.9l7.7-9.9M534.5 1236.2l7.6-9.3M545.3 1223.2l2.5-2.9M551.1 1216.6l2.5-2.8M324.1 1217l3.2 17.4M496.7 1274.4l1.7-3M513.2 1248.1l15.8-21.1M535 1219.7l11.4-13M313.1 1205.3l5.4 20.5M319.9 1232.1l.6 2.8M374.3 1224.6l-.2-.7M373.1 1218.9l-.9-5.1M141.4 1208.6l4.6 19.8M147.5 1233.9l1.2 4.2M175.1 1257.6l-2.5 .3M625.4 1205.8l.7-21.8M415.9 1187.9l-.2 .7M413.8 1195.1l-2.8 9.9M409 1211.9l-1.3 4.8M396.9 1251.9l-.6 1.8M623.8 1222l1.9-21.2M626 1194.5l.1-4.3M416 1187l-.5 1.4M413.7 1194.9l-6.2 21.7M405.7 1222.7l-1.3 4.6M501.7 1259.6l.3-.5M509.6 1247.1l2.3-3.3M514.8 1239.6l2.3-3.2M520.1 1232.3l19.7-24M543.2 1204.5l2.6-2.9M549.3 1197.9l2.7-2.9M312.3 1213.3l1.3 4.9M316.7 1230l1.2 4.9M425.4 1201.5l-1.4 4M421.8 1211.4l-7 19.8M412.8 1236.7l-1.6 4.3M222.5 1253.9l-.3-.2M169.6 1243.6l-5.4 2.4M625 1229.8l.2-4.8M625.4 1218.9l.1-10.4M426 1199.5l-.5 1.4M425 1202.2l-1.4 4M472.1 1235.6l10.6-23.3M485.5 1207l2.2-4M261 1198.7l2.1 3.1M265.2 1205l3.3 5.4M270.2 1213.1l12.5 23.5M283.2 1237.8l.8 1.7M605.8 1247.6l-2.4-1.6M594.4 1241.5l-8.7-2.4M579.1 1238.5l-5.8 .2M569.7 1239.1l-2.7 .5M347.6 1231.5l-1.6-4.4M343.9 1221.5l-9.4-25.5M139.3 1193.8l-.1 .7M139.1 1195.9l-.6 23M138.5 1223l.2 3.4M412.7 1200.8l-5.9 20.6M406.4 1222.8l-1.4 4.6M403.3 1233.3l-1.4 4.5M167.2 1258.4l-2.5 .7M622.5 1232.6l2-15.3M469.1 1230.6l.5-1.3M471.9 1223.7l10.5-22.5M483.3 1199.4l1-1.8M247.3 1190.3l5.6 7.3M255.5 1201.1l.3 .5M259 1206.2l15.2 24.9M276.8 1236l3.1 6.2M367.6 1201.2l-.7 16.2M599.5 1234.2l11-22.1M612.7 1207.1l1.2-2.8M614.7 1202.6l.5-1.2M594.6 1212.3l5.9-9M348.8 1198.8l.5 7M349.7 1212.8l.7 17.5M350.5 1236.9l.1 1.5M565.7 1251.9l2.3-3M574 1240.9l3.5-4.7M578.5 1234.9l4.7-6.5M586.1 1224.4l2.2-3.1M591.1 1217.2l.7-.9M409.3 1237.5l-.1-5.2M409.2 1225.6l.3-17.6M153.3 1193.7l19.6 32.4M182.1 1239.7l.6 .9M398.8 1253.6l-.6-4.8M397 1236.6l-1.7-23M149.5 1205.2l3.6 8.5M155.3 1218.6l8 16.3M626.7 1251.8l-1-2.8M618.4 1231.5l-1-2M616.4 1227.6l-.3-.5M508.7 1216l-2.7 2.6M502.6 1222.1l-2.6 2.8M496.8 1228.6l-2.5 2.8M491.1 1235.2l-7.8 9.8M475.1 1255.6l-2.2 2.9M312.6 1233.6l-4.5-7.9M305.3 1221l-4.8-8M297.6 1208.2l-5.1-8M145.6 1203.7l-1.4 4.3M141.2 1218.5l-3 14.7M626.6 1236.7l-.3-2.6M625.4 1228.2l-4.5-21.2M618.1 1197.7l-.9-2.5M465.2 1199.5l-2.4 3.8M457.4 1212.7l-14 25.5M438.6 1247l-1.9 3.6M434.2 1255l-1.9 3.5M264.9 1235l-14.1-14.4M246.9 1217.2l-12.7-9.4M230.4 1205.5l-3-1.6M168.2 1207.7l-5.5 4.7M156.9 1218.6l-5.9 7.9M147.3 1232.4l-1.8 3.3M138.1 1195.7l-.4 .5M131.8 1206.5l-4.5 9.7M646 1209.8l-2.5-29.3M642.9 1176.2l-.6-3.3M447.3 1181.9l-5.4 15.8M440.6 1201.8l-1 3.2M438.5 1208.3l-3.7 12.1M200.2 1238.8l-6.3-3.4M186 1232.2l-7-1.8M174.8 1229.8l-10.8 .1M618.2 1221.4l20.9-26.9M639.9 1193.5l7-9.9M347.3 1195.4l4.5 28.4M352.7 1230.8l1 9.5M518.7 1225l3.1-3M541 1205.9l15.4-10.6 16.6-9.8M577.7 1183l3.7-1.9M273.7 1183.5l5.5 7.1M281.8 1194.2l2.5 3.7M286.4 1201.1l5.8 9.6M298.4 1221.9l1.3 2.7M451.1 1243.5l4.3-10.7M458.2 1226.4l4.9-10.4M218.8 1210.7l3.4 2.5M226.4 1216.6l11 9.3 10.1 9.6M252.1 1240.4l4.2 4.5M257.9 1246.8l2.4 2.8M410.1 1213.9l2-13.5M412.6 1196.8l4.1-22M111.5 1176.7l16.2 24.5M131.1 1206l2.6 3.7M369.7 1234.9l-1.6-13M367.4 1215.7l-1.9-18.2M113.3 1187.7l3.5 16.7M117.3 1206.7l5.6 21.6M619.5 1231.7l-6.1-3.7-6.3-2.7-6-1.7-6.6-1M590.2 1222.5l-11 1.5M571.1 1226.7l-8.9 4.3-9 6M549.2 1240.1l-3 2.6M325.6 1225.5l-7.5-22.1M317 1200.2l-2-5.6M118.8 1205.9l-.4 5.8M117.9 1222.4l-.1 3.2M647.1 1248.8l-1-5.2M643.9 1234.1l-2.2-8M640.8 1223.2l-.9-2.8M637.7 1214.1l-1.3-3.4M501.9 1197.6l-5.9 8.4M492.4 1211.5l-5.8 9.4M482.6 1227.9l-1.8 3.2M475 1241.9l-2.3 4.4M275.8 1236.7l-15-23.1M257.1 1208.5l-3.1-3.9M369 1228.3l-.7-6.1M367.4 1214.2l-.7-6.3M366.5 1206.1l-2-20.5M116.8 1204.8l2.6 10.6M119.8 1216.9l2.2 8.1M634.6 1243.1l-1.4-1.8M629.9 1237.4l-2.7-2.9M626.4 1233.8l-7.8-6.6-8.3-4.9M598.7 1218.3l-7.3-.9M587 1217.5l-10.2 1.5-10.1 3.6-10.4 5.6-10.3 7.8M323.9 1232.8l-4.5-12.9M318.3 1216.8l-2.5-6.9M314.6 1206.7l-2.1-5.5M309.8 1194.1l-1.9-4.7M121.1 1194.1l-2.2 17.2-1.1 18.7M645.6 1239.4l-1.8-8.3M643.1 1228.2l-2.4-8.8M638.7 1212.9l-1.8-5M470.4 1225.9l-2.4 4.7M466.1 1234.7l-3.2 6.7M267.5 1246.2l-1.9-2.8M262.3 1238.3l-15.4-20.4-7.5-8.3-7.5-7.1M223.5 1195.8l-3.5-2.4M144.3 1202.4l-9 11.4-7.9 13.7M647 1208.4l.3-22M432.7 1197.7l-2.8 10.2M426.2 1221.9l-1.5 5.7M421 1241.1l-1.5 5.4M191.2 1246.7l-3.1-1.6M176.8 1241.2l-6.8-1.1M162.3 1240l-4.1 .5M155.1 1241.1l-3.1 .8M640 1220.7l9.2-27.2M649.7 1192l.2-.8M385.4 1196.5l-.3 9.3M387.1 1212.7l-.4 6.3M386.4 1223.5l-.8 12.3M384.5 1247.8l-.1 .8M600.8 1233l1.2-1.2M605.7 1228.1l2.8-2.9M615.4 1217.9l6-6.7M625.1 1207.1l1.2-1.4M628.3 1203.4l2.9-3.3M634.8 1195.7l4.5-5.4M340.4 1192.2l1.6 7M342.8 1202.7l4.4 24.4M458.5 1231.9l1.6-3.5M467.6 1213.4l.7-1.3M474 1202.2l9.2-13.9M488.6 1181.1l3.4-4.1M171.4 1178.4l3.7 1.9M184.1 1184.9l16.6 9.4 15 9.8M220.6 1207.6l3.8 2.9M411.4 1214.6l3.2-20.7M120.7 1190.1l16.7 23.2M140.1 1216.8l5.7 7.2M149.2 1228.2l2.7 3.2M298.2 1210.8l4.1 8.3M303.3 1221.1l6.5 14.9M448.5 1241l9.7-23.9M460.2 1212.9l2.4-5M465.9 1201.7l1.1-2.1M200.8 1206.4l19.5 13.9 17.1 14.5M406 1253.8l.3-4.2M406.8 1241.9l1.2-13M409.7 1213.8l1.9-13.5M128 1202.1l17.6 23.9M149 1230.3l5.7 6.9M153.9 1236.6l2.6 3.1M371.5 1245.6l-1.2-9.3M367.9 1214.4l-1.8-17.3M114 1191.5l7.3 30.7M630.1 1236.5l-9.1-8.8M618.9 1226l-1.3-.9M616.8 1224.5l-6.2-3.7-6-2.5-6.1-1.8-6.8-.9M587.3 1215.5l-9.4 1.2-9.7 3M556.3 1225.9l-10 7.3-10.3 9.5M535.2 1243.6l-2.9 3M312 1204.1l-.9-2.3M310.5 1200.2l-5.4-13.3M125.1 1176.5l-4.9 25.3M643 1230.6l-1.4-5M640.7 1222.7l-2.1-6.4M637.6 1213.6l-2.5-6.2M633.1 1202.8l-2.3-4.6M498.5 1201.8l-2.9 4.3M488.9 1216.6l-5.5 9.5M477.4 1236.9l-4.7 8.9M472 1247.1l-1.6 3.1M275.5 1236.6l-5.5-9M266.5 1222.3l-8.9-12.7M256.7 1208.5l-3-3.9M135.3 1203.5l-1.4 2.3M132.2 1208.9l-1 1.8M128.5 1216.4l-2 4.5M124.1 1226.9l-2.4 6.9M646 1231.9l.1-21.2M645.8 1203.2l-.4-5.1M645.3 1196.5l-.4-5.1M437.4 1211.3l-6.5 21.5M425 1251.7l-1.4 4.4M207.7 1244.1l-3-2.2M198.9 1238.2l-5-2.6M189.7 1233.8l-3.2-1.2M183.7 1231.7l-9.9-1.8-9.8 .2M156.3 1231.8l-3.2 1M616.7 1219.7l5.9-6.9M626.2 1208.6l16.3-20.6M342.3 1186.8l1.3 6.3M345.3 1201.1l2.4 13.2M348.9 1222.2l.8 5.2M500.4 1248.5l6.1-7.2M510.2 1237.2l9.9-10.2 10.9-9.8M535.2 1213.8l1.9-1.6M539 1210.8l1-.8M546.7 1205l.5-.4M554.6 1199.6l3.5-2.3M613.4 1236.8l-10.2-2.9M599 1233.4l-3.2-.1M591.7 1233.4l-10.7 2.1M576.8 1236.9l-1.3 .6M573.2 1238.4l-2.7 1.3M330.3 1214.2l-1.6-5.8M326.4 1201l-3.1-10M322.2 1187.6l-1.9-5.9M120.4 1173.8l-.5 4.3M119.6 1180.6l-1.4 15.3-.5 15.9M625.2 1225.4h0M419.8 1216h0M138.5 1209.7h0M138.1 1227.5h0M254 1200.8h0M165.1 1228.1h0M209.8 1218.5h0M145.9 1238.4h0M377.9 1241.7h0M376.7 1236.3h0M465.8 1239.3h0M467.6 1234.3h0M485.9 1194.7h0M596.2 1209.8h0M409.8 1200.9h0M177.2 1232.6h0M273.6 1245.1h0M125.2 1221.6h0M159.9 1230.6h0M611.6 1229.1h0M261.1 1250.5h0M325.8 1238.1h0M471.3 1206.8h0M492.4 1211h0M142.4 1238.5h0"/><path stroke="#00ffc6" d="M137.8 1179.1l1.3 4.6M141.4 1191.3l7.7 22.5M388.4 1213.3l-2-22.5M386.2 1188.5l-.4-5.6M497.9 1196.3l8.4-12.2M508.3 1181.5l12.2-14.9 13.1-13.3M232.5 1155.3l12 12.5 11.4 13.9M625.5 1208.2l-.3-10.5M625 1193.5l-.6-7.8M623.8 1180l-.3-2.1M431.5 1183.8l-11.4 31.5M419.6 1216.6l-1.6 4.5M467.9 1202.9l8.4-18.6M477.6 1181.7l5-9.3M215.9 1178l2.9 2.9M220.5 1182.5l11.3 12 10.6 12.5M252.7 1220.7l2.3 3.4M139.6 1175.1l-1.2 28.4M570.4 1249.1l-2.7 .6M351.1 1222.3l-1.6-4.6M347.6 1211.8l-8.2-24.8M338.4 1184.2l-3.8-10.6M610.1 1212.8l.3-.5M613.4 1205.6l.9-2.2M615.1 1201.7l9.2-23.2M368.1 1181.9l-.5 18.4M367.3 1207.3l-.3 7.7M154.1 1167.1l-5 11.5-4.2 12.6M612.6 1233.6l-2.1-2.7M600.7 1221l-1.1-.8M586.6 1212.4l-2.4-.9M577.1 1209.6l-2.9-.5M560 1209.3l-3 .5M553.2 1210.8l-6.4 2.1M326.2 1231.5l-.3-.5M316.6 1212.1l-2.1-4.1M313.6 1206.2l-14.7-26.3M272.1 1219.9l-2.2-2.6M263.5 1210.2l-9.1-9M253.5 1200.5l-8-6.5-8.4-5.6M233 1186.1l-9.3-4-9.1-2.4M210.2 1179.1l-3.4-.3M202.5 1178.8l-9.5 1.3-8.7 2.8M181.6 1184.1l-7.3 4.3-6.7 5.3-6.6 6.8-5.9 7.7M153.5 1210.5l-.3 .5M616.4 1206.1l-7-14.1-8.3-12.1M592.9 1171.2l-.4-.3M508.6 1172.9l-3.2 2.7M502.3 1178.3l-.5 .4M498.4 1182.1l-12.8 14.5M482.2 1200.9l-2.6 3.4M476.5 1208.8l-2.5 3.5M471 1216.8l-.3 .5M400.8 1194.9l.4-31M138.7 1172.4l10 23.4M440.5 1201.5l4.1-16.3M445 1183.7l.2-.8M164.4 1169.7l2.8 2.9M173.5 1179.2l3.1 3.2M177.7 1183.7l31.8 34.3M212.7 1221.7l2.5 2.9M576.7 1211.2l2.5-2.9M591.2 1193.8l2.1-2.6M594.4 1189.9l1.8-2.2M597.3 1186.4l12.6-15.8M327.4 1168l1.3 5.5M329.2 1175.8l2.6 12.4M332.7 1192.8l.9 5.4M365.3 1212.6l-2.5-10.8M362.3 1199.6l-5.8-25.7M136.8 1179.5l.4 5M137.7 1190.8l1.3 10.4M542.5 1226.5l2.5-2.9M548.2 1219.9l2.5-2.8M554 1213.4l25.3-26.9M581.3 1184.5l2.7-2.8M318.1 1192.2l.2 .7M318.9 1195.1l5 21.2M529.3 1226.6l5.3-6.5M546.8 1206.3l15.1-15.8M568.7 1183.8l6.1-5.8M578.6 1174.5l2.9-2.7M304.4 1179.3l4.5 12.6M310.5 1196.8l2.4 7.8M376.6 1235.7l-2.2-10.4M374 1223.1l-.7-3.5M372 1213.1l-4.3-23.2M136.1 1175.8l.6 5M137.5 1186.4l.8 5.5M139.3 1198l1.9 10M146.2 1229l1.1 4.3M626.1 1183.3l-.9-20.3M624.9 1160l-.2-2.2M624.2 1154.2l-.1-.8M426.2 1155.4l-1.3 3.7M423.4 1163.6l-7.2 23.6M415.5 1189.3l-1.4 5.1M625.7 1200.1l.3-4.9M626.1 1189.5l-.1-15M625.8 1171.5l-.4-6.5M425 1158.2l-.3 .7M422.5 1165.6l-6.3 20.7M415.3 1189.2l-1.4 5M540.1 1207.8l2.7-2.9M546.2 1201.2l2.7-2.9M552.4 1194.6l15.4-15M568.6 1178.8l4.2-3.8M300.5 1179.3l6 15.9 5.6 17.4M423.7 1206.1l-1.6 4.7M625.5 1207.9l-.8-17.6-1.8-16.2M438 1168.7l-11.7 30.2M483 1211.7l2.2-4.1M488 1202.4l9.6-15.8 10.3-14.4M235.7 1167.3l2.6 2.8M242.1 1174.3l9.7 11.6 8.9 12.2M263.5 1202.3l1.4 2.2M268.9 1210.9l.9 1.6M334.3 1195.3l-10.8-26.4M144 1162.9l-.8 3.5M142.5 1169.9l-.4 2.1M141.8 1173.4l-2.5 19.7M421.4 1171.9l-8.4 28.2M624.5 1216.6l1.2-16.5 .4-16.3M482.7 1200.6l.3-.6M484.6 1197l1-1.7M486.2 1194.1l11.7-18.9M234.4 1175.4l12.5 14.4M253.3 1198.1l1.8 2.5M256.2 1202.1l2.5 3.5M368.3 1168l-.6 32.4M610.7 1211.5l1.8-3.9M614.2 1203.7l.2-.6M615.4 1200.8l11.9-30.7M627.7 1168.8l.2-.7M629.5 1163.6l.4-1.3M600.8 1202.9l13.4-21.6M346.7 1176.4l2.1 21.6M349.4 1206.6l.3 5.4M577.8 1235.8l.4-.4M588.6 1220.8l2.2-3.2M592.1 1215.8l3.8-5.6M596.5 1209.3l.6-.9M409.6 1207.2l.2-5.5M409.8 1200.1l1.5-24.1M141.7 1171.9l2 3.9M146 1180.3l7 12.8M395.2 1212.8l-1.4-34.9M140.2 1181.4l9 23.2M153.4 1214.2l1.7 3.8M617.2 1229l-.6-.9M615.8 1226.6l-6.7-10.4-7.3-8.7M598.5 1204.4l-9.3-7M585.9 1195.5l-9.9-3.9M571.9 1190.6l-6.8-.8-7.4 .1M554.9 1190.3l-11.4 2.8-11.2 5-11.6 7.5-11.6 10M505.6 1219l-2.6 2.7M493.9 1231.9l-2.4 2.9M307.8 1225.2l-2.2-3.7M300.2 1212.4l-2.3-3.7M292.1 1199.7l-14.7-19.8M161 1173.2l-2.1 3M156 1180.9l-5.5 10.5-4.7 11.7M144 1208.6l-2.6 9.3M620.8 1206.4l-2.5-8.1M617 1194.6l-6.6-15.3M481.7 1175.4l-8.1 11-8.1 12.5M462.5 1203.9l-4.8 8.2M250.4 1220.3l-3.2-2.8M233.8 1207.6l-3-1.8M227 1203.7l-7.9-3.4-7.6-2.2-7.7-1.2-7.1-.1-7.5 1.1-6.9 2-7.1 3.2-6.6 4.3M162.3 1212.7l-5.1 5.5M259.8 1205.9l-13.1-15.7-13.2-11.9M228.7 1174.7l-3.9-2.4M150.8 1180.2l-6.3 6.8-6 8.1M137.3 1196.8l-5.2 9.1M127.1 1216.9l-1.6 4M643.4 1179.6l-.4-2.5M642.2 1172l-4.2-18.5M459 1152.6l-11.4 28.4M178.5 1230.3l-3.3-.5M163.6 1230l-3.3 .5M647.3 1183.1l10.7-15.6M658.8 1166.3l2.1-3M340.8 1166.4l6.3 28.1M573.5 1185.2l3.7-1.9M582 1180.8l25.6-11.7 31.5-12.1M644.3 1155.1l4.1-1.4M243 1153.8l8.1 6.4M255.5 1164.1l9 8.8 8.8 10M279.6 1191.2l1.8 2.4M455.7 1232.1l2.2-5M463.5 1215.3l7.3-13.6 7.7-12.3M170.4 1181.3l3.6 1.9M183.4 1188.2l18.3 10.8 16.7 11.4M222.7 1213.6l3.2 2.6M251.3 1239.5l.4 .4M416.9 1173.9l6.3-25.1M93.4 1147.6l.4 .7M97.5 1154.2l13.6 21.9M365.4 1196.5l-2.2-22.7M362.8 1169l-.3-2.9M111 1174.5l2.1 12.4M116.9 1205.2l.2 .7M594 1222.6l-3.3-.1M578.7 1224.2l-3.4 .9M317.9 1202.6l-.6-1.6M314.7 1193.8l-9-22.8M124.1 1171l-.4 1.7M123.4 1174.3l-2.7 15-1.8 15.8M118.3 1213.4l-.4 8.2M639.7 1219.7l-1.7-4.9M636.1 1210l-5.8-12.5-6.9-11.5M621.8 1183.7l-3-3.8M521.4 1175.6l-9.5 9.6-9.6 11.8M495.6 1206.6l-2.8 4.3M486.3 1221.6l-3.3 5.7M480.5 1231.7l-2.4 4.5M260.4 1213l-2.9-4M253.6 1204.1l-.4-.6M364.4 1184.7l-1.2-12.5M363 1169.3l-.2-1.9M109.6 1165.5l.9 6M111.7 1179l5 25M609.8 1222l-3.2-1.3M602.4 1219.2l-3.3-.8M590.9 1217.4l-3.4 0M315.5 1209.1l-.6-1.6M312.2 1200.4l-2.1-5.5M307.6 1188.6l-8.4-19M127.4 1166.4l-3.5 12.9-2.7 14M640.5 1218.7l-1.6-5.1M636.7 1207.2l-7.6-16.8M502.2 1173.4l-3.3 4.3M496.2 1181.4l-.9 1.2M491.4 1188.3l-10 16.6-10.7 20.3M467.7 1231.3l-1.3 2.7M231.4 1202.1l-7.4-5.9M219.4 1193.1l-7.3-4.1-7.6-3.1-7.7-2.1-7.3-1M184.5 1182.8l-10.4 1.4-10.6 3.8-9.8 6-9 8M647.3 1185.6l-1.2-21.7M440.9 1170l-1.1 3.5M438.2 1178.8l-5.2 18.1M429.7 1208.7l-3.3 12.4M650.1 1190.5l6.1-22M385.8 1174.5l-.4 21.1M388.1 1190.4l-1 21.4M386.7 1219.9l-.2 2.7M626.7 1205.3l1.2-1.4M631.6 1199.6l2.8-3.4M639.7 1189.8l16.7-21.1M336.8 1178l3.4 13.3M342.2 1200.1l.4 1.8M483.6 1187.7l4.6-6M492.4 1176.5l15.7-16.2M513.7 1155.5l1.8-1.4M518.4 1151.8l3-2.2M109.1 1152.5l4 1.5M117.2 1155.6l.5 .2M122.9 1157.7l26.2 10.6 21.8 9.9M175.7 1180.5l7.9 4.1M414.8 1193l4.1-20.1M103.3 1163.6l2.7 4.3M109.5 1173.3l10.8 16.2M568 1195.3l30.6-16.6M601.2 1177.4l3.8-1.8M280.8 1182.8l9 13.3 8 14M302.7 1219.8l.3 .7M458.5 1216.4l1.4-2.8M463 1207.2l2.5-4.8M467.4 1198.9l7.6-12.7M148.3 1176l3.6 1.9M156.6 1180.4l3.6 1.9M162.3 1183.4l20.3 11.5 17.8 11.1M408.1 1228l1.5-13.3M411.7 1199.4l3.5-20.1M113 1179.4l14.6 22.2M366 1196.2l-1.5-16.1M364.3 1177.3l-.7-6.8M109.9 1168.3l.4 2.5M110.6 1172.5l3.2 18.2M591.2 1215.6l-3.4-.1M567.7 1219.9l-7.2 3.5M304.7 1186.1l-9.4-20.3-9.9-17.4M283.4 1145.5l-.4-.8M134.6 1149.8l-5.1 12.4-4.1 13.5M638.4 1215.6l-.6-1.4M634.8 1206.7l-1.4-3.3M630.5 1197.6l-8.5-13.9-9.3-10.8M606.7 1167.6l-.5-.4M521 1175.6l-3.6 3.4M513.5 1183.1l-7.6 8.7M502.4 1196.5l-3.5 4.7M495.2 1206.7l-2.4 3.7M492 1211.6l-2.7 4.4M253.3 1204.1l-14.6-15.5-7.1-6-7.6-5.2M179 1168.6l-8.6 2.6M165.5 1173.5l-3.8 2.1M153.2 1181.8l-9.4 9.6-8.2 11.5M133.5 1206.4l-1 1.8M130.9 1211.3l-2.1 4.4M646.1 1209.8l-.3-5.8M644.8 1190.6l-2.9-20.3M449.6 1174.9l-11.9 35.6M163.6 1230.1l-3.2 .6M623 1212.3l2.8-3.3M642.9 1187.5l18.4-25.1M338.7 1172.5l3.3 13.4M343.8 1194l1.3 6.2M531.5 1216.8l3.2-2.7M537.6 1211.9l.9-.8M540.4 1209.7l5.8-4.4M547.7 1204.3l6.4-4.4M558.6 1197l18.5-10.9M323 1190.1l-.5-1.7M320 1180.8l-9.9-26.4M125.1 1150.8l-4.5 22.1M119.8 1178.9l-.1 .9M152.6 1223h0M259.3 1186.4h0M368.2 1174.5h0M439 1208.1h0M425.7 1200.8h0M425.3 1201.5h0M139.2 1195.2h0M639.5 1194h0M109.6 1165.1h0M645.4 1157.7h0M649.4 1192.7h0M415.6 1177.5h0M137.2 1144.6h0M257.1 1209h0M645.4 1197.3h0M336.4 1164.4h0"/><path stroke="#00aaff" d="M133.7 1163l4 15.5M139.3 1184.3l1.9 6.4M386.4 1190.1l-.1-.8M385.7 1182l-1.1-15.5M383.9 1155.6l-.1-1.7M534 1152.9l9.8-8.4 9.8-7.5M199.8 1130l3.9 2.4M207 1134.6l13 9.6 12.1 10.6M624.3 1185l-.5-4.2M623.4 1177.2l-3.5-19.1M443.5 1155.4l-.3 .7M442.2 1158.2l-10.4 24.9M476.6 1183.6l.7-1.2M483 1171.8l12.2-19.2M502.1 1143.5l1.8-2.2M169.7 1141.1l1.5 1M183.4 1150.7l10.8 8.3M198.3 1162.4l17.2 15.2M219.3 1181.3l.8 .8M146.4 1140l-.2 .7M145 1145l-3.2 14.3-2.1 15.1M339.1 1186.3l-.5-1.4M334.3 1172.9l-4.6-12.1M325.1 1150l-2.3-5M624.5 1177.8l6.2-17.8M631.1 1158.7l2.7-8.7M634.5 1147.9l.4-1.3M368.2 1150.2l0 23.5M368.2 1175.3l-.1 5.8M176.9 1137.7l-3.4 2.9M172.6 1141.5l-9.7 11.1-8.5 13.9M298.5 1179.4l-14.2-20M282.6 1157.3l-3.1-3.5M236.7 1188.1l-3.2-1.7M214.1 1179.6l-3.4-.5M206.3 1178.8l-3.3 0M183.8 1183.1l-1.8 .8M600.8 1179.5l-7.4-7.9M592.1 1170.5l-7.9-6-8.1-4.3-8.6-3-9-1.6M549.4 1155.5l-3.8 .4M542.9 1156.3l-1.6 .4M540.2 1156.9l-3.2 .8M533.9 1158.7l-12.4 5.5-12.5 8.3M504.9 1175.9l-2.2 2M501.4 1179.1l-2.6 2.5M401.2 1163l.9-21.2M126.6 1139.5l3.4 10M132.2 1155.4l6.2 16.3M445.4 1182.2l9.1-27.5M148.6 1153.2l15.4 16.1M167.6 1173l5.5 5.8M177 1182.8l.3 .4M610.3 1170.1l24.5-31.6M318.3 1136.7l8.9 30.5M328.9 1174.2l.2 .8M356.3 1173.2l-6.4-25.1M136.3 1151.7l.5 27.1M137.2 1185.2l.5 4.9M579.7 1186.1l1.2-1.2M584.4 1181.3l9.2-9.3M597.2 1168.4l3.3-3.3M307 1158.6l5.8 16 5.1 16.9M318.5 1193.7l.2 .7M562.3 1190.1l6-5.9M575.2 1177.6l2.9-2.7M581.9 1171.4l17.7-15.7M292 1151.7l.7 1.4M293.8 1155.1l10.3 23.5M309.1 1192.6l1.2 3.5M367.6 1189.2l-5.8-30.8M135.2 1166.5l.8 8.6M136.8 1181.5l.6 4.2M138.4 1192.6l.8 4.7M625.1 1162.2l-.1-1.4M624.6 1157.1l-.3-2.2M624 1152.7l-4-20.6M619.6 1130.7l-.8-2.9M436.4 1129.9l-2.3 5.2M433.1 1137.4l-6.6 17.2M424.7 1159.9l-1 3M625.9 1173.7l0-1.4M625.4 1164.3l-1.7-14.7M623.5 1148.1l-.9-5.2M432.6 1137.9l-1.3 3M430.2 1143.9l-5 13.5M424.5 1159.7l-1.8 5.2M573.2 1174.6l29.9-25.6M607.3 1145.7l3.2-2.6M276.9 1135.1l1.3 1.9M288 1153.1l12.2 25.5M622.7 1173.3l-3.4-16.9-4.7-15.2M451.3 1141.3l-2.6 4.7M446.2 1150.8l-7.9 17.2M508.3 1171.7l10.1-12.1 10.6-10.8M533.4 1144.8l3.5-3M212.4 1146.3l7.8 6.4M224.5 1156.4l10.8 10.5M238.8 1170.5l2.9 3.3M323.2 1168.2l-7.1-15-7.4-13.3M306.2 1136l-.4-.7M154.8 1132.4l-.7 1.3M150.9 1140.9l-3.7 10.2-3.1 11.1M143.1 1167.1l-.5 2.1M432.6 1140.6l-.3 .7M429.7 1148.1l-8 23M626.1 1183.1l-.7-16-1.7-15.3M498.3 1174.7l10-13.5 10.7-12.2M520.9 1147.1l3.3-3.3M201.2 1146.1l3.5 2.6M209.1 1152.1l7.1 5.9M217.6 1159.2l16.4 15.7M368.1 1140l.2 27.2M628.2 1167.5l1.1-3.2M630.1 1161.7l5.9-18.8M614.5 1180.8l16.8-29.7M631.9 1149.9l.9-1.7M342.9 1149.3l.8 5M344.5 1159.3l2.1 16.3M583.6 1228l2.2-3.2M411.4 1175.2l2-21.5M132.6 1153.1l8.8 18.2M144 1176.4l1.7 3.3M393.8 1177.1l-.4-20.8M393.4 1154.6l0-6M130.2 1150.1l9.8 30.7M601.4 1207.1l-2.5-2.4M588.8 1197.1l-2.5-1.4M575.5 1191.5l-3.1-.8M557.3 1190l-1.9 .2M277 1179.4l-12.6-13.1-12.5-9.9M189.6 1149l-3.6 1.7M179.6 1154.6l-5 3.8M170.6 1161.9l-9.3 10.8M158.6 1176.7l-2.3 3.6M610.1 1178.7l-7.8-12.8-9.1-10.7M513.2 1146.7l-7.9 5.3M503.8 1153.1l-10.9 9.7-10.8 12.1M233 1177.8l-3.8-2.7M224.2 1172l-9.2-4.6-9.6-3.1-9.8-1.5-9.7 .2-9 1.7-9.2 3.5-8.6 5.1-7.9 6.5M637.7 1152.7l-6.8-18.9-8.3-15.4M613.3 1106.4l-8.7-8.1-9.3-6.4-10.6-5.1-10.5-3.4M566 1081.8l-9.5-.9-8.5 0-9.5 1-9.3 2-8.8 2.9-8.4 3.8-7.7 4.4-7.2 5.2M490.6 1105.8l-8.5 9-7.9 10.4-7.7 12.6-7.1 14M661.3 1162.7l19.2-28.6M329.5 1131.7l1.8 4.6M331.9 1138.1l8.6 27.4M639.7 1156.8l4-1.5M648.9 1153.5l47.5-14.9M67 1138.4l28.4-7.1 25.2-4.3 23.4-1.9 21.8 .6 21.1 3.2 19.9 5.6 18.1 8 17.5 10.9M251.6 1160.7l3.4 2.9M478.9 1188.7l8.1-11.1 8.9-10.4M498 1164.9l8.1-7.9M119.2 1158l11.7 5M135.9 1165.2l33.9 15.8M174.6 1183.4l8.3 4.5M423.4 1147.9l4.8-14.9 5.3-13.9M77 1121.5l16 25.5M94.3 1149l2.8 4.6M363.1 1172.9l-.2-2.9M362.4 1165.1l-1.5-14.8M360.4 1145.3l-.8-8.1M107.2 1144.9l2.3 19.3M109.7 1166l1.2 7.6M305.4 1170.2l-7.6-16.1-7.5-13.2M132.4 1145.1l-.7 1.6M130.8 1149l-6.5 21.2M623 1185.4l-.8-1.1M618.4 1179.4l-7.4-7.9-7.7-6.2M598.4 1162.2l-4-2M589.1 1158l-9.9-2.6-9.4-.7M559 1155.7l-9.5 2.5-9.7 4.3-9.2 5.7-8.7 7M363.1 1171.3l-.1-1M362.7 1166.4l-2.8-27.8M107.9 1151.6l1.6 13.1M110.6 1172.3l1 5.9M298.9 1168.8l-8.2-15.5-8.5-13.3M140 1137.2l-2.9 5.1M136.4 1143.8l-4.9 10.7-3.9 11.1M625.4 1176l-9.4-13.1M615.1 1161.8l-3.4-3.7M607 1153.8l-1.1-.9M516.3 1158.7l-13.6 14.2M498.4 1178.3l-1.8 2.4M494.8 1183.2l-3 4.5M189 1182.8l-3.9-.1M646 1163l-.5-4.4M645.3 1156.8l-3.7-21.2M452.3 1139.3l-2.6 6.1M446.7 1153.3l-5.5 15.8M439.5 1174.4l-1 3.5M656.4 1167.7l7.4-32.1M385.9 1133.4l.1 5.1M386 1146.7l-.1 26.8M656.8 1168.1l18.5-24.2M318.9 1129.7l9.4 21.8 8.3 25.6M508.6 1159.8l4.5-3.8M516 1153.6l1.8-1.3M522 1149.2l17.3-10.4 18.5-7.9 20.3-5.3 20.8-2.7 22.2-.1 23 2.5 24.7 4.9 27.7 7.7M67.1 1138.1l41.4 14.2M113.7 1154.3l2.9 1M118.3 1156l4 1.5M419.1 1172l8.1-29.6M91.5 1145l11.4 17.9M106.4 1168.5l2.7 4.2M599.1 1178.4l1.6-.7M605.5 1175.4l38.9-17.3M649.5 1156l4-1.7M658.6 1152.2l4.1-1.6M256.4 1155.7l12.4 12.3 11.5 14.2M475.4 1185.5l10.9-15.2 11.3-12.8M84.4 1144.3l1.8 .8M91.4 1147.6l17.6 8.5M113.9 1158.5l33.8 17.2M152.4 1178.2l3.7 1.9M160.7 1182.6l1.1 .5M415.8 1176.5l4-17.6M420.7 1155.2l1.3-4.7M94.4 1149.1l18.3 29.7M364.4 1179.2l-.1-1M363.5 1169.5l-3-31.8M106.9 1143.8l2.9 23.6M284.9 1147.6l-1-1.4M282.5 1144l-7.4-9.8M270.5 1128.9l-7.5-7.4-7.5-6.1M248.8 1111l-5.4-3M236 1104.7l-10.3-3.2-10.8-1.9-10-.3-10.7 1.1M186.4 1102.1l-12.3 4.7-11.6 7.2M156.6 1118.8l-10.1 11.1-9 14M136.8 1145.3l-1.9 3.8M612.2 1172.4l-5-4.4M605.7 1166.8l-9.9-6.2-10.1-4-10.6-2-10.8 0-10.8 2-11.1 4.3-10.5 6.1-10.4 8.1M516.9 1179.5l-3 3.1M505.5 1192.4l-2.7 3.5M223.5 1177.1l-10.8-5.4-11.2-3.3-11.3-1.1-10.6 1.2M169.9 1171.5l-3.9 1.7M161.2 1175.9l-7.5 5.5M641.8 1169.4l-3.3-14.3-4.2-13.3M632.1 1136.2l-1.8-4M464.2 1141.6l-2.9 5.8M458.9 1152.3l-8.9 21.8M661.7 1161.8l17.1-23.8M328.1 1140.2l8 23.3M336.6 1165.3l1.8 6.3M309.8 1153.5l-7-15.1-7.4-13.1M136 1121.9l-1.2 2.4M134 1125.9l-4.7 11.4-4 12.6M558.4 1133.7h0M618.2 1151.8h0M320.6 1140.1h0M124.5 1133.4h0M444.8 1184.4h0M433.8 1134.9h0M568.2 1179.2h0M151.7 1139h0M142 1172.7h0M627.5 1169.4h0M658.4 1166.9h0M134.5 1140.4h0M123.6 1173.5h0M679.5 1138.4h0M415.4 1178.4h0M110.4 1171.7h0"/><path stroke="#001cff" d="M130 1146.2l3.5 16.1M384.6 1165.7l-.6-9.2M383.7 1153.1l-1.7-26.7M127.7 1133.3l3.5 18.8M554.1 1136.7l3.7-2.6M558.9 1133.4l11.7-7.2 12.3-6.4 12.8-5.7 13.9-5 14.5-4.2 14.8-3.4 15.1-2.6 16-1.8M682 1096.3l14.8-.4M67.5 1095.9l6.4 .1M85.9 1096.5l4.9 .3M97.1 1097.4l4.9 .5M108.3 1098.7l10.3 1.6M124.8 1101.4l4.7 1M135.6 1103.8l17.1 4.7 16.5 6 15.8 7.2 14.3 8M204.3 1132.8l2.1 1.4M619.7 1157.4l-1.3-4.9M618 1151.1l-7-19.1M610 1130.1l-2.3-4.6M460.9 1125.3l-8.8 13.8-8.2 15.6M442.9 1156.8l-.3 .7M495.6 1152l6.1-7.9M504.4 1140.8l16-16.6M522 1122.8l3.9-3.3M135.4 1120.7l2.2 1.2M142.5 1124.6l26.7 16.2M171.7 1142.5l11.2 7.9M194.7 1159.4l3.2 2.6M320.3 1139.4l-10.3-17.9-11.3-14.8M157.7 1114.1l-6.2 12-4.9 13.2M146 1141.4l-.8 2.8M329.4 1160l-4-9.3M322.5 1144.3l-5-9.8M634 1149.3l.3-.7M635.1 1145.9l6.2-22.6M367.5 1113.5l.7 35.8M239.9 1126.4l-8.3-2.2-8.4-1.2-8.4-.1-7.7 .9-8 1.9-7.8 3-7.2 3.9-6.7 4.7M283.9 1158.9l-.9-1.1M279 1153.3l-9.1-9-9.5-7.5-9.7-5.8-10.4-4.3M558 1155.6l-8.1-.1M545.1 1156l-1.6 .3M536.5 1157.9l-2.1 .6M402.2 1141l2-28.9M114.1 1099.5l3.3 11.1M119.1 1116.4l5.2 16.3M124.7 1134.1l1.6 4.7M130.3 1150.2l1.6 4.5M454.8 1154l11.1-24.7M116.6 1120.6l6.9 6.9M124.9 1128.9l23.3 23.8M635.2 1138l19.4-24.8M658.7 1108.2l7-8.2M307.4 1110.4l.3 .8M310.9 1118.1l7.1 17.8M349.7 1147.3l-5.2-17.6-5.5-15.1M142 1110l-.8 3.1M139.7 1119.9l-2.2 15.2-1.2 15.8M594 1171.6l2.8-2.8M600.9 1164.7l33.6-32.8M296.6 1135.6l10.1 22.2M600 1155.4l20.5-17.2 19.6-15.3M644.7 1119.5l3.6-2.7M277.3 1127.5l7.6 11.6 6.8 11.9M293.1 1153.7l.3 .7M361.6 1157.6l-6.8-30.3M134.7 1125.2l-.4 8.5M134.1 1140.5l1 25.3M618.6 1127l-4.7-12.9-5.9-11.7M604.6 1097.1l-7.6-9.4M586.2 1078.2l-5.2-3.5M566.6 1067.8l-12.7-3.6-13.7-1.9-13-.2-14 1.6-12.2 3-12.2 4.8-10.9 6.1-10.2 7.7M462 1090.8l-6.8 7.7-6.5 8.9-6 10-6 11.8M433.8 1135.9l-.4 .7M622.4 1142.2l-4.6-18.3-6.3-15.6M448.9 1106.5l-3.2 4.9M443.2 1115.7l-.8 1.5M440.1 1121.6l-6 12.6M433.5 1135.7l-.6 1.4M431 1141.6l-.5 1.5M603.6 1148.7l3.2-2.6M611 1142.8l33.5-24.4M647.1 1116.6l3.8-2.5M266.7 1121.8l9.8 12.7M278.6 1137.6l9 14.8M614.3 1140.5l-4.3-10-5-8.9-5.4-7.9-6.4-7.2M468.6 1116.4l-8.7 11.1-8.2 13.1M448.3 1146.7l-1.7 3.4M529.5 1148.4l3.4-3.2M537.4 1141.4l12.6-9.7 13-8.3M568.3 1120.4l4.2-2.1M154.7 1114.2l4.3 1.7M171.6 1121.4l1.7 .8M176.2 1123.6l18.5 10.4 17.2 11.9M220.7 1153.1l3.3 2.9M308.3 1139.2l-1.7-2.6M305.4 1134.7l-10.2-13.6M291.1 1116.4l-11.6-10.6M195.2 1093.2l-5 2.3M175.6 1105.3l-.6 .5M170.2 1110.4l-8 9.6-7.1 11.8M153.8 1134.4l-1.8 3.9M151.4 1139.6l-.2 .7M617.8 1125.7l-.7-2.2M615.8 1120l-2-5M447.7 1110.6l-7.7 13.7-7.1 15.5M432 1142.1l-2.1 5.2M623.6 1151l-2.3-12.4-3-11.7M519.4 1148.6l1-1M524.7 1143.3l12.3-10.7 13.3-9.6M569.7 1112.2l4.5-2.1M81.4 1097.5l4.9 .9M113.6 1104.7l4.5 1.3M133.9 1111.2l9.1 3.4M148.5 1116.8l4.1 1.7M157.9 1120.9l22.4 11.6 20.4 13.2M205.2 1149.1l3.4 2.6M216.7 1158.4l.4 .4M367.5 1110.1l.6 29M636.2 1142.2l7.4-28M633.1 1147.6l14.5-27.5M340.4 1135.1l2.4 13.4M343.9 1155.1l.5 3.3M413.5 1152.8l4.4-30.6M115.2 1114.7l17.1 37.8M393.4 1147.8l0-20M122.9 1121.6l7.1 27.8M251.4 1156.1l-7.3-4.2-7.6-3.5-7.8-2.5-8-1.5-8-.4-7.3 .5-7.8 1.6-7.5 2.7M185.5 1151l-5.4 3.3M174.1 1158.8l-3 2.7M592.8 1154.8l-8.3-6.9-9.2-5.5-9.9-3.7-9.9-2-10.1-.2-10.7 1.5-10.4 3.3-10.6 5.1M504.8 1152.4l-.5 .3M622.1 1117.6l-8.2-10.5M574.2 1083.4l-8.2-1.6M496.4 1100.8l-5.1 4.4M680.9 1133.4l11-15.4M694.5 1114.6l2-2.8M67.1 1111.1l1-1.3M318 1107.7l.5 .8M321.8 1114.7l7.3 16.1M496.4 1166.6l1-1.1M506.6 1156.5l8.8-7.3M520.9 1145.1l10.2-6.5 10.1-5.3M553.2 1128.3l.7-.2M648.4 1123.8l4.9 1M675.7 1130.7l4.6 1.3M686.1 1133.9l4.4 1.5M692.4 1136l4.4 1.5M67.4 1137.7l51.3 20.1M131.5 1163.2l3.9 1.7M433.9 1118.2l7.4-15.5 8-13.3M454.3 1082.5l7.2-8.3 7.4-7.1 7.5-6 8.5-5.6 9.5-5 9.4-3.9 10.2-3.4 11.2-2.7M538.9 1038.2l14.3-1.2 14.6-.2M582.2 1037.7l13.8 1.8M608.8 1042.2l15.8 4.9 13.7 6 12.8 7.4 12.7 9.3M675.9 1081.1l10.2 11.6 10.6 13.8M67.2 1107.2l9.4 13.6M360.9 1150.3l-.5-5M359.6 1137.2l-1.8-15.3M357.7 1120.8l-1.1-8.2M106.2 1093.2l-.4 5.8M105.6 1109.6l.3 17 1.2 17.4M289.9 1140.1l-10.5-14.8M274.1 1119.2l-10-9.5M158.4 1108.1l-4.5 4.1M150.3 1116l-8.4 10.9-7.1 12.7M134.1 1141.2l-1.4 3.1M131.4 1147.5l-.3 .7M602.8 1165l-3.9-2.4M593.8 1159.9l-4.1-1.7M569.1 1154.7l-9.5 .9M359.9 1138.6l-2-17.4M356.8 1112.9l-1.2-8.3M105.8 1096.6l-.1 1.9M105.5 1109.1l.5 19.8 1.8 21.8M281.7 1139.3l-8.2-10.4-8.6-8.9-9.8-7.8-10-6.1M230.8 1100.3l-1.8-.6M223.6 1098.5l-2.7-.5M173.9 1104.7l-9.7 5.8-8.6 7-8 8.6-7.2 10.4M611.2 1157.6l-3.7-3.4M605.4 1152.4l-9.9-6.6-10.8-4.8-11.4-2.5-11.9-.4-11.8 2-11.4 4.1-10.8 5.9-10.6 8.1M641.4 1134.7l-3-10.5-3.7-10.4-4.3-9.4-4.7-8.2M620.6 1089.2l-6-6.7-6.1-5.6-7-5-6.8-3.9-8.6-3.9-8.2-2.8-18-3.4-19.1-.4-9.5 1-10.5 2-8.6 2.6-9.2 3.6-7.4 3.9-7.7 4.9M462.6 1118.7l-10 19.7M449.4 1146.3l-2.4 6.1M664 1134.7l5.8-32M385.7 1107.3l.2 26.1M386 1138.5l0 8.2M675.8 1143.3l3.2-4.3M680 1137.8l16.7-20.5M67.3 1116.7l15.3-16.4M84.6 1098.4l4.7-4.3M307.3 1109.5l11.2 19.3M427.5 1141.5l7.6-20.2 8.3-17.1M68 1110l23 34.3M645 1157.9l3.9-1.7M654.1 1154.1l4-1.6M663.3 1150.4l33.5-12.7M67.4 1137.4l6.3-2.1M76.9 1134.2l9.7-3M92.6 1129.5l14.9-3.9M108.9 1125.3l4.9-1.1M120.1 1123l10.8-1.7M143.5 1120l5.2-.3M155.5 1119.5l11.4 .2M173.8 1120.2l5.3 .6M185.9 1121.9l19.4 4.7 17.7 7 17.2 9.7 15.6 11.9M498.1 1156.9l9.7-9 9.8-7.6 10.4-6.8 10.4-5.5M654.8 1122.1l26.4 8.5M685 1132.1l4.5 1.7M687.5 1132.5l9.4 4M67.5 1136.7l16.3 7.3M86.7 1145.4l4.1 1.9M109.5 1156.4l3.9 1.9M420 1158l.5-1.9M422.2 1149.6l9-27.1M80.5 1126.4l13.5 22M360.5 1137.7l-2.8-24.6M356.5 1104.7l-.3-2M105.2 1098.8l.1 21 1.5 23.1M274.6 1133.5l-3.5-3.9M254.8 1114.9l-5.2-3.4M242.6 1107.6l-5.8-2.6M193.3 1100.5l-6.1 1.4M161.8 1114.5l-4.5 3.7M634 1141l-1.6-4M629.9 1131.4l-3.2-6.3M625.9 1123.6l-7.9-11.8M484.5 1111.6l-3.6 4.3M475.7 1122.6l-11.1 18.2M460.9 1148.2l-1.6 3.3M679.3 1137.4l17.4-22.6M67.2 1114.1l1.6-1.9M308.2 1102.1l10.3 17 9.2 20.2M294.9 1124.5l-6.4-9.4-6.7-8.1-7.5-7.6-7.7-6.3M265.8 1092.5l-11.4-6.9-11.7-4.9-12.7-3.4-12.2-1.5M208.9 1075.7l-10 .9-10.6 2.1-10 3.4-9.1 4.4M161.8 1091.3l-7.3 6-6.4 6.7-6.1 8-5.6 9.2M295.4 1103.1h0M630.9 1159.3h0M173 1141.1h0M540.8 1156.8h0M304.6 1105.1h0M619.8 1131.4h0M623.6 1148.8h0M263.1 1117.8h0M564.7 1114.7h0M631.6 1150.5h0M338.8 1127.5h0M393.4 1155.4h0M331.6 1137.2h0M181.2 1101.5h0M136.7 1143h0M615.6 1162.4h0M76.8 1120.7h0M491.2 1104.9h0M73.9 1106.3h0M134.4 1125.1h0"/><path stroke="#7100ff" d="M381.9 1125.6l-3.7-40.1M123.4 1096.3l1.5 17.3 2.7 18.9M670.7 1097l10.6-.7M74.6 1096l10.6 .4M91.5 1096.9l4.9 .4M102.7 1098l4.9 .6M119.3 1100.4l4.8 .9M130.2 1102.5l4.7 1.1M610.6 1131.4l-.3-.7M607.3 1124.9l-7.7-11.7-9.1-9.8-10.5-8-12.1-6.2M560.9 1086.7l-12.5-2.6M540.6 1083.4l-13.2 .4M519.7 1085.1l-9.3 2.4-9.5 3.6M489.2 1097.5l-7.2 5.3-7.2 6.4-7.1 7.5-6.3 8M521 1123.7l.5-.4M526.5 1119l17-11.9 19.1-9.7 20.1-6.9 22.1-4.6M612.1 1085.1l12.2-.9M644.5 1084.4l25.8 2.8 26.4 5.8M67.4 1093.2l16.4 5.1 16.7 6.2 17.1 7.4 17.2 8.5M138.1 1122.2l3.9 2.1M298.2 1106.1l-2.3-2.5M294.8 1102.5l-7.4-6.8-8.2-6.1-9.1-5.2-9.1-3.9-9.7-3-10.2-1.9-10.4-.8-9.5 .3-9.3 1.2-9.7 2.4-9 3.4-8.3 4.4-7.5 5-7.1 6.3-6.6 7.6-5.6 8.1M641.5 1122.6l8.6-38.1M652.8 1070l1-5.7M365.3 1057.3l.2 4.6M366.4 1084.7l1 28M239.7 1126.5l-5-1.5M404.2 1111.2l5.2-44.1 3.3-18.2 3.6-14.6M90.8 1025.4l1.1 2.6M93.9 1033.1l.7 1.7M96.6 1040.6l.3 .9M100.9 1053.9l.2 .8M103.3 1062l10.5 36.8M117.6 1111.4l1.3 4.3M466.2 1128.6l6.5-11.3 6.9-10.2 7.2-9.2 8.3-8.8M501.6 1083.2l1.4-1.2M71.3 1082.8l.7 .4M78.4 1087.7l3.7 2.8M84.5 1092.3l15.1 12.6 16.5 15.3M124 1128l.5 .4M655.1 1112.6l3.1-3.8M666.2 1099.4l15.3-16.2 15-13.2M67.2 1069.4l17.7-12 18-8.9M111.7 1045.2l15.8-4.6 16.3-3.2 17.7-1.9 17-.4M190.8 1035.7l12 1.2 13 2.2 10.8 2.6 11.2 3.5 10.1 4.2 9.2 4.8 8.2 5.1 8 6.2M279.8 1071.3l7.1 7.5 6.1 7.8 11.2 17.7M305 1105.8l2 3.8M308.1 1111.9l2.5 5.4M338.7 1113.8l-8.9-18.9M326.2 1088.8l-4.1-5.9M317.6 1077.1l-4.4-4.9M306.8 1066.2l-3.1-2.5M165.3 1067.7l-4.3 4.5M158.2 1075.6l-4.8 7-4.3 8-3.7 8.9-3.2 9.8M141.1 1113.8l-1.2 5.3M634.9 1131.5l21.8-19.7 18.6-15M268.5 1095.9l1.8 1.9M277.9 1106.5l1 1.3M281.9 1111.7l7.3 10.8 7.1 12.4M640.6 1122.5l3.6-2.6M648.9 1116.4l21.8-14.7 20.2-11.4M209.7 1075.9l6 2.3M235.4 1088l11.7 8.1 10.6 8.9 9.9 10.3 9.2 11.6M354.6 1126.4l-7-23.3M137.2 1105l-2.5 19.4M134.2 1134.4l-.1 5.4M607.6 1101.7l-2.5-4M596.5 1087.1l-9.6-8.4M580.3 1074.3l-12.8-6.2M467.1 1085.9l-4.5 4.2M611.1 1107.6l-6.3-10.8-7.1-8.8-7.9-7.5-9.4-6.6-10.1-5-11.3-3.9-12.3-2.5-13-.9M524.9 1061.8l-11.8 1.5-11.3 2.7-10.5 3.9-9.6 4.8-9.3 6.2-8.2 7-7.7 8.3-7.1 9.6M445.3 1112.1l-1.7 2.9M442 1117.9l-1.5 2.9M645 1118l1.6-1.1M651.5 1113.7l23.3-14 21.6-10.6M67.1 1088.8l13.8-5.5 13.1-4.3 13.2-3.4 13.9-2.6 13.6-1.5 14-.7 14.1 .5 13.1 1.3 12.8 2.4 12.4 3.3 11.6 4.2 11 5 10.9 6.2 10 7 9.1 7.7 8.9 8.8M263.6 1118.4l2.6 2.8M592.6 1105.9l-6.2-5.5-7-4.9-7.7-4.2-7.6-3.1-8-2.3-8.4-1.4-8.7-.7-8.7 .3-8.6 1.1-8.5 2-8 2.7-8.4 3.9-7.2 4.1-7.2 5.2-6.7 5.8-6.6 6.9M563.6 1123.1l4.1-2.3M573.1 1117.9l13.1-5.9 14.2-5.2 14.9-4.2 15.2-3.3 15.5-2.2 16.4-1.4 17.1-.5 17 .6M67.3 1095.8l22.3 2.2 22.6 3.8 21.7 5.4 20.2 6.7M159.6 1116.1l11.4 5M173.9 1122.5l1.8 .8M294.7 1120.5l-3.1-3.5M278.9 1105.3l-9.3-6.3-10.2-5.1-10.2-3.6-10.8-2.3-11-.9-10.9 .6-10.6 1.9-10 3.3M189.5 1095.9l-6.7 3.9-6.7 5M174.4 1106.3l-3.7 3.6M616.8 1122.8l-.7-2.1M613.5 1114.3l-4.8-9.7-6-9.2-6.3-7.4-7.4-6.8-8.7-6-9-4.6-10.1-3.7-10-2.3M542.9 1063.4l-14-.4-14.9 1.5-14.1 3.6-12.8 5.3M473.6 1081.8l-4.9 4M463.5 1090.6l-8 9-7.3 10.3M618 1126.2l-2.2-6.5M550.9 1122.7l13.2-7.7M565.3 1114.3l3.8-1.8M574.9 1109.8l13.2-5.2 13.8-4.2 14.2-3.2 15.3-2.3 16.1-1.4 16.2-.4 16.7 .7 16.4 1.5M67.5 1095.4l13.3 2M86.9 1098.5l26 6M118.7 1106.2l14.5 4.7M143.6 1114.8l4.3 1.7M153.2 1118.8l4.1 1.8M365.3 1053.7l2.1 55.5M643.8 1113.4l6.6-30M655.1 1056.5l.8-5.9M647.9 1119.5l12.6-23.6 9.6-16.5M678.4 1066.9l3.6-4.9M318.3 1067.7l8.8 19.2M328 1089.5l5.8 17.7 4.8 19.5M339 1128.4l1.2 5.9M418 1121.3l4.4-21.6 5.2-19.2M430.2 1072.7l1.2-3.5M98.4 1078l5.2 10.9M105.3 1092.4l9.6 21.6M393.4 1126.9l.3-42M393.7 1054.6l-.2-6.4M112.9 1065.2l.7 5.8M114.6 1078.3l.9 5.6M115.9 1086.3l6.8 34.6M692.4 1117.3l1.5-2.1M68.7 1109.1l12.8-15.2 13-12.9 12.9-10.3 14.4-9M130.6 1057.3l14.7-5.7 16.7-4.5M174.1 1045l19.3-1.6 19.7 .5M249.6 1050.8l10.5 3.9M266.2 1057.4l3.5 1.8M278.3 1064.2l11.3 8.4 10.4 9.9 9.2 11.4 8.8 13.8M318.5 1108.5l2.8 5.3M516 1148.7l4.2-3.1M541.9 1133l10.6-4.4M554.6 1127.8l10.3-3.1 11.2-2.6 11.4-1.7 11.4-.9 23.4 .5 25.4 3.7M654 1125l21 5.5M680.9 1132.2l4.5 1.5M691.2 1135.6l.6 .2M449.3 1089.4l5-6.9M525.2 1040.5l13.7-2.3M567.8 1036.8l14.4 .9M596 1039.5l12.8 2.7M663.8 1069.8l11.4 10.6M357.8 1121.9l-.1-1.1M356.6 1112.6l-5-28.3-6.4-22M341.7 1054l-4.3-8.2M314.2 1022.8l-13.8-6.7M281.4 1010.6l-5.7-1.1M140.1 1022.6l-8.6 6.1-6.4 6.6-5.6 7.6-4.9 9.8M109.6 1068.5l-2 10.9-1.4 12.8M105.8 1100l-.2 8.6M278.8 1124.6l-4.1-4.8M263.3 1109.2l-12.3-8.4-13-6-14.1-3.8-13.6-1.3-13.7 1-13.9 3.5-12.6 5.7-11 7.6M153.3 1112.8l-2.4 2.5M357.9 1121.2l-1.1-8.3M355.6 1104.6l-4.4-23.1-5.5-18.8M342.3 1054.3l-4.3-8.2M332.4 1038.1l-7.3-7.8M315.3 1023l-8-4.3-9.7-3.9-20.3-5.3M172.8 1010.2l-18.9 5.4-13.6 6.5M130.6 1029.2l-7.1 7.4-5.1 7.8M114.5 1052.2l-3.1 8.9-2.7 10.9-2.8 23.6M105.7 1099.5l-.2 8.7M244.3 1105.7l-12.7-5.2M228.1 1099.5l-3.6-.8M220 1097.8l-10.2-.9-9.2 .3-9.1 1.4-9.5 2.6M180.3 1101.9l-5.6 2.4M625.1 1095.4l-3.9-5.5M487.9 1075.5l-8.5 6.9M494.4 1082.9l-9 7.1-7.9 7.9-7.5 9.3-7 10.6M670 1101.7l4.6-34.1 2.2-28.6M677 1031.7l-.6-14.8-2-10.7M659.2 989.2l-2.6-1M405.6 988.8l-4.5 2.1-4.6 3.2-5.1 6.5-2.3 5.5-1.5 5.5-2 15.4M385.2 1036.9l-.2 7.7M385 1053.3l.7 54M83.3 1099.7l.6-.6M90 1093.5l16.7-13.2 17.2-10.2 19.4-8.2 19.8-5.2M169.7 1055.5l22.4-2M203.5 1053.7l15.5 1.4 16.1 3.2 14.9 4.7 13.3 6.1 12.7 7.7 10.9 8.8 10.1 10.4 9.8 12.7M443.4 1104.2l9.4-14.9 10.2-12.4 11.8-10.7 12.2-8.4 14.5-7.1 15.5-5.3 17.3-3.8 18.8-2M567.1 1039.4l13.8 .7M606.7 1044.3l11.6 3.2M628.8 1051.3l18.1 9.1M654.6 1065.4l11.2 8.7 10.3 9.6 10.3 11.4 10.6 13.5M74.4 1135.1l1.9-.6M87.3 1131l4.6-1.4M114.5 1124.1l4.9-1M131.7 1121.2l11.1-1.2M149.5 1119.6l5.3-.1M167.7 1119.8l5.3 .4M179.8 1120.9l5.3 .8M539.2 1127.7l12.4-5 13.6-4 13.3-2.6 14.2-1.3 15-.1 14.7 1.1 15.8 2.5 15.9 3.7M681.8 1130.9l2.6 .9M431.6 1121.6l7.4-16.5 8.8-15.2M448.4 1089l5-6.9M676.4 1080.8l4.6 5.1M684.2 1089.5l12.4 16.1M67.1 1106.3l9.3 13.7M77.3 1121.5l2.7 4.2M357.7 1113.1l-1.2-8.4M356.2 1102.7l-4.2-22.1-5-17.9-6.3-14.5-8-12.2-9.9-9.6-11.3-7.2-13.5-5.6-17.9-4.7M172.6 1009.2l-10.5 2.5-10.9 3.7-8.7 4-7.1 4.3-6.7 5.5-6 6.6-5.2 7.7-3.7 7.9M112.3 1055.4l-2.7 8.9-2 10-2.3 23.5M617.5 1111.1l-6-6.8-6.1-5.5-6.7-5-7.5-4.4-8.2-3.5-7.7-2.5-9.2-1.9-8.4-.8-8.5-.1-9.6 .9-8.3 1.6-9 2.7-7.6 3.1-8 4.3-7.3 4.9-7.5 6.1M490.5 1105.5l-5.3 5.4M480.3 1116.7l-4 5.2M69.4 1111.5l3.9-4.6M74.5 1105.6l13.2-13.8 13.2-11.4 13.7-9.6 14-7.5 14.9-6 16.8-4.7 17.1-2.8 18-1.1 18.2 .7 17.6 2.6 16.3 4.4 14.5 5.8 13.7 7.7 11.7 8.8 10.7 10.5 10.1 12.9M266.6 1093.1l-.8-.6M217.8 1075.8l-8.9-.1M168.4 1087l-5.8 3.8M274.8 1102.7h0M272.7 1009h0M269.6 1008.5h0M266.4 1008h0M263.1 1007.6h0M259.7 1007.2h0M226.5 1005.5h0M222.6 1005.5h0M218.8 1005.6h0M215 1005.7h0M211.3 1005.9h0M207.6 1006.1h0M203.9 1006.3h0M200.3 1006.6h0M274.3 1009h0M271.3 1008.5h0M268.1 1008h0M264.8 1007.6h0M261.5 1007.2h0M258 1006.8h0M254.5 1006.5h0M250.9 1006.2h0M247.2 1005.9h0M243.4 1005.7h0M239.6 1005.5h0M235.8 1005.4h0M232 1005.3h0M228.1 1005.3h0M224.2 1005.3h0M220.4 1005.3h0M216.5 1005.4h0M212.7 1005.6h0M209 1005.8h0M205.3 1006h0M201.6 1006.2h0M653.3 987.1h0M649.3 986.1h0M644.3 985.1h0M637.8 984.2h0M629.4 983.2h0M618.1 982.4h0M602.6 981.6h0M581.5 981h0M554.4 980.6h0M523.4 980.5h0M494 980.8h0M470.1 981.3h0M452.2 982h0M439.1 982.8h0M429.5 983.7h0M422.2 984.7h0M416.6 985.7h0M412.1 986.7h0M408.5 987.7h0M67.5 1109.3h0M108.2 1125.4h0M277.1 1008.4h0M274 1007.8h0M270.8 1007.3h0M267.5 1006.9h0M264.1 1006.4h0M260.6 1006h0M257 1005.7h0M253.3 1005.4h0M249.5 1005.1h0M245.7 1004.9h0M241.8 1004.7h0M237.8 1004.5h0M233.9 1004.4h0M229.9 1004.4h0M225.9 1004.3h0M221.9 1004.4h0M217.9 1004.5h0M213.9 1004.6h0M210 1004.8h0M206.2 1005h0M202.4 1005.2h0M626.3 1124.3h0"/><path stroke="#ff00ff" d="M378.1 1084.6l-3.2-19.9-4-15.4-5.1-12.5-6.7-10.5-8.5-8.5-9.9-6.3-12.3-5.2-17.2-4.5M184.5 1001.5l-17.3 4.3-13.7 5.8-6.2 3.8-5 4-7.7 9-5.9 11.7-3.9 15.1-1.8 18.3 .3 22M567.2 1088.9l-5.5-1.9M547.5 1084l-6-.6M526.6 1084l-6.1 .9M500.1 1091.5l-10.2 5.6M605.6 1085.8l5.7-.7M625.1 1084.2l18.6 .1M650.3 1083.7l2.4-12.9M653.9 1063.4l4.6-35.6 .5-13.1-.5-9.7-1.6-7.2-2.8-5.3-5.1-4.5-5.8-2.6M383.7 984.7l-7.1 2.6-4.9 3.6-3.3 4.6-2 5.5-1.4 8.3-.6 10.1 .8 37M365.5 1062.8l.9 21M416.5 1033.4l6.3-16.4 3.7-6.3 4.2-5.4 4.8-4.4 5.1-3.5 7.1-3.4 7.3-2.5M683.3 991.4l12.8 5M67.6 997.2l6.3 4.3 6.2 6 5.5 7.7 4.8 9.4M92.3 1028.8l1.3 3.4M94.9 1035.6l1.5 4.2M97.2 1042.3l3.4 10.8M101.4 1055.5l1.7 5.7M495.7 1088.5l5.2-4.8M503.7 1081.4l8.9-6.5 9.8-5.9 10.9-5.3 10.9-4.1 12.8-3.6 12.5-2.4 13-1.6 13.1-.6 13.2 .3 14 1.3 13.3 2.2 12.6 3.1 12.6 4 11.5 4.6 12.1 6 11.7 6.8M67.3 1080.1l3.4 2.2M72.7 1083.7l5.1 3.6M82.7 1090.9l1.2 .9M102.9 1048.5l8.8-3.3M178.5 1035.1l12.3 .6M274.1 1066.1l5 4.6M329.4 1094.2l-2.7-4.6M321.6 1082.1l-3.4-4.3M312.5 1071.5l-4.9-4.6M303.7 1063.7l-7.8-5.3-7.7-4.3-16.9-6.3-19.5-3.9-19.5-.8-20.3 2-18 4.9-14.9 7.1-6.7 4.4-6.5 5.5M160.4 1072.9l-1.7 2M675.8 1096.3l21-14.1M67.5 1081.8l12.4-6.7 12.9-5.9 13.2-4.8 13.5-3.7 14.4-2.8 14.2-1.7 14.6-.6 13.6 .5 13.4 1.4 13 2.4 12.3 3.4 12.5 4.6 11.3 5.5 10.3 6.3 10 7.5 8.8 8.1M270.9 1098.4l3.3 3.7M275.3 1103.4l2.1 2.5M279.4 1108.5l2 2.6M691.6 1089.9l4.7-2.3M67 1087.2l17.6-7.5 17.9-5.8 18.5-4.2 18-2.2 18.5-.6 17.7 1.2 17.3 2.9 16.3 4.6M216.5 1078.5l18.1 9.1M347.3 1102.3l-7.6-18.1-8.5-14.3-10.1-12-6.3-5.6-6.4-4.6-14.2-7.5-17.6-5.8-19-3.4-20.7-1-20.3 1.4-18.3 3.7-16.4 6-7.3 3.9-6.4 4.3-10.9 10.1-8.7 12.4-6.8 15.3-4.5 17.1M533.7 1061.6l-8.8 .2M551.2 1064.6l-8.3-1.2M486.2 1073.9l-11.9 7.4M468 1086.4l-3.9 3.6M369.4 994.7l-2.9 7.3-1.5 11.1-.4 15.7 .6 24M650.5 1082.6l4.5-25.3M656.1 1049.8l2.9-29.3 .1-10.5-.9-8-1.9-6.3-2.9-4.4-4.4-3.6-6.1-2.7M381.8 985l-6.4 2.7-4.5 3.6-3 4.5-2.1 6.4M670.5 1078.7l7.4-11.1M682.5 1061.3l7-8.5 7.4-7.7M67.7 1044.5l12.8-10.2 13.2-7.7 15.7-6.5 16.2-4.4 19.6-3.5 23-2.1 24.8-.4 21.6 1.1 19.6 2.5 16.9 3.5 15.6 5 12.5 5.8 11.1 7 10.5 9 9.3 11 7.8 12.3M327.4 1087.8l.3 .8M427.8 1079.6l2.1-6.1M431.8 1068.3l6.6-14.6 7.2-11.9 8.3-10 9.1-7.9 11-6.8 12.9-5.6 14.7-4.3 18.8-3.6M627.9 1003.5l21 4 19.3 6.1 15 7.6 7.3 5 6.2 5.2M67.5 1032.2l7.7 8.3 8 10.6 7.4 12 7.5 14.1M104 1089.6l1 2.1M393.7 1084l0-28.5M393.5 1047.2l-.9-13.8-1.4-11.1-2-8.3-3-7.3-3.7-5.4-4.9-4.5-6-3.5-9.4-3.4M137.9 990.3l-8.6 3.4-6.6 4.3-5.3 6.2-3.3 7-2.3 9.6-.8 11.4 .3 14.6 1.5 17.6M113.7 1071.8l.8 5.7M115.6 1084.7l.2 .8M121.8 1061.7l8.8-4.4M162 1047.1l12.1-2.1M213.1 1043.9l19 2.5 17.5 4.4M260.1 1054.7l6.1 2.7M269.7 1059.2l8.6 5M345.2 1062.3l-3.5-8.3M337.4 1045.8l-4.9-7-5.2-5.9-6.4-5.6-6.7-4.5M300.4 1016.1l-19-5.5M180.6 1009l-11.2 2.3-11.8 3.3-9.7 3.8-7.8 4.2M114.6 1052.7l-5 15.8M345.7 1062.7l-3.4-8.4M338 1046.1l-5.6-8M325.1 1030.3l-9.8-7.3M178.5 1009.1l-5.7 1.1M140.3 1022.1l-9.7 7.1M118.4 1044.4l-3.9 7.8M501.8 1078.3l-7.4 4.6M676.8 1039l.2-7.3M674.4 1006.2l-2.6-6.4-3.2-4.2-3.6-3.2-5.8-3.2M385.6 1027l-.4 9.9M385 1044.6l0 8.7M163.1 1056.7l6.6-1.2M192.1 1053.5l11.4 .2M553.1 1039.6l14-.2M580.9 1040.1l13.3 1.7 12.5 2.5M618.3 1047.5l10.5 3.8M646.9 1060.4l7.7 5M447.8 1089.9l.6-.9M453.4 1082.1l9.4-10.8 10.6-9.3 11.5-7.8 12.4-6.2 14.3-5.2 16.2-3.9 17.7-2.3 16.6-.8 16.6 .7 17.5 2.2 16 3.5 14.3 4.7 13.6 6.2 12.6 7.5 12.4 9.5 11.3 10.7M681.7 1086.6l1.9 2.2M175.5 1008.6l-2.9 .6M113.8 1051.4l-1.5 4M308.2 1001.3h0M305.1 1000.8h0M301.8 1000.2h0M298.4 999.8h0M294.9 999.3h0M291.2 998.9h0M287.4 998.5h0M283.4 998.1h0M279.3 997.8h0M275.1 997.5h0M270.8 997.3h0M266.3 997.1h0M261.8 996.9h0M257.3 996.8h0M252.7 996.7h0M248 996.7h0M243.4 996.7h0M238.8 996.8h0M234.2 996.9h0M229.7 997h0M225.2 997.2h0M220.9 997.4h0M216.6 997.7h0M212.5 998h0M208.5 998.3h0M204.7 998.7h0M200.9 999.1h0M197.4 999.5h0M193.9 1000h0M190.7 1000.5h0M187.5 1001h0M640.2 984.5h0M636.5 983.6h0M631.6 982.8h0M625 982h0M615.7 981.2h0M602.1 980.4h0M581.5 979.7h0M550.2 979.3h0M509.1 979.1h0M469 979.3h0M439.4 979.8h0M420 980.5h0M407.1 981.3h0M398.3 982.1h0M392 982.9h0M387.3 983.8h0M458 990.7h0M461.3 989.9h0M465.1 989.1h0M469.4 988.4h0M474.2 987.6h0M479.8 986.9h0M486.1 986.2h0M493.4 985.6h0M501.9 985h0M511.5 984.5h0M522.5 984h0M534.8 983.7h0M548.2 983.4h0M562.3 983.3h0M576.7 983.3h0M590.9 983.4h0M604.2 983.7h0M616.4 984h0M627.2 984.5h0M636.8 985h0M645.1 985.6h0M652.4 986.2h0M658.7 986.9h0M664.2 987.6h0M669 988.3h0M673.2 989.1h0M677 989.9h0M680.3 990.7h0M639.7 984.2h0M635.7 983.3h0M630.4 982.5h0M623.1 981.6h0M612.6 980.8h0M597 980.1h0M572.7 979.5h0M536.5 979.1h0M492.9 979.1h0M455.4 979.4h0M429.8 980h0M413.3 980.8h0M402.3 981.5h0M394.7 982.4h0M389.2 983.2h0M385 984.1h0M523.5 1003.2h0M526.6 1002.8h0M529.9 1002.4h0M533.2 1002.1h0M536.6 1001.7h0M540.1 1001.4h0M543.7 1001.2h0M547.4 1000.9h0M551.1 1000.7h0M554.8 1000.5h0M558.7 1000.4h0M562.5 1000.3h0M566.4 1000.2h0M570.3 1000.1h0M574.3 1000.1h0M578.2 1000.1h0M582.1 1000.2h0M586 1000.2h0M589.8 1000.4h0M593.6 1000.5h0M597.4 1000.7h0M601.1 1000.9h0M604.7 1001.1h0M608.3 1001.4h0M611.8 1001.7h0M615.2 1002h0M618.5 1002.3h0M621.7 1002.7h0M624.8 1003.1h0M359 989.1h0M355.4 988.3h0M351.2 987.5h0M346.2 986.7h0M340.5 986h0M333.7 985.3h0M325.7 984.6h0M316.2 984h0M305.1 983.5h0M292.3 983.1h0M277.8 982.8h0M262.1 982.6h0M245.8 982.6h0M229.7 982.7h0M214.7 983h0M201.3 983.3h0M189.5 983.8h0M179.5 984.4h0M171 985h0M163.8 985.7h0M157.7 986.4h0M152.5 987.2h0M148 987.9h0M144.2 988.7h0M140.8 989.5h0M256.3 1006.9h0M252.7 1006.6h0M249.1 1006.3h0M245.5 1006.1h0M241.7 1005.9h0M237.9 1005.7h0M234.1 1005.6h0M230.3 1005.5h0M196.8 1006.9h0M193.4 1007.3h0M190 1007.6h0M186.8 1008.1h0M183.6 1008.5h0M198.1 1006.5h0M194.6 1006.9h0M191.2 1007.3h0M187.9 1007.7h0M184.7 1008.1h0M181.5 1008.6h0M198.7 1005.5h0M195.1 1005.9h0M191.6 1006.2h0M188.2 1006.6h0M184.8 1007.1h0M181.6 1007.6h0M178.5 1008.1h0"/><path stroke="#000" d="M180.1 1278.3l1.4 2.3M397.2 1274.5l-.4-1.9M293.9 1251.9l.2 .7M457.7 1290.5l.3-1.2M238.9 1267.3l-1.1-.9M444.7 1286.7l.2-1.3M275.5 1258.4l1.3 2.6M148.6 1280.6l.4 1.8M366.4 1265.6l-.4-1.1M363 1261.2l-.4 3.4M636.3 1290.4l-.1-.6M296.5 1252.4l-.9-1.3M631 1290.8l0-2.6M430.4 1280l-1.1 1.6M405.7 1275.8l-.1-.7M429.6 1281.4l.1-1.3M513.6 1290.9l.9-1.3M380.3 1269.7l-.6-1.7M323.8 1252.4l.3 1.3M625.6 1290.9l-1.6-1.2M562.9 1290.1l-1 .6M164.2 1280.4l.2 .5M390 1271.4l-.4 1.1M130.4 1289.8l-.5 .8M608.3 1290.5l.3-1.1M321 1250.1l.6 2.7M239.2 1266.9l-.4-.3M128.1 1290l-.2 .5M289.2 1251.1l1.2 3M636.3 1290.5l-.4-1M497.3 1290.4l-.3 .3M608.6 1290.6l.4-1.1M350.5 1256.5l-.1 3.5M535.5 1290.8l1.5-2.1M411.3 1276.8l-.1-.7M401.8 1275l-.4-2.6M189.6 1279.3l.9 1.3M128.8 1287.7l-.5 3M111.6 1289.9l0 .8M639.4 1290.5l.4-2.2M417.6 1274.5l-1.2 3.4M150 1242l-6.4 2.9-6.1 3.8-5.9 4.8-5.5 5.5-10.2 14-9.1 17.7M606 1290.5l10.9-18.3 10-19.5 9-20.7 8.3-22.6 7.6-24.5 6.6-25.7 5.9-27.6 5-28.5 3.4-26.2 2.2-24.2 .5-19.6-1.1-14.8-2.7-10.6-4-7.5-2.8-3.1-4.1-3.2-8.7-4.1M411.7 990l-4.9 2.1-5.2 3.1-3.6 3.3-3.3 4.3-4.1 9.8-2.6 14.3-1.6 31.8 .3 87.9-.7 46.1-1.9 40.9-3.3 36M438.4 1284.3l.4-1.4M405.6 1275.4l0-2.5M650.6 1290.8l-1.8-1.5M587.2 1289.6l-2 1.3M146.8 1290.4l.3 .5M657.1 1290.9l-.2-.7M506.2 1289.6l-.7 1M335.6 1255.4l-1.3-3.6M651.5 1290.9l-.1-2.3M450.2 1288.9l-.3 .5M286.9 1256l-1-1.8M651.3 1290.8l-.7-.6M584.4 1289.6l-1.6 1.2M374.5 1268l-.5-3.1M145.6 1287.7l1.4 2.9M501.2 1289.2l-1 1.4M331.7 1254.7l-.5-1.4M650.7 1290.8l0-1.5M442.4 1284.2l-.9 1.8M110.1 1286.6l-.5 3.6M224.5 1274l-1.9-2.1M148 1288.8l-2-.4M351.1 1258.4l.2 1.7M440.1 1284.9l.4-1.5M273.4 1261.6l.7 1M315.5 1251.1l.6 1.4M262.9 1262l1.2 1.4M405.3 1275.4l0-3.3M374.9 1268.2l-.5-3.1M330.5 1255l-.3-.8M286.7 1256l-.4-.6M111.2 1288.9l-.1 1.5M639.3 1290.4l.3-1.4M417.5 1274.4l-1.2 3.3M234 1269.6l-1.9-2.2M107.9 1287.7l-1.1 3M615.8 1290.5l10.5-22.2 9.2-23.8 7.8-25.3 6.5-26.8 5.3-29.1 3.3-28.3 1.4-26.2-.6-23.3-2.1-16.9-3.8-15-5-11.9-6.6-9.8-8.7-8.4-9.6-6.2-13.4-5.7-15.4-4.1M477.2 1007.7l-13.1 3.5-10.5 4-8.3 4.4-7.9 5.6-7.1 6.8-6 8.1-5 9.2-4.2 10.5-5.6 21.2-4.2 26.3-3.1 27.9-7.9 87.8-6.6 48.9M353.3 1260.5l0 .9M657.2 1290.5l-.7-1.8M519.2 1288.2l-1.8 2.4M125.1 1287.5l.6 2.8M508.9 1290.9h0M330.2 1254.3h0M487.8 1290.9h0M221.9 1274.9h0M223.2 1274.7h0M129.6 1290.9h0M210 1277.5h0M635.1 1290.8h0M448.8 1288.7h0M134.8 1290.5h0M648.8 988.8h0M644.9 987.8h0M640.3 986.8h0M634.7 985.8h0M627.7 984.9h0M618.8 984.1h0M607.6 983.3h0M593.4 982.6h0M575.5 982h0M554.1 981.7h0M530.5 981.6h0M507 981.7h0M486.1 982.1h0M468.7 982.7h0M454.9 983.4h0M444 984.2h0M435.5 985.1h0M428.6 986h0M423.1 987h0M418.6 987.9h0M414.9 989h0M410.7 1276.4h0M538 1290.9h0M199.4 1280.4h0M195.9 1280.8h0M591.7 1006.9h0M588.5 1006.3h0M585.3 1005.7h0M581.9 1005.2h0M578.4 1004.8h0M574.8 1004.3h0M571.1 1003.9h0M567.2 1003.5h0M563.3 1003.2h0M559.2 1003h0M555.1 1002.7h0M550.9 1002.5h0M546.7 1002.4h0M542.4 1002.3h0M538 1002.3h0M533.7 1002.3h0M529.4 1002.3h0M525.1 1002.4h0M520.8 1002.6h0M516.6 1002.8h0M512.5 1003h0M508.5 1003.3h0M504.5 1003.7h0M500.7 1004.1h0M497 1004.5h0M493.4 1004.9h0M489.9 1005.4h0M486.5 1006h0M483.3 1006.5h0M480.2 1007.1h0M472.2 1290.9h0M343.2 1257.5h0"/></g><g fill="none" stroke-width="2.5" stroke-linecap="round" stroke-linejoin="round" shape-rendering="crispEdges"><path stroke="#ff0000" d="M473 1290.7l14.8-24.1 16.4-21.4 18.8-19.6 20.4-17M547.8 1205.4l2.4-1.7M551.7 1202.7l3.5-2.4M559.7 1197.4l3.5-2.2M289.8 1200.6l12.7 23.5 10.9 26"/><path stroke="#ff8e00" d="M543.9 1208.2l3.4-2.4M550.7 1203.3l.5-.3M555.7 1200l3.5-2.3M563.7 1194.9l11.8-6.9M580.2 1185.5l20.8-10.3M272.2 1176l8.8 11.4 8.4 12.6M267.7 1170.9h0"/><path stroke="#e3ff00" d="M576 1187.7l3.7-2M601.5 1174.9l22.4-9.8 25.9-10.4M655 1152.8l18.2-6.7M678.5 1144.2l4.3-1.5M231.2 1141.3l9.5 6M243.8 1149.4l12.2 9.9 11.2 11.1M268.2 1171.5l3.5 4"/><path stroke="#55ff00" d="M650.4 1154.5l4-1.5M673.8 1145.9l4.1-1.5M683.4 1142.5l13.5-4.5M67.5 1137.8l34.5-9.5 15.2-3.1 15-2.1M138.7 1122.5l12.5-.6 12.7 .2 12 1.1 11.8 1.9 11.8 2.9 10.7 3.5 10.4 4.3 10 5.2M241.4 1147.7l1.8 1.3"/><path stroke="#00ff39" d="M132.9 1123l5.1-.4"/><path stroke="#000" d="M313.7 1250.9l.5 1.4"/></g>
<rect x="67" y="977" width="630" height="315" fill="none" stroke="#000" stroke-width="4.4" shape-rendering="crispEdges"/>
<g font-family="Liberation Serif,serif" font-weight="bold" font-size="118" aria-hidden="true" transform="translate(0,776) scale(1,1.035) translate(0,-776)"><text x="272.8" y="780.6" fill="#c9c9c9">IGN</text><text x="267.3" y="775.1" fill="#fbfbfb">IGN</text><text x="268.2" y="776" fill="url(#wmw)">IGN</text></g>
<g fill="none" stroke="#000" stroke-width="1.1"><circle cx="382" cy="685.5" r="70.8"/><circle cx="382" cy="685.5" r="141.7"/><circle cx="382" cy="685.5" r="8.5"/><path d="M169.5,685.5H594.5M381.5,473.0V898.0" shape-rendering="crispEdges" stroke-width="1"/></g>
<g fill="none" stroke-width="2.2" stroke-linecap="round" stroke-linejoin="round" shape-rendering="crispEdges"><path stroke="#ff0000" d="M548.8 588.1l1.1 .6M553.6 590.7l4.8 2.8M561 595.2l4.1 2.8M353 882.3l.9-1.1M237.2 838l.2-2.2M228.1 540.3l9.3 1.3 9.3 2.5M342.8 873.8l1.1 1.4M347.2 879.1l4.3 4.6M575.4 710.7l-1.4-7.8M572.7 696.6l-.3-1.4M518.5 552.5l-1.2-2.8M515.2 544.6l-1.7-3.9M512.6 538.5l-10.1-27.1M260.3 851l.5-3.5M516.4 547.7l3.3-.9M525.9 545.5l4.4-.6M260.4 512.3l-8.8 20.8M249.4 538.1l-1.8 3.9M186.1 695l-1 4.9M180.4 735.2l-.4 13.1M414.9 874.3l1.4-1.7M176.5 634.5l3-3.7M187 622.2l3.3-3.3M194.5 614.8l3.4-3M202.3 608.1l1-.8M417.6 873l.2 .4M503.5 540l8.3-7.9 9.2-6.2M261.7 512.6l-.7 15.6M215 788.6l.9 4.7M217.1 799.4l4.5 15.9 5.9 14.9M501 535.8l2.1-11.3 3.2-10.1M254.6 520.8l.5 .7M256.5 523.7l4.4 8M276.7 851.2l9.9 14.8M335.3 880.7l1.6-2.4M555.9 609.9l3.4 2.7M563.7 616.4l7 6.8M572.1 624.6l7.9 9M288.6 866.8l2.6-9M568.3 717l2.8 10.4M177.7 736.9l1.6-7.5M180.7 723.4l1.2-4.7M386.8 881.3l2.4-2.8M522.9 559l3.6 0M529.1 559l1.6 .1M532.3 559.2l12.9 2M251.7 518.6l-2.3 3.7M246.3 527.2l-10.8 17.3M232.3 549.7l-5.4 8.6M223.7 563.6l-2.5 4.2M183.4 639.7l-2 4.8M174.9 661.8l-1.7 5M171.2 673.2l-.6 2.2M189.7 767.4l1.1-9.9M197.8 789.2l.2-3.8M198.4 779.6l.4-4.5M199.9 764l.6-4.5M241.3 528.5l-22.1 32.4M215.7 566.3l-.8 1.2M206.5 580.8l-5.7 9.3M197.5 595.8l-2.5 4.4M191.7 606l-7.9 15.1M536 565.8l3.8 .8M540.9 566.9l9.3 2.6M360.8 877.7l2.1 2.5M582.8 681.1l-.3-1.5M581.3 675.4l-7.1-21.4M526.2 552.9l-2.1-4M521.3 543.8l-15.4-30M218.3 551.4l12.2-.8 12.2 .9M360.2 877l3.2 3.7M360.3 876.8l1.8 2.2M363.1 880.2l2.6 2.9M582.7 679.5l-8.3-25.6M571.9 647.1l-3.4-8.7M523.5 547.7l-16.5-31.9M220 551.4l11.6-.6 11.1 .9M247.1 552.4l1.9 .5M201.1 795.5l.9-14.6M349.7 882.3l1.6 1.6M575.2 712.6l-.5-3.6M517 549.6l-3.5-8.4M511.5 536.2l-3.1-8.1M506.6 523.3l-3.6-10.5M228.5 540.1l5.4 .7M236.3 541.2l7.1 1.7M251 545.6l2.1 .9M242 843.7l.6-7.9M261.2 513.1l-2 6.2M257.6 524.1l-2.8 8M252.9 537l-1.5 3.8M426.2 870.8l1.3-1.8M428.8 867.1l.6-1M511.4 545.2l11-4.2 11.9-2.3M362 879.8l4.1 4.4M582.7 682.2l-8.3-26.4M568 638.9l-1.9-4.6M526.7 554.5l-4.5-8.6M517.2 536.4l-11.2-22.2M220.3 550.7l2.2-.2M227.3 550.3l7.7 .1M239.5 550.8l3.5 .4M535.3 791.1l0 .6M535.5 794.1l0 .6M414.8 867.9l.2 .4M417.8 873.5l1.2 2M180.1 630.1l10.4-11.4M194.7 614.7l3.4-3M172 690l2.4-5.8M179.4 673.5l2.2-4.3M190.2 654.5l.4-.5M324.3 878.4l2.3-4.1M327.5 872.7l.2-.5M564.2 631.7l4.7 5.4M572.6 641.8l9.6 13.9M344 880.7l2.8-4M557.4 602.4l9.1 7M570.9 613.2l2.4 2.3M259.6 513.3l1.7 9.3M261.4 523.5l.5 4.7M262.1 531.1l.2 3.3M500.6 539.5l1-2M503.6 534.1l5-7.1 5.5-6.1M247.4 522.4l5.5 4.9 5 5.5M259.5 534.9l3.7 5.5M302.1 869l4.8 5.7M539.2 791.2l.5-2.7M502.4 536.5l-.1-4M502.2 528.1l.9-13.1M470 518.8l.1-3.9M470.4 510l2.3-14.6M269.1 509l12.1 7.7M282 517.3l6.1 5.4M307.9 863.4l4.1 9.7M578.3 704.2l-2.6-8.6M574.4 691.7l-2-5.3M171.2 665.4l8.2-17.9M183 640.8l6.5-10.6M432 867.2l0 .6M218.7 819.7l-2.1-17.3M214.8 776.8l0-.7M554.6 770.5l0 1.6M335.5 879.1l.9-6.7M538.3 586.4l3.7 2.7M552.1 597.7l14.3 15.1 12.7 17.2M284 499.2l-10.1 9M268.6 513l-32.8 30.9M230.4 549.2l-13.4 14M211.8 568.8l-8.4 9.6M396.8 881l1.7-4.4M501 534.8l15.7 .2 15.6 2.4M299.5 491.4l-.2 .6M296.1 499.3l-1.8 4.1M186.7 726.1l-.6 3.1M184.8 736.4l-1.7 12.1M473 523.9l2.4-2.9M484.7 512.1l8.9-6.2M289.9 497.1l.4 1.5M244.6 833.5l1.4 4.9M248.6 846.2l.8 2.1M287.1 496.9l-11.6 10.6M260.8 521l-23.1 22.3M232.4 548.6l-17.9 18.9M209.4 573.2l-.6 .7M196.2 588.8l-3.8 4.7M398.2 876.9l1.2-3.4M500.7 534.9l14.4 0 14.2 1.9M297.9 495.2l-3.9 9.7M191.6 725.5l-.8 4M189.5 736.6l-.9 5.6M187 756.7l-.3 4.8M476.5 517.7l7-7.2 7.5-6M288.3 497.4l2.1 5.8M291.7 507.6l.9 3.6M293.6 515.9l.1 1.1M259.8 843.3l3.6 10.3M470.8 516.8l-.6-4M469.6 507.7l-.6-11.6M257.4 514.5l12.5 3.9 11.2 5.5M320.7 869.9l1.8 4.2M323.3 875.8l1.4 2.9M580.6 680.9l-1.8-4.6M577.5 673.3l-.3-.8M574.9 667.2l-2-4.5M487.8 526.9l-23.8-36.3M214.2 556.4l10.3-4.6 10.9-3.7 11-2.7 10.8-1.5M380.3 878.7l1.5 4.4M530.2 536.7l-38.3-32.1M170.5 687.7l1.2-4.1M172.2 681.9l1.9-5.7M179.3 662.7l2.4-5.4M267.8 854.2l-.2-1.9M266.6 843.9l-.5-4.6M551.7 760.4l0 5.6M551.7 768.4l-.1 6.3M333.3 881.2l.9-6.1M558 605.5l11.5 13.6 10.3 15M275.9 862.8l-.6-6.8M559.8 746.9l.5 9.7M336.5 877l.5-3.8M559.7 604.2l12.2 14.1M573.4 620.3l4.8 6.8M278.7 504.3l-18.3 16.7M255 526l-24.9 24.3-21.3 22.9M203.8 579l-12.5 15.2M396.9 878.7l.4-1.1M495.3 535.8l9.6-.7 9.2 .1 10.1 1.2 9.6 1.9M299.3 490.9l-4.7 13.1M188.7 755.9l-.7 14.6M474.6 847.5l1.4-5.9M471.6 523.8l8.5-10.8 10.3-9.2M291.6 503.4l2.1 12M241.4 817.3l.8 4.4M244.9 833.9l3.3 10.6M470.1 513.8l.2-6.6M470.7 502.4l1-6.7M268.5 508.8l4.9 2.7M274.8 512.3l3.2 2.1M285.3 520.2l.4 .3M308.3 864l1.7 4.3M310.5 869.5l1.7 3.6M577.1 699.5l-.3-.8M478.3 517.4l-12.9-23.7M172.8 670.8l2.1-5.6M183.9 646l2.9-5.2M435.9 866.1l.1 2.3M216.1 816.5l-.6-4.5M214.1 799l-.5-5.4M212.7 780.4l-.1-4M299 492.7l-3.4 6.3M292.6 504.1l-5.1 8.7M189.9 681.1l-1.8 4.6M455 855.8l.3-1.3M477.7 522.4l8.7-6.5 9.8-5.4M524.7 803.3h0M365.9 883.5h0M526.3 552.8h0M346.2 878.5h0M254.4 547.1h0M529.7 796.1h0M249.4 545.8h0M519.8 541.4h0M240.5 828h0M244.9 837.8h0M483.9 842h0M432.3 870.7h0M502 824.1h0M501.6 827.6h0M399.9 872.1h0M467.3 848.4h0M286.8 527.5h0M194.9 633.2h0M439.4 863.5h0M292.4 509.2h0"/><path stroke="#ff8e00" d="M546.1 586.8l2.2 1.1M550.4 589l2.7 1.4M558.9 593.8l1.6 1M354.2 880.8l1.5-2M524.2 795.6l.5 7.1M238.2 822l.2-2.3M239 808.2l.2-2.3M247.1 544.3l4 1.5M341.4 872l1 1.4M572.3 694.5l-1.8-7.6M570.2 685.5l-1.3-4.8M523 562.9l-1.7-4.1M519.8 555.4l-1-2.3M517.1 549.1l-1.7-3.9M513.3 540.2l-.4-1.1M259.9 853.4l.3-1.9M261.9 838.8l.4-3.7M547.2 772.2l.5 5M504.6 552.3l11.4-4.5M520.2 546.6l5.2-1M251.3 533.7l-.7 1.6M247.3 542.6l-6.1 13M238.7 560.8l-1.4 2.9M234.2 570.2l-2 4.1M192.3 671.3l-.2 .7M187.4 689.4l-1.2 4.9M181.4 723.6l-1 10.8M413.2 876.5l1.4-1.7M416.6 872.1l.7-.9M183.4 626.1l3.2-3.4M198.4 611.4l3.4-2.9M203.8 606.9l2-1.5M214.5 599.4l3.7-2.2M416.1 870.4l1.2 2.1M498.8 545.9l.5-.7M500.4 543.7l2.8-3.4M260.9 528.7l-.7 5.6M260.1 535.3l-.8 5.2M461.1 856.4l1.2-2.1M463.5 852.2l.6-1.1M522.5 805.2l1.4-6.4M500.1 545l.8-8.7M253.8 519.8l.5 .7M255.3 521.9l.9 1.4M261.1 532.1l2.9 7.1M265.3 543.1l.6 2.2M276 850.1l.3 .5M337.2 877.9l1.5-2.5M340.8 871.7l.2-.4M554.4 608.7l1 .8M562.7 615.6l.5 .4M571.2 623.7l.4 .4M565.9 709.3l2.2 7M179.4 728.7l1.2-4.7M182.1 718l4.7-15M457 851.2l1.8 6.7M389.5 878l2.3-2.9M527 559l1.6 0M531.2 559.2l.6 0M249 522.9l-2.3 3.8M235.1 545.1l-2.5 4M226.6 558.9l-2.6 4.1M220.8 568.4l-2.5 4.2M215.1 578l-.7 1.2M209.4 587.8l-10.6 19.6M195.8 613.2l-9.7 20.4M176.9 656.2l-1.8 4.9M173 667.5l-1.6 5M190.9 756.8l.7-4.6M195.8 730.5l1.1-4.6M198 784.7l.1-.6M198.8 774.4l.5-4.5M200.6 758.8l.7-4.5M483.4 838.3l.3 2.1M214.5 568.1l-7.7 12.1M200.5 590.7l-2.6 4.4M183.5 621.8l-2.3 4.6M178.3 632.5l-1.5 3.4M375.3 884l1.4-1.6M380.6 877.6l.3-.5M532.2 565.2l3.3 .5M363.3 880.7l2.2 2.4M366.3 883.9l.3 .4M582.3 678.9l-.8-2.8M572 647.9l-1.8-4.7M551.3 601l-2.2-4.4M543.8 586.1l-2.2-4.2M538.7 576.4l-7.2-13.6M528.7 557.5l-2.2-4M523.8 548.4l-2.2-4M243.2 551.6l10.9 2.5M258.2 555.5l1.8 .7M356 871.3l3.9 5.2M359.6 876l.4 .4M362.4 879.4l.4 .4M574.2 653.2l-2-5.4M568.2 637.7l-4.8-11.2M546.1 590.3l-2.2-4.3M536 570.9l-2.2-4.1M532.2 563.8l-5.6-10.4M526 552.2l-2.2-4M243.2 551.7l.5 .1M249.5 553l2.3 .6M202 780.2l1.3-12.8M205.8 749.3l.9-4.5M340.8 871.9l5 6.2M347 879.4l2.3 2.5M574.6 708.3l-3-14.7M522.7 562.7l-1.5-3.4M513.3 540.6l-1.5-3.8M508.2 527.6l-1.4-3.8M234.4 540.9l1.5 .2M243.8 543l3.2 1.1M253.5 546.7l.4 .2M254.8 547.3l5.7 3.1M242.6 835.2l.9-12.1M529.4 791.9l.3 3.6M259.1 519.8l-1.3 3.7M254.6 532.6l-1.5 3.8M251.2 541.4l-1.5 3.9M249.2 546.4l-1.3 3.3M191.4 708.9l-.7 4.9M189.1 725.8l-.4 5M188.2 737.2l-.3 10.8M187.9 754.5l.5 10.8M423.4 874.4l2.4-3.1M427.8 868.5l.7-.9M429.7 865.7l1.3-1.9M504.9 548.7l2.8-1.6M359.5 876.8l2.1 2.6M574.2 655.1l-1-2.7M572.2 649.7l-4-10.1M556.5 612.8l-.6-1.3M536.7 573.2l-2.2-4.1M531.7 563.8l-2.2-4.1M521.9 545.3l-1.8-3.4M223 550.5l3.7-.2M235.5 550.4l3.5 .3M243.5 551.3l1.5 .3M247.3 847.5l.3-3.5M248.1 839.3l.2-2.7M248.5 835l.3-3.8M249.1 826.3l.3-3.9M534.8 785.6l.4 4.9M535.4 792.3l0 1.2M413.5 865.2l1 2.2M416.1 870.5l1.4 2.5M176.7 634.4l3-3.8M202.5 608l3.5-2.7M210.6 602l3.6-2.3M438.7 860.3l1.5 4M174.7 683.6l2-4.5M191 653.4l1.8-2.8M326.8 873.9l.5-.8M327.9 871.8l2.6-5.6M562.4 629.8l1.4 1.4M569.3 637.7l2.9 3.6M347 876.3l1.8-2.9M551.8 598.6l5.1 3.5M567 609.8l3.4 3M262 528.7l.1 1.9M262.3 534.9l.1 3M238.8 823.7l1.4 3.7M242.9 833.6l1.7 3.6M247.7 843.2l2.3 4.2M484.2 841.4l2.9-6.8M500.2 540.3l.2-.4M501.8 537.1l1.5-2.6M258.1 533.2l1.1 1.3M263.4 540.8l.2 .4M293.9 857.3l2 3.1M296.6 861.5l2.1 3M299.4 865.5l2.3 3M539.8 787.9l.4-2.7M540.7 780.5l.4-3.3M502.9 544.2l-.5-7.2M502.2 530.6l0-2M470.2 512.7l.2-2.2M288.4 523.1l5.4 6M303.9 850.9l.7 2.5M306.4 859.1l1.3 3.7M575.4 694.8l-.8-2.3M572.2 685.6l-2.1-5.3M179.8 646.8l2.8-5.2M190 629.5l7.2-10M431.6 860.2l.3 6.5M432.1 868.4l.1 1.7M214.8 775.3l-.2-10.2M214.7 757.9l.1-.7M502.5 819.3l-.4 4.2M501.9 824.8l-.2 2.1M271.2 859l-.2-1.9M270.9 855.8l-.4-4.4M554.7 764.2l-.1 5.5M336.5 871.9l.4-4.6M337.3 863.3l0-1.2M524.4 577.4l2.6 1.5M532.7 582.5l5 3.4M542.6 589.6l4.2 3.4M549.7 595.6l1.8 1.6M273.3 508.7l-4.1 3.7M235.2 544.5l-4.2 4.1M216.4 563.8l-4 4.4M202.8 579l-7.7 9.2M398.7 876.1l1.1-3.4M400.1 871.6l.8-2.9M486.1 537l9.2-1.6M498.4 535l1.9-.1M299.1 492.5l-2.7 6.3M291.8 508.6l-3.8 7.6M284.6 522.8l-4.9 9M189.5 714.2l-.6 2.4M187.3 723.7l-.4 1.6M183.1 749.3l-.4 4.1M467 849.7l.2-.7M467.5 847.7l1-3.9M475.8 520.6l8.4-8.1M290.5 499.1l1 4M292.5 507.1l.3 1.6M240.1 808.8l.1 .8M243.2 827.7l1.2 5M246.2 839.2l2.1 6.3M274.9 508l-13.6 12.5M237.1 543.8l-4.1 4.2M208.3 574.5l-11.6 13.7M397.6 878.5l.4-1.1M483.5 537.7l1.7-.4M488.9 536.5l11.2-1.5M299.5 490.7l-1.4 3.9M293.8 505.5l-1.2 2.9M288 518.4l-4.4 9M194.4 713.8l-.8 3.1M192 724l-.2 .8M190.6 730.3l-1 5.5M187.2 754.2l-.1 1.6M186.7 762.3l-.1 .8M473.6 844.5l.6-2.6M472.6 522.8l3.6-4.7M290.6 503.6l1 3.5M293.8 517.5l.3 2.1M255.6 826.6l1.1 4.9M258.2 837.8l1.4 4.8M548.1 780.9l0-2.3M472.1 523.8l-.4-1.8M470.1 512.2l-.4-4M281.6 524.1l1 .6M287.2 527.8l4 3.1M317.2 860.3l1.4 4.2M322.7 874.6l.3 .6M578.5 675.6l-.7-1.6M576.9 671.7l-1.7-3.8M572.5 661.9l-1-2.2M569.4 655.2l-2.6-5.2M563.5 643.4l-2.7-5M508.5 556.5l-6.6-9.4M494.1 536l-5.9-8.5M257.8 543.8l10-.4M379 874.3l1.1 3.9M174.4 675.4l4.6-11.9M185 650.5l2.7-5.2M191.4 638.8l3.1-4.9M195.4 632.6l6-8.7M202.4 622.6l1.5-1.9M210.5 612.7l3.7-4.1M439.3 859.4l.1 3.5M439.4 864.1l.1 1.7M268.1 857.4l-.3-2.5M267.5 851.7l-.8-7.2M266.1 838.6l-.3-2M551.6 755.7l.1 3.9M551.7 766.8l0 .8M334.3 874.6l.2-1.7M546.6 594.7l10.8 10.3M496.3 825.8l-.2 2.1M496 829.2l-.2 1.4M275.2 855.3l-.5-5.7M336.2 878.7l.2-1.1M337.1 872.6l.1-1.1M545.9 591.3l8.8 7.8M572.4 619l.5 .6M288 495.9l-4 3.7M259.8 521.6l-4.2 3.9M208.3 573.8l-4 4.5M397.5 877.1l.8-2.3M399 872.6l.1-.6M486.1 537.3l8.6-1.5M292.2 509.8l-3.6 8.2M195.9 714.8l-.6 2.3M192.3 730.4l-2 11.9M476.2 840.9l.6-2.6M468.3 529.3l3-5.1M289.2 495.5l2.3 7.4M293.8 516l.4 3.8M243.9 829.6l.9 3.6M248.5 845.2l1.5 4.2M535.2 793.3l.1-1.5M470.1 515.4l0-1.1M470.3 506.7l.3-3.8M273.9 511.8l.5 .2M278.5 514.8l3 2.2M286.1 520.9l1.9 1.9M574.5 691.7l-.8-2.3M489.9 536.6l-11.2-18.6M170.5 677.3l2-5.7M178 658.1l5.5-11.4M187.2 640.1l3-5M198 623.6l2-2.6M201.9 618.5l7.8-9.2M223.8 595.8l1.8-1.5M435.8 863.8l0 1.7M215.4 811.2l-1.3-11.4M212.6 775.6l-.1-.7M295.3 499.5l-2.3 4M281.3 522.9l-2.6 4.2M184.9 695l-6.3 22.2M453.6 860.1l1.2-3.7M455.5 853.9l.7-2.5M469.7 530.5l1.4-1.6M471.9 528.1l5.4-5.3M473.9 845.7h0M540.4 566.7h0M360.4 877.3h0M205 754.5h0M486.8 833.6h0M566.9 675h0M519.2 554.7h0M261.4 523.1h0M281.6 517h0M294 503.9h0M399.5 872.9h0M172 682.8h0M182.1 656.5h0M190.8 594.8h0M294.3 504.5h0M477.8 832.9h0M241.3 816.6h0M308.1 863.4h0M310.3 868.9h0M435.6 860.8h0M190.2 680.4h0"/><path stroke="#e3ff00" d="M541.8 584.9l3.8 1.7M356 878.4l3.3-5M521.9 773.2l.6 4.2M522.9 781.7l.1 .6M523.7 790.2l.4 4.8M237.4 835.3l.3-3.8M238 826.5l.2-3.9M238.4 819.2l.1-1.2M239.2 805.3l.5-5.9M240.9 784.4l.2-1.8M251.5 546l5.9 2.8M333.1 859.2l.5 1M340.7 871.1l.4 .5M344.2 875.6l2.6 3.1M573.9 702.2l-1-4.9M568.7 680l-2.9-10.3M562.2 658.2l-1.6-4.7M535.7 591.5l-1.9-4.3M531.4 581.8l-1.8-4.2M527.2 572.2l-1.9-4.1M524.3 565.8l-1-2.4M521 558.2l-1-2.3M260.9 847l.6-5.1M262.8 830.3l.3-3.8M546.7 767.8l.4 3.8M502.5 553.4l1.7-.9M250.4 535.9l-.8 1.6M240.9 556.2l-1.9 4M237 564.3l-.2 .6M209.3 624.6l-1.9 4.6M200.9 645.6l-1.7 4.7M194.2 665.2l-1.7 5.4M191.9 672.7l-1.4 4.8M188.8 683.8l-1.2 4.9M184.9 700.6l-3.5 22.2M417.6 870.8l4.6-7M179.9 630.2l3.1-3.6M190.7 618.4l3.4-3.2M206.3 605l7.7-5.2M218.7 596.9l2.1-1.2M231.5 590.5l3.8-1.5M413.9 866l2 4M495.6 550.8l3-4.5M499.6 544.8l.5-.7M259.2 541.1l-1.1 6.4M212.7 739.5l-.3 4.7M212.5 764.8l.4 6.8M213 773l.4 4.1M214.2 783.2l.7 4.7M216 794l1 4.7M462.6 853.8l.6-1.1M464.4 850.6l4.3-9.2M524 798.2l.6-3.2M499.9 549.5l.2-4M264.1 539.6l.6 1.7M266 545.7l.2 .5M266.4 829.4l2.6 6.5M338.9 875l1.2-2.1M341.3 870.8l4.3-9.3M347.2 857.4l1.2-3.3M539.6 598.9l7.7 4.8M551.9 606.8l2 1.5M559.8 613l2.4 2.1M291.4 857.3l.5-2.4M187 702.3l4.9-12.7 5.4-11.6M454.5 839.3l2.4 11.4M392.1 874.7l3-4.4M513.7 559.7l.5 0M515.2 559.5l7.1-.5M217.9 573.2l-2.5 4.2M214 579.8l-4.2 7.4M198.4 608l-2.3 4.5M185.8 634.3l-2.1 4.7M179 650.7l-1.8 4.8M191.7 751.5l.8-4.6M194.6 735.7l1-4.6M473.2 841.7l.6 3.5M474 846.2l.3 1.5M198.1 783.4l.2-3.2M203.2 743.2l.9-4.5M482.9 834.2l.5 3.6M218.8 561.5l-2.7 4.2M194.6 600.9l-2.5 4.5M180.9 627.1l-2.2 4.8M377 882l1-1.2M381.2 876.7l3.3-4.7M520 564.3l2.6 0M523.7 564.4l3.2 .2M529 564.8l2.7 .3M574 653.3l-1.8-4.7M569.9 642.5l-8.4-19.8-9.9-21.1M529.6 559.3l-.6-1.2M254.6 554.3l3.1 1M260.4 556.4l.9 .3M348.6 859.1l7.1 11.7M351.3 863.8l2.9 4.6M358.6 874.7l.7 .8M563.1 625.9l-4.4-9.8M553.6 605.3l-4.7-9.4M543.6 585.4l-4.8-9.1M533.5 566.2l-1-1.8M244.2 551.9l2.4 .4M252.3 553.7l4.6 1.5M261.8 557.1l1.7 .7M203.3 766.7l.8-6.4M205.1 753.8l.6-3.9M486 826.1l.8 7M486.9 834.1l.2 2.1M331.4 857.1l1.7 2.9M571.5 692.9l-.7-2.8M566.7 674.3l-1.2-4.1M562 658.7l-3.5-10M539.9 601.8l-1.9-4.3M531.3 582.2l-1.8-4.2M528.7 576.2l-3.4-7.6M524.5 566.8l-1.5-3.5M521 558.7l-1.5-3.4M519 554.1l-1.7-4M247.5 544.2l3 1.2M260.8 550.7l2.8 1.7M243.5 822.6l.7-10.2M244.5 808.3l.2-4.1M529.1 787.6l.3 3.7M247.6 550.3l-1.6 4M243.9 559.4l-5.5 12.8M195.1 690.7l-.2 .7M193.6 697.7l-2 10.4M190.5 714.5l-.6 4.9M187.8 748.7l.1 5.1M433.6 859.4l5.9-11.7M493.6 557.2l2-1.8M497.8 553.6l6.7-4.7M508.1 546.8l2.9-1.4M347.6 858.5l1.8 3.3M356.2 872.4l2.9 4M572.9 651.7l-.5-1.4M565.8 633.6l-2-4.6M555.6 610.9l-8.6-17.6M544.2 587.8l-2.2-4.3M534.2 568.5l-2.2-4.1M529.2 559.1l-2.2-4.1M519.5 540.8l-2-3.9M245.4 551.7l10.8 2.9M247.7 843.4l.3-3.6M248.4 836.1l0-.6M248.8 830.7l.3-3.8M249.5 821.9l.2-3.9M534.5 782.5l.2 2.5M412.7 863.4l.6 1.4M415.2 868.7l.7 1.3M190.9 618.3l3.3-3.2M198.6 611.3l3.4-2.9M214.7 599.3l7.9-4.5M227.4 592.4l3.8-1.7M437.3 856.1l1.2 3.7M181.9 668.6l5.4-9.5M330.7 865.8l.9-2.3M332.2 862.2l1.2-3.2M551.4 619.1l10.6 10.2M349 872.9l.8-1.2M352.7 866l.2-.5M542.3 593.2l9 5.1M261.7 555.3l0 .5M234.3 809.7l.9 3.2M236.6 817.4l1.9 5.6M240.7 828.6l1.9 4.4M245.2 838.4l2.1 4.2M250.3 847.9l1.5 2.4M487.3 834l1.6-4M489.5 828.2l.6-1.7M491.1 823.5l.5-1.8M497.6 546.1l2.4-5.4M263.8 541.5l2.8 5.2M291.1 852.5l2.5 4.3M540.2 784.5l.5-3.3M541.2 776.5l0-.6M541.7 769.8l.1-2M504.5 557.9l-.7-4.8M503.2 548.3l-.3-3.6M502.2 532l0-.9M470.3 527.9l-.3-8.6M470.1 514.3l.1-1.1M294.2 529.6l2.3 3M299.2 536.6l.3 .5M303.4 849l.3 1.3M304.8 854.1l1.4 4.4M569.9 679.5l-4.7-11.3M197.7 618.8l7.7-9.2M210.3 604.3l2.3-2.2M214.8 599.9l13.7-11.4M234 584.6l1.3-.8M239.1 581.4l3.8-2.3M244.2 578.4l1.3-.7M260 570.9l2-.7M431.5 859.1l0 .6M216.5 801.6l-1.7-24M214.6 764.3l.1-5.6M214.8 756.4l.1-4M215.4 745.3l.4-5.6M503.2 812.3l-.6 6.3M269.3 840.4l-.4-4M554.6 757.8l.1 5.6M337 866.8l.2-2.9M337.4 861.5l.2-4.7M495.8 565.5l4.7 1.4M511.9 571.2l11.8 5.8M527.6 579.3l4.5 2.8M547.4 593.5l1.8 1.6M475 540.3l1.2-.4M480.8 538.4l4.7-1.2M495.9 535.3l1.9-.2M293.8 504.5l-1.7 3.5M287.7 516.8l-2.8 5.4M279.3 532.4l-2.4 4.3M199.9 681.9l-1.4 3.8M195.3 694.8l-1 3.1M190.3 711.1l-.6 2.3M188.2 719.7l-.8 3.2M185.4 733.2l-.5 2.4M466.9 532.7l.8-1.4M469.2 529l.9-1.3M472.3 524.7l.4-.4M291.7 503.6l.7 3M292.8 509.2l1.5 12.4M239.5 803l.5 5.1M240.2 810.3l.7 5.1M241.6 819.8l1.4 7.2M535 792.3l.2-6M535.2 783.3l-.1-3.7M213.9 568.2l-4 4.4M399.7 872.4l.7-2.3M476.5 539.8l6.4-1.9M485.8 537.2l2.5-.6M290.2 513.7l-.8 1.7M275.7 542.8l-.7 1.2M201.2 691.5l-.3 .8M195 711.5l-.4 1.5M188.5 743l-1.2 10.4M472.7 847.8l.7-2.6M474.3 841.3l.3-1.4M468.6 529l1.1-1.8M294.2 520.2l.8 8.2M255 823.1l.5 2.8M256.8 832.2l1.2 4.9M263.7 854.2l.5 1.4M548.1 777.8l-.3-8.4M473.5 530.3l-1.3-5.9M471.2 519.1l-.3-1.7M283.1 525l3.2 2.2M291.6 531.2l1.7 1.5M300 539.3l.4 .4M318.8 865.1l1.6 4.2M571.2 658.9l-1.5-3M560.4 637.6l-2.8-5M550.7 620.5l-3-4.9M501.4 546.4l-6.9-9.8M268.4 543.4l9.7 .6M378.5 872.6l.3 1.2M182.4 655.8l2.2-4.6M188.1 644.6l2.9-5.1M204.4 620l1.5-1.8M228.4 595.4l3-2.4M439.3 849.7l-.1 4.3M439.3 857.6l0 1.2M265.8 835.9l-1.4-12.9M547.4 716.1l.9 5.5M549.4 728.7l.7 5.5M550.8 742.2l.4 4.7M551.3 748.5l.2 6.4M335 867.8l.3-4M335.6 858.5l0-.6M335.7 853.7l.1-3.6M521.7 577.3l4.5 2.6M531.9 583.5l4.4 3.1M538.1 587.9l3.1 2.3M545.4 593.7l.6 .5M496.6 823.1l-.2 2M274.6 849l0-.7M274 842.5l-.5-4.6M272.9 831.9l-.3-3.3M558.4 730.9l1.4 15.2M337.3 870.9l.2-2.3M337.9 863.4l.3-3.5M511.5 570.4l3.3 1.4M536.1 583.9l9.2 6.9M555.2 599.7l4 3.9M283.4 500.1l-4.1 3.7M398.4 874.3l.4-1.1M399.3 871.5l.8-2.9M479.6 539.1l.6-.2M482.5 538.2l3-.7M294.1 505.1l-1.4 3.5M286.1 523.4l-2 4.2M281.4 533.1l-1.3 2.4M276.3 543l-.3 .6M196.7 711.7l-.6 2.3M193.6 724.2l-1.1 5.5M190.2 743.1l-1.4 12M476.9 837.6l.8-4M477.9 832.3l1.3-9.5M463.3 540.1l1-2.5M464.7 536.6l1.4-3M466.6 532.6l1.4-2.8M294.2 520.3l.2 3.9M294.5 533.9l-.1 2.9M240.2 807.8l.2 2.2M240.8 813l.4 2.9M242.3 822.4l1.4 6.5M535.3 791.1l.1-6M535.4 782.8l-.1-3.7M535.3 776.8l-.1-.7M470.9 529.2l-.7-8.7M470.2 518.8l-.1-2.8M306.5 859l1.3 3.8M576.6 697.9l-1.8-5.4M573.4 688.6l-5.5-14.4M505.7 561.8l-2.8-4.5M498.9 550.9l-8.6-13.6M175.3 664.4l2.3-5.5M190.6 634.4l6.9-10.1M200.4 620.4l1-1.3M219.2 599.9l4-3.6M226.2 593.8l9.1-6.8M243.5 581.7l4.5-2.6M435.5 851.9l.1 8.4M435.7 861.4l0 1.8M213.5 792.8l-.3-3.9M212.5 774.1l-.1-5.6M287.1 513.4l-5.4 8.9M278.3 527.7l-2.7 4.2M272.1 537.4l-9.4 14.3M259 557.4l-2.1 3.2M203.7 649.7l-5.6 11.8M196.5 665.2l-1 2.3M191.7 676.6l-1.2 3M187.9 686.5l-2.7 7.7M178.4 718l-1.9 8.9M456.4 850.7l1-4.4M467.3 533.5l2-2.5M570.3 686.2h0M262.3 834.6h0M260.2 534.8h0M202.2 748.4h0M385.3 870.7h0M514.3 564.4h0M346.6 878.9h0M188.9 771.1h0M262.4 538.4h0M296.2 860.9h0M299.1 865h0M271 856.5h0M270.4 850.8h0M401.1 868.1h0M472.3 523.2h0M473.7 531.5h0M201.9 623.2h0M544.6 702.9h0M334.5 872.4h0M496 828.5h0M288.4 523.1h0M471.5 528.5h0"/><path stroke="#55ff00" d="M520.1 578.1l3.8 .9M528.8 580.2l8.1 2.7M359.5 873l3.7-6.5M364.5 863.8l1.5-3.3M241.9 774.7l1.3-9.8M521.1 766.4l.1 1.2M522.5 778.1l.3 3M523.5 787.8l.2 1.8M237.7 830.9l.2-3.9M238.5 817.5l.2-4.1M240.1 794l.1-1.2M241.2 782l.2-1.9M257.8 549l8.1 5.2M269.6 557l2.1 1.8M272.3 559.4l1.1 1M329.7 852.7l3.1 6M333.9 860.7l6.5 10M564 663.6l-1.6-4.7M560.4 652.9l-10.3-27.6-14.1-33.2M533.6 586.6l-1.9-4.2M529.3 577l-1.9-4.2M525.1 567.5l-.5-1.2M261.6 841.4l.2-2.1M262.4 834l.3-3.2M263.9 817.2l.2-2.3M544.3 751.3l.7 4.5M546.3 764.6l.3 2.6M484.1 567.4l.3-.3M485.1 566.4l2-1.9M490.2 561.7l2.6-2M497.3 556.5l4.8-2.9M236.5 565.4l-2 4.2M231.9 574.9l-11.1 23.7M218.2 604.3l-4.3 9.4M211.4 619.5l-1.9 4.5M205 635l-3.8 9.9M199 651l-4.6 13.5M190.3 678.2l-1.3 4.9M422.5 863.3l2-3.4M426.8 855.5l2.4-5.1M221.4 595.4l7.9-3.9M235.8 588.8l3.8-1.4M407 847.7l2.2 6.8M410.8 858.8l2.9 6.8M490.7 560.2l1.1-2.6M492.3 556.8l3.1-5.6M258 548l-1.2 6M255.1 561.1l-2 8.5M214.4 720.4l-.2 2M212.3 750.4l-.1 4.8M212.3 761.4l.1 2.7M213.5 777.7l.6 4.8M469 840.8l1.6-3.8M524.7 794.3l.7-4.5M526.4 782l.4-3.3M500.7 573.6l-.3-3.2M500.1 565.5l-.2-3.7M499.8 558.1l.1-8.1M264.8 541.8l.3 .8M266.3 546.7l1.2 5M264 822.3l2.2 6.5M269.3 836.5l6.4 13M340.4 872.5l.2-.4M348.5 853.6l1.1-3.4M518.2 589.4l3.8 1.3M523 591.1l11.8 5.2M547.8 604l3.6 2.5M292 854.5l2.5-12.3M543.5 662.3l2.1 3.3M556 684.5l1.9 4.2M562.3 699.2l3.4 9.4M200.1 672.7l8.1-13.6 8.8-12.1M220.7 642.6l6.4-7.1M395.4 869.8l4.3-7.3M401.9 858.2l1.6-3.4M495.6 564.4l3.2-1.2M503 561.9l3.4-.8M507.3 560.9l5.9-1.1M181.2 645.2l-1.9 4.8M189.2 772.7l.4-4.6M192.6 746.2l1.9-9.8M197.1 725.3l1.2-4.6M200 714.9l1.4-4.4M472.1 834.5l1 6.7M201.4 753.6l.7-4.5M202.3 747.8l.7-3.9M204.2 738.1l1-4.6M481.4 821.3l.4 3.8M482.2 828.3l.6 5.3M378.4 880.4l1.9-2.4M384.8 871.6l.3-.5M385.6 870.3l3.4-5.9M389.5 863.5l1.5-2.8M510.7 564.7l3.1-.3M514.8 564.4l4.7-.1M527.4 564.6l1.1 .2M546.3 591.1l-2.2-4.3M541.2 581.3l-2.2-4.3M531.2 562.2l-1.3-2.3M261.7 556.9l9.7 5 9.1 6.6M338.3 833.5l1.3 4.2M341.3 842.5l7 16.1M347.9 857.5l3.2 5.8M355.7 870.7l2.6 3.5M558.4 615.5l-4.5-9.6M548.6 595.3l-2.2-4.4M538.5 575.7l-2.2-4.2M257.3 555.3l4 1.6M263.9 558l7.5 4M341.5 842.5l1.4 3.6M344.8 850.7l5.4 10.8M204.2 759.6l.5-3.2M206.8 744.1l.9-4.5M209 733.8l1-4.4M211.5 723.6l1.3-4.4M484.6 812.4l.8 8.3M327.2 848.4l1.6 3.6M333.3 860.5l7.2 10.9M570.7 689.4l-1.7-6.9M568.4 680.5l-1.3-4.8M565.3 669.5l-3.1-10.1M558.3 648l-8.1-21.5-10-24.1M537.8 596.8l-1.9-4.3M529.2 577.4l-.3-.6M525 568l-.2-.6M263.9 552.7l5.5 4.1M272.5 559.6l2.4 2.2M244.2 811.8l.2-2.9M244.8 803.7l.7-8.9M528.8 785.2l.2 1.8M245.8 554.8l-1.7 4M235.9 578.1l-6 13.9M223.4 607.5l-3.9 9.4M215.1 627.8l-1.7 4.5M211.2 638.2l-9.3 27.2-6.6 24.6M194.8 692.1l-1.1 4.9M189.8 720.1l-.6 5M188.6 731.5l-.4 5M188.5 766l.3 4.4M431.3 863.3l2-3.4M441.5 843l1.4-3.8M489 561.7l1.3-1.3M492.6 558.1l.6-.6M496 555.1l1.4-1.2M343.8 850.5l1.6 3.5M349.7 862.3l6.1 9.7M563.5 628.4l-6.7-14.9M546.7 592.7l-2.2-4.3M539.2 578l-2.2-4.2M256.7 554.7l8.3 3.5M249.8 817.4l.9-12.6M250.8 803.6l.3-3.5M251.2 798.9l.2-2.3M251.6 794.2l.4-4.1M532.8 767.7l.6 4.3M534.3 780.1l.2 1.8M406.5 846.3l6 16.7M206.5 604.9l3.6-2.5M223.1 594.5l3.8-1.9M231.7 590.4l6.5-2.5M435.1 848.4l.9 3.4M436.5 853.7l.6 1.9M177 678.5l2.1-4.4M187.7 658.5l2.1-3.4M193.2 650.1l9.3-12.1M206.3 633.6l7.6-7.8M331.8 863.1l.2-.5M333.5 858.5l1.1-3.3M335.9 850.9l1-3.4M528.9 603.1l6.2 3.7M536.1 607.5l7 4.9M545.1 613.9l5.8 4.8M350 871.2l.7-1.3M353.1 865.1l2.6-5.9M525.1 585.9l16.7 7M262.4 538.9l0 4.5M262.2 546.9l-.4 7.8M261.6 556.3l-.7 7M227.5 750.3l0 4.7M229 782.3l2.4 15.1M232.6 803.2l1.5 5.8M235.4 813.5l1 3.2M489.1 829.4l.2-.6M490.3 825.9l.6-1.8M491.8 821.1l.5-1.7M494.8 554l2.6-7.5M266.8 547.1l1.9 4.2M269.7 553.9l1.2 3M280.9 830.3l3.4 8.5M286.5 843.8l1.9 3.9M541.3 775.2l.3-4M541.8 767.1l.3-12.8M506.9 572.3l-1.1-6.2M505 561.2l-.5-2.7M503.7 552.6l-.4-3.7M472.4 546.9l-2.1-18.5M296.8 533l2.1 3.2M299.8 537.5l5.5 10.3M298.2 809.2l.1 2.1M298.5 815.4l.1 1.3M299.6 828.1l3.6 20.2M564.9 667.4l-11.1-23.5M547.8 632.3l-5.8-10.6M206 609l3.8-4.1M213.1 601.6l1.2-1.1M229.1 588.1l4.3-3.1M235.9 583.4l2.6-1.6M246.2 577.3l7.2-3.5M254.7 573.2l4.7-2M262.7 569.9l2-.7M431.4 845.1l-.1 3.7M431.4 856.7l.1 1.8M215 751.6l.3-5.5M215.9 739l2.3-18.2M219.5 713.8l3.5-15.5 4.3-14.3M505.3 770l0 2.2M505 784.8l-.6 11M504.1 800.1l-.9 11.5M270.3 850.1l-.9-9.1M268.8 835.7l-1.1-10.8M552 725.9l.7 5.6M553.8 742.6l.1 1.6M554.4 752.2l.1 4.8M337.6 856.2l.1-16.5M337.5 828.8l-.1-1.3M468.7 561.1l4.7 .3M479.5 562.1l15.6 3.2M501.2 567.1l10.1 3.8M401.2 867.6l2-8.8M404.9 848.5l.4-3.1M472.2 541.4l2.3-.9M476.7 539.7l3.5-1.1M276.6 537.3l-14.2 24.6M224.8 627.7l-2.6 4.9M207.9 662.4l-2.3 5.2M202.8 674.3l-2.6 6.8M198.2 686.4l-2.7 7.7M194 698.7l-3.4 11.6M188.7 717.4l-.4 1.5M185.9 730l-.4 2.4M468.6 843.2l2.7-15.2M463.7 538.4l2.9-5.3M468 530.8l.9-1.3M470.4 527.3l1.6-2.2M294.3 522.2l.1 1.6M294.5 528.9l-.1 6.4M293.9 543l-.1 1.2M239 786.8l0 5.2M239.2 798.6l.3 3.7M241 816.1l.5 2.9M535.2 785.6l0-1.5M535.1 778.8l-.3-6.7M400.5 869.5l3.4-15.3M404.7 848.8l.5-4.4M469.8 542.5l6.1-2.5M292.3 509l-1.8 4.1M289.1 516l-.8 1.8M283.3 528l-5.6 11M274.7 544.6l-1.4 2.5M252.7 584.1l-2.6 4.7M207.4 674.9l-5.9 15.9M200.7 693l-5.4 17.7M193.4 717.7l-1.3 5.5M474.8 839.3l.7-4M475.8 834l.5-3.4M477.9 817.8l.1-1.4M465.1 535.8l3.2-6.3M470 526.8l2-3.2M292.7 511.7l.8 3.7M295.1 529l0 1.7M295.3 538.2l0 1.2M253.3 809.6l1.6 12.8M547.8 768.6l-.5-6.8M546.7 756.4l-.6-5.3M477.5 545.6l-3.6-13.5M471.6 521.4l-.3-1.7M293.7 533l6 5.8M300.8 540.1l6.2 7.9M312.3 840.1l1.9 9.6M315.7 855.3l1.3 4.3M566.5 649.3l-2.7-5.1M557.2 631.9l-2.8-5M547.3 614.9l-6.4-10.3M533.4 593l-6.6-10M521.9 575.7l-2.3-3.2M515.6 566.7l-6.7-9.6M278.7 544.1l14.2 2.7M375.9 860.6l1.4 6.9M377.7 869.2l.7 2.9M206.4 617.5l3.6-4.2M214.8 608l13-12.2M232 592.5l7.9-5.7M243.1 584.7l4.4-2.7M253.3 578.8l9.9-4.6M274.5 570.1l4.8-1.4M439.3 844.8l0 4.3M439.2 854.6l.1 2.4M264.3 822.3l-1.1-11.8M262.8 805.5l-.9-14.4M261.7 788.2l-.2-4.4M261.5 782.3l-.1-3.7M534.9 672.8l2.3 5.8M539.8 686.1l4.6 16M544.8 703.6l2.4 11.7M548.5 722.4l.8 5.5M550.1 735l.6 6.4M334.6 871.8l.3-3.4M335.3 863.2l.2-4.1M335.6 857.3l.1-3M335.8 849.5l-.1-9.9M485.7 563.9l3.3 .8M500.5 568l4.7 1.7M511.2 572.1l9.9 4.9M526.9 580.3l4.4 2.8M536.9 587l.6 .5M541.8 590.7l3 2.5M497.1 817.5l-.5 4.9M274.5 847.7l-.4-4.5M273.5 837.3l-.5-4.7M272.5 827.9l-.1-1.4M554.7 708.6l3.6 21.5M337.6 868.1l0-.6M501.3 566.8l4.7 1.6M510.1 569.8l.7 .3M520.7 574.7l14.7 8.8M400.3 868l.4-1.7M402.4 858.7l2.1-14M467.8 543.5l11.2-4.3M480.8 538.7l1.2-.3M288.3 518.6l-1.9 4.2M283.8 528.2l-2.1 4.3M279.8 536.2l-3.2 6.1M275.7 544.2l-1.7 3.2M265.4 563.3l-1 2M219.1 651.6l-2.3 5.1M200.3 699.4l-3.4 11.5M195.1 717.9l-1.3 5.5M479.3 822.1l1.2-18.5M458.9 554.1l4.2-13.4M294.4 524.8l.1 8.5M294.3 537.4l0 .6M293.9 543.4l-.1 1.2M239.6 775.5l-.4 11M239.8 803.5l.3 3.6M240.5 810.8l.2 1.4M535.4 784.3l0-.7M535.3 778.3l0-.7M535.2 775.3l-.2-3.7M533.9 758.8l-.6-5.2M473.9 548.4l-.9-4.3M471.9 536.9l-.9-7.2M470.2 519.9l0-.5M282 517.4l2.9 2.4M288.8 523.5l9.2 11.3M301.3 838.6l3.5 14.8M567.6 673.4l-7.6-17.1M556.9 649.7l-4-8M548 632.3l-2.7-5M541.8 621l-1.6-2.8M518.9 582.7l-2.9-4.7M512.3 572.1l-6.2-9.7M502.1 556l-2.8-4.4M210.3 608.8l8.3-8.4M235.9 586.5l7-4.4M248.6 578.8l15.2-7M435.7 836.9l-.1 4.5M435.5 846.3l0 5M213.2 788.2l-.4-7.1M212.4 767.8l.2-11.9M213.3 742.4l.5-5.6M275.2 532.5l-2.7 4.3M262.3 552.3l-2.9 4.4M256.5 561.2l-3.8 5.8M242.1 583.4l-3 4.6M235.3 594.1l-3 4.7M221.9 616.1l-2.8 4.9M217.1 624.5l-1.2 2.1M212.8 632.3l-8.7 16.7M197.8 662.3l-1 2.2M195.1 668.2l-3.1 7.6M457.6 845.6l3.2-20.2M461.3 819.4l.2-4.8M458.9 546.4l8.1-12.5M244.7 755h0M213 772.3h0M268 554.1h0M258.8 802.1h0M508.9 586.8h0M514.7 559.6h0M207.1 694.9h0M199.3 769.2h0M523.1 564.4h0M485.9 825.6h0M331.1 856.6h0M528.5 782.1h0M238.2 572.8h0M341.9 845.9h0M243.6 578.7h0M554.3 750.6h0M459.9 547h0M405.7 838.8h0M462.8 545.9h0M270.2 552.8h0M473.6 530.9h0M551.2 747.7h0M338.2 859.3h0M262.6 568.5h0M202.6 692.5h0M480.5 800.1h0M464.5 537.1h0M466.3 533.1h0M239.5 798.3h0M306.3 858.4h0"/><path stroke="#00ff39" d="M499.2 576.3l7.4 .2M507.7 576.5l11.8 1.5M524.4 579.1l3.8 1M537.5 583.1l3.7 1.5M363.4 866l.9-1.8M366.2 860.1l5.4-15M243.2 764.3l1.4-8.7M244.8 754.4l1.7-8.7M250 730.2l.5-1.8M513.6 728.7l1.1 4.3M515 734.2l3.3 15.5 2.7 16.1M521.3 768.2l.6 4.3M523 782.9l.5 4.3M238.8 812.9l.2-4.1M239.7 798.8l.3-4.2M240.2 792.2l.7-7.2M241.4 779.5l1.2-9.8M266.3 554.5l2.9 2.2M273.7 560.7l6 6.5M284.6 573.5l1 1.6M324.3 840.2l5.1 12M565.6 669l-1.4-4.7M263.2 826l.7-8.3M264.2 814.4l2.6-28.5M534.9 713.7l4.9 16.8M541.2 736.1l2.9 14.6M545.1 756.4l1.1 7.6M482.1 569.5l1.6-1.7M487.4 564.2l2.5-2.2M493.1 559.4l3.8-2.7M220.5 599.3l-2 4.3M213.7 614.4l-2 4.4M424.7 859.4l1.9-3.4M429.5 849.9l2.6-6.2M433.8 838.9l1.3-3.7M229.9 591.2l1-.5M240.1 587.2l9.8-2.8 10.3-1.8M261.8 582.4l5.4-.5M270.4 581.8l.6 0M403.7 835.1l.8 3.6M406.1 844.8l.7 2.4M409.4 855l1.2 3.3M483.4 581.9l3.1-11 4-10.3M256.6 554.5l-1.3 6.1M251.7 574.7l-4.4 15.8M246.4 593.5l-5.8 19.5M239.1 617.9l-2.9 9.4M234.5 633l-5.7 20M227.1 658.8l-1.2 4.6M223.1 674.6l-5.1 23.4-3.5 21.7M214.1 723.1l-1.4 15.7M212.4 744.9l-.1 4.8M212.2 755.9l.1 4.8M470.8 836.4l1.7-4.5M473.1 830.2l5-18.1M479.2 806.8l.2-.6M525.5 789.2l.9-6.5M526.8 778.1l.9-17.1M527.8 755.7l-.2-9.9M502 585.4l-.2-1.7M501.6 582l-.9-7.8M500.4 569.8l-.3-3.7M499.9 561.3l-.1-2.6M267.6 552.2l.3 1.4M268.1 554.5l1.7 11.3 .9 11.9M254.8 762l.1 4.6M255.2 772.3l.3 4.5M256 782.6l.5 4.4M256.7 788.9l2 12.6M258.9 802.7l4.9 19M345.8 861.1l1.2-3.3M349.7 849.7l4.8-19.2M490 584.3l9.1 .8 9.3 1.6M509.5 586.9l8.1 2.3M535.3 596.6l3.7 2M294.6 841.7l3.4-24.3M298.1 816.3l.4-3.9M548.6 670.6l7.1 13.3M558.2 689.3l3.8 9.3M197.6 677.4l2.2-4.1M217.4 646.5l2.9-3.5M227.5 635.1l6.8-6.5M238.5 624.9l15.7-11.2M258.3 611.3l.6-.3M262.5 609.1l.5-.3M450.5 811l.2 2.3M451.3 818.2l3.1 20.6M399.9 862l1.7-3.3M403.7 854.3l4.5-11.5M411 833.8l.1-.5M481.9 571.3l13.3-6.7M499.3 563.1l3.3-1M198.5 720.1l1.3-4.5M201.6 709.8l5.3-14.3M207.4 694.3l6-13.2M216.2 675.9l2.2-4M221.4 666.9l2.4-3.8M470.4 821.2l1.6 12.8M199.4 768.6l.4-3.9M205.4 732.9l4-15.3 4.9-14.4M218.5 692.9l8.9-18.1M479.7 804.6l1.6 16.2M481.9 825.7l.2 2.1M394.9 852l.1-.5M396.4 848l1.2-3.5M487.5 570.3l14.7-4.4M506.7 565.1l3.5-.4M548.8 596l-2.2-4.3M280.9 568.8l10.4 10.5M334.8 819.7l.1 .6M336 825.3l2.1 7.6M339.8 838.3l1.3 3.7M354.5 868.9l.9 1.3M271.8 562.3l11.7 8.8M286.5 574.1l2 2M334.9 819.1l.3 1.1M336.4 825.2l5 16.7M343.1 846.6l1.5 3.6M204.8 755.8l.1-.7M207.8 739l1-4.5M210.2 728.7l1.2-4.4M213 718.6l5.9-17.4 7.1-16.1M228.6 679.9l2.2-4M233.7 671l2.4-3.8M484.1 807.9l.4 3.9M485.5 821.2l.4 3.8M318.5 823l.9 3.3M320.8 831.3l6.1 16.6M329.1 852.5l1.8 3.6M568.8 681.8l-.2-.6M535.6 591.9l-4-9.1M269.8 557.1l2.4 2.1M275.2 562.1l4.6 5.2M318.2 821.4l.3 1.1M318.8 823.6l.9 3.4M245.5 794.2l2.5-23.6M248.8 765.1l.6-4.3M521.7 738.8l.8 3.7M523.3 746.2l1.2 6.2M525 755.6l3.5 25.9M528.6 782.7l.2 1.9M237.9 573.4l-1.8 4.2M229.6 592.6l-6 14.3M219.2 617.6l-3.8 9.6M213.2 633l-1.8 4.5M439.7 847.2l1.6-3.7M443.1 838.7l6.3-21.7M478.5 575.6l.3-.4M479.3 574.4l9.4-12.3M490.6 560.1l1.6-1.7M336.4 829.4l5.3 16M342.1 846.4l1.5 3.6M345.6 854.5l1.7 3.5M541.7 582.9l-2.2-4.3M265.4 558.5l9.3 5.5M251.4 796l.1-1.2M252 789.5l2.6-22.4M254.9 765.2l.3-1.8M522.2 717.9l2.7 9.2M526 731.5l.2 .6M527.5 737.7l5.3 29.3M533.5 772.6l.7 6.8M403.6 835.2l2.7 10.6M238.7 587.7l11.4-3.3 11.4-2M266.4 582l2.6-.1M270.6 581.8l1.1 0M246.6 602.6l10.1-4.4M430.6 827l.8 4.7M432.3 836.4l2.6 11.5M436.1 852.3l.3 1M202.9 637.5l3-3.4M214.4 625.4l5.1-4.6M221 619.6l7.3-5.7M232.8 610.7l3.6-2.3M241 605.7l1-.6M334.8 854.8l1-3.4M337 847.1l2.7-11.6M492.8 590.2l18 4.7 17.5 7.9M543.6 612.8l1 .7M350.9 869.5l1.6-3.1M355.9 858.7l5-15M494.8 580.7l8.1 .5M507.7 581.8l16.9 3.9M262.4 543.9l-.1 2.5M260.8 563.8l-.3 2.2M260.3 568.2l-.1 .6M228.3 734.2l-.3 4.7M227.7 745l-.1 4.6M227.5 755.7l0 4.6M227.7 766.3l1.2 15.3M231.5 798l1 4.6M492.5 818.8l2.3-9.1M496 804.2l1.6-9.2M498.3 789.4l1-9.5M490 577.2l.5-3.6M491.9 565.2l2.7-10.8M268.9 551.7l.7 1.7M271 557.4l4.2 15.5M276.6 580.4l.3 2.1M271.3 786.8l.5 4.4M273.4 801.7l3.2 14.5 4.1 13.5M284.5 839.4l1.8 3.9M288.7 848.2l2.1 3.8M542.1 753.7l-1.3-25.6M540 721.3l-3-20.7M535.9 694.6l-.9-4.7M513.7 602.6l-2.2-9M509.3 583.7l-2.3-10.9M505.7 565.6l-.7-3.9M478 573.5l-.1-.6M475.3 561.9l-2-9.4M305.6 548.3l3.6 8.9 3 10.1M313 570.2l.5 2.3M298.2 795.4l0 13.1M298.3 812l.1 2.7M298.6 817.4l.9 10M553.5 643.1l-5.3-10M541.6 621l-6-10.5M532 604.3l-9.5-15.6M265.4 569l18.3-4.7 18.2-1.8M303.3 562.5l11.9 .6M432 824.1l-.6 20.4M431.3 849.4l.1 6.7M218.3 720l1-5.4M227.6 683.2l9.6-23.1 11.9-20.7M253 633.8l3.2-4.2M504.9 751.2l.3 9M505.3 764.7l0 4.5M505.3 773l-.3 11.1M504.4 796.5l-.2 2.9M267.6 824.2l-1-10.4M266.1 807.5l-.7-10.7M539.4 676.6l1.9 5.2M543.6 688.6l4.7 17.7 3.5 18.8M553 733.9l.7 7.9M554 745l.3 4.8M337.7 839l-.2-9.5M337.4 826.9l-.7-15.9M439.8 563.8l14.3-2.3 14-.4M474.1 561.5l4.8 .5M403.4 858.2l1.4-9.1M405.3 844.8l1-12.6M445.3 558.2l9.7-7.6M456.5 549.6l7.6-4.5 7.6-3.5M262 562.6l-21.4 36.5M237.1 605.3l-8.9 16M221.8 633.3l-13.6 28.4M205.3 668.4l-2.2 5.2M471.4 827.3l1.4-19M472.9 805.5l.1-4.8M458.3 551.2l1.4-3.7M462.5 540.9l1-2M294.4 524.4l.1 3.9M294.4 535.9l-.4 6.5M293.8 544.8l-.3 2.4M292.9 552.7l-.5 3.1M243.5 740.1l-1.7 10.4M240.9 757.2l-1.1 11.1M239.2 776.5l-.1 3.7M239 792.7l.2 5.2M534.7 771.3l-1.3-14.2-2.2-15M530 735.3l-1.1-5.2M404 853.6l.6-4.2M405.3 843.8l.4-4.3M405.8 838.2l.6-14.1M455.3 550.5l7-4.4M463.4 545.6l5.8-2.9M277.3 539.6l-1.3 2.5M273 547.8l-2.4 4.4M269.9 553.5l-13.8 24.6M246.7 594.9l-5.6 10.3M237.7 611.4l-17.1 33.4-12.9 29.4M476.4 830l1.4-11.5M478 815.7l.4-6.2M478.5 806.8l.1-4.9M478.6 795.6l-.1-4.2M457.2 559.8l3.2-12.2 4.5-11.3M295.2 531.3l.1 6.3M295.3 539.9l-.3 7.2M294.6 552.5l-.5 4.3M252.5 792.3l.1 5.1M252.7 801.7l.5 7.2M547.2 761l-.4-3.8M545.9 750.3l-4.7-25.8-7.5-27.8M529.6 684.1l-1.7-5.2M487.9 576.4l-10.2-30.2M307.3 548.4l7.5 12.8M309.8 815.8l.5 8M311.5 835l.7 4.5M314.4 850.3l1.1 4.4M554 626.2l-2.9-5M540.5 603.9l-6.6-10.2M526.3 582.3l-4-5.9M519.2 571.8l-3.1-4.5M293.5 546.9l11.1 3.8 10.4 5M316 556.3l.6 .3M377 833.5l.3 6.3M373.9 844.3l.4 4.3M374.6 851.6l1.2 8.4M377.4 868.1l.1 .6M240.6 586.3l1.8-1.2M248.2 581.6l4.5-2.4M263.8 573.9l10.1-3.6M279.9 568.5l2.1-.5M285.4 567.2l4.7-.9M296.2 565.4l7.5-.6M440.5 818.4l-.3 5.3M440 826.3l-.7 17.9M263.1 809.8l-.2-3.6M261.8 790.3l0-1.4M261.4 777.8l-.1-16.4M261.6 752.4l.3-5.3M499.3 616.9l3.5 3.8M511 630.6l6.6 9.3 6.5 10.4 10.5 21.8M537.5 679.4l2 5.9M335.7 838.9l-.5-14.8M455.3 561.9l14.8 0 14.9 1.9M489.7 564.8l10.2 2.9M505.9 569.9l4.7 1.9M499.1 791.2l-.6 8.7M498.4 802l-1.2 14.9M272.4 825.9l-2-23M270.1 798.6l-.3-5M269.5 787.1l-.1-2.2M532.4 649.3l6.9 13.2 6.2 14.6 5 15.1 4 15.6M337.7 866.9l.2-2.9M338.2 858.8l.3-9.1M338.5 839.2l-.3-9.5M468.8 560.9l16.2 1.7 15.6 3.9M506.7 568.7l9.9 4.2M515.4 572.1l4.6 2.2M400.9 865.7l1.4-6.5M404.5 844.1l.9-12M447.4 556.4l9.5-6.9 10.4-5.7M273.7 548l-7.9 14.7M264 565.9l-1.1 2M262.2 569.2l-19.9 36.3M239 611.7l-14.1 27.6M216.5 657.4l-7.5 17.8-6.1 16.6M202.3 693.3l-1.7 5.3M480.5 802.9l0-2.1M480.5 799.4l-.2-12M455.8 572.9l3-18.2M294.3 538.6l-.3 4.2M293.8 545.2l-.6 5.5M292.9 553.1l-.8 5.6M291.3 563.1l-.8 4.5M242.8 745.8l-.8 5.2M240.5 763.6l-.9 11.1M239.2 787.3l.2 10.3M239.5 799.1l.3 3.6M535 770.8l-1-11.2M533.2 752.8l-2.7-16.5M530.2 734.8l-1.1-5.2M478.1 566.8l-.6-2.6M476.7 561l-.5-1.9M474.9 553.4l-.9-4.4M472.9 543.5l-1-6M298.3 535.3l7.1 12.5M307.4 552.4l1.2 3.2M309 556.7l1.1 3.3M299 820l2.2 18M305 854l1.1 3.8M559.7 655.5l-2.5-5.1M552.5 640.9l-4.1-7.9M544.9 626.6l-2.7-4.9M539.8 617.5l-17.2-28.8M515.6 577.4l-2.9-4.6M264.4 571.6l10.1-3.4M280.6 566.6l13.6-2.3 14.2-.6M436.6 816.1l-.2 4.6M436.1 826.6l-.4 9.7M435.6 842l-.1 3.7M212.6 755.1l.7-11.9M213.9 736l2.7-18.9 3.9-17.9M222.4 692.3l.9-3M224.3 686.3l.5-1.5M228.6 674.4l.3-.7M233.6 662.9l2.4-4.9M252.3 567.6l-9.8 15.1M238.6 588.7l-2.9 4.7M231.9 599.5l-9.6 15.9M218.7 621.7l-1.2 2.1M215.5 627.3l-2.4 4.3M460.8 824.7l.4-4.7M461.6 814l.2-8.2M461.8 803l-.1-4.8M449.5 571.2l.7-2.9M450.7 566.6l3.7-10.4 4.3-9.3M272 559.1h0M322.6 835.4h0M484.7 566.8h0M492.1 557.2h0M526.5 729.2h0M522.5 590.9h0M543.1 661.8h0M506.8 561h0M389.3 863.9h0M391.2 860.2h0M250.7 804.2h0M251.1 799.5h0M255.6 760.3h0M249.4 601.4h0M340.6 830.8h0M535.6 607.2h0M541.6 770.5h0M472.5 547.5h0M518.8 582.7h0M254 573.5h0M554.3 751.4h0M475.7 834.6h0M261.5 783h0M241.2 756.9h0M502.5 556.6h0"/><path stroke="#00ffc6" d="M470.5 581.8l3.4-1.2M479.8 579l9.5-1.9 9.4-.7M371.8 844.6l3.8-15M376 828l.7-3.7M246.6 745.1l3.3-14.2M250.7 727.8l5.7-18.2 6.9-17.1M501.9 695.1l6.2 16 5.3 17M280 567.5l4.3 5.7M285.9 575.5l2.8 4.6M290.6 583.5l.7 1.3M315.8 808.3l3 13.8 3.6 12.7M322.8 835.9l1.3 3.8M266.9 785.3l2.1-17.4M269.4 765.5l1.4-9.2M517.1 673.9l2.2 3.8M520.5 680l7.8 16.1 6.4 16.9M540 731.1l1 4.4M470.5 585.4l5.3-8.2 6-7.4M207.1 629.8l-1.8 4.6M432.3 843.2l1.4-3.7M435.3 834.6l5.1-20M440.9 812.3l1.5-8.7M260.8 582.5l.5-.1M267.8 581.9l2.1-.1M271.5 581.8l10 .4 10.4 1.6M401.1 822.4l2.5 12.2M404.6 839.2l1.4 5.1M479.9 602.7l3.4-20.3M252.9 570.1l-1 4M247.1 591.1l-.5 1.8M240.4 613.6l-1.1 3.7M236 628l-1.3 4.4M228.6 653.6l-1.3 4.6M225.8 664.1l-2.6 9.9M472.7 831.3l.2-.6M478.3 811.5l.8-4.1M479.5 805.6l3.5-27.6M527.7 760.3l.1-3.9M527.6 745.1l-1-15.2M526.5 728.6l-3-25.2M522.6 697.5l-4.5-25.5M516.9 666.1l-.9-4.5M514.9 655.9l-5-24.7M509.1 627.5l-7.1-41.6M501.7 583.1l-.1-.6M270.7 578.2l-.5 28.4M269.1 618.9l0 .6M256.1 725.6l-.4 4.6M255.4 734.8l0 .6M255.1 740.6l-.3 20.8M255 767.2l.2 4.5M255.5 777.5l.4 4.4M256.5 787.6l.1 .7M354.6 829.9l3.4-20.6M468.4 586l10.4-1.5 10.6-.2M298.6 811.9l1.3-12.5M300 798.3l.1-.6M489.3 612.2l3.7 1.9M501.1 619l4 2.7M506.5 622.8l10 8 9.3 9.1 8.7 9.9 8.3 11.4M545.9 666.1l2.4 3.9M234.8 628.2l3.2-2.9M254.7 613.4l3.1-1.8M259.4 610.7l2.6-1.4M263.5 608.5l9.1-4 9.7-3.4M448.7 795.7l.5 4M449.4 801.5l1 9M450.8 813.8l.5 3.9M408.4 842.2l2.4-7.8M411.3 832.8l4.2-18.7M469.6 580.7l2.6-2.3M475.5 575.7l6-4.2M213.7 680.5l2.2-4.1M218.7 671.3l2.4-3.9M224.2 662.5l13.1-17.2 14.4-14.5M254 628.8l3.3-2.6M468.3 802.2l.1 .6M468.6 804.5l1.7 16.1M214.5 702.6l3.7-9.1M227.7 674.3l6.8-10.9 7-9.8M248.4 645.4l6.3-6.7M258.8 634.9l3.1-2.8M477.4 783l1.2 10.6M479 797.7l.6 6.3M391.4 859.7l3.2-7.2M395.2 851l1-2.5M397.8 844l4.6-16.3M467.3 582l2.8-2.1M473.3 577.7l3.3-2M480.4 573.5l6.7-3M502.7 565.8l3.5-.6M291.6 579.7l8 11.2M300.7 592.6l.7 1.3M302.7 596.1l.2 .4M330.6 794.3l.4 3M331.4 800.8l3.2 18.3M335 820.8l.9 3.9M283.8 571.4l2.4 2.3M288.9 576.5l6.4 7.9M296.5 586l2.5 3.7M331.2 796.7l.1 .5M332 802.5l2.8 16.1M335.3 820.8l.9 3.9M226.3 684.5l2-4M231.1 675.4l2.3-3.9M236.4 666.6l6.9-9.9 7.4-9.2M251.6 646.5l4.2-4.5M481.1 779.3l3 28M319.5 826.9l1.1 3.9M280.1 567.7l6.7 9.3 5.6 10.3M313.5 795.2l4.6 25.6M248.1 770l.6-4.3M249.5 760.2l3.2-17.3 4.1-16.6M509.6 699.9l1.4 3.5M513 708.8l4.7 14.5 3.9 14.9M522.7 743.1l.5 2.5M524.6 753.1l.3 1.8M449.5 816.4l3.8-22.9M469.1 595.3l.9-2.4M471 590.5l.6-1.4M472 588.2l6.3-12.2M331.6 806.9l4.7 22M275.1 564.3l8.4 6.8 7.8 8.4M254.7 766.5l.1-.6M255.3 762.8l.2-1.8M255.7 759.7l3.9-20.3M515.2 698.7l6.8 18.6M525 727.8l.8 3.1M526.3 732.7l1.1 4.4M399.6 813.1l3.9 21.6M262 582.4l3.8-.4M269.6 581.8l.5 0M272.2 581.8l13.2 .9 13.2 2.8M299.6 585.8l.5 .1M303.5 587.1l1 .3M257.3 598l11.4-3.6 12-2.4M428.4 811.8l2.1 14.7M431.5 832.3l.7 3.6M220 620.4l.5-.4M236.9 608.1l3.6-2.1M242.6 604.8l6.3-3.2M249.9 601.1l1.1-.4M339.8 834.9l.7-3.6M340.7 830.3l2.6-16.2M471.1 588.9l3.8-.1M479.2 588.8l13.1 1.3M361.1 843.2l5-23.1M474 582.8l10.3-1.6 10-.5M503.4 581.2l3.8 .5M260.5 566.6l-.2 1.1M260.1 569.3l-4.5 25.7M254.4 600.3l-3.2 14.5M250.1 619.7l-3.4 14.3M245.3 639.7l-4.6 19.8M239.8 663.4l-7.5 38.1-3.9 32.1M228 739.6l-.3 4.7M227.5 761l.2 4.7M495 809.1l.9-4.3M497.7 794.3l.6-4.3M499.4 779.3l.9-24.9M488.7 607.1l-.1-3.4M488.7 598.7l1.2-21M490.5 573.1l1.3-7.4M275.3 573.4l1.2 6.5M276.9 583l1.4 13.8M269.7 758.4l1.6 27.8M271.9 791.8l1.4 9.3M540.7 727.4l-.6-5.4M536.9 699.9l-.9-4.7M534.9 689.2l-6.9-30.8-14.1-55.2M511.4 593.1l-2-8.8M526.9 738.7l-4-19.4-5.7-21.6M515.3 691l-1.6-5.2M483.7 593.5l-5.5-19.3M477.7 572.2l-2.3-9.6M473.2 551.9l-.6-3.8M312.4 567.9l.4 1.7M313.6 573.1l2.3 13.4M299.7 770.7l-1.5 24M535.2 609.8l-2.8-4.8M522.1 588l-2.9-4.6M315.9 563.2l17.4 3.4M334.6 566.9l3.1 1M433.1 802.6l-1.1 20.8M249.5 638.8l3.1-4.4M256.7 629l12.9-14.6 14.4-12.5 15.7-10.4 16.1-7.7M321.7 581.5l4.7-1.5M499.3 707.4l2 10.5M502.2 723.9l2.6 26.5M505.2 761l.1 3M266.6 813.1l-.4-4.9M265.3 796l-.9-28.6M500.2 614.7l3.6 3.7M512.7 628.8l7.6 10.5 7.2 11.8 6.1 11.8 5.5 13M541.6 682.6l1.7 5.2M552.8 732.3l.1 .8M336.7 810.3l-1-18.5M412 574.4l.6-.3M417.8 571.4l10.8-4.4 10.6-3.1M406.4 831.6l.3-15.6M406.7 812.6l0-2M438.6 564.9l6.3-6.3M455.5 550.3l.5-.4M240.2 599.8l-2.7 4.8M227.8 622l-2.6 4.9M472.9 807.6l0-1.4M473 800l-.7-19.7M452.6 575.3l.2-1.2M453 572.9l2.2-11.2 2.9-9.9M460.1 546.5l2.2-5.1M293.4 547.8l-.5 4.3M292.3 556.4l-4.7 24.4M286.9 583.5l-1.1 4.7M250.2 709.6l-6.5 29.7M241.7 751.2l-.7 5.2M239.7 769.1l-.4 6.6M239.1 780.9l-.1 5.2M531.1 741.3l-1-5.2M528.8 729.3l-.2-.7M406.5 823.5l0-8.6M406.5 812.9l0-1.3M434.4 569.6l2.8-3.2M440.8 562.5l7-6.4 7-5.3M255.7 578.8l-2.6 4.7M249.7 589.5l-2.6 4.7M240.7 605.9l-2.6 4.8M478.4 808.8l.1-1.3M478.6 801.2l0-4.9M478.5 790.7l-1-17.1M454.3 580.2l2.8-19.8M294.9 547.7l-.3 4.2M294.1 557.5l-2.3 15.8M258.5 733.6l-.9 5.2M256.8 743.2l-.2 1.5M255.6 751.4l-2.4 20.5-.7 19.7M252.6 798.1l.1 2.9M533.5 696l-3.6-11.2M527.6 678.2l-15.1-40.2M509.9 631.6l-21.7-54.5M315.1 561.7l5.6 13.7M309.8 793.9l-.1 2.7M309.6 800.8l.2 14.3M310.4 824.4l1 9.9M317.1 557l13.8 9.8M376.9 818.6l.1 14.3M373.2 829.2l.7 14.5M374.4 849.2l.2 1.8M282.6 567.8l2.1-.4M290.8 566.2l4.8-.7M304.4 564.8l13.4 .1 13.2 1.8M441 807.6l-.5 10.1M440.1 824.3l0 1.3M261.4 760.7l.2-7.5M262 746.4l2.4-22.7M265.6 716.1l.4-2.2M266.7 710.1l.7-3.7M430.3 577.4l4.7 1.1M439.8 579.8l.6 .2M446.5 582l13.7 5.9 13.7 7.8 12.9 9.6 11.9 11M503.3 621.2l7.2 8.8M335.2 823.5l-.7-14.7M426.5 567.8l4.3-1.4M436.5 564.8l18.2-2.9M240.6 644.2l13.3-18.6 15-15.7M271.6 607.4l4-3.3M499.5 759.4l-.4 31.1M498.5 800.6l-.1 .7M270.4 802.2l-.2-2.8M269.8 792.9l-.3-5.1M269.4 784.2l-.3-14M479.3 593l4.2 2.7M488.9 599.5l4.1 3.2M495.3 604.5l10.4 9.6 9.7 10.6 8.8 11.5 7.8 12.4M338.5 849.1l0-9.2M338.2 829l-.6-14.4M442.5 563.1l13-1.9 12.6-.3M405.5 831.5l.3-11M405.8 818.5l0-4.6M435.6 568.1l1.1-1.4M437.5 565.9l9.4-9.1M242 606.2l-2.6 4.8M224.6 640l-5.2 10.9M480.3 786.7l-3.3-35.3M476.6 748.5l-.1-.7M454.8 594.4l.9-20.9M293.1 551.3l-.1 1.2M292 559.3l-.6 3.2M290.4 568.2l-6.9 29.2M281.2 605.6l-.2 .7M250.3 710l-1.3 5.3M247.6 721.2l-2.5 11.9M244 739.1l-1 5.9M241.9 751.7l-.6 4.5M241.1 757.7l-.5 5.2M528.9 728.8l-5-20.9-6.7-23M498.2 628.8l-3.8-10.6M492.2 611.9l-1.6-4.9M486.7 595.3l-8.4-27.9M477.3 563.6l-.5-2M476.1 558.5l-1.1-4.5M305.6 548.3l1.6 3.6M310.3 560.5l3.6 13.8M298.6 789.8l-.3 15.3 .6 14.3M522.2 588l-2.9-4.7M275.2 568l4.7-1.2M309.1 563.7l14.6 1.2 14.7 3.4M437.2 805.2l-.5 10.2M436.4 821.4l-.2 4.6M220.7 698.4l1.5-5.3M223.6 688.5l.5-1.5M225.1 684l3.2-8.8M229.2 673l4-9.4M236.3 657.4l6.8-12.2 7.7-11.4M461.8 805.1l0-1.4M461.7 797.5l-1.1-21.8M446.2 587.4l3.1-15.7M450.4 567.7l.2-.6M507.1 576.5h0M514.8 733.6h0M400.3 817.5h0M298 816.9h0M318.3 822.4h0M318.6 823.1h0M479.1 574.8h0M302.6 562.5h0M434.3 569.9h0M322 579.4h0M315.5 556h0M337.5 813.2h0M454.8 599h0M530.3 735.6h0M308.8 556.1h0M437.5 799.1h0"/><path stroke="#00aaff" d="M459.5 586.8l10.6-4.8M474.4 580.5l4.9-1.4M375.7 829.1l.2-.5M376.8 823.7l1.8-10.4M379.7 806l.2-1.1M263.5 692l11.6-21.6M482.1 660.4l2.5 3.5M486.7 667l8 13.4 6.9 14.1M288.9 580.5l1.5 2.5M291.5 585.2l5.5 12.5M312.7 783.9l0 .6M312.9 786.3l2.8 21.4M269.1 767.3l.2-1.2M271 755.7l3.9-19.5M277.4 726.4l.6-2.4M476.6 627.9l1.4 1.1M489.5 638.8l9.7 10.2M502.8 653.3l7.1 9.4 6.9 10.6M519.6 678.3l.6 1.1M460.2 608.2l.2-.5M461.5 604.8l4.2-10.1 4.6-8.9M440.6 814l.2-1.1M442.5 803l1.3-10M444.7 783.9l.4-4.2M292.4 583.9l13.8 4.2M307.1 588.5l6.2 2.7M314.6 591.9l1 .5M398 801.2l2.2 15.7M400.4 818l.6 3.8M478.4 635.9l0-4.2M478.4 630.6l1.5-27.3M483 777.4l.8-22.7M483.8 752.1l0-4.5M523.4 702.8l-.7-4.7M517.9 671.3l-.8-4.5M515.9 661l-.9-4.5M509.8 630.6l-.5-2.5M270.1 607.2l-.9 11.1M269 620.1l-5.3 42.7M262.1 673.7l-.6 4.5M261.1 681.4l-.3 1.9M260.6 684.6l-.5 3.9M259.6 692.4l-3.5 32.6M255.7 730.9l-.2 3.2M255.4 736.1l-.2 3.9M358.1 808.7l1.7-14.3M443.4 594.6l7-3.2M454.8 589.7l13-3.6M300.2 797.1l2.5-21.7M468.4 603.9l10.3 3.5 10.1 4.5M493.5 614.4l7.1 4.3M505.5 622.1l.5 .3M282.9 601l17.6-3.6 18.2-.5M445.9 772.2l2.8 23M449.2 800.3l.1 .6M415.6 813.5l2.7-18.4M457.1 594.7l6-7.4 6.2-6.3M472.5 578.1l2.7-2.1M252.2 630.4l1.4-1.2M257.8 625.8l11.3-7.9M273.7 615.2l4.2-2.2M465.3 775.3l3 26.3M468.5 803.3l0 .6M241.9 653.1l6-7.2M255.2 638.3l3.1-3M262.4 631.7l10-7.8 10-6.4M474.1 759l.2 1.2M474.6 762l2.7 20.4M478.6 794.2l.3 2.9M402.5 827.2l4-21.8M462.4 586.1l4.5-3.8M470.5 579.7l2.4-1.7M477 575.4l3-1.6M299.9 591.3l.5 .8M301.7 594.3l.7 1.3M303.2 597l6.1 13.2M309.7 611.2l.8 2M328.7 773.9l.3 4.2M329.2 779.9l1.3 13.8M331 797.9l.4 2.3M295.6 584.8l.6 .8M299.2 590.1l5.1 8.7M304.7 599.8l1.6 3.2M329.6 780.5l.2 2.4M330 785.4l1.1 10.7M331.4 797.8l.5 4.1M256.2 641.5l15.4-13.8 16.9-11M293.2 614.3l3.7-1.7M474.4 738.8l.4 1.8M477.7 755.8l3.3 22.9M292.6 587.7l4.5 10.8 3.8 11.6M311.4 770.9l.2 4.3M311.9 779.5l1.5 15.1M257 725.7l4.5-14.5 5.2-13.6M269 692.4l1.9-4M495.4 671.7l5 8.7M503 685.4l6.3 13.9M511.2 704l1.6 4.2M453.4 792.9l2-25.6M455.6 763.6l0-.7M462.5 618.3l.2-1M464.1 611.4l4.8-15.6M470.2 592.4l.6-1.4M328.6 782.1l.1 .6M329.2 788.1l2.3 18.3M291.7 579.8l6 8.3 5.6 9.6M259.8 738.8l3.9-15.3 4.7-14.4M269.2 706.7l1.6-4.1M493 659.2l2.6 3.5M498.7 667.4l5 8M504.6 677l10.3 21.1M397.1 794.4l2.4 18.2M300.5 586.1l2.5 .8M304.9 587.6l13.1 6.1M281.2 592l14.7-.9 14.5 1.3M311.5 592.6l1.5 .3M426.1 793l.4 3.5M426.9 799.9l1.4 11.3M228.8 613.5l3.5-2.4M343.4 813.5l1.8-14.6M454.3 591.2l16.3-2.3M475.4 588.7l3.3 .1M366.2 819.6l2-13.9M368.4 804.5l.5-4M450.9 591.2l11.2-5 11.4-3.3M255.4 595.6l-.8 4.1M251.1 615.4l-.9 3.7M246.5 634.7l-1 4.4M240.6 660.2l-.6 2.6M500.2 753.8l-1.6-35.7M491.1 645.9l-.4-4.3M490 633.7l-.5-6.7M489.2 621.7l-.5-14M488.6 603.1l0-3.9M278.3 597.4l.3 26.7M271.4 715.2l-.7 9.7M270.6 726.9l-.9 30.9M517 697l-1.5-5.2M513.5 685.1l-29.6-90.9M316 587.1l1.1 13.5 .4 14.6M317.3 626.9l-2.7 33.6M313.8 667l-7.6 52.6M305.2 726.2l-5.5 43.8M338.3 568.1l13.3 5.4 13 7.5M434.2 775.9l-.1 3.6M434 780.9l-.9 21M316.4 583.5l4.6-1.7M327.1 579.8l13.6-3.1 14.5-1.7 13.8 .1 14.4 1.8 13.4 3.3 13.6 5 12.5 6.4 12.3 8.1 11.6 9.5 10.6 10.7 9.5 12 8.6 12.9 7.4 13.8 6.5 15.2 5.4 15.8 4.3 17M501.4 718.6l.7 4.5M264.5 766.6l1.2-27M265.9 736.5l1.4-11.3M442.8 579.6l13.9 5.1M462.5 587.4l9.5 5.1 9.7 6.4 9.2 7.2 8.8 8M504.4 619l7.8 9.2M335.7 791.1l-.8-22.1M391.7 588.5l9.8-7.6 9.9-6.2M413.1 573.8l4.1-2.1M406.7 815.3l0-2M406.6 810l-.2-9.5M406.2 796.4l-.2-4.8M426.2 581.3l7.7-10.9M434.7 569.4l3.5-4.1M472.2 779.6l-2.6-26.6M450.8 595.4l.1-1.3M451 592.2l1.5-16.3M287.4 581.5l-.3 1.3M285.6 588.8l-5.8 21.2M278 616.3l-1.5 4.9M274.5 627.6l-6.9 22.3M263.7 662.3l-13.3 46.5M406.5 814.2l0-.6M406.5 810.9l-.6-18.4M428.7 577.4l5.4-7.3M437.5 566l2.9-3M477.4 772.9l-3.2-27.5M453.9 604.8l-.1-4.6M453.8 598.9l.5-18.1M294 584.1l-2.6 14.7M291.1 600.1l-1 4.8M288.8 611.1l-.3 1.4M262.7 713.6l-4 19.3M257.4 739.6l-.5 2.9M256.5 745.5l-.8 5.1M512.2 637.3l-2-5M320.9 575.9l.9 2.9M322.2 580l3.6 14.5M311.4 769.2l-.4 5M310.5 780.6l-.7 12.6M309.7 797.3l0 2.8M331.3 567.2l8.4 8.1 7.5 9M377.8 790.9l-.1 2.8M377.4 799.9l-.5 18.1M331.7 566.8l13.3 3.6 12.8 5.2M442.6 768.8l-1.5 38.1M264.5 722.9l.9-6M266.1 713.1l.4-2.2M267.6 705.6l4.1-16.2 5.1-15.1 6.2-14.5 7.2-13.9 8-12.4 8.9-11.5 9.9-10.5 10.7-9.4 11.5-8.2 11.6-6.5 12.7-5.4 12.6-3.8 13.5-2.6 13.1-.9 13.8 .5 13.1 2M435.7 578.7l3.4 .9M441.1 580.2l4.7 1.6M334.5 808.1l-1.1-22.1M409.4 575.5l16.5-7.5M431.5 566.2l4.4-1.2M269.4 609.4l1.7-1.5M276.2 603.6l10.6-7.7 11.1-6.7 11.6-5.4 11.4-4.1M326.9 578.1l4.8-1.1M337.9 575.8l4.8-.6M496.5 723.2l2 17.4 1 18.1M269.1 769.4l.4-17.9 1.2-16.6M401.5 574.3l2-.2M409.7 573.8l11.1 .2 10.3 1.1M437.3 576.2l10.8 2.7 10.7 3.8 9.8 4.3 10 5.6M484.1 596.2l4.2 2.9M493.6 603.1l1.1 1M337.5 812.6l-.6-13M336.7 796.9l-.1-3.5M413.3 573.7l14.2-6.3 14.4-4.2M405.8 819.8l0-.7M405.8 813.2l-.7-21.1M425.6 581.8l9.6-13.3M476.9 750.7l-.2-1.4M476.4 747.1l-1.6-10.3M473.9 730.9l-2.9-17M469.8 707.2l-1-5.2M467.6 695.4l-6.2-34.7M460.4 654.2l-3.1-22.3M456.6 625.6l-1.8-25.9M454.8 598.3l0-3.2M283.3 598.1l-1.9 6.8M280.9 607l-21.8 71.2-8.6 31.1M248.9 716l-1.1 4.5M245 733.9l-.9 4.4M517 684.1l-18.6-54.6M494.2 617.5l-1.7-4.9M490.3 606.3l-3.4-10.3M314.1 574.9l2.8 20.4M317.2 599.9l.2 3.3M300.8 761.3l-.5 5M299.9 770.6l-1.3 18.5M339.1 568.4l11.6 4.3 11.7 5.9M438.4 780.1l-.8 18.3M437.5 799.7l-.2 4.9M460.6 775l-2.6-24.5M444.1 610l.1-2M444.3 606.7l1.8-18.7M278.1 665.7h0M298.6 602.1h0M445.2 775.6h0M439.2 596.9h0M300 798.9h0M329.4 778.1h0M251.1 647h0M463.7 613h0M471.8 588.7h0M299.1 585.6h0M333.9 566.8h0M450.7 599.3h0M452.9 573.5h0M363.1 578.3h0M337.6 813.9h0M437.1 566.3h0"/><path stroke="#001cff" d="M449.1 593.2l9.9-6.2M378.7 812.7l.9-6.1M379.9 804.3l2.1-18M442 598.8l10.6-8M275.4 669.9l2.4-3.7M278.5 665.2l8-10.9 8.9-10.1 9.6-9.1 10.3-8 10.9-6.9 10.9-5.4 11.8-4.4 11.6-3M370 605.9l17.5-.5M397.1 606.3l3.9 .6M406 607.9l3.9 1M414.8 610.3l8.1 2.8M427.7 615.1l3.7 1.7M436 619.2l12.5 7.7 12.1 9.6 11.1 11.1 10 12.3M485 664.4l1.4 2.1M297.2 598.2l1.2 3.4M298.8 602.6l4.1 14.5M303.2 618.7l.9 3.8M311.1 756.1l1.5 27.2M312.8 785.1l.1 .6M275.1 735.6l2.1-8.6M278.2 723.4l6.3-19.1M285.1 702.5l1.7-4M443.1 610.2l2.2 .8M450.1 612.9l13.1 6.3 12.9 8.4M478.5 629.4l10.6 9M499.6 649.5l2.8 3.3M445.3 775l1.3-30.5M454.7 628.3l5.4-19.5M460.6 607.2l.7-1.9M443.9 792.4l.8-7.8M445.1 779.1l.6-8.6M313.7 591.4l.5 .3M316 592.6l14 9M395.3 776.6l2.7 24M481.6 700.9l-2.4-39.3-.8-25.1M483.8 754l0-1.3M483.8 747l-2.1-45.6M263.6 663.4l-1.4 9.6M261.4 678.8l-.2 1.9M260 689.1l-.3 2.6M359.9 793.9l2.1-19.5M419.4 611.8l6-5.3M428.7 603.9l10.1-6.7M439.7 596.6l3.2-1.7M450.9 591.2l3.4-1.3M302.8 774.8l2.9-20.5M428 600.2l8.3-.5M437.9 599.7l15 .9 15 3.1M319.2 596.9l12.5 1.6 12.6 3.2M349 603.4l7.5 3.2M443 751.7l.1 .6M443.9 757.8l2 13.8M418.3 794.5l2.3-24.6M443 619.7l.9-2M446 613.4l5.2-9.7 5.6-8.6M269.6 617.6l3.6-2.1M278.4 612.7l10.1-4.5 10.8-3.7 10.5-2.4 11.1-1.4M462.5 756l2.7 18.7M282.9 617.2l11.5-5.7 11.4-4.3 11.5-3 11.8-1.7M334.1 602.2l3.9-.1M469.8 736.5l4.2 21.9M474.4 760.8l.1 .6M406.6 804.8l2.5-21.6M444.5 607.4l3.2-4.7M450.5 599l11.5-12.6M310.7 613.7l5.7 18.4M317.5 636.5l1.8 8.5M321 654.8l.7 4.2M323 669.2l2.3 27.1 1.6 37.1M327.1 739.1l1.6 34.1M329.1 778.7l0 .6M306.6 603.5l4.6 11.2 4.1 12.5M328 754.1l.2 4.4M328.3 762.2l.1 1.2M328.6 767.1l.7 10.4M329.4 778.7l.1 1.2M329.8 783.5l.1 1.3M289 616.4l3.7-1.8M297.4 612.3l17.9-6.2 9.5-2 9.5-1.2M337.1 602.8l3.9-.2M471.2 725.4l3.1 12.7M475 741.2l2.6 14M301 610.6l3.4 14.5 2.5 15.9M310.5 746.6l.8 23.7M311.7 775.8l.2 3.1M267 697l1.7-4M271.1 687.8l7.1-13.2 7.7-12M289.2 658.1l2.6-3.4M453 626.2l3.4 2.4M466.1 636.4l1.4 1.2M469.7 639.7l13.6 14.8 11.7 16.7M500.7 681l2 3.9M455.4 766.7l.1-2.5M455.6 762.3l.4-13.8M456 743.5l.1-12.7M457.1 662.9l.2-4.3M458.4 644.9l.1-.6M459.1 639.1l3.3-20.2M462.9 616.7l.7-3.2M463.9 612.5l.1-.6M310.8 614.9l.5 1.5M312.2 619l1.1 3.6M327.1 756.9l1.5 24.6M328.7 783.3l.4 4.2M303.6 598.1l6.9 15.9M268.6 708.5l.4-1.2M271 702l6.1-13.8 7-13.3M294.9 658.4l2.6-3.4M393.7 605.1l3.9 0M420.6 608.5l3.9 1M438 614.4l7.8 3.7M450.4 620.6l3.6 2.2M458.4 625.6l9.1 6.8 9 8 8.4 8.8 7.7 9.5M495.9 663.3l2.5 3.6M504 675.9l.3 .6M395 774.3l2.1 19.5M318.5 594l8.3 5.3 8.2 6.5M313.6 593l11.3 2.9 11.4 4.5M425 783.1l1.1 9.4M426.6 797.1l.3 2.3M345.3 798.3l2.4-21.1M425 603.1l14.2-7.1 14.6-4.7M368.9 800l1.6-13.4M433.6 602.7l8.4-6.2 8.4-5.1M498.5 717.5l-7.4-71M490.6 641l-.6-6.7M489.5 626.4l-.3-4.1M278.6 624.7l-1.6 28-5.5 61.9M270.7 725.6l0 .6M317.5 615.9l-.2 10.3M314.5 661.2l-.6 5.1M306.1 720.3l-.7 5.2M365.2 581.3l12 9.2M379.6 592.7l3.4 3.2M434.5 762.1l-.3 13.1M265.7 738.8l.2-1.5M267.4 724.5l1.8-11.3M270.5 706.5l6.1-22.8M280.9 671.6l.2-.7M335.9 597.9l4-2.8M360.2 584.2l4.4-1.8M370.5 580.3l4.6-1.4M377.1 578.3l16.2-3.1 16.6-.8 16.5 1.5 15.7 3.5M457.4 585l4.5 2.1M334.9 768.3l-.1-22.7M335 738.9l1.5-24.5 3-22.1M340.7 685.8l2.4-10.8M344.7 668.6l1.4-4.9M348.1 657.5l6.1-16.1 7.1-14.5M367.3 616.8l11.3-15.1 12.6-12.8M406.4 799.8l-.1-2.7M406 790.9l-.6-9.8M405.3 779.7l-.3-5M411.8 613l1.3-3.7M415.6 602.6l4.9-11 5.4-9.8M469.5 752.2l-2.1-14.6M466.4 731l-1.7-11.1M451.9 631.4l-.4-5M451.2 622.3l-.5-22.3M450.7 598.6l.1-2.6M450.9 593.4l0-.6M279.6 610.7l-1.4 4.9M276.3 621.9l-1.6 5M267.3 650.6l-3.4 10.9M405.8 791.9l-.6-11.2M404.8 774.3l-.3-5M412.5 610.8l.4-1.2M415.4 602.9l6-13.3 6.9-11.7M474.1 744.6l-6.9-41.3M465 690.7l-.3-1.5M463.9 684.8l-.4-2.3M457.4 643.8l-2.3-20.5-1.2-17.8M290 605.6l-1.1 4.8M288.3 613.2l-25.4 99.7M325.9 595.1l2.3 14.1 1.3 15.4M329.8 630.8l.1 17.6-.9 19.5-4.7 49.6M313.2 751.9l-1.7 16.6M310.9 774.9l-.3 4.9M347.6 584.8l6 8.9 5.7 10.1M378.8 773.3l-.9 16.9M377.7 794.4l-.2 4.8M358.4 575.8l4.1 2.1M363.7 578.6l8.5 5.1 8 5.9 14.7 13.7M396.3 604.8l3.1 3.6M442.6 751.2l0 16.9M333.4 785.3l-.7-28.9M382.9 595.8l12.3-10.9 13.6-9.1M321.5 579.5l4.8-1.3M332.4 576.8l4.8-.9M343.4 575.1l11-.7 11.8 .4 11.6 1.5 11.4 2.7M392.5 579.9l9.7 3.6M407.9 586l13.5 7.3M422.6 594.1l4 2.7M431.8 600.5l8.2 6.8M448.7 615.8l3.4 3.7M456.3 624.5l6.5 8.7M466.5 638.7l2.8 4.3M472.6 648.8l8.2 16.8 6.6 17.6 5.2 19 3.8 20.2M270.8 734.2l3.7-24.8 5.6-22.8M342 596.1l11.8-7.3 11.9-5.6M369.5 581.6l4.6-1.6M372.1 581.1l14.5-4.3 14.2-2.4M404.2 574.1l4.8-.3M431.8 575.2l4.8 .9M336.8 798.9l0-1.4M336.5 792.7l-.8-20.6M395.5 585.6l8.4-6.2 8.9-5.4M405.1 791.4l-1-16.1M403.7 768.9l-.1-.7M412.6 609.2l5.8-14.3 6.8-12.6M474.7 736.1l-.7-4.5M470.8 713.2l-.9-5.2M468.7 701.3l-1-5.2M461.3 660l-.8-5.1M457.2 631.2l-.5-4.9M316.9 596l.3 3.2M317.4 603.8l.2 5.3M317.6 610.5l0 10.8M304.5 732.8l-.6 4.5M303 743.8l-2.1 16.8M300.2 767.1l-.2 2.8M363 579l10.4 6.9 10.3 8.4M438.6 748l-.2 31.3M457.9 749.8l-4.3-31.6M453.4 716.7l-4.8-34.9M447.8 675.2l-2.8-28.4M444.5 640.4l-.4-29.7M446.7 740.7h0M306.7 588.3h0M478.4 631.2h0M260.7 684h0M442.3 747.4h0M309.5 610.7h0M304.5 599.3h0M470 721.2h0M292 662.4h0M310.9 592.5h0M424.4 777.8h0M368.3 805.1h0M434.5 756.3h0M434.1 780.2h0M458.3 650.3h0M453.8 599.5h0M291.3 599.5h0M391.5 589h0M305.6 725.5h0M388 598.5h0M444.2 607.3h0"/><path stroke="#7100ff" d="M382.1 785.7l2.7-27.1M424.9 617.4l8.1-9.9 8.6-8.4M361 607.3l8.4-1.3M388.1 605.4l8.4 .8M401.6 607l3.9 .8M410.4 609l3.9 1.1M423.5 613.3l3.7 1.6M431.9 617.1l3.6 1.8M303 617.6l.1 .6M304.2 623.1l3.1 19.2 2 22M309.7 669.8l.4 9.3M310.2 684.7l.2 9.4M310.5 699.8l.1 14.6M310.7 724.6l.4 30.9M284.7 703.7l.2-.6M287 697.9l7.6-16.5 8.6-14.9 9.6-13.4 10.8-12.2M327.4 637.2l6.6-5.8M345.8 622.8l11.5-6.6 11.5-5 11.9-3.7 12.1-2.3 12.9-1 12.4 .5 12.4 2 12.1 3.3M445.8 611.2l3.8 1.4M446.6 743.9l.1-2.5M446.7 740.1l.9-42.4 1.2-25.5 2.3-23.4 3.5-19.9M330.4 602l9.9 8.7 9 10.1M355.2 628.8l2.2 3.2M391 738.9l.4 3.1M393.2 757.3l2 18.8M481.7 700.7l-.4-5.1M362.1 773.8l3.4-29.1 3.6-22.8M389.7 653.7l.8-1.5M392 649l.6-1M394.5 644.4l.3-.5M399.2 636.6l.3-.5M402.3 631.8l8.1-10.5 8.6-9.1M425.8 606.1l2.5-1.9M305.8 753.7l3.7-18.8 4.2-17M315.4 711.9l.4-1.2M385.1 614.2l.5-.3M390.5 611.3l3-1.5M395.5 608.9l15.7-5.6 16.2-3M436.8 599.7l.6 0M344.8 601.9l3.6 1.3M357 606.8l11.1 6.1 11 7.7 10.1 9.1 9.4 10.2M401.8 644l7.8 11.1 7.3 12.5M419.4 672.4l8.5 19.8 6.8 21.2M436.2 718.9l6 27.9M442.4 748l.5 3.1M443.2 752.9l.6 4.2M420.6 769.3l1-14.8M421.9 749.6l.2-5M422.4 739.6l.3-4.4M423 729.5l.1-1.8M432.8 651.4l1-3.9M434.5 644.7l3.8-12.6 4.5-11.9M444.1 617.3l1.6-3.5M321.5 600.6l10.6-.2 11 .9 10.9 2.1 10.6 3.2M454.6 719.6l.5 1.8M457.3 729.9l.3 1.2M458.4 734.7l4 20.7M329.6 602.5l3.9-.3M338.6 602.1l9.5 .4 9.9 1.3 9.8 2.3 9.5 3.1M448 675.7l2 3.8M456.5 693.6l7.2 20 6 22.3M409.2 782.6l1.4-17M437.6 619.5l6.6-11.6M448 602.3l2.1-2.9M316.6 632.6l.8 3.4M319.4 645.6l1.5 8.7M321.7 659.6l1.2 8.9M326.9 734.1l.1 4.4M315.4 627.8l3.2 12.7 2.7 14.3 3.7 33.4M325.4 693.8l2.5 59.7M328.2 759.1l.1 2.5M328.4 764l.2 2.5M334.8 602.9l1.7-.1M341.6 602.6l10.6 .4 10.5 1.5 10.3 2.5 10.1 3.5 9.8 4.5 9.4 5.4 8.9 6.3 8.9 7.5 8 7.9 7.7 9 7.1 9.8 6.5 10.4 6.1 11.4 5.3 11.9 9 26M470.2 721.8l.8 3M307 641.5l1.7 17.2 1 20.3 .8 67M286.3 662.1l2.5-3.5M292.2 654.2l8-9.1 8.6-8.4 9.2-7.5 9.2-6.3 10.1-5.7 10-4.4 10.3-3.4 10.5-2.5 11.3-1.4 10.7-.2 10.7 .7 10.7 1.9 10.4 2.8 10.8 4.1 9.9 4.9 9.9 6.1M456.9 628.9l8.8 7.1M467.9 638.1l1.3 1.2M456 747.9l0-3.8M456.1 730.2l.1-41.3 .8-25.4M457.4 658l1-12.5M458.6 643.7l.4-4M311.5 616.9l.5 1.6M313.5 623.2l5.9 24.9 3.9 29.9M323.8 683.5l1.8 34.5M326 728.7l.2 4.4M326.3 738.2l.7 18.1M310.7 614.5l1.6 4.6M284.4 674.4l7.3-11.5M292.4 661.9l2.2-3M297.9 654.5l9.6-10.9 10.4-9.8 11.3-8.5 12-7.2 12.5-5.7 13.1-4.1 13.3-2.4 13-.8M398.2 605.2l10.7 1 11.2 2.1M425 609.7l12.4 4.5M446.4 618.4l3.5 2M454.5 623.1l3.4 2.2M390.6 736.5l4.3 37.2M335.4 606.1l7.3 7 7.1 8.3M360.2 636.5l2 3.4M336.8 600.7l14 8 12.9 10.2M370.8 625.9l2.7 2.9M418.3 734.8l2.3 14M420.9 750.6l3.4 26.6M424.5 778.4l.4 4.1M347.8 776.7l3.6-28.5M352.2 742.7l.4-2.4M403 620.7l6-5.7M411 613.2l13.5-9.8M370.5 786l3-28.2M375.9 737.5l.6-4.3M408.3 632.1l2.1-3.3M413.3 624.7l2.3-3.1M416.6 620.3l8.1-9.3 8.5-8M377.7 591l1.5 1.3M383.5 596.4l7.7 8.4 7.5 9.7 6.7 10.5 6 11.1M414.1 641.9l6.1 15.3M422.2 663.4l4.5 16.3M430.2 697.8l.8 5.2M431.6 707.4l.2 1.5M432.6 715.6l1.4 19.3 .5 20.7M434.5 757l0 4.4M269.3 712.4l1.1-5.2M276.8 683l3.8-10.7M281.4 670.2l10.2-21.6 6.1-10.1 6.7-9.6 7.3-9 7.4-7.9 7.9-7.2 8.3-6.5M340.5 594.7l9.6-5.7 9.4-4.6M365.3 582.1l4.5-1.6M375.8 578.7l.7-.2M334.8 744.9l.2-5.2M339.6 691.6l1-5.1M343.2 674.3l1.3-5M346.3 663l1.6-4.9M361.6 626.3l5.3-8.9M405 774l-2.3-34M402.3 733.3l-.3-5.2M401.3 709.6l-.1-5.2M401.1 697.7l0-5.2M401.2 685.9l.2-5.2M402.5 662.6l2.7-21.8M407.5 629.2l4.1-15.5M413.3 608.7l2-5.5M467.3 736.9l-.8-5.2M464.6 719.2l-8.7-54-4-33.1M451.5 625.7l-.2-2.7M405.2 780l-.4-5M404.4 768.6l-1.9-28.3M402.1 733.6l-.2-5.1M401.6 721.8l-.2-5.2M401.1 709.9l.1-28.9M401.5 674.5l.7-10.9M402.8 657.2l1.4-10.6M405.2 640.4l3-14.8 4.1-14.2M413.1 608.9l2-5.4M467.1 702.6l-2-11.2M464.6 688.5l-.5-3M463.4 681.8l-5-30.8M458.2 649.6l-.7-5.1M329.5 625.3l.2 4.8M324.2 718.2l-.9 7.4M317.7 716.5l-4.4 34.6M359.6 604.4l8 18.9 5.9 20.6M374.7 649.4l2.8 16.2M379 677.8l1.3 19.1 .5 21.5M380.7 725.9l0 4.4M380.5 737l-1.7 35.6M395.4 603.8l.4 .5M399.8 609l7.5 9.9 7.1 11.2 5.9 11.3 5.4 12.5M427.2 658l3.5 10.4M432.6 674.7l4.1 17.3 3 18.4 1.9 19.3 1 20.8M332.7 755.7l.4-20.7 1.4-19.3 2.3-18.4 3.2-16.8M341.5 674.1l1.3-5M346.4 657.3l1.7-4.8M350.4 646.5l4.3-9.7M357.5 631.1l11.6-18.8 13.3-16M389.8 579.1l2 .6M402.9 583.7l4.4 2M427.2 597.2l4 2.9M440.5 607.8l7.7 7.5M452.5 620l3.3 3.9M463.3 633.8l2.8 4.2M469.6 643.7l2.6 4.5M280.3 685.9l4.9-14.3 5.6-13.1 6.5-12.5 7.4-11.8 8.2-11.1 8.6-9.6 9.9-9.2 10-7.8M366.3 582.9l2.6-1M335.7 771.4l-.2-24.8M335.6 745.1l.1-5.2M367.7 617l2.7-4M372.3 610.2l8.9-10.9 9.8-9.9M392 588.6l3-2.6M404.1 774.6l-.4-5M403.6 767.5l-2.9-49.9-.1-36.3M400.9 674.8l1.3-17.3 2.3-16.2M405.1 637.9l3.2-14.7 4.1-13.3M317.6 622l-1 19-2.1 21.6-8.8 62.1M305.4 726.2l-.8 5.9M303.8 738l-.8 5.1M384.2 594.8l3.3 3.2M388.5 599l11 12.8 10 15 8.5 16.3 7.1 18.1 5.5 19 4.1 21.1 2.7 22.3 1.2 23.7M448.5 681.1l-.6-5.2M444.9 646.1l-.3-5M456.4 726.2h0M405.4 780.4h0M422 593.7h0M317.6 609.8h0M453.5 717.4h0"/><path stroke="#ff00ff" d="M384.8 758l5.9-47.5 3.7-19.5 4.3-17.2 5.3-16.5 6-14.5 6.8-13 7.8-12M309.4 664.9l.2 4.3M310.1 679.7l.1 4.4M310.4 694.8l.1 4.4M310.6 715l.1 8.9M324 640.5l3-2.9M334.5 631l10.8-7.9M349.7 621.2l5.2 7.1M357.7 632.5l5.8 9.8 5.4 10.9 5 12 4.3 12.5 7.2 28 5.5 32.6M391.5 742.6l1.7 14.1M369.2 721.3l3.9-18.9 4.6-17.3 5.4-16.1 6.3-14.7M390.7 651.6l1.1-2.1M392.8 647.5l1.4-2.6M395.1 643.4l3.8-6.4M399.8 635.6l2.2-3.3M313.9 717.3l1.4-4.8M316 710.1l5.8-16.4 6.4-14.7 7.4-14 8.2-12.6 9.2-11.6 9.8-10 10.5-8.8 11.3-7.5M386.1 613.7l3.9-2.2M394 609.6l1-.5M398.9 640.3l2.6 3.2M417.2 668.1l1.9 3.8M434.9 714l1.1 4.3M421.6 753.9l.2-3.7M422.2 743.9l.2-3.7M422.7 734.6l.3-4.4M423.2 727l3.7-42.3 2.6-16.9 3.2-15.8M433.9 646.9l.5-1.7M365.1 606.8l14.8 6.6 14.3 9.1 13.1 11.2 12.2 13.5 10.8 15.2 9.4 17.1 8 18.7 6.8 20.8M455.3 722l.9 3.6M456.5 726.9l.6 2.4M457.7 731.7l.6 2.4M377.9 609.4l10.3 4.6 10.3 6 9.4 6.6 9.2 8 8.6 8.8 8 9.7 7.2 10.4 6.8 11.6M450.3 680.1l5.9 12.9M410.6 765l4.3-54.1 4.9-34.9 3.4-15.9 4-14.7 4.8-13.4 5.4-12.1M325 688.8l.3 4.4M323.3 678.6l.4 4.3M325.7 718.6l.3 9.5M326.2 733.8l.1 3.7M383.5 697.4l3.8 18.2 3.2 20.3M350.2 621.8l9.7 14.2M362.5 640.4l6.8 13.5 5.9 14.9 5.2 16.2 4.3 17.3M364.1 619.2l6.3 6.3M373.8 629.3l7.8 9.8 7.1 10.6 6.3 11.4 5.9 12.5 5.3 13.7 4.4 14.1 4.1 15.7 3.5 17M420.7 749.4l.1 .6M351.4 747.6l.7-4.2M352.7 739.7l3.5-19.6 4.3-18.2 5-16.5 5.8-15.4 6.6-14 7.6-13.2 8.3-11.6 8.8-10.1M409.4 614.7l1.2-1.1M373.6 757.2l2.2-19.1M376.6 732.6l5.3-30.7 6.8-26.1 8.6-22.9 10.7-20.3M410.7 628.4l2.2-3.2M415.9 621.2l.3-.4M411.7 636.7l2.1 4.5M420.4 657.9l1.6 4.8M426.8 680.4l3.3 16.7M431.1 703.7l.4 3M431.9 709.6l.6 5.2M402.6 739.2l-.3-5.1M402 727.4l-.7-17.1M401.2 703.6l-.1-5.2M401.2 691.8l0-5.2M401.4 680l1-16.7M405.3 640.1l2-10.2M402.5 739.5l-.3-5.1M401.8 727.7l-.2-5.2M401.3 715.8l-.1-5.2M401.2 680.3l.3-5.1M402.3 662.9l.5-5M404.3 645.9l.7-4.8M318.4 710.6l-.7 5.2M373.6 644.5l1 4.2M377.6 666.3l1.3 10.8M380.8 719.2l-.1 5.9M380.6 731.1l-.1 5.1M426 654.6l1 2.7M431 669.1l1.4 4.9M340.1 679.8l1.2-5M343 668.4l3.2-10.4M348.4 651.9l1.8-4.7M355 636.1l2.2-4.4M335.7 739.2l1-18.6 1.9-17.8 2.6-16.1 3.5-15.8 4.4-14.6 5.3-14.1 6-12.7 6.9-12M370.7 612.4l1.2-1.6M400.6 680.6l.2-5.1M404.6 640.7l.3-2.1M335.5 745.8h0"/><path stroke="#000" d="M565.7 598.4l2.5 1.9M351.8 883.9l.9-1.2M524.8 803.9l0 .6M237.1 839.6l.1-1.1M575.8 713.5l-.3-2.1M259.7 854.9l.1-1M547.8 777.9l.3 3.1M530.8 544.8l1.6-.1M412.1 877.8l.7-.8M418 873.8l1.3 2.1M261.7 511.6l0 .5M521.9 807.8l.5-1.9M252.5 518.1l1.1 1.3M287 866.5l1.6 2M334.8 881.4l.3-.4M288.1 868.2l.3-.9M177.2 739.6l.4-2.1M385.4 882.9l1-1.2M483.8 840.9l.2 1M243.6 525.2l-1.9 2.8M176.5 636.6l-.9 2.1M550.8 569.7l.5 .2M366.1 883.5l.8 .8M506.7 515.3l-.5-1.1M218.3 551.6l1.1-.2M487.2 836.7l.3 2.1M575.5 714l-.1-.7M502.8 512.3l-.2-.5M529.8 796.7l.2 3M261.7 511.5l-.3 1.1M189 771.8l.1 .7M218.7 550.9l1.1-.1M440.3 864.8l1 2.2M170.5 694l1.3-3.3M323.8 879.2l.2-.4M342.6 882.6l1.2-1.5M573.7 615.9l1.4 1.4M503.2 514.5l.3-2.2M472.8 494.9l.2-.5M267.1 508l1.5 .7M312.3 873.7l1.5 3M513.7 564.6l-32.4-46.7-17.5-27.5M215.4 555.3l10.2-4.5 11-3.5 10.2-2.4 10.8-1.4 10.6-.4 10.3 .7 9.9 1.7 9.6 2.6 9.1 3.6 9.1 4.7 8.1 5.3 8 6.6 7.4 7.3 6.7 8.1 6.1 8.8 5.7 10 7.2 16.3 5.8 18.2 4.3 19.9 2.9 22.3 1.4 22.1 .1 24.5-3.5 79.4-.2 27.6 .8 14.3 1.6 13.2 2.4 11.6 3.3 11M271.4 860.8l-.1-1.2M335.1 881.3l.3-1.7M287.5 496.1l-2.9 2.6M194.6 588.9l-2.7 3.3M533 537.5l.7 .2M300 490.3l-.2 .5M182.6 754.2l-.1 1.7M465.9 853.5l.9-3.2M289.2 495.2l.5 1.4M249.6 849l.3 .7M534.9 795.3l.1-2.2M288.8 495.4l-1.1 1M191.9 594.2l-2.1 2.7M396.6 881.3l.8-2.2M529.9 537l3.5 .8M186.6 763.9l-.1 2.5M472.2 849.8l.3-1.3M287.7 496l.4 .9M264.5 856.3l.9 2M469 495.6l0-2.7M582.3 685.6l-1.4-3.9M534 540.1l-3.1-2.8M439.5 866.4l.1 1.2M268.3 859.3l-.1-1.3M551.6 775.5l0 1.5M495.8 831.2l-.2 1.4M560.3 757.4l0 2.4M335.7 881.4l.4-2.2M395.9 881.5l.8-2.2M474.2 848.8l.2-.7M535.2 794.8l0-.7M471.7 495.2l.2-1.1M267 508.1l1 .5M312.5 873.7l1.4 2.9M578.5 704.2l-1.2-3.9M465.1 493.1l-1.3-2.8M228.9 539.6l9.6-2.1 9.5-1.3 9.2-.4 9.7 .4 8.7 1.3 9 2.1 8.6 3 8.1 3.7 7.7 4.5 7.1 5.2 6.7 5.9 6.6 6.9 6 7.6 5.4 8.2 9 18 5.2 14.9 4.1 15.7 3 17.2 2 18.6 1 21.2-.1 23-4.7 83.8-.3 30.6 1 16.5 2.1 14.5 3.2 13.4 4.4 12.1M436.1 869l0 .5M300.2 490.5l-.9 1.7M176.3 727.7l-.7 4M496.7 510.2l2.1-.9M180 749.1h0M474.4 848.2h0M197.7 789.8h0M582.9 680.2h0M582.8 682.9h0M505.7 513.6h0M582.6 656.3h0M259.5 512.9h0M252.1 850.9h0M514.4 520.6h0M325 879.3h0M170.2 688.6h0M580.3 634.8h0M578.6 627.8h0M216.2 817.3h0M453.4 860.7h0"/></g><g fill="none" stroke-width="2.2" stroke-linecap="round" stroke-linejoin="round" shape-rendering="crispEdges"><path stroke="#ff0000" d="M215.2 815.7l-2.1-19-1.2-18.8-.2-17.4 .8-17.4 1.8-16.7 2.9-16.5 3.8-15.4 4.9-15.1M228.4 672.8l1.6-3.6M230.9 667l2.3-4.9M236.3 655.8l2.6-4.8M502 777l-1.1 23.3-2.5 28"/><path stroke="#ff8e00" d="M226.2 678.7l1.9-5.2M230.3 668.5l.3-.8M233.5 661.4l2.5-4.9M239.3 650.4l9.4-15M252.8 629.9l9.8-11.4 10.1-9.9M501.4 747l.6 29.2M500.9 740.2h0"/><path stroke="#e3ff00" d="M249.2 634.8l3.1-4.3M273.2 608.1l12.7-10 13.5-8.3 14.2-6.6 14.1-4.6M333.8 577.2l10.3-1.7 11-.8M361.4 574.6l4.8 .2M492.6 692.9l2.8 11.1M496.2 707.7l2.8 15.8 1.8 15.9M500.9 740.9l.4 5.3"/><path stroke="#55ff00" d="M328.3 578.4l4.8-1.1M355.8 574.6l4.9 0M366.9 574.9l9.6 1 10.1 2 10 2.9 9.7 3.7 9.4 4.5 9 5.3 8.7 6 8.3 6.7M446.4 611.4l7.4 7.8 7.4 8.9 12.6 19 10.5 21.5 8.1 23.6M495.5 704.8l.5 2.2"/><path stroke="#00ff39" d="M442.2 607.5l3.7 3.4"/><path stroke="#000" d="M498.3 829l-.1 1.4"/></g>
<circle cx="382" cy="685.5" r="212.5" fill="none" stroke="#000" stroke-width="4.6"/>
<rect x="38" y="349" width="15.5" height="15.8" fill="#000"/>
<rect x="35.2" y="387.2" width="158" height="22.6" fill="url(#rb)"/>
<path d="M52.8,409.8v-2.6M70.3,409.8v-4.2M87.9,409.8v-2.6M105.4,409.8v-4.2M123.0,409.8v-2.6M140.5,409.8v-4.2M158.1,409.8v-2.6M175.6,409.8v-4.2" stroke="#000" stroke-width="1.8" fill="none"/>
<rect x="35.2" y="387.2" width="158" height="22.6" fill="none" stroke="#000" stroke-width="4.4" rx="1"/>
<rect x="43" y="1" width="11" height="111.5" fill="#1f2d6e"/><rect x="54" y="1" width="11.6" height="111.5" fill="#d62c38"/><rect x="54" y="28.8" width="11.6" height="55.8" fill="#fff200"/><polygon points="49.4,35.4 50.2,37.6 52.5,37.7 50.7,39.1 51.3,41.4 49.4,40.1 47.5,41.4 48.1,39.1 46.3,37.7 48.6,37.6" fill="#f6d542"/><polygon points="47.3,55.0 48.1,57.2 50.4,57.3 48.6,58.7 49.2,61.0 47.3,59.7 45.4,61.0 46.0,58.7 44.2,57.3 46.5,57.2" fill="#f6d542"/><polygon points="49.4,73.7 50.2,75.9 52.5,76.0 50.7,77.4 51.3,79.7 49.4,78.4 47.5,79.7 48.1,77.4 46.3,76.0 48.6,75.9" fill="#f6d542"/><rect x="65.6" y="1" width="209.6" height="111.5" fill="#ffc72e"/><rect x="275.2" y="1" width="3.2" height="111.5" fill="#fff3c9"/><rect x="278.4" y="1" width="117" height="111.5" fill="#ffc72e"/><rect x="395.4" y="1" width="152.6" height="12" fill="#e8e8e8"/><g><rect x="87.5" y="48" width="6.4" height="36" fill="#dcdcdc" stroke="#8d8d8d" stroke-width="0.6"/><rect x="86.3" y="44" width="8.8" height="4.6" fill="#c9a227"/><rect x="86.1" y="82" width="9.2" height="5" fill="#b8a12f"/><rect x="84.9" y="87" width="11.6" height="5.6" fill="#3d7fc0"/><path d="M86.1,43.5q4.6,-6 9.2,0z" fill="#7a2230"/><rect x="146.5" y="48" width="6.4" height="36" fill="#dcdcdc" stroke="#8d8d8d" stroke-width="0.6"/><rect x="145.3" y="44" width="8.8" height="4.6" fill="#c9a227"/><rect x="145.1" y="82" width="9.2" height="5" fill="#b8a12f"/><rect x="143.9" y="87" width="11.6" height="5.6" fill="#3d7fc0"/><path d="M145.1,43.5q4.6,-6 9.2,0z" fill="#7a2230"/><path d="M84.5,59.5c4,-2.5 9,-2.5 14,-0.5l0,4c-5,-2 -9,-1.5 -13,0.5zM84.5,63c2,6 8,4 11.5,8.5l-2.2,3.6c-4,-4 -9,-3 -10.3,-9z" fill="#d62c38"/><path d="M156.5,59.5c-4,-2.5 -9,-2.5 -14,-0.5l0,4c5,-2 9,-1.5 13,0.5zM156.5,63c-2,6 -8,4 -11.5,8.5l2.2,3.6c4,-4 9,-3 10.3,-9z" fill="#d62c38"/><path d="M100,44h39.6v31c0,12 -9,17 -19.8,18.6c-10.8,-1.6 -19.8,-6.6 -19.8,-18.6z" fill="#d62c38"/><path d="M119.8,44h19.8v23h-19.8z" fill="#dfe0e4"/><path d="M100,67h19.8v26.6c-10.8,-1.6 -19.8,-6.6 -19.8,-18.6z" fill="#f2c32c"/><path d="M102.6,67v18M107,67v22.5M111.4,67v25M115.8,67v26" stroke="#d62c38" stroke-width="2.1" fill="none"/><circle cx="130" cy="79" r="7.6" fill="none" stroke="#f2c32c" stroke-width="1.6"/><path d="M130,71.5v15M122.5,79h15M124.7,73.7l10.6,10.6M135.3,73.7l-10.6,10.6" stroke="#f2c32c" stroke-width="1.1"/><path d="M105.5,63v-9l1.8,-2.5v-3h1.4l1,-2l1,2h1.4v3l1.8,2.5v9z" fill="#e8b828"/><path d="M124,52c2,-3 5,-4 8,-3c1.5,-1 3,0 2.6,1.6c1.6,2 1,5 -1,6.6l1.5,4.5l-3,-1.2l-2.6,1.6l-0.6,-3.2c-2.4,0 -4.2,-1.6 -4.9,-3.9z" fill="#b04a9c"/><ellipse cx="119.8" cy="67" rx="4.6" ry="5.6" fill="#2f63b5" stroke="#d62c38" stroke-width="0.9"/><path d="M100.5,40c-4.5,-9 -1,-16 7,-17c4,-4.2 20.6,-4.2 24.6,0c8,1 11.5,8 7,17c-12,-3.4 -26.6,-3.4 -38.6,0z" fill="#d62c38" stroke="#c9a227" stroke-width="1.7"/><path d="M101,40.5c12,-3.6 25.6,-3.6 37.6,0l-1.2,4.2c-11.4,-2.8 -23.8,-2.8 -35.2,0z" fill="#c9a227"/><path d="M119.8,22.5v16M110,24.5q-3,8 -1.4,14M129.6,24.5q3,8 1.4,14" stroke="#c9a227" stroke-width="1.6" fill="none"/><path d="M119.8,15.5v6M117.6,17.7h4.4" stroke="#c9a227" stroke-width="1.3"/><circle cx="119.8" cy="22" r="1.9" fill="#c9a227"/></g><path d="M476,46l8,-5l3,2l5,-4l2,4l5,-2l-1,4l8,-1l-5,5l9,0l-7,5l13,4l-11,3l4,3l-9,2l2,4l-8,0l-1,5l-6,-3l-4,5l-3,-5l-6,0l2,-6l-4,-4l4,-5l-3,-5l4,-2z" fill="#c8237f"/><path d="M474.5,47c-2.5,4 1,6 -1,10c-2,3 -3,6 -1,9c2,3 5,2 6,5.5c1,3.5 5,3.5 7,0.5c2,-3 5,0.5 8,-0.5c3,-1 4,-4 7,-5M476,45.5c2,-2.5 5,-2 7,-4M503,58c2.5,0 4,-1.5 5,-4M507,62l2,1.2" stroke="#2450a8" stroke-width="1.1" fill="none"/><path d="M509,72c-3,-1 -5,2 -3,4c1,1 3,0 4,-1M512,70c0,2 -1,4 -1,5c1,-3 3,-5 5,-5c1,1 0,3 0,4M520,68c0,2 -1,4 0,5M521,64.5v0.6M529,65c-3,-1 -5,2 -3.5,3.6c1.6,1 3.5,-1 3.8,-3.4c0.4,3 0.6,7 -1,9.4c-1.6,2 -4,1 -3.6,-1M508,82c5,-3 9,-5 14,-6.5" stroke="#2450a8" stroke-width="1.5" fill="none" stroke-linecap="round"/><path d="M948,4.4H1402M948.7,111.1H1404" stroke="#0a0a0a" stroke-width="2.6" fill="none"/>
</svg>
<div class="t" style="left:1397.7px;top:493.6px;font-size:22px;transform:translateX(-100%);">0</div>
<div class="t" style="left:1397.7px;top:454.2px;font-size:22px;transform:translateX(-100%);">5</div>
<div class="t" style="left:1397.7px;top:414.8px;font-size:22px;transform:translateX(-100%);">10</div>
<div class="t" style="left:1397.7px;top:375.5px;font-size:22px;transform:translateX(-100%);">15</div>
<div class="t" style="left:1397.7px;top:336.1px;font-size:22px;transform:translateX(-100%);">20</div>
<div class="t" style="left:1397.7px;top:296.7px;font-size:22px;transform:translateX(-100%);">25</div>
<div class="t" style="left:1397.7px;top:257.3px;font-size:22px;transform:translateX(-100%);">30</div>
<div class="t" style="left:1397.7px;top:218.0px;font-size:22px;transform:translateX(-100%);">35</div>
<div class="t" style="left:1397.7px;top:178.6px;font-size:22px;transform:translateX(-100%);">40</div>
<div class="t" style="left:736.0px;top:509.6px;font-size:22px;transform:translateX(-50%);">0</div>
<div class="t" style="left:814.8px;top:509.6px;font-size:22px;transform:translateX(-50%);">3</div>
<div class="t" style="left:893.5px;top:509.6px;font-size:22px;transform:translateX(-50%);">6</div>
<div class="t" style="left:972.2px;top:509.6px;font-size:22px;transform:translateX(-50%);">9</div>
<div class="t" style="left:1051.0px;top:509.6px;font-size:22px;transform:translateX(-50%);">12</div>
<div class="t" style="left:1129.8px;top:509.6px;font-size:22px;transform:translateX(-50%);">15</div>
<div class="t" style="left:1208.5px;top:509.6px;font-size:22px;transform:translateX(-50%);">18</div>
<div class="t" style="left:1287.2px;top:509.6px;font-size:22px;transform:translateX(-50%);">21</div>
<div class="t" style="left:1366.0px;top:509.6px;font-size:22px;transform:translateX(-50%);">24</div>
<div class="t" style="left:1428.5px;top:331.4px;font-size:22px;transform-origin:0 18.6px;transform:rotate(-90deg) translateX(-50%);">Número de satélites</div>
<div class="t" style="left:1205.6px;top:200.5px;font-size:13.4px;letter-spacing:0.35px;">GNSS predichos</div>
<div class="t" style="left:1205.6px;top:215.3px;font-size:13.4px;letter-spacing:0.35px;">GNSS captados L1</div>
<div class="t" style="left:1205.6px;top:230.8px;font-size:13.4px;letter-spacing:0.35px;">GNSS captados L1 y L2</div>
<div class="t" style="left:1411.7px;top:887.1px;font-size:22px;transform:translateX(-100%);">0</div>
<div class="t" style="left:1411.7px;top:834.6px;font-size:22px;transform:translateX(-100%);">60</div>
<div class="t" style="left:1411.7px;top:782.1px;font-size:22px;transform:translateX(-100%);">120</div>
<div class="t" style="left:1411.7px;top:729.6px;font-size:22px;transform:translateX(-100%);">180</div>
<div class="t" style="left:1411.7px;top:677.1px;font-size:22px;transform:translateX(-100%);">240</div>
<div class="t" style="left:1411.7px;top:624.6px;font-size:22px;transform:translateX(-100%);">300</div>
<div class="t" style="left:1411.7px;top:572.1px;font-size:22px;transform:translateX(-100%);">360</div>
<div class="t" style="left:736.0px;top:903.1px;font-size:22px;transform:translateX(-50%);">0</div>
<div class="t" style="left:814.8px;top:903.1px;font-size:22px;transform:translateX(-50%);">3</div>
<div class="t" style="left:893.5px;top:903.1px;font-size:22px;transform:translateX(-50%);">6</div>
<div class="t" style="left:972.2px;top:903.1px;font-size:22px;transform:translateX(-50%);">9</div>
<div class="t" style="left:1051.0px;top:903.1px;font-size:22px;transform:translateX(-50%);">12</div>
<div class="t" style="left:1129.8px;top:903.1px;font-size:22px;transform:translateX(-50%);">15</div>
<div class="t" style="left:1208.5px;top:903.1px;font-size:22px;transform:translateX(-50%);">18</div>
<div class="t" style="left:1287.2px;top:903.1px;font-size:22px;transform:translateX(-50%);">21</div>
<div class="t" style="left:1366.0px;top:903.1px;font-size:22px;transform:translateX(-50%);">24</div>
<div class="t" style="left:1441.0px;top:721.9px;font-size:22px;transform-origin:0 18.6px;transform:rotate(-90deg) translateX(-50%);">Azimut (grados)</div>
<div class="t" style="left:1398.2px;top:1281.1px;font-size:22px;transform:translateX(-100%);">0</div>
<div class="t" style="left:1398.2px;top:1228.6px;font-size:22px;transform:translateX(-100%);">15</div>
<div class="t" style="left:1398.2px;top:1176.1px;font-size:22px;transform:translateX(-100%);">30</div>
<div class="t" style="left:1398.2px;top:1123.6px;font-size:22px;transform:translateX(-100%);">45</div>
<div class="t" style="left:1398.2px;top:1071.1px;font-size:22px;transform:translateX(-100%);">60</div>
<div class="t" style="left:1398.2px;top:1018.6px;font-size:22px;transform:translateX(-100%);">75</div>
<div class="t" style="left:1398.2px;top:966.1px;font-size:22px;transform:translateX(-100%);">90</div>
<div class="t" style="left:736.0px;top:1297.1px;font-size:22px;transform:translateX(-50%);">0</div>
<div class="t" style="left:814.8px;top:1297.1px;font-size:22px;transform:translateX(-50%);">3</div>
<div class="t" style="left:893.5px;top:1297.1px;font-size:22px;transform:translateX(-50%);">6</div>
<div class="t" style="left:972.2px;top:1297.1px;font-size:22px;transform:translateX(-50%);">9</div>
<div class="t" style="left:1051.0px;top:1297.1px;font-size:22px;transform:translateX(-50%);">12</div>
<div class="t" style="left:1129.8px;top:1297.1px;font-size:22px;transform:translateX(-50%);">15</div>
<div class="t" style="left:1208.5px;top:1297.1px;font-size:22px;transform:translateX(-50%);">18</div>
<div class="t" style="left:1287.2px;top:1297.1px;font-size:22px;transform:translateX(-50%);">21</div>
<div class="t" style="left:1366.0px;top:1297.1px;font-size:22px;transform:translateX(-50%);">24</div>
<div class="t" style="left:1428.5px;top:1115.9px;font-size:22px;transform-origin:0 18.6px;transform:rotate(-90deg) translateX(-50%);">Elevación (grados)</div>
<div class="t" style="left:1051.0px;top:1325.4px;font-size:22px;transform:translateX(-50%);">Tiempo (horas)</div>
<div class="t" style="left:58.5px;top:1281.1px;font-size:22px;transform:translateX(-100%);">0</div>
<div class="t" style="left:58.5px;top:1228.6px;font-size:22px;transform:translateX(-100%);">15</div>
<div class="t" style="left:58.5px;top:1176.1px;font-size:22px;transform:translateX(-100%);">30</div>
<div class="t" style="left:58.5px;top:1123.6px;font-size:22px;transform:translateX(-100%);">45</div>
<div class="t" style="left:58.5px;top:1071.1px;font-size:22px;transform:translateX(-100%);">60</div>
<div class="t" style="left:58.5px;top:1018.6px;font-size:22px;transform:translateX(-100%);">75</div>
<div class="t" style="left:58.5px;top:966.1px;font-size:22px;transform:translateX(-100%);">90</div>
<div class="t" style="left:67.0px;top:1297.1px;font-size:22px;transform:translateX(-50%);">0</div>
<div class="t" style="left:119.5px;top:1297.1px;font-size:22px;transform:translateX(-50%);">30</div>
<div class="t" style="left:172.0px;top:1297.1px;font-size:22px;transform:translateX(-50%);">60</div>
<div class="t" style="left:224.5px;top:1297.1px;font-size:22px;transform:translateX(-50%);">90</div>
<div class="t" style="left:277.0px;top:1297.1px;font-size:22px;transform:translateX(-50%);">120</div>
<div class="t" style="left:329.5px;top:1297.1px;font-size:22px;transform:translateX(-50%);">150</div>
<div class="t" style="left:382.0px;top:1297.1px;font-size:22px;transform:translateX(-50%);">180</div>
<div class="t" style="left:434.5px;top:1297.1px;font-size:22px;transform:translateX(-50%);">210</div>
<div class="t" style="left:487.0px;top:1297.1px;font-size:22px;transform:translateX(-50%);">240</div>
<div class="t" style="left:539.5px;top:1297.1px;font-size:22px;transform:translateX(-50%);">270</div>
<div class="t" style="left:592.0px;top:1297.1px;font-size:22px;transform:translateX(-50%);">300</div>
<div class="t" style="left:644.5px;top:1297.1px;font-size:22px;transform:translateX(-50%);">330</div>
<div class="t" style="left:697.0px;top:1297.1px;font-size:22px;transform:translateX(-50%);">360</div>
<div class="t" style="left:21.0px;top:1115.9px;font-size:22px;transform-origin:0 18.6px;transform:rotate(-90deg) translateX(-50%);">Elevación (grados)</div>
<div class="t" style="left:382.0px;top:1325.4px;font-size:22px;transform:translateX(-50%);">Azimut (grados)</div>
<div class="t" style="left:383.8px;top:445.1px;font-size:22px;transform:translateX(-50%);">Norte</div>
<div class="t" style="left:379.4px;top:907.3px;font-size:22px;transform:translateX(-50%);">Sur</div>
<div class="t" style="left:98.2px;top:669.2px;font-size:22px;">Oeste</div>
<div class="t" style="left:602.9px;top:669.2px;font-size:22px;">Este</div>
<div class="t" style="left:384.6px;top:519.3px;font-size:22px;">30</div>
<div class="t" style="left:384.6px;top:588.9px;font-size:22px;">60</div>
<div class="t" style="left:26.3px;top:181.1px;font-size:28.17px;transform-origin:0 23.8px;transform:scaleY(1.05);">CONTROL DE CALIDAD GNSS DIARIO</div>
<div class="t" style="left:26.3px;top:217.9px;font-size:22.3px;">Estación: LPAL</div>
<div class="t" style="left:26.6px;top:249.5px;font-size:22.3px;">Fecha: 2019 06 03</div>
<div class="t" style="left:26.6px;top:280.7px;font-size:22.3px;">Día del año: 154</div>
<div class="t" style="left:58.3px;top:347.7px;font-size:21.6px;">Sólo L1</div>
<div class="t" style="left:200.4px;top:386.7px;font-size:22px;">Relación señal/ruido en L2</div>
<div class="t" style="left:35.2px;top:416.9px;font-size:19.5px;transform:translateX(-50%);">0</div>
<div class="t" style="left:70.3px;top:416.9px;font-size:19.5px;transform:translateX(-50%);">2</div>
<div class="t" style="left:105.4px;top:416.9px;font-size:19.5px;transform:translateX(-50%);">4</div>
<div class="t" style="left:140.5px;top:416.9px;font-size:19.5px;transform:translateX(-50%);">6</div>
<div class="t" style="left:175.6px;top:416.9px;font-size:19.5px;transform:translateX(-50%);">8</div>
<div class="t" style="left:173.0px;top:43.5px;font-size:12.6px;color:#3b3a1e;">GOBIERNO</div>
<div class="t" style="left:173.0px;top:57.6px;font-size:12.6px;letter-spacing:-0.5px;color:#3b3a1e;">DE ESPAÑA</div>
<div class="t" style="left:288.2px;top:43.1px;font-size:12.2px;letter-spacing:-0.85px;color:#3b3a1e;">MINISTERIO</div>
<div class="t" style="left:288.2px;top:57.1px;font-size:12.2px;letter-spacing:-0.7px;color:#3b3a1e;">DE FOMENTO</div>
<div class="t" style="left:399.3px;top:41.7px;font-size:9.0px;letter-spacing:-0.4px;color:#3a3a3a;">INSTITUTO</div>
<div class="t" style="left:399.3px;top:53.1px;font-size:9.0px;letter-spacing:-0.55px;color:#3a3a3a;">GEOGRÁFICO</div>
<div class="t" style="left:399.3px;top:64.2px;font-size:9.0px;letter-spacing:-0.45px;color:#3a3a3a;">NACIONAL</div>
<div class="t" style="left:1050.5px;top:26.5px;font-size:27.2px;letter-spacing:2.4px;">Área de Geodesia</div>
<div class="t" style="left:960.6px;top:63.2px;font-size:18.4px;letter-spacing:0.83px;">Subdirección General de Geodesia y Cartografía</div>
</body></html>
